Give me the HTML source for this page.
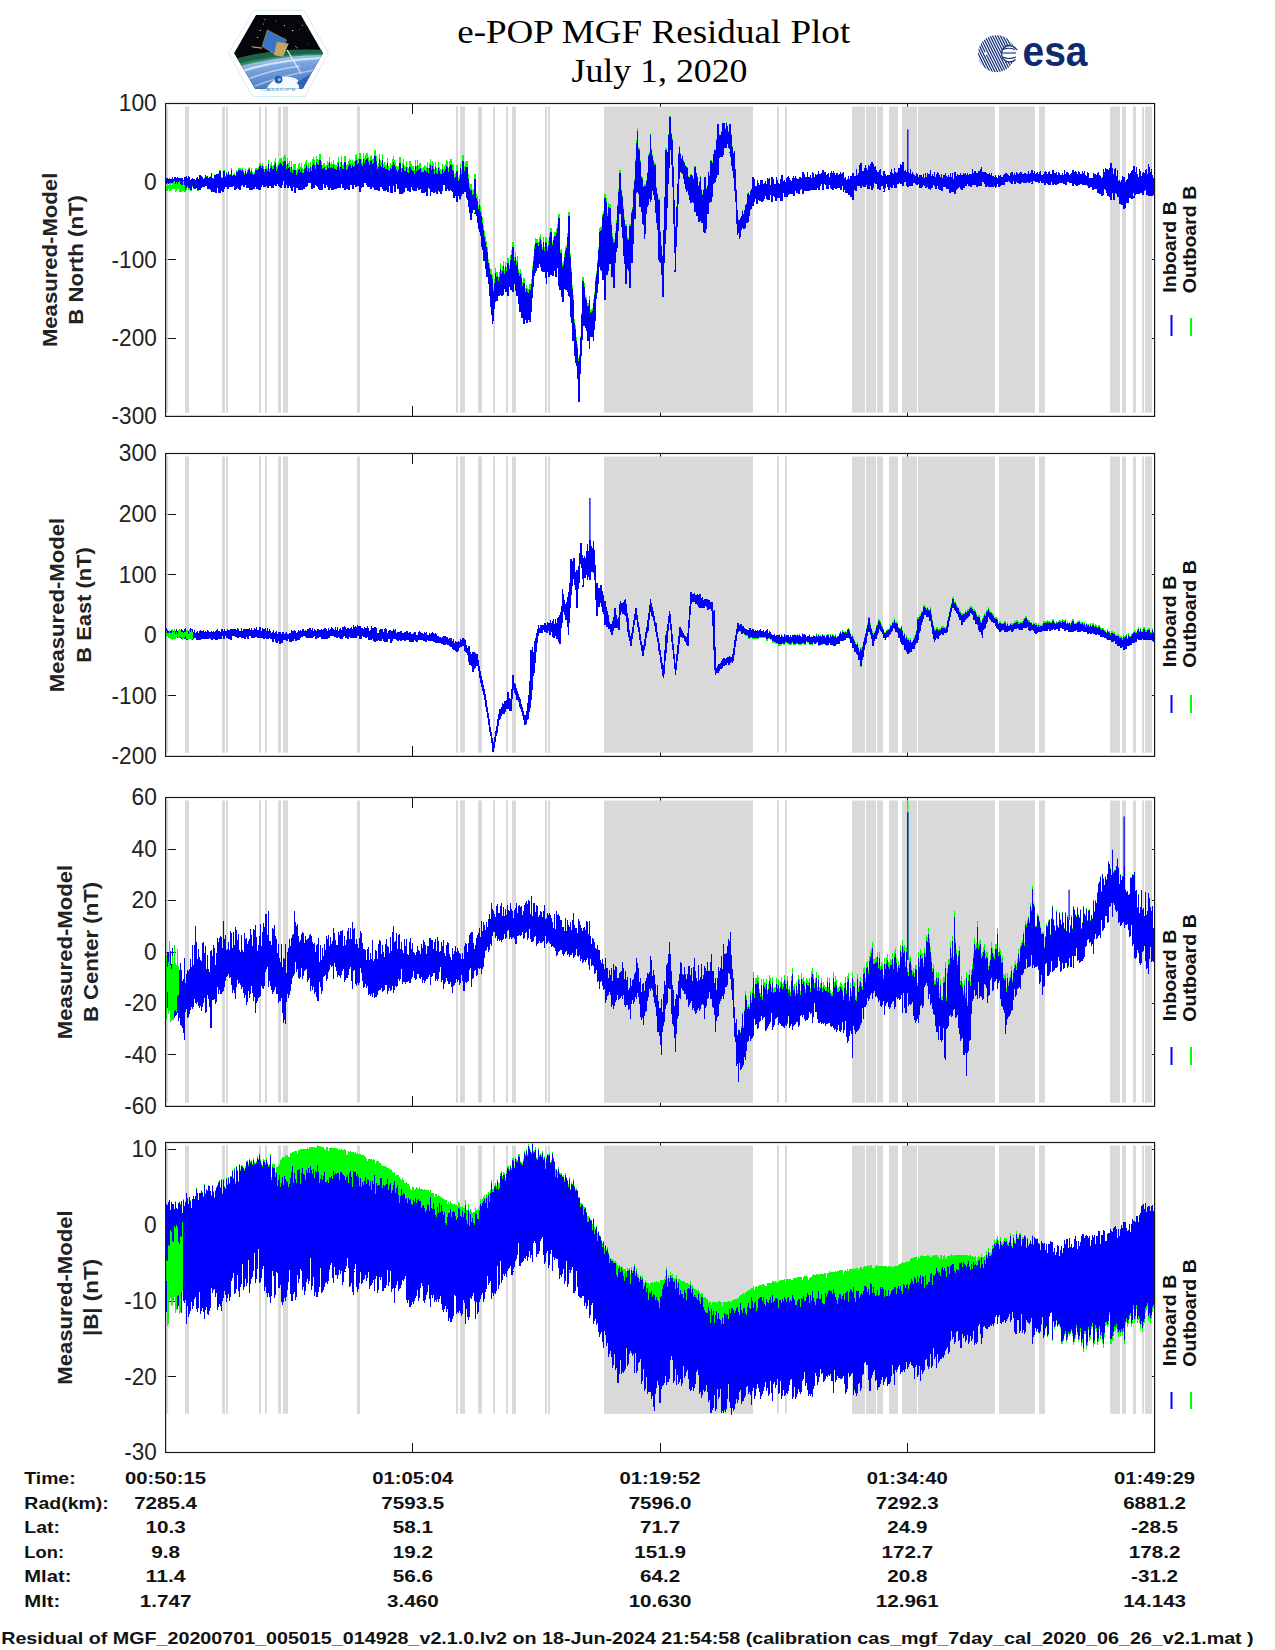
<!DOCTYPE html><html><head><meta charset="utf-8"><style>html,body{margin:0;padding:0;background:#fff;}svg{display:block}</style></head><body>
<svg width="1275" height="1650" viewBox="0 0 1275 1650">
<rect width="1275" height="1650" fill="#fff"/>

<defs>
<clipPath id="hexin"><path d="M256 14.9 L300.9 14.9 L322.9 53.3 L302.7 88.7 L255.2 88.7 L234.1 53.3 Z"/></clipPath>
<clipPath id="esac"><circle cx="996.5" cy="53.7" r="18.5"/></clipPath>
<linearGradient id="earth" x1="0" y1="0" x2="0.3" y2="1">
<stop offset="0" stop-color="#cfe0f6"/><stop offset="0.4" stop-color="#7aa6de"/><stop offset="1" stop-color="#3a6fc0"/></linearGradient>
</defs>
<path d="M253.5 10.35 L304 10.35 L328.5 53.3 L304.8 96.5 L252.6 96.5 L228.5 53.3 Z" fill="#fff" stroke="#a9dbe8" stroke-width="0.9" stroke-dasharray="1.2 0.9"/>
<g clip-path="url(#hexin)">
<rect x="230" y="12" width="96" height="80" fill="#05060c"/>
<circle cx="276.0" cy="20.8" r="0.63" fill="#fff" opacity="0.44"/><circle cx="289.8" cy="27.7" r="0.33" fill="#fff" opacity="0.70"/><circle cx="257.4" cy="29.9" r="0.33" fill="#fff" opacity="0.45"/><circle cx="282.6" cy="42.5" r="0.36" fill="#fff" opacity="0.53"/><circle cx="295.8" cy="46.3" r="0.59" fill="#fff" opacity="0.64"/><circle cx="318.5" cy="17.5" r="0.73" fill="#fff" opacity="0.57"/><circle cx="264.4" cy="19.8" r="0.45" fill="#fff" opacity="0.89"/><circle cx="266.7" cy="34.6" r="0.62" fill="#fff" opacity="0.62"/><circle cx="290.6" cy="18.0" r="0.33" fill="#fff" opacity="0.52"/><circle cx="299.2" cy="29.7" r="0.46" fill="#fff" opacity="0.75"/><circle cx="284.5" cy="25.6" r="0.70" fill="#fff" opacity="0.82"/><circle cx="270.9" cy="34.4" r="0.56" fill="#fff" opacity="0.93"/><circle cx="302.4" cy="25.2" r="0.79" fill="#fff" opacity="0.47"/><circle cx="282.2" cy="40.2" r="0.38" fill="#fff" opacity="0.69"/><circle cx="257.5" cy="37.4" r="0.68" fill="#fff" opacity="0.74"/><circle cx="311.9" cy="26.0" r="0.65" fill="#fff" opacity="0.76"/><circle cx="292.7" cy="30.6" r="0.72" fill="#fff" opacity="0.97"/><circle cx="285.8" cy="37.3" r="0.33" fill="#fff" opacity="0.82"/><circle cx="297.1" cy="47.8" r="0.71" fill="#fff" opacity="0.57"/><circle cx="280.1" cy="37.4" r="0.31" fill="#fff" opacity="0.68"/><circle cx="265.9" cy="19.7" r="0.33" fill="#fff" opacity="0.86"/><circle cx="263.4" cy="23.9" r="0.50" fill="#fff" opacity="0.92"/><circle cx="260.2" cy="30.4" r="0.57" fill="#fff" opacity="0.93"/><circle cx="308.3" cy="43.6" r="0.44" fill="#fff" opacity="0.65"/><circle cx="278.3" cy="44.3" r="0.78" fill="#fff" opacity="0.49"/>
<path d="M230 60 Q275 47 326 50 L326 57 Q275 55 230 70 Z" fill="#1d6e4c" opacity="0.9"/>
<path d="M230 66 Q276 53 326 53.5 L326 56.5 Q276 57 230 71 Z" fill="#3aa070" opacity="0.7"/>
<path d="M230 69 Q276 55 326 55 L326 95 L230 95 Z" fill="url(#earth)"/>
<path d="M240 72 Q275 60 322 58" stroke="#eef5ff" stroke-width="2.2" fill="none" opacity="0.75"/>
<path d="M246 80 Q270 70 300 66" stroke="#e6effa" stroke-width="1.6" fill="none" opacity="0.6"/>
<path d="M255 86 Q280 76 315 70" stroke="#dfe9f8" stroke-width="1.4" fill="none" opacity="0.55"/>
<path d="M266 90 Q270 80 282 77 Q292 76 298 80 L300 95 L262 95 Z" fill="#f7fafd"/>
<path d="M296.6 82.7 L310.4 74 L302.7 89 Z" fill="#2c62b8"/>
<path d="M287.1 49.9 L300.9 73.2" stroke="#e8eef6" stroke-width="1.1"/>
<path d="M267.3 30 L286.7 40 L277.6 55.9 L262.1 46.4 Z" fill="#3a74c6" stroke="#c79a45" stroke-width="0.6"/>
<path d="M276.8 42.1 L288.8 43.5 L283 56.8 L274 55 Z" fill="#c8a466"/>
<path d="M251.7 46.8 L262.1 48.1" stroke="#d49a3a" stroke-width="1.1"/>
<circle cx="278.5" cy="79.6" r="3.9" fill="#1f5db0"/>
<circle cx="279.3" cy="79.6" r="1.6" fill="#8fc0ec"/>
</g>
<text x="278.5" y="90.6" text-anchor="middle" font-family="Liberation Sans" font-size="4.4" fill="#2a9fd6" textLength="35" lengthAdjust="spacingAndGlyphs">CASSIOPE</text>
<g clip-path="url(#esac)" stroke="#14307a" stroke-width="1.25" fill="none"><path d="M958.5 30 L982.5 78" /><path d="M961.1 30 L985.1 78" /><path d="M963.7 30 L987.7 78" /><path d="M966.3 30 L990.3 78" /><path d="M968.9 30 L992.9 78" /><path d="M971.5 30 L995.5 78" /><path d="M974.1 30 L998.1 78" /><path d="M976.7 30 L1000.7 78" /><path d="M979.3 30 L1003.3 78" /><path d="M981.9 30 L1005.9 78" /><path d="M984.5 30 L1008.5 78" /><path d="M987.1 30 L1011.1 78" /><path d="M989.7 30 L1013.7 78" /><path d="M992.3 30 L1016.3 78" /><path d="M994.9 30 L1018.9 78" /><path d="M997.5 30 L1021.5 78" /><path d="M1000.1 30 L1024.1 78" /><path d="M1002.7 30 L1026.7 78" /><path d="M1005.3 30 L1029.3 78" /><path d="M1007.9 30 L1031.9 78" /></g>
<circle cx="1009" cy="54" r="7.8" fill="#fff"/>
<g stroke="#14307a" stroke-width="1.1" fill="none">
<path d="M1003 49.5 Q1009 47 1015 49.5"/><path d="M1002 53 h14"/><path d="M1002.5 57 Q1009 60 1016 57"/>
</g>
<path d="M1017 50 A8.2 8.2 0 1 0 1015.5 59.5" stroke="#14307a" stroke-width="1.3" fill="none"/>
<circle cx="985.5" cy="53.5" r="1.6" fill="#fff"/>
<text x="1022.5" y="65.6" font-family="Liberation Sans" font-weight="bold" font-size="43" textLength="65" lengthAdjust="spacingAndGlyphs" fill="#0f2a6e">esa</text>

<text x="653.7" y="43.1" text-anchor="middle" font-family="Liberation Serif" font-size="33" textLength="393" lengthAdjust="spacingAndGlyphs" fill="#000">e-POP MGF Residual Plot</text>
<text x="659.5" y="82.3" text-anchor="middle" font-family="Liberation Serif" font-size="33" textLength="176" lengthAdjust="spacingAndGlyphs" fill="#000">July 1, 2020</text>
<path d="M165.6 103.5h10M1154.6 103.5h-10M165.6 181.7h10M1154.6 181.7h-10M165.6 259.9h10M1154.6 259.9h-10M165.6 338.2h10M1154.6 338.2h-10M165.6 416.4h10M1154.6 416.4h-10M412.8 416.4v-10M412.8 103.5v10M660.1 416.4v-10M660.1 103.5v10M907.3 416.4v-10M907.3 103.5v10" stroke="#111" stroke-width="1" fill="none" shape-rendering="crispEdges"/>
<g fill="#d9d9d9"><rect x="166.5" y="106.5" width="1.7" height="306.2"/><rect x="185.0" y="106.5" width="4.0" height="306.2"/><rect x="222.0" y="106.5" width="3.0" height="306.2"/><rect x="226.0" y="106.5" width="2.0" height="306.2"/><rect x="259.0" y="106.5" width="2.0" height="306.2"/><rect x="265.0" y="106.5" width="2.0" height="306.2"/><rect x="278.0" y="106.5" width="3.0" height="306.2"/><rect x="283.0" y="106.5" width="5.0" height="306.2"/><rect x="357.0" y="106.5" width="3.0" height="306.2"/><rect x="456.0" y="106.5" width="2.0" height="306.2"/><rect x="460.0" y="106.5" width="5.0" height="306.2"/><rect x="478.0" y="106.5" width="4.0" height="306.2"/><rect x="493.0" y="106.5" width="2.0" height="306.2"/><rect x="506.0" y="106.5" width="2.0" height="306.2"/><rect x="512.0" y="106.5" width="4.0" height="306.2"/><rect x="545.0" y="106.5" width="2.0" height="306.2"/><rect x="548.0" y="106.5" width="2.0" height="306.2"/><rect x="604.0" y="106.5" width="149.0" height="306.2"/><rect x="777.0" y="106.5" width="2.0" height="306.2"/><rect x="785.0" y="106.5" width="2.0" height="306.2"/><rect x="852.0" y="106.5" width="13.0" height="306.2"/><rect x="866.0" y="106.5" width="10.0" height="306.2"/><rect x="877.0" y="106.5" width="6.0" height="306.2"/><rect x="889.0" y="106.5" width="9.0" height="306.2"/><rect x="902.0" y="106.5" width="15.0" height="306.2"/><rect x="918.0" y="106.5" width="77.0" height="306.2"/><rect x="999.0" y="106.5" width="36.0" height="306.2"/><rect x="1039.0" y="106.5" width="6.0" height="306.2"/><rect x="1110.0" y="106.5" width="10.0" height="306.2"/><rect x="1122.0" y="106.5" width="4.0" height="306.2"/><rect x="1133.0" y="106.5" width="3.0" height="306.2"/><rect x="1142.0" y="106.5" width="2.0" height="306.2"/><rect x="1145.0" y="106.5" width="7.0" height="306.2"/></g>
<path d="M166.0 182.4 L166.5 177.9 L167.0 183.8 L167.5 177.8 L168.0 182.3 L168.5 179.4 L169.0 184.3 L169.5 178.7 L170.0 182.5 L170.5 179.0 L171.0 183.5 L171.5 178.9 L172.0 183.4 L172.5 177.3 L173.0 183.6 L173.5 179.2 L174.0 183.9 L174.5 178.7 L175.0 184.6 L175.0 177.0 L175.0 184.2 L175.5 178.0 L176.0 184.8 L176.5 177.8 L177.0 184.6 L177.5 177.2 L178.0 184.2 L178.5 178.2 L179.0 186.8 L179.5 178.5 L180.0 187.4 L180.5 178.1 L181.0 188.2 L181.5 177.9 L182.0 187.4 L182.5 178.4 L183.0 188.6 L183.5 180.2 L184.0 189.2 L184.5 180.8 L185.0 191.6 L185.0 176.5 L185.0 187.4 L185.5 178.0 L186.0 189.8 L186.5 176.0 L187.0 186.6 L187.5 178.3 L188.0 187.1 L188.5 176.3 L189.0 189.6 L189.5 177.7 L190.0 188.8 L190.5 180.1 L191.0 190.9 L191.5 179.8 L192.0 186.5 L192.5 177.7 L193.0 186.4 L193.5 179.0 L194.0 188.5 L194.5 178.8 L195.0 189.0 L195.5 180.3 L196.0 188.2 L196.5 178.0 L197.0 188.0 L197.5 177.3 L198.0 190.6 L198.5 179.1 L199.0 187.0 L199.5 175.4 L200.0 190.0 L200.0 175.0 L200.0 190.1 L200.5 179.6 L201.0 188.4 L201.5 175.6 L202.0 187.0 L202.5 177.4 L203.0 186.1 L203.5 179.3 L204.0 186.8 L204.5 178.4 L205.0 184.9 L205.5 175.1 L206.0 185.8 L206.5 176.4 L207.0 185.8 L207.5 175.7 L208.0 188.6 L208.5 178.0 L209.0 188.5 L209.5 177.0 L210.0 188.7 L210.5 176.4 L211.0 189.5 L211.5 172.6 L212.0 191.6 L212.5 177.9 L213.0 186.3 L213.5 178.5 L214.0 192.3 L214.5 174.5 L215.0 187.6 L215.5 174.7 L216.0 192.5 L216.5 173.8 L217.0 187.3 L217.5 173.7 L218.0 188.0 L218.5 173.0 L219.0 192.6 L219.5 174.2 L220.0 192.8 L220.0 170.4 L220.0 186.1 L220.5 177.0 L221.0 188.5 L221.5 176.8 L222.0 190.8 L222.5 176.9 L223.0 191.5 L223.5 170.0 L224.0 188.8 L224.5 170.0 L225.0 186.2 L225.5 176.2 L226.0 186.7 L226.5 172.0 L227.0 185.7 L227.5 174.2 L228.0 188.4 L228.5 171.2 L229.0 185.9 L229.5 174.0 L230.0 186.4 L230.5 175.5 L231.0 184.2 L231.5 168.4 L232.0 186.7 L232.5 175.3 L233.0 185.8 L233.5 173.9 L234.0 184.7 L234.5 173.2 L235.0 189.4 L235.5 175.0 L236.0 188.6 L236.5 170.4 L237.0 184.9 L237.5 170.6 L238.0 187.7 L238.5 167.8 L239.0 189.2 L239.5 171.1 L240.0 190.0 L240.0 168.0 L240.0 187.6 L240.5 168.0 L241.0 186.0 L241.5 169.2 L242.0 184.8 L242.5 167.9 L243.0 184.7 L243.5 170.2 L244.0 186.2 L244.5 173.4 L245.0 183.5 L245.5 169.0 L246.0 184.7 L246.5 172.6 L247.0 187.5 L247.5 169.8 L248.0 188.2 L248.5 168.4 L249.0 185.8 L249.5 167.2 L250.0 190.3 L250.5 170.6 L251.0 188.3 L251.5 168.5 L252.0 190.3 L252.5 172.0 L253.0 186.7 L253.5 173.2 L254.0 188.9 L254.5 172.1 L255.0 186.4 L255.5 168.1 L256.0 186.6 L256.5 168.1 L257.0 188.8 L257.5 167.7 L258.0 187.7 L258.5 166.9 L259.0 189.8 L259.5 169.3 L260.0 189.7 L260.0 163.3 L260.0 187.8 L260.5 171.2 L261.0 187.0 L261.5 165.1 L262.0 183.1 L262.5 163.4 L263.0 184.1 L263.5 165.7 L264.0 186.3 L264.5 169.1 L265.0 186.1 L265.5 165.6 L266.0 181.7 L266.5 166.0 L267.0 185.1 L267.5 168.2 L268.0 187.7 L268.5 160.1 L269.0 182.6 L269.5 168.8 L270.0 184.8 L270.5 164.1 L271.0 184.3 L271.5 161.7 L272.0 187.3 L272.5 165.8 L273.0 187.5 L273.5 165.4 L274.0 184.1 L274.5 161.2 L275.0 181.9 L275.5 158.3 L276.0 185.1 L276.5 167.3 L277.0 182.7 L277.5 165.3 L278.0 178.1 L278.5 162.0 L279.0 186.0 L279.5 159.2 L280.0 186.5 L280.5 157.9 L281.0 187.3 L281.5 158.5 L282.0 184.7 L282.5 161.2 L283.0 180.0 L283.5 156.7 L284.0 178.6 L284.5 161.4 L285.0 187.7 L285.0 155.0 L285.0 179.2 L285.5 164.7 L286.0 178.9 L286.5 165.2 L287.0 184.3 L287.5 157.7 L288.0 187.6 L288.5 162.8 L289.0 184.9 L289.5 161.4 L290.0 185.2 L290.5 167.1 L291.0 187.5 L291.5 161.3 L292.0 190.5 L292.5 168.9 L293.0 185.9 L293.5 164.4 L294.0 183.8 L294.5 171.4 L295.0 192.8 L295.0 164.0 L295.0 189.9 L295.5 169.4 L296.0 186.1 L296.5 170.2 L297.0 187.3 L297.5 168.0 L298.0 183.3 L298.5 164.3 L299.0 189.7 L299.5 163.0 L300.0 182.8 L300.5 166.8 L301.0 189.7 L301.5 163.2 L302.0 188.9 L302.5 168.5 L303.0 181.8 L303.5 169.1 L304.0 188.6 L304.5 164.0 L305.0 186.1 L305.5 162.3 L306.0 185.4 L306.5 159.6 L307.0 184.9 L307.5 166.5 L308.0 180.2 L308.5 162.9 L309.0 181.4 L309.5 168.3 L310.0 180.8 L310.5 162.0 L311.0 179.6 L311.5 166.9 L312.0 189.0 L312.5 159.5 L313.0 184.6 L313.5 157.2 L314.0 187.2 L314.5 159.7 L315.0 177.8 L315.5 165.1 L316.0 183.4 L316.5 155.8 L317.0 185.1 L317.5 159.2 L318.0 186.8 L318.5 160.5 L319.0 188.8 L319.5 158.5 L320.0 189.7 L320.0 154.0 L320.0 183.9 L320.5 157.6 L321.0 185.4 L321.5 160.6 L322.0 189.4 L322.5 164.6 L323.0 182.6 L323.5 163.4 L324.0 180.9 L324.5 163.0 L325.0 187.2 L325.5 165.9 L326.0 179.5 L326.5 165.5 L327.0 184.0 L327.5 160.9 L328.0 186.7 L328.5 163.4 L329.0 189.9 L329.5 156.7 L330.0 186.9 L330.5 164.1 L331.0 186.1 L331.5 162.3 L332.0 189.7 L332.5 163.8 L333.0 190.1 L333.5 160.2 L334.0 188.8 L334.5 164.2 L335.0 183.6 L335.5 164.9 L336.0 188.5 L336.5 165.4 L337.0 187.6 L337.5 162.2 L338.0 187.5 L338.5 157.2 L339.0 178.6 L339.5 166.0 L340.0 187.4 L340.5 162.3 L341.0 181.7 L341.5 156.3 L342.0 182.8 L342.5 165.2 L343.0 187.3 L343.5 164.4 L344.0 182.6 L344.5 156.7 L345.0 190.0 L345.0 156.0 L345.0 182.2 L345.5 162.0 L346.0 188.1 L346.5 165.2 L347.0 180.7 L347.5 164.5 L348.0 188.7 L348.5 161.5 L349.0 189.6 L349.5 159.1 L350.0 183.4 L350.5 160.2 L351.0 183.9 L351.5 163.1 L352.0 181.9 L352.5 160.0 L353.0 188.9 L353.5 162.8 L354.0 183.6 L354.5 161.0 L355.0 180.2 L355.5 155.2 L356.0 186.6 L356.5 154.0 L357.0 178.7 L357.5 159.0 L358.0 184.5 L358.5 157.7 L359.0 184.9 L359.5 157.9 L360.0 191.8 L360.0 153.0 L360.0 188.4 L360.5 160.6 L361.0 187.6 L361.5 158.6 L362.0 181.5 L362.5 161.9 L363.0 185.9 L363.5 153.4 L364.0 181.3 L364.5 157.9 L365.0 179.8 L365.5 155.0 L366.0 181.4 L366.5 152.9 L367.0 184.3 L367.5 152.8 L368.0 186.1 L368.5 157.0 L369.0 186.3 L369.5 160.0 L370.0 182.1 L370.5 156.0 L371.0 188.6 L371.5 154.6 L372.0 176.6 L372.5 159.2 L373.0 186.2 L373.5 158.3 L374.0 187.7 L374.5 162.2 L375.0 190.0 L375.0 150.0 L375.0 187.1 L375.5 162.3 L376.0 179.3 L376.5 155.8 L377.0 189.9 L377.5 165.0 L378.0 188.6 L378.5 162.9 L379.0 190.6 L379.5 153.9 L380.0 186.3 L380.5 160.0 L381.0 185.8 L381.5 162.3 L382.0 185.8 L382.5 154.2 L383.0 188.3 L383.5 163.9 L384.0 191.0 L384.5 162.4 L385.0 190.9 L385.5 164.7 L386.0 189.3 L386.5 165.1 L387.0 181.2 L387.5 158.2 L388.0 191.4 L388.5 165.9 L389.0 184.2 L389.5 167.6 L390.0 183.5 L390.5 163.0 L391.0 193.1 L391.5 165.0 L392.0 193.0 L392.5 159.4 L393.0 184.8 L393.5 156.4 L394.0 183.9 L394.5 160.2 L395.0 191.9 L395.5 162.4 L396.0 181.8 L396.5 166.1 L397.0 182.0 L397.5 167.4 L398.0 188.3 L398.5 165.9 L399.0 187.0 L399.5 167.7 L400.0 193.8 L400.0 157.0 L400.0 186.1 L400.5 169.8 L401.0 192.0 L401.5 168.0 L402.0 194.0 L402.5 162.6 L403.0 192.9 L403.5 159.2 L404.0 191.9 L404.5 165.9 L405.0 183.4 L405.5 166.9 L406.0 186.5 L406.5 161.5 L407.0 185.8 L407.5 167.0 L408.0 190.8 L408.5 168.1 L409.0 189.1 L409.5 168.8 L410.0 191.8 L410.0 161.3 L410.0 185.5 L410.5 165.1 L411.0 185.2 L411.5 163.8 L412.0 183.7 L412.5 165.9 L413.0 189.4 L413.5 165.8 L414.0 190.6 L414.5 170.3 L415.0 187.5 L415.5 160.4 L416.0 190.4 L416.5 166.5 L417.0 187.3 L417.5 160.3 L418.0 187.0 L418.5 164.7 L419.0 189.5 L419.5 163.3 L420.0 187.3 L420.5 162.7 L421.0 185.8 L421.5 167.7 L422.0 192.0 L422.5 167.6 L423.0 183.6 L423.5 166.9 L424.0 193.1 L424.5 164.8 L425.0 191.7 L425.5 166.3 L426.0 186.6 L426.5 167.4 L427.0 195.6 L427.5 162.4 L428.0 186.0 L428.5 168.2 L429.0 184.5 L429.5 163.2 L430.0 188.1 L430.4 159.3 L430.4 195.8 L430.5 170.2 L431.0 189.4 L431.5 165.1 L432.0 191.6 L432.5 160.7 L433.0 189.1 L433.5 163.5 L434.0 192.0 L434.5 169.3 L435.0 188.4 L435.5 162.0 L436.0 191.4 L436.5 168.4 L437.0 193.4 L437.5 172.4 L438.0 184.8 L438.5 162.2 L439.0 189.9 L439.5 166.9 L440.0 192.1 L440.5 169.4 L441.0 194.2 L441.5 170.4 L442.0 191.0 L442.5 164.3 L443.0 183.3 L443.5 169.0 L444.0 182.9 L444.5 166.1 L445.0 182.7 L445.5 163.7 L446.0 190.5 L446.5 160.5 L447.0 188.1 L447.5 161.3 L448.0 184.9 L448.5 168.2 L449.0 191.0 L449.5 161.5 L450.0 187.0 L450.5 163.1 L450.8 189.7 L450.8 159.3 L451.0 188.9 L451.5 163.6 L452.0 190.1 L452.5 164.4 L453.0 191.6 L453.5 165.3 L454.0 197.7 L454.5 174.0 L455.0 195.8 L455.5 173.0 L456.0 194.4 L456.5 169.7 L456.9 202.0 L456.9 165.4 L457.0 197.4 L457.5 171.7 L458.0 195.3 L458.5 177.0 L459.0 192.5 L459.5 175.3 L460.0 199.6 L460.5 162.8 L461.0 196.1 L461.5 170.3 L462.0 191.6 L462.5 162.7 L463.0 193.8 L463.0 155.2 L463.0 193.8 L463.5 162.7 L464.0 189.9 L464.5 166.1 L465.0 190.6 L465.5 161.9 L466.0 186.3 L466.5 169.4 L467.0 197.9 L467.1 161.3 L467.1 197.9 L467.5 168.5 L468.0 198.8 L468.5 174.4 L469.0 206.6 L469.5 183.3 L470.0 212.9 L470.5 187.5 L471.0 212.3 L471.2 184.0 L471.2 220.3 L471.5 193.4 L472.0 211.2 L472.5 190.2 L473.0 209.0 L473.5 189.6 L474.0 209.1 L474.5 178.5 L475.0 205.3 L475.3 173.6 L475.3 214.2 L475.5 187.2 L476.0 209.7 L476.5 193.9 L477.0 215.0 L477.5 196.3 L478.0 222.1 L478.5 205.6 L479.0 228.3 L479.5 199.1 L480.0 230.7 L480.5 206.3 L481.0 234.1 L481.4 210.4 L481.4 246.8 L481.5 212.7 L482.0 244.5 L482.5 216.9 L483.0 248.4 L483.5 224.7 L484.0 261.0 L484.5 231.2 L485.0 259.6 L485.5 236.2 L486.0 268.1 L486.5 241.1 L486.5 277.4 L486.5 244.5 L487.0 275.9 L487.5 246.8 L488.0 275.2 L488.5 264.6 L489.0 282.4 L489.5 262.8 L490.0 294.7 L490.5 269.0 L491.0 306.1 L491.5 269.4 L492.0 314.1 L492.5 284.8 L492.6 324.3 L492.6 273.7 L493.0 320.5 L493.5 287.4 L494.0 307.9 L494.5 278.6 L495.0 297.5 L495.5 273.2 L495.6 301.9 L495.6 267.7 L496.0 292.6 L496.5 271.9 L497.0 300.9 L497.5 271.6 L498.0 295.5 L498.5 276.8 L499.0 295.0 L499.5 273.8 L500.0 287.7 L500.5 263.4 L501.0 294.0 L501.5 270.0 L502.0 295.8 L502.5 265.8 L503.0 293.8 L503.5 260.9 L504.0 287.3 L504.5 270.3 L505.0 287.8 L505.5 262.2 L506.0 291.6 L506.5 266.6 L507.0 291.3 L507.5 264.4 L507.9 295.8 L507.9 257.7 L508.0 293.7 L508.5 267.9 L509.0 283.8 L509.5 265.2 L510.0 285.6 L510.5 255.1 L511.0 289.8 L511.5 250.0 L512.0 281.0 L512.5 257.5 L513.0 291.7 L513.0 241.5 L513.0 282.4 L513.5 257.6 L514.0 282.1 L514.5 256.7 L515.0 282.7 L515.5 252.0 L516.0 289.8 L516.5 260.1 L517.0 295.3 L517.5 256.5 L518.0 290.4 L518.5 268.7 L519.0 303.3 L519.5 271.7 L520.0 312.2 L520.5 269.4 L521.0 310.2 L521.5 272.9 L522.0 318.3 L522.5 281.9 L523.0 317.1 L523.5 281.0 L524.0 324.2 L524.2 278.3 L524.2 324.3 L524.5 288.3 L525.0 319.7 L525.5 287.8 L526.0 319.7 L526.5 284.6 L527.0 322.5 L527.5 288.0 L528.0 313.4 L528.5 289.1 L529.0 319.1 L529.5 294.2 L530.0 310.2 L530.3 284.5 L530.3 322.3 L530.5 294.0 L531.0 311.2 L531.5 279.4 L532.0 296.3 L532.5 273.3 L533.0 285.4 L533.5 256.5 L534.0 274.6 L534.5 250.1 L535.0 268.6 L535.4 237.7 L535.4 273.3 L535.5 240.1 L536.0 270.3 L536.5 238.6 L537.0 267.6 L537.5 238.6 L538.0 267.7 L538.5 241.7 L539.0 261.6 L539.5 237.3 L540.0 263.1 L540.5 233.8 L540.5 267.2 L540.5 238.4 L541.0 261.8 L541.5 240.5 L542.0 270.6 L542.5 247.0 L543.0 271.8 L543.5 237.5 L544.0 263.3 L544.5 247.3 L545.0 270.7 L545.5 237.3 L546.0 277.6 L546.5 242.1 L546.6 283.5 L546.6 237.9 L547.0 268.8 L547.5 247.2 L548.0 271.0 L548.5 241.0 L549.0 276.7 L549.5 232.6 L550.0 271.9 L550.5 241.7 L550.7 275.4 L550.7 227.7 L551.0 260.7 L551.5 233.2 L552.0 274.3 L552.5 241.8 L553.0 275.6 L553.5 236.6 L554.0 265.1 L554.5 232.0 L555.0 270.4 L555.5 232.2 L556.0 276.9 L556.5 229.0 L557.0 260.4 L557.5 224.4 L558.0 266.9 L558.5 223.5 L558.9 285.6 L558.9 213.7 L559.0 273.9 L559.5 234.7 L560.0 290.2 L560.5 249.9 L561.0 278.6 L561.5 249.2 L562.0 296.8 L562.5 268.9 L562.9 301.9 L562.9 262.6 L563.0 297.7 L563.5 260.7 L564.0 287.9 L564.5 253.1 L565.0 286.7 L565.5 246.9 L566.0 288.9 L566.5 244.8 L567.0 285.4 L567.5 233.4 L568.0 291.8 L568.5 237.5 L569.0 295.8 L569.0 211.7 L569.0 276.6 L569.5 247.8 L570.0 296.4 L570.5 253.7 L571.0 316.6 L571.5 268.2 L572.0 322.8 L572.5 285.0 L573.0 328.1 L573.1 295.4 L573.1 340.6 L573.5 314.3 L574.0 338.0 L574.5 319.5 L575.0 355.6 L575.5 324.7 L576.0 361.9 L576.5 337.5 L577.0 364.7 L577.5 344.1 L578.0 377.8 L578.5 359.8 L579.0 386.2 L579.2 360.8 L579.2 401.8 L579.5 365.4 L580.0 372.7 L580.5 343.0 L581.0 354.3 L581.5 325.1 L582.0 339.1 L582.5 297.7 L583.0 323.2 L583.3 277.2 L583.3 324.3 L583.5 281.9 L584.0 325.3 L584.5 283.0 L585.0 319.2 L585.5 294.7 L586.0 327.7 L586.5 296.7 L587.0 329.6 L587.5 303.4 L588.0 340.4 L588.5 304.8 L589.0 327.9 L589.4 295.6 L589.4 348.8 L589.5 306.5 L590.0 335.9 L590.5 309.7 L591.0 335.4 L591.5 309.1 L592.0 335.8 L592.5 308.0 L593.0 327.4 L593.5 299.8 L593.5 340.6 L593.5 299.4 L594.0 330.0 L594.5 292.2 L595.0 320.7 L595.5 277.3 L596.0 297.5 L596.5 270.6 L597.0 292.6 L597.5 260.1 L598.0 283.2 L598.5 247.0 L599.0 264.5 L599.5 239.1 L599.6 267.2 L599.6 228.5 L600.0 259.4 L600.5 227.5 L601.0 269.2 L601.5 226.5 L602.0 270.5 L602.5 213.8 L603.0 279.9 L603.5 211.1 L604.0 278.1 L604.5 216.5 L604.7 300.0 L604.7 194.1 L605.0 287.4 L605.5 214.4 L606.0 258.9 L606.5 198.2 L607.0 274.3 L607.5 212.6 L608.0 271.0 L608.5 203.5 L609.0 256.2 L609.5 214.7 L609.8 263.0 L609.8 204.5 L610.0 264.1 L610.5 230.7 L611.0 259.2 L611.5 221.9 L612.0 276.7 L612.5 234.2 L613.0 273.3 L613.5 241.2 L613.9 287.6 L613.9 239.4 L614.0 286.0 L614.5 239.3 L615.0 261.7 L615.5 234.5 L616.0 251.1 L616.5 220.1 L617.0 248.3 L617.5 214.8 L618.0 230.4 L618.5 189.3 L619.0 211.5 L619.5 177.1 L620.0 214.2 L620.0 170.4 L620.0 204.7 L620.5 174.9 L621.0 213.4 L621.5 188.9 L622.0 226.6 L622.5 194.7 L623.0 236.9 L623.5 206.4 L624.0 255.4 L624.5 217.3 L625.0 263.8 L625.5 226.7 L626.0 274.0 L626.2 223.7 L626.2 283.5 L626.5 223.9 L627.0 265.9 L627.5 237.0 L628.0 267.8 L628.5 238.1 L629.0 270.5 L629.5 240.7 L630.0 281.5 L630.2 223.9 L630.2 287.6 L630.5 240.2 L631.0 260.6 L631.5 210.9 L632.0 262.7 L632.5 210.2 L633.0 243.2 L633.5 188.4 L634.0 215.1 L634.5 179.0 L635.0 219.0 L635.5 158.6 L636.0 192.4 L636.5 145.5 L637.0 190.0 L637.4 128.5 L637.4 191.8 L637.5 131.8 L638.0 175.1 L638.5 147.1 L639.0 194.1 L639.5 148.1 L640.0 207.3 L640.5 160.5 L641.0 197.9 L641.5 177.5 L642.0 211.6 L642.5 177.4 L643.0 223.9 L643.5 185.7 L644.0 224.8 L644.5 183.7 L644.5 238.7 L644.5 192.1 L645.0 234.3 L645.5 184.5 L646.0 213.3 L646.5 179.9 L647.0 206.2 L647.5 177.9 L648.0 204.7 L648.5 154.5 L649.0 198.8 L649.5 152.2 L650.0 191.0 L650.5 149.0 L650.6 202.0 L650.6 132.9 L651.0 200.4 L651.5 148.4 L652.0 190.8 L652.5 154.1 L653.0 188.3 L653.5 159.8 L654.0 194.8 L654.5 165.1 L654.7 200.0 L654.7 163.2 L655.0 196.0 L655.5 177.2 L656.0 212.7 L656.5 186.9 L657.0 222.6 L657.5 192.6 L658.0 229.5 L658.5 199.9 L659.0 260.0 L659.0 198.3 L659.0 243.4 L659.5 209.5 L660.0 262.2 L660.5 233.3 L661.0 262.4 L661.5 249.4 L662.0 274.8 L662.5 254.8 L663.0 297.0 L663.0 258.4 L663.0 294.4 L663.5 248.5 L664.0 262.9 L664.5 211.0 L665.0 243.6 L665.5 170.7 L666.0 230.0 L666.0 148.4 L666.0 225.5 L666.5 161.0 L667.0 208.3 L667.5 153.2 L668.0 183.7 L668.5 134.2 L669.0 167.4 L669.5 134.5 L670.0 150.0 L670.2 115.8 L670.2 149.0 L670.5 128.3 L671.0 147.8 L671.5 133.2 L672.0 164.3 L672.2 138.5 L672.2 165.0 L672.5 150.6 L673.0 186.6 L673.5 181.8 L674.0 224.2 L674.5 211.7 L675.0 252.3 L675.3 228.6 L675.3 272.3 L675.5 237.3 L676.0 247.1 L676.5 214.5 L677.0 227.0 L677.5 194.0 L678.0 203.9 L678.5 170.7 L679.0 178.6 L679.4 145.6 L679.4 171.4 L679.5 154.1 L680.0 171.3 L680.5 152.9 L681.0 172.2 L681.5 157.8 L682.0 172.4 L682.5 155.1 L683.0 173.6 L683.5 159.6 L684.0 179.1 L684.5 162.4 L685.0 183.5 L685.5 164.6 L686.0 188.9 L686.5 166.1 L686.5 191.8 L686.5 166.9 L687.0 187.5 L687.5 167.1 L688.0 191.0 L688.5 175.8 L689.0 195.3 L689.5 176.6 L690.0 199.6 L690.5 174.2 L691.0 203.3 L691.5 173.7 L692.0 201.5 L692.5 174.8 L693.0 195.7 L693.5 177.9 L694.0 202.7 L694.5 170.0 L694.7 212.2 L694.7 166.2 L695.0 208.6 L695.5 181.8 L696.0 208.7 L696.5 172.6 L697.0 215.5 L697.5 175.9 L698.0 214.1 L698.5 185.4 L699.0 221.5 L699.5 181.2 L700.0 212.8 L700.5 175.9 L701.0 221.1 L701.5 189.0 L702.0 222.8 L702.5 194.4 L703.0 216.4 L703.5 189.2 L704.0 232.0 L704.5 196.1 L704.9 232.5 L704.9 176.6 L705.0 221.3 L705.5 189.8 L706.0 228.7 L706.5 188.4 L707.0 212.5 L707.5 185.0 L708.0 213.8 L708.5 170.9 L709.0 203.1 L709.5 175.0 L710.0 197.7 L710.5 165.7 L711.0 202.0 L711.0 160.4 L711.0 196.9 L711.5 166.4 L712.0 197.2 L712.5 162.3 L713.0 183.5 L713.5 153.8 L714.0 182.5 L714.5 149.9 L715.0 181.8 L715.5 149.3 L716.0 178.4 L716.5 139.3 L717.0 167.7 L717.5 129.7 L718.0 161.0 L718.1 123.8 L718.1 175.4 L718.5 127.1 L719.0 158.2 L719.5 134.5 L720.0 156.0 L720.5 134.6 L721.0 157.1 L721.5 131.2 L722.0 156.6 L722.5 127.3 L723.0 143.5 L723.2 122.9 L723.2 155.0 L723.5 130.6 L724.0 147.3 L724.5 122.7 L725.0 144.2 L725.5 128.2 L726.0 148.2 L726.5 122.4 L727.0 143.7 L727.5 125.9 L728.0 143.5 L728.5 131.5 L729.0 148.0 L729.5 129.9 L730.0 148.7 L730.3 124.0 L730.3 153.0 L730.5 135.7 L731.0 157.0 L731.5 134.5 L732.0 165.5 L732.5 146.4 L733.0 170.9 L733.5 152.7 L734.0 178.3 L734.4 150.6 L734.4 181.6 L734.5 154.0 L735.0 190.8 L735.5 180.5 L736.0 202.3 L736.5 200.1 L737.0 223.6 L737.5 213.8 L737.5 234.6 L737.5 217.0 L738.0 230.7 L738.5 219.5 L739.0 232.4 L739.5 219.7 L739.5 238.7 L739.5 219.6 L740.0 236.5 L740.5 218.0 L741.0 229.5 L741.5 215.6 L742.0 227.9 L742.5 210.3 L743.0 224.3 L743.5 214.0 L744.0 228.7 L744.5 209.6 L745.0 227.5 L745.5 205.1 L746.0 219.0 L746.5 203.5 L747.0 223.0 L747.5 201.4 L747.7 222.3 L747.7 193.6 L748.0 214.9 L748.5 192.4 L749.0 216.0 L749.5 194.8 L750.0 210.4 L750.5 190.9 L751.0 208.6 L751.5 190.8 L752.0 203.3 L752.5 181.1 L752.8 206.0 L752.8 177.4 L753.0 206.0 L753.5 181.9 L754.0 201.8 L754.5 178.9 L755.0 197.0 L755.5 186.3 L756.0 199.3 L756.5 185.7 L757.0 203.5 L757.5 180.0 L758.0 199.8 L758.5 183.1 L759.0 196.9 L759.5 185.2 L760.0 200.9 L760.5 179.7 L761.0 198.9 L761.5 185.8 L762.0 202.0 L762.0 179.5 L762.0 199.0 L762.5 179.7 L763.0 201.3 L763.5 183.8 L764.0 198.8 L764.5 182.8 L765.0 195.9 L765.5 180.7 L766.0 195.7 L766.5 184.0 L767.0 198.5 L767.5 178.1 L768.0 200.0 L768.5 179.2 L769.0 200.0 L769.5 178.5 L770.0 194.6 L770.5 184.6 L771.0 194.4 L771.5 182.5 L772.0 200.2 L772.2 177.5 L772.2 202.0 L772.5 178.6 L773.0 195.2 L773.5 179.1 L774.0 196.0 L774.5 183.9 L775.0 197.1 L775.5 183.6 L776.0 200.9 L776.5 177.0 L777.0 194.5 L777.5 180.5 L778.0 198.3 L778.5 183.1 L779.0 196.6 L779.5 184.3 L780.0 198.0 L780.5 179.4 L781.0 200.6 L781.5 179.0 L782.0 201.1 L782.3 175.4 L782.3 200.0 L782.5 184.7 L783.0 193.2 L783.5 181.3 L784.0 193.1 L784.5 179.6 L785.0 196.9 L785.5 181.7 L786.0 197.1 L786.5 177.9 L787.0 196.5 L787.5 177.1 L788.0 195.3 L788.5 175.8 L789.0 191.7 L789.5 178.1 L790.0 194.1 L790.5 180.1 L791.0 194.3 L791.5 181.0 L792.0 193.5 L792.5 178.4 L793.0 189.4 L793.5 175.8 L794.0 195.6 L794.5 177.9 L795.0 191.3 L795.5 176.0 L796.0 190.2 L796.5 177.7 L797.0 192.5 L797.5 179.4 L798.0 193.3 L798.5 179.2 L799.0 194.4 L799.5 177.4 L800.0 189.6 L800.5 177.2 L801.0 188.7 L801.5 178.0 L802.0 188.6 L802.5 176.4 L802.7 193.8 L802.7 172.4 L803.0 190.4 L803.5 176.1 L804.0 190.5 L804.5 173.7 L805.0 187.0 L805.5 177.2 L806.0 190.9 L806.5 177.3 L807.0 191.2 L807.5 171.6 L808.0 186.2 L808.5 177.2 L809.0 191.2 L809.5 176.7 L810.0 190.1 L810.5 174.8 L811.0 187.5 L811.5 177.9 L812.0 189.7 L812.5 172.2 L813.0 187.7 L813.5 172.9 L814.0 190.1 L814.5 177.2 L815.0 186.4 L815.5 174.1 L816.0 190.0 L816.5 174.8 L817.0 185.2 L817.5 173.9 L818.0 188.0 L818.5 170.9 L819.0 189.8 L819.5 174.0 L820.0 186.1 L820.5 174.4 L821.0 183.7 L821.5 172.7 L822.0 183.5 L822.5 170.0 L823.0 187.8 L823.1 170.4 L823.1 189.7 L823.5 172.5 L824.0 183.2 L824.5 172.0 L825.0 184.1 L825.5 172.3 L826.0 185.4 L826.5 174.9 L827.0 189.4 L827.5 174.5 L828.0 188.5 L828.5 173.3 L829.0 185.1 L829.5 177.0 L830.0 185.2 L830.5 173.5 L831.0 188.0 L831.5 171.5 L832.0 189.0 L832.5 172.9 L833.0 189.5 L833.5 171.1 L834.0 188.2 L834.5 172.7 L835.0 188.3 L835.5 174.7 L836.0 188.8 L836.5 172.7 L837.0 186.0 L837.5 172.9 L838.0 187.5 L838.5 175.0 L839.0 186.4 L839.5 173.8 L840.0 188.3 L840.5 172.5 L841.0 189.9 L841.5 174.1 L842.0 185.2 L842.5 172.8 L843.0 186.4 L843.5 172.4 L843.5 191.8 L843.5 175.3 L844.0 187.2 L844.5 178.4 L845.0 189.7 L845.5 177.3 L846.0 193.0 L846.5 180.3 L847.0 190.2 L847.5 178.9 L848.0 193.3 L848.5 175.9 L849.0 195.1 L849.5 178.9 L850.0 194.5 L850.5 175.9 L851.0 196.7 L851.5 176.4 L852.0 195.3 L852.5 176.4 L852.7 200.0 L852.7 173.4 L853.0 193.5 L853.5 178.5 L854.0 190.4 L854.5 176.2 L855.0 189.4 L855.5 176.2 L856.0 190.9 L856.5 169.3 L857.0 186.2 L857.5 174.6 L858.0 186.1 L858.5 173.8 L859.0 185.8 L859.5 165.4 L860.0 181.4 L860.5 164.6 L860.9 187.7 L860.9 163.2 L861.0 180.2 L861.5 165.8 L862.0 186.3 L862.5 171.1 L863.0 184.4 L863.5 171.3 L864.0 187.3 L864.5 168.0 L865.0 187.1 L865.5 164.8 L866.0 185.1 L866.5 168.0 L867.0 184.8 L867.5 169.7 L868.0 188.7 L868.5 165.3 L869.0 189.3 L869.5 166.2 L870.0 183.9 L870.5 163.9 L871.0 186.3 L871.5 164.8 L872.0 182.0 L872.1 162.2 L872.1 189.7 L872.5 171.5 L873.0 187.6 L873.5 164.5 L874.0 181.1 L874.5 167.4 L875.0 182.5 L875.5 166.4 L876.0 184.4 L876.5 170.0 L877.0 181.2 L877.5 172.4 L878.0 188.6 L878.5 171.7 L879.0 185.5 L879.5 170.2 L880.0 190.3 L880.5 169.2 L881.0 185.1 L881.5 175.4 L882.0 186.3 L882.5 176.1 L883.0 186.1 L883.5 175.2 L884.0 188.5 L884.3 171.4 L884.3 191.8 L884.5 173.7 L885.0 188.0 L885.5 173.6 L886.0 183.9 L886.5 175.6 L887.0 184.4 L887.5 174.7 L888.0 186.8 L888.5 175.1 L889.0 189.8 L889.5 174.6 L890.0 186.9 L890.5 171.7 L891.0 183.9 L891.5 168.8 L892.0 187.7 L892.5 173.3 L893.0 185.4 L893.5 174.5 L894.0 183.9 L894.5 167.9 L895.0 188.3 L895.5 172.5 L896.0 188.0 L896.5 172.8 L897.0 184.4 L897.5 172.0 L898.0 183.8 L898.5 167.8 L899.0 181.8 L899.5 167.6 L900.0 183.0 L900.5 163.9 L901.0 184.4 L901.5 164.7 L902.0 182.8 L902.5 162.6 L902.7 185.6 L902.7 162.2 L903.0 180.8 L903.5 163.8 L904.0 181.6 L904.5 171.2 L905.0 182.0 L905.5 170.1 L906.0 180.9 L906.5 172.4 L907.0 185.9 L907.5 168.6 L908.0 186.5 L908.5 172.2 L909.0 185.4 L909.5 173.0 L910.0 185.6 L910.5 168.8 L911.0 184.6 L911.5 173.6 L912.0 185.9 L912.5 172.1 L913.0 183.3 L913.5 174.1 L914.0 183.1 L914.5 175.4 L915.0 181.9 L915.5 175.6 L916.0 184.1 L916.5 172.8 L917.0 184.8 L917.5 174.5 L918.0 182.9 L918.5 177.3 L919.0 183.8 L919.5 178.8 L920.0 187.7 L920.0 175.4 L920.0 185.1 L920.5 178.0 L921.0 187.6 L921.5 175.0 L922.0 186.6 L922.5 176.9 L923.0 185.4 L923.5 173.8 L924.0 185.0 L924.5 178.1 L925.0 186.0 L925.5 172.8 L926.0 188.1 L926.5 176.6 L927.0 186.8 L927.5 173.4 L928.0 187.1 L928.5 174.0 L929.0 189.3 L929.5 175.8 L930.0 188.0 L930.4 170.4 L930.4 189.7 L930.5 176.5 L931.0 185.8 L931.5 176.5 L932.0 187.8 L932.5 174.1 L933.0 184.0 L933.5 175.9 L934.0 184.7 L934.5 171.6 L935.0 186.3 L935.5 177.1 L936.0 188.9 L936.5 174.3 L937.0 184.7 L937.5 172.4 L938.0 186.3 L938.5 173.2 L939.0 189.0 L939.5 175.0 L940.0 190.4 L940.5 177.5 L941.0 188.3 L941.5 174.3 L942.0 190.5 L942.5 177.7 L943.0 185.0 L943.5 174.8 L944.0 187.4 L944.5 175.3 L945.0 187.3 L945.5 172.7 L946.0 186.0 L946.5 175.6 L947.0 189.2 L947.5 176.9 L948.0 188.2 L948.5 175.3 L949.0 188.7 L949.5 177.5 L950.0 192.6 L950.5 173.2 L951.0 192.4 L951.5 177.0 L952.0 192.1 L952.5 173.4 L953.0 192.3 L953.5 179.2 L954.0 188.2 L954.5 179.7 L954.9 193.8 L954.9 172.4 L955.0 187.8 L955.5 175.1 L956.0 190.2 L956.5 176.4 L957.0 188.5 L957.5 173.8 L958.0 188.0 L958.5 175.1 L959.0 186.3 L959.5 175.3 L960.0 187.4 L960.5 173.0 L961.0 188.6 L961.5 175.5 L962.0 190.0 L962.5 175.0 L963.0 184.6 L963.5 173.4 L964.0 187.5 L964.5 174.5 L965.0 186.2 L965.5 173.2 L966.0 185.5 L966.5 174.7 L967.0 183.4 L967.5 172.7 L968.0 184.1 L968.5 175.4 L969.0 185.8 L969.5 173.7 L970.0 185.1 L970.5 174.4 L971.0 186.5 L971.5 174.1 L972.0 184.3 L972.5 168.7 L973.0 184.5 L973.5 172.7 L974.0 184.8 L974.5 171.2 L975.0 184.8 L975.5 171.1 L976.0 184.4 L976.5 173.4 L977.0 186.6 L977.5 173.5 L978.0 185.5 L978.5 170.7 L979.0 182.4 L979.5 171.3 L980.0 185.7 L980.5 169.0 L981.0 184.3 L981.4 167.3 L981.4 185.6 L981.5 172.1 L982.0 180.6 L982.5 171.6 L983.0 182.2 L983.5 172.3 L984.0 181.3 L984.5 172.5 L985.0 183.7 L985.5 172.2 L986.0 186.7 L986.5 173.1 L987.0 186.3 L987.5 173.6 L988.0 183.4 L988.5 174.2 L989.0 186.7 L989.5 173.1 L990.0 182.7 L990.5 175.3 L991.0 186.7 L991.5 172.9 L992.0 185.5 L992.5 175.6 L993.0 186.5 L993.5 175.7 L994.0 185.1 L994.5 176.8 L995.0 185.8 L995.5 178.5 L995.6 187.7 L995.6 175.4 L996.0 186.7 L996.5 176.9 L997.0 184.0 L997.5 177.6 L998.0 183.7 L998.5 175.4 L999.0 186.5 L999.5 176.0 L1000.0 185.9 L1000.5 174.9 L1001.0 183.3 L1001.5 177.5 L1002.0 185.3 L1002.5 177.3 L1003.0 183.8 L1003.5 174.6 L1004.0 184.8 L1004.5 174.3 L1005.0 181.6 L1005.5 173.1 L1006.0 181.8 L1006.5 173.1 L1007.0 181.5 L1007.5 173.8 L1008.0 180.6 L1008.5 175.3 L1009.0 180.7 L1009.5 176.1 L1010.0 182.0 L1010.5 173.5 L1011.0 182.9 L1011.5 174.1 L1012.0 183.6 L1012.0 172.4 L1012.0 183.1 L1012.5 176.0 L1013.0 180.7 L1013.5 174.8 L1014.0 180.3 L1014.5 173.0 L1015.0 183.6 L1015.5 175.5 L1016.0 182.3 L1016.5 172.0 L1017.0 180.6 L1017.5 172.9 L1018.0 183.3 L1018.5 173.9 L1019.0 182.1 L1019.5 172.9 L1020.0 184.3 L1020.5 172.1 L1021.0 183.4 L1021.5 172.1 L1022.0 181.9 L1022.5 174.0 L1023.0 180.9 L1023.5 173.9 L1024.0 182.5 L1024.5 172.9 L1025.0 182.8 L1025.5 173.2 L1026.0 182.9 L1026.5 174.4 L1027.0 179.7 L1027.5 173.8 L1028.0 181.9 L1028.5 170.8 L1029.0 182.9 L1029.5 173.9 L1030.0 181.1 L1030.5 172.8 L1031.0 182.1 L1031.5 171.3 L1032.0 182.1 L1032.3 170.0 L1032.3 183.6 L1032.5 174.4 L1033.0 180.6 L1033.5 173.3 L1034.0 181.1 L1034.5 171.3 L1035.0 180.1 L1035.5 174.2 L1036.0 182.0 L1036.5 172.7 L1037.0 181.5 L1037.5 172.2 L1038.0 181.2 L1038.5 173.9 L1039.0 183.3 L1039.5 171.9 L1040.0 180.8 L1040.5 170.9 L1041.0 180.4 L1041.5 175.3 L1042.0 183.0 L1042.5 175.0 L1043.0 182.8 L1043.5 174.1 L1044.0 180.4 L1044.5 172.5 L1045.0 185.0 L1045.5 171.4 L1046.0 180.9 L1046.5 172.2 L1047.0 183.0 L1047.5 174.4 L1048.0 183.8 L1048.5 171.9 L1049.0 184.5 L1049.5 171.5 L1050.0 184.6 L1050.5 173.6 L1051.0 181.7 L1051.5 173.9 L1052.0 181.2 L1052.5 173.6 L1052.7 184.6 L1052.7 170.4 L1053.0 184.8 L1053.5 173.9 L1054.0 183.6 L1054.5 173.2 L1055.0 183.2 L1055.5 173.1 L1056.0 185.1 L1056.5 172.0 L1057.0 184.4 L1057.5 174.8 L1058.0 183.6 L1058.5 172.4 L1059.0 183.2 L1059.5 172.9 L1060.0 183.2 L1060.5 175.0 L1061.0 183.3 L1061.5 174.9 L1062.0 181.4 L1062.5 172.8 L1063.0 182.9 L1063.5 175.3 L1064.0 183.7 L1064.5 170.5 L1065.0 182.9 L1065.5 173.9 L1066.0 184.9 L1066.5 172.4 L1067.0 181.5 L1067.5 172.4 L1068.0 181.9 L1068.5 172.8 L1069.0 181.9 L1069.5 175.1 L1070.0 182.8 L1070.5 174.2 L1071.0 183.1 L1071.5 172.6 L1072.0 181.0 L1072.5 170.7 L1073.0 184.9 L1073.1 170.4 L1073.1 185.6 L1073.5 171.6 L1074.0 183.5 L1074.5 172.5 L1075.0 184.4 L1075.5 171.2 L1076.0 184.9 L1076.5 171.9 L1077.0 185.7 L1077.5 174.1 L1078.0 181.7 L1078.5 170.8 L1079.0 185.2 L1079.5 171.8 L1080.0 183.8 L1080.5 174.3 L1081.0 184.3 L1081.5 174.5 L1082.0 182.7 L1082.5 171.3 L1083.0 185.3 L1083.5 173.4 L1084.0 185.1 L1084.5 171.4 L1085.0 182.7 L1085.5 175.2 L1086.0 185.0 L1086.5 176.4 L1087.0 184.3 L1087.5 172.2 L1088.0 186.4 L1088.5 172.8 L1089.0 187.8 L1089.5 178.1 L1090.0 186.8 L1090.5 178.0 L1091.0 187.4 L1091.5 177.8 L1092.0 185.3 L1092.5 178.0 L1093.0 189.5 L1093.5 173.4 L1093.5 189.7 L1093.5 174.8 L1094.0 188.5 L1094.5 173.6 L1095.0 189.0 L1095.5 173.7 L1096.0 187.1 L1096.5 175.1 L1097.0 188.5 L1097.5 173.3 L1098.0 192.9 L1098.5 172.2 L1099.0 190.1 L1099.5 174.9 L1100.0 194.4 L1100.5 176.2 L1101.0 191.5 L1101.5 178.4 L1102.0 195.5 L1102.5 177.0 L1103.0 194.7 L1103.5 168.9 L1104.0 189.2 L1104.5 171.9 L1105.0 188.5 L1105.5 167.9 L1106.0 190.4 L1106.5 169.1 L1107.0 193.2 L1107.5 168.8 L1108.0 196.0 L1108.5 169.9 L1109.0 188.3 L1109.5 167.6 L1110.0 197.3 L1110.5 167.3 L1110.9 200.0 L1110.9 163.2 L1111.0 190.1 L1111.5 170.4 L1112.0 188.6 L1112.5 167.7 L1113.0 193.0 L1113.5 173.8 L1114.0 199.9 L1114.5 169.1 L1115.0 192.8 L1115.5 168.3 L1116.0 193.2 L1116.5 176.4 L1117.0 194.0 L1117.5 170.4 L1118.0 197.2 L1118.5 181.3 L1119.0 195.6 L1119.5 179.9 L1120.0 203.9 L1120.5 182.1 L1121.0 195.6 L1121.5 180.1 L1122.0 205.2 L1122.5 176.0 L1123.0 201.0 L1123.5 182.9 L1124.0 206.7 L1124.1 177.5 L1124.1 209.0 L1124.5 180.0 L1125.0 208.0 L1125.5 181.9 L1126.0 202.4 L1126.5 180.3 L1127.0 202.7 L1127.5 179.3 L1128.0 203.2 L1128.5 173.2 L1129.0 195.1 L1129.5 173.7 L1130.0 197.8 L1130.5 173.0 L1131.0 192.7 L1131.5 171.2 L1132.0 199.4 L1132.5 169.6 L1133.0 193.2 L1133.5 174.8 L1134.0 189.1 L1134.3 166.3 L1134.3 197.9 L1134.5 171.1 L1135.0 195.2 L1135.5 172.3 L1136.0 191.8 L1136.5 167.3 L1137.0 194.4 L1137.5 174.4 L1138.0 189.6 L1138.5 177.0 L1139.0 193.5 L1139.5 168.9 L1140.0 190.3 L1140.5 170.9 L1141.0 193.1 L1141.5 176.4 L1142.0 189.8 L1142.5 172.9 L1143.0 194.5 L1143.5 172.5 L1144.0 190.8 L1144.5 173.0 L1145.0 186.4 L1145.5 170.0 L1146.0 190.0 L1146.5 169.5 L1147.0 195.0 L1147.5 173.8 L1148.0 192.7 L1148.5 166.1 L1148.6 195.8 L1148.6 164.2 L1149.0 193.5 L1149.5 167.4 L1150.0 195.7 L1150.5 172.2 L1151.0 193.9 L1151.5 169.3 L1152.0 196.2 L1152.5 174.7 L1153.0 190.7 L1153.5 177.6 L1154.0 194.7" stroke="#00ff00" stroke-width="1.6" fill="none" shape-rendering="crispEdges"/>
<path d="M166.0 182.3 L166.5 177.9 L167.0 183.6 L167.5 177.7 L168.0 182.0 L168.5 179.3 L169.0 183.9 L169.5 178.6 L170.0 182.1 L170.5 178.8 L171.0 183.0 L171.5 178.7 L172.0 182.8 L172.5 177.3 L173.0 182.9 L173.5 179.0 L174.0 183.0 L174.5 178.4 L175.0 183.5 L175.0 177.0 L175.0 183.2 L175.5 177.8 L176.0 183.7 L176.5 177.6 L177.0 183.6 L177.5 177.1 L178.0 183.2 L178.5 177.9 L179.0 185.5 L179.5 178.3 L180.0 186.1 L180.5 177.8 L181.0 186.8 L181.5 177.7 L182.0 186.1 L182.5 178.1 L183.0 187.1 L183.5 179.7 L184.0 187.7 L184.5 180.2 L185.0 189.7 L185.0 176.5 L185.0 186.0 L185.5 177.8 L186.0 188.3 L186.5 176.0 L187.0 185.5 L187.5 178.1 L188.0 186.0 L188.5 176.3 L189.0 188.4 L189.5 177.5 L190.0 187.7 L190.5 179.8 L191.0 189.8 L191.5 179.5 L192.0 185.8 L192.5 177.6 L193.0 185.8 L193.5 178.8 L194.0 187.8 L194.5 178.6 L195.0 188.5 L195.5 180.1 L196.0 187.8 L196.5 177.9 L197.0 187.7 L197.5 177.2 L198.0 190.3 L198.5 179.1 L199.0 186.9 L199.5 175.4 L200.0 190.0 L200.0 175.0 L200.0 190.1 L200.5 179.6 L201.0 188.4 L201.5 175.7 L202.0 187.1 L202.5 177.5 L203.0 186.1 L203.5 179.4 L204.0 186.9 L204.5 178.5 L205.0 184.9 L205.5 175.4 L206.0 185.9 L206.5 176.6 L207.0 185.9 L207.5 176.0 L208.0 188.6 L208.5 178.3 L209.0 188.6 L209.5 177.4 L210.0 188.7 L210.5 176.8 L211.0 189.6 L211.5 173.1 L212.0 191.6 L212.5 178.3 L213.0 186.5 L213.5 178.9 L214.0 192.3 L214.5 175.1 L215.0 187.8 L215.5 175.3 L216.0 192.5 L216.5 174.5 L217.0 187.5 L217.5 174.4 L218.0 188.2 L218.5 173.8 L219.0 192.6 L219.5 175.0 L220.0 192.8 L220.0 171.4 L220.0 186.4 L220.5 177.7 L221.0 188.7 L221.5 177.6 L222.0 190.9 L222.5 177.7 L223.0 191.6 L223.5 171.2 L224.0 189.0 L224.5 171.2 L225.0 186.6 L225.5 177.1 L226.0 187.0 L226.5 173.1 L227.0 186.1 L227.5 175.3 L228.0 188.6 L228.5 172.5 L229.0 186.2 L229.5 175.2 L230.0 186.8 L230.5 176.6 L231.0 184.7 L231.5 170.0 L232.0 187.0 L232.5 176.4 L233.0 186.2 L233.5 175.2 L234.0 185.2 L234.5 174.6 L235.0 189.6 L235.5 176.3 L236.0 188.8 L236.5 172.0 L237.0 185.4 L237.5 172.2 L238.0 188.0 L238.5 169.7 L239.0 189.3 L239.5 172.8 L240.0 190.0 L240.0 170.0 L240.0 187.8 L240.5 169.9 L241.0 186.4 L241.5 171.1 L242.0 185.3 L242.5 169.9 L243.0 185.2 L243.5 172.1 L244.0 186.6 L244.5 175.0 L245.0 184.1 L245.5 171.0 L246.0 185.2 L246.5 174.3 L247.0 187.7 L247.5 171.8 L248.0 188.4 L248.5 170.5 L249.0 186.3 L249.5 169.5 L250.0 190.3 L250.5 172.6 L251.0 188.5 L251.5 170.7 L252.0 190.3 L252.5 173.9 L253.0 187.0 L253.5 175.0 L254.0 189.0 L254.5 174.0 L255.0 186.8 L255.5 170.5 L256.0 187.0 L256.5 170.5 L257.0 188.9 L257.5 170.1 L258.0 187.9 L258.5 169.5 L259.0 189.8 L259.5 171.6 L260.0 189.7 L260.0 166.3 L260.0 188.0 L260.5 173.3 L261.0 187.4 L261.5 168.0 L262.0 183.9 L262.5 166.5 L263.0 184.8 L263.5 168.6 L264.0 186.8 L264.5 171.7 L265.0 186.5 L265.5 168.7 L266.0 182.7 L266.5 169.1 L267.0 185.7 L267.5 171.0 L268.0 187.9 L268.5 164.1 L269.0 183.5 L269.5 171.7 L270.0 185.5 L270.5 167.7 L271.0 185.0 L271.5 165.7 L272.0 187.6 L272.5 169.3 L273.0 187.7 L273.5 169.0 L274.0 184.8 L274.5 165.5 L275.0 183.0 L275.5 163.1 L276.0 185.7 L276.5 170.8 L277.0 183.7 L277.5 169.0 L278.0 179.8 L278.5 166.3 L279.0 186.4 L279.5 164.0 L280.0 186.8 L280.5 163.1 L281.0 187.5 L281.5 163.6 L282.0 185.3 L282.5 165.9 L283.0 181.4 L283.5 162.2 L284.0 180.3 L284.5 166.2 L285.0 187.7 L285.0 161.0 L285.0 180.8 L285.5 169.0 L286.0 180.7 L286.5 169.5 L287.0 185.2 L287.5 163.6 L288.0 188.0 L288.5 167.9 L289.0 185.9 L289.5 166.9 L290.0 186.3 L290.5 171.7 L291.0 188.2 L291.5 167.1 L292.0 190.8 L292.5 173.5 L293.0 187.1 L293.5 170.0 L294.0 185.6 L294.5 175.8 L295.0 192.8 L295.0 170.0 L295.0 190.5 L295.5 174.2 L296.0 187.5 L296.5 174.8 L297.0 188.4 L297.5 172.9 L298.0 185.2 L298.5 169.9 L299.0 190.3 L299.5 168.8 L300.0 184.7 L300.5 171.8 L301.0 190.2 L301.5 168.8 L302.0 189.6 L302.5 173.0 L303.0 183.8 L303.5 173.4 L304.0 189.3 L304.5 169.2 L305.0 187.2 L305.5 167.8 L306.0 186.6 L306.5 165.5 L307.0 186.1 L307.5 171.1 L308.0 182.2 L308.5 168.1 L309.0 183.2 L309.5 172.4 L310.0 182.7 L310.5 167.2 L311.0 181.7 L311.5 171.1 L312.0 189.3 L312.5 165.0 L313.0 185.7 L313.5 163.0 L314.0 187.8 L314.5 165.1 L315.0 180.0 L315.5 169.5 L316.0 184.6 L316.5 161.7 L317.0 186.0 L317.5 164.4 L318.0 187.4 L318.5 165.4 L319.0 189.0 L319.5 163.7 L320.0 189.7 L320.0 160.0 L320.0 184.9 L320.5 162.9 L321.0 186.2 L321.5 165.5 L322.0 189.6 L322.5 168.8 L323.0 183.9 L323.5 167.8 L324.0 182.4 L324.5 167.5 L325.0 187.6 L325.5 170.0 L326.0 181.3 L326.5 169.6 L327.0 185.1 L327.5 165.8 L328.0 187.3 L328.5 167.9 L329.0 190.0 L329.5 162.3 L330.0 187.5 L330.5 168.4 L331.0 186.8 L331.5 167.0 L332.0 189.8 L332.5 168.2 L333.0 190.1 L333.5 165.3 L334.0 189.1 L334.5 168.6 L335.0 184.7 L335.5 169.2 L336.0 188.8 L336.5 169.6 L337.0 188.1 L337.5 167.0 L338.0 187.9 L338.5 162.8 L339.0 180.6 L339.5 170.2 L340.0 187.9 L340.5 167.1 L341.0 183.2 L341.5 162.2 L342.0 184.1 L342.5 169.5 L343.0 187.9 L343.5 168.8 L344.0 183.9 L344.5 162.5 L345.0 190.0 L345.0 162.0 L345.0 183.6 L345.5 166.9 L346.0 188.5 L346.5 169.6 L347.0 182.4 L347.5 169.0 L348.0 189.1 L348.5 166.4 L349.0 189.8 L349.5 164.3 L350.0 184.6 L350.5 165.2 L351.0 185.1 L351.5 167.6 L352.0 183.4 L352.5 165.0 L353.0 189.3 L353.5 167.4 L354.0 184.8 L354.5 165.8 L355.0 182.0 L355.5 161.0 L356.0 187.4 L356.5 159.9 L357.0 180.7 L357.5 164.1 L358.0 185.7 L358.5 163.0 L359.0 186.0 L359.5 163.1 L360.0 191.8 L360.0 159.0 L360.0 188.9 L360.5 165.3 L361.0 188.3 L361.5 163.7 L362.0 183.0 L362.5 166.4 L363.0 186.8 L363.5 159.1 L364.0 182.9 L364.5 162.9 L365.0 181.6 L365.5 160.5 L366.0 182.9 L366.5 158.7 L367.0 185.3 L367.5 158.5 L368.0 186.9 L368.5 162.1 L369.0 187.0 L369.5 164.6 L370.0 183.4 L370.5 161.2 L371.0 188.9 L371.5 160.0 L372.0 178.7 L372.5 163.9 L373.0 186.9 L373.5 163.1 L374.0 188.1 L374.5 166.3 L375.0 190.0 L375.0 156.0 L375.0 187.6 L375.5 166.4 L376.0 181.0 L376.5 161.0 L377.0 190.0 L377.5 168.8 L378.0 188.9 L378.5 167.1 L379.0 190.7 L379.5 159.4 L380.0 187.0 L380.5 164.7 L381.0 186.6 L381.5 166.7 L382.0 186.6 L382.5 159.9 L383.0 188.8 L383.5 168.1 L384.0 191.1 L384.5 166.9 L385.0 191.0 L385.5 168.8 L386.0 189.7 L386.5 169.3 L387.0 182.9 L387.5 163.5 L388.0 191.5 L388.5 170.0 L389.0 185.5 L389.5 171.4 L390.0 184.9 L390.5 167.6 L391.0 193.0 L391.5 169.3 L392.0 193.0 L392.5 164.6 L393.0 186.1 L393.5 162.1 L394.0 185.3 L394.5 165.4 L395.0 192.1 L395.5 167.3 L396.0 183.7 L396.5 170.4 L397.0 183.9 L397.5 171.6 L398.0 189.2 L398.5 170.3 L399.0 188.1 L399.5 171.9 L400.0 193.8 L400.0 163.0 L400.0 187.4 L400.5 173.7 L401.0 192.3 L401.5 172.2 L402.0 193.9 L402.5 167.7 L403.0 193.0 L403.5 165.0 L404.0 192.2 L404.5 170.6 L405.0 185.1 L405.5 171.5 L406.0 187.6 L406.5 167.1 L407.0 187.1 L407.5 171.7 L408.0 191.1 L408.5 172.7 L409.0 189.7 L409.5 173.3 L410.0 191.8 L410.0 167.3 L410.0 186.8 L410.5 170.3 L411.0 186.6 L411.5 169.2 L412.0 185.3 L412.5 170.9 L413.0 190.1 L413.5 170.8 L414.0 191.0 L414.5 174.5 L415.0 188.5 L415.5 166.4 L416.0 190.9 L416.5 171.4 L417.0 188.4 L417.5 166.3 L418.0 188.2 L418.5 169.9 L419.0 190.3 L419.5 168.7 L420.0 188.5 L420.5 168.2 L421.0 187.3 L421.5 172.4 L422.0 192.5 L422.5 172.2 L423.0 185.5 L423.5 171.7 L424.0 193.4 L424.5 169.9 L425.0 192.3 L425.5 171.1 L426.0 188.0 L426.5 172.0 L427.0 195.6 L427.5 167.9 L428.0 187.6 L428.5 172.7 L429.0 186.4 L429.5 168.5 L430.0 189.4 L430.4 165.3 L430.4 195.8 L430.5 174.4 L431.0 190.5 L431.5 170.1 L432.0 192.3 L432.5 166.4 L433.0 190.1 L433.5 168.7 L434.0 192.5 L434.5 173.6 L435.0 189.5 L435.5 167.5 L436.0 191.9 L436.5 172.8 L437.0 193.6 L437.5 176.1 L438.0 186.3 L438.5 167.6 L439.0 190.6 L439.5 171.5 L440.0 192.3 L440.5 173.6 L441.0 194.0 L441.5 174.4 L442.0 191.3 L442.5 169.4 L443.0 184.9 L443.5 173.2 L444.0 184.6 L444.5 170.8 L445.0 184.4 L445.5 168.8 L446.0 190.7 L446.5 166.2 L447.0 188.7 L447.5 166.8 L448.0 186.0 L448.5 172.5 L449.0 191.0 L449.5 167.0 L450.0 187.6 L450.5 168.3 L450.8 189.7 L450.8 165.3 L451.0 189.2 L451.5 168.8 L452.0 190.5 L452.5 169.7 L453.0 192.1 L453.5 170.7 L454.0 197.5 L454.5 178.0 L455.0 196.3 L455.5 177.4 L456.0 195.4 L456.5 174.9 L456.9 202.0 L456.9 171.4 L457.0 198.2 L457.5 176.5 L458.0 196.2 L458.5 180.7 L459.0 193.6 L459.5 179.0 L460.0 199.4 L460.5 168.2 L461.0 196.3 L461.5 174.3 L462.0 192.2 L462.5 167.6 L463.0 193.8 L463.0 161.2 L463.0 193.9 L463.5 167.6 L464.0 190.7 L464.5 170.7 L465.0 191.5 L465.5 167.3 L466.0 188.0 L466.5 173.9 L467.0 198.0 L467.1 167.3 L467.1 197.9 L467.5 173.7 L468.0 199.5 L468.5 179.4 L469.0 206.9 L469.5 187.8 L470.0 213.1 L470.5 192.2 L471.0 213.5 L471.2 190.0 L471.2 220.3 L471.5 197.7 L472.0 212.5 L472.5 194.6 L473.0 210.4 L473.5 193.7 L474.0 210.2 L474.5 183.9 L475.0 206.7 L475.3 179.5 L475.3 214.2 L475.5 191.3 L476.0 210.9 L476.5 197.8 L477.0 216.3 L477.5 200.7 L478.0 223.1 L478.5 209.5 L479.0 229.2 L479.5 204.8 L480.0 232.1 L480.5 211.9 L481.0 235.8 L481.4 216.2 L481.4 246.8 L481.5 218.2 L482.0 245.5 L482.5 222.6 L483.0 249.7 L483.5 230.2 L484.0 261.3 L484.5 236.6 L485.0 261.0 L485.5 241.7 L486.0 269.1 L486.5 246.8 L486.5 277.4 L486.5 249.7 L487.0 276.8 L487.5 252.4 L488.0 277.2 L488.5 268.5 L489.0 284.3 L489.5 267.8 L490.0 295.9 L490.5 273.8 L491.0 306.8 L491.5 274.8 L492.0 314.8 L492.5 289.1 L492.6 324.3 L492.6 279.4 L493.0 320.7 L493.5 291.1 L494.0 308.8 L494.5 283.0 L495.0 298.9 L495.5 277.9 L495.6 301.9 L495.6 273.3 L496.0 294.1 L496.5 276.6 L497.0 301.1 L497.5 276.3 L498.0 296.3 L498.5 280.6 L499.0 295.8 L499.5 277.9 L500.0 289.6 L500.5 268.9 L501.0 294.8 L501.5 274.4 L502.0 296.3 L502.5 270.7 L503.0 294.5 L503.5 266.3 L504.0 288.9 L504.5 274.3 L505.0 289.2 L505.5 267.2 L506.0 292.4 L506.5 270.8 L507.0 292.1 L507.5 268.9 L507.9 295.8 L507.9 263.1 L508.0 294.0 L508.5 271.6 L509.0 285.3 L509.5 269.0 L510.0 286.7 L510.5 259.7 L511.0 290.2 L511.5 254.9 L512.0 282.3 L512.5 261.2 L513.0 291.7 L513.0 246.8 L513.0 283.5 L513.5 261.3 L514.0 283.4 L514.5 260.9 L515.0 284.3 L515.5 257.0 L516.0 291.0 L516.5 264.6 L517.0 296.2 L517.5 261.7 L518.0 292.1 L518.5 272.9 L519.0 304.0 L519.5 276.0 L520.0 312.2 L520.5 274.2 L521.0 310.8 L521.5 277.7 L522.0 318.3 L522.5 286.1 L523.0 317.5 L523.5 285.6 L524.0 324.2 L524.2 283.5 L524.2 324.3 L524.5 292.3 L525.0 320.2 L525.5 292.0 L526.0 320.2 L526.5 289.3 L527.0 322.7 L527.5 292.3 L528.0 314.6 L528.5 293.4 L529.0 319.6 L529.5 297.9 L530.0 311.8 L530.3 289.6 L530.3 322.3 L530.5 297.6 L531.0 311.8 L531.5 283.6 L532.0 297.7 L532.5 277.1 L533.0 287.0 L533.5 261.3 L534.0 276.3 L534.5 254.5 L535.0 269.8 L535.4 242.7 L535.4 273.3 L535.5 244.7 L536.0 270.7 L536.5 243.3 L537.0 268.2 L537.5 243.2 L538.0 268.1 L538.5 245.7 L539.0 262.7 L539.5 241.8 L540.0 263.8 L540.5 238.7 L540.5 267.2 L540.5 242.6 L541.0 262.8 L541.5 244.5 L542.0 270.7 L542.5 250.3 L543.0 272.1 L543.5 242.1 L544.0 264.9 L544.5 250.8 L545.0 271.7 L545.5 242.1 L546.0 278.1 L546.5 246.4 L546.6 283.5 L546.6 242.7 L547.0 270.3 L547.5 250.8 L548.0 272.0 L548.5 245.0 L549.0 277.0 L549.5 237.2 L550.0 272.4 L550.5 245.1 L550.7 275.4 L550.7 232.5 L551.0 262.2 L551.5 237.3 L552.0 274.6 L552.5 245.0 L553.0 275.8 L553.5 240.1 L554.0 266.3 L554.5 235.8 L555.0 271.3 L555.5 235.9 L556.0 277.3 L556.5 232.9 L557.0 262.0 L557.5 228.5 L558.0 268.1 L558.5 227.5 L558.9 285.6 L558.9 218.3 L559.0 274.7 L559.5 238.4 L560.0 290.2 L560.5 253.2 L561.0 280.0 L561.5 253.5 L562.0 296.9 L562.5 272.3 L562.9 301.9 L562.9 267.2 L563.0 298.2 L563.5 264.9 L564.0 289.2 L564.5 257.3 L565.0 287.8 L565.5 251.0 L566.0 289.7 L566.5 248.5 L567.0 286.2 L567.5 237.3 L568.0 292.1 L568.5 240.8 L569.0 295.8 L569.0 216.2 L569.0 277.6 L569.5 250.8 L570.0 297.1 L570.5 257.4 L571.0 316.7 L571.5 272.2 L572.0 323.3 L572.5 289.3 L573.0 329.2 L573.1 299.8 L573.1 340.6 L573.5 317.2 L574.0 339.2 L574.5 323.0 L575.0 356.0 L575.5 328.7 L576.0 362.7 L576.5 341.3 L577.0 366.3 L577.5 348.3 L578.0 379.1 L578.5 363.4 L579.0 387.7 L579.2 365.1 L579.2 401.8 L579.5 368.6 L580.0 374.2 L580.5 346.4 L581.0 355.6 L581.5 328.3 L582.0 340.0 L582.5 301.5 L583.0 323.9 L583.3 281.5 L583.3 324.3 L583.5 285.8 L584.0 325.5 L584.5 287.1 L585.0 320.2 L585.5 298.0 L586.0 328.4 L586.5 300.1 L587.0 330.5 L587.5 306.5 L588.0 340.7 L588.5 308.0 L589.0 329.5 L589.4 299.8 L589.4 348.8 L589.5 309.8 L590.0 336.9 L590.5 312.7 L591.0 336.3 L591.5 312.2 L592.0 336.5 L592.5 311.2 L593.0 328.8 L593.5 303.9 L593.5 340.6 L593.5 303.5 L594.0 330.4 L594.5 295.8 L595.0 320.9 L595.5 281.2 L596.0 298.9 L596.5 274.1 L597.0 293.2 L597.5 263.4 L598.0 283.5 L598.5 250.4 L599.0 265.5 L599.5 242.1 L599.6 267.2 L599.6 232.5 L600.0 260.4 L600.5 231.1 L601.0 269.7 L601.5 229.7 L602.0 271.2 L602.5 217.5 L603.0 280.3 L603.5 214.5 L604.0 278.8 L604.5 219.5 L604.7 300.0 L604.7 197.9 L605.0 287.8 L605.5 217.5 L606.0 260.2 L606.5 201.8 L607.0 274.7 L607.5 215.6 L608.0 271.3 L608.5 207.0 L609.0 256.9 L609.5 217.6 L609.8 263.0 L609.8 208.0 L610.0 264.1 L610.5 232.9 L611.0 259.9 L611.5 225.2 L612.0 276.7 L612.5 237.1 L613.0 273.9 L613.5 244.1 L613.9 287.6 L613.9 242.7 L614.0 286.1 L614.5 242.1 L615.0 262.6 L615.5 236.8 L616.0 251.9 L616.5 222.6 L617.0 248.4 L617.5 216.8 L618.0 231.0 L618.5 192.2 L619.0 212.5 L619.5 180.0 L620.0 214.2 L620.0 173.4 L620.0 205.4 L620.5 177.8 L621.0 214.2 L621.5 191.4 L622.0 227.2 L622.5 197.4 L623.0 237.6 L623.5 208.9 L624.0 255.6 L624.5 219.7 L625.0 264.1 L625.5 228.9 L626.0 274.4 L626.2 226.4 L626.2 283.5 L626.5 226.6 L627.0 266.7 L627.5 239.1 L628.0 268.6 L628.5 240.0 L629.0 271.1 L629.5 242.5 L630.0 281.8 L630.2 226.4 L630.2 287.6 L630.5 241.9 L631.0 261.3 L631.5 213.2 L632.0 262.8 L632.5 211.9 L633.0 243.5 L633.5 190.4 L634.0 215.9 L634.5 180.9 L635.0 219.2 L635.5 160.6 L636.0 193.1 L636.5 147.5 L637.0 190.3 L637.4 130.6 L637.4 191.8 L637.5 133.8 L638.0 175.8 L638.5 148.8 L639.0 194.4 L639.5 150.1 L640.0 207.4 L640.5 162.3 L641.0 198.5 L641.5 178.9 L642.0 211.9 L642.5 179.1 L643.0 224.1 L643.5 187.3 L644.0 225.2 L644.5 185.6 L644.5 238.7 L644.5 193.7 L645.0 234.4 L645.5 186.1 L646.0 213.8 L646.5 181.4 L647.0 206.7 L647.5 179.2 L648.0 205.1 L648.5 156.2 L649.0 199.2 L649.5 153.8 L650.0 191.4 L650.5 150.4 L650.6 202.0 L650.6 134.7 L651.0 200.4 L651.5 150.0 L652.0 191.1 L652.5 155.7 L653.0 188.8 L653.5 161.4 L654.0 195.0 L654.5 166.7 L654.7 200.0 L654.7 165.0 L655.0 196.4 L655.5 178.6 L656.0 212.9 L656.5 188.2 L657.0 223.0 L657.5 194.1 L658.0 230.0 L658.5 201.4 L659.0 260.0 L659.0 200.0 L659.0 243.9 L659.5 211.1 L660.0 262.4 L660.5 234.6 L661.0 263.0 L661.5 250.6 L662.0 275.3 L662.5 256.3 L663.0 297.0 L663.0 260.0 L663.0 294.5 L663.5 249.8 L664.0 263.2 L664.5 212.3 L665.0 243.8 L665.5 172.2 L666.0 230.0 L666.0 150.0 L666.0 225.6 L666.5 162.2 L667.0 208.3 L667.5 154.4 L668.0 183.9 L668.5 135.5 L669.0 167.5 L669.5 135.6 L670.0 150.1 L670.2 117.3 L670.2 149.0 L670.5 129.4 L671.0 148.2 L671.5 134.5 L672.0 164.3 L672.2 140.0 L672.2 165.0 L672.5 151.9 L673.0 186.9 L673.5 183.0 L674.0 224.4 L674.5 212.9 L675.0 252.6 L675.3 230.0 L675.3 272.3 L675.5 238.3 L676.0 247.4 L676.5 215.6 L677.0 227.1 L677.5 195.0 L678.0 204.0 L678.5 171.7 L679.0 178.8 L679.4 146.9 L679.4 171.4 L679.5 155.0 L680.0 171.4 L680.5 154.0 L681.0 172.4 L681.5 158.8 L682.0 172.7 L682.5 156.4 L683.0 174.1 L683.5 160.8 L684.0 179.4 L684.5 163.5 L685.0 183.8 L685.5 165.8 L686.0 189.0 L686.5 167.3 L686.5 191.8 L686.5 168.1 L687.0 187.7 L687.5 168.3 L688.0 191.2 L688.5 176.6 L689.0 195.4 L689.5 177.4 L690.0 199.7 L690.5 175.1 L691.0 203.3 L691.5 174.6 L692.0 201.6 L692.5 175.7 L693.0 196.1 L693.5 178.7 L694.0 202.9 L694.5 171.0 L694.7 212.2 L694.7 167.3 L695.0 208.7 L695.5 182.5 L696.0 208.9 L696.5 173.5 L697.0 215.5 L697.5 176.8 L698.0 214.2 L698.5 186.1 L699.0 221.5 L699.5 182.0 L700.0 213.0 L700.5 176.8 L701.0 221.2 L701.5 189.6 L702.0 222.9 L702.5 195.0 L703.0 216.6 L703.5 189.9 L704.0 232.0 L704.5 196.7 L704.9 232.5 L704.9 177.5 L705.0 221.4 L705.5 190.4 L706.0 228.7 L706.5 189.0 L707.0 212.7 L707.5 185.6 L708.0 213.8 L708.5 171.7 L709.0 203.2 L709.5 175.6 L710.0 197.9 L710.5 166.4 L711.0 202.0 L711.0 161.2 L711.0 197.0 L711.5 167.1 L712.0 197.2 L712.5 162.9 L713.0 183.7 L713.5 154.4 L714.0 182.6 L714.5 150.5 L715.0 181.9 L715.5 149.8 L716.0 178.4 L716.5 139.9 L717.0 167.8 L717.5 130.3 L718.0 161.2 L718.1 124.5 L718.1 175.4 L718.5 127.8 L719.0 158.4 L719.5 135.0 L720.0 156.2 L720.5 135.1 L721.0 157.2 L721.5 131.7 L722.0 156.7 L722.5 127.9 L723.0 143.7 L723.2 123.5 L723.2 155.0 L723.5 131.0 L724.0 147.5 L724.5 123.3 L725.0 144.3 L725.5 128.7 L726.0 148.3 L726.5 123.0 L727.0 143.9 L727.5 126.4 L728.0 143.7 L728.5 131.9 L729.0 148.1 L729.5 130.3 L730.0 148.7 L730.3 124.5 L730.3 153.0 L730.5 136.0 L731.0 157.0 L731.5 134.9 L732.0 165.5 L732.5 146.7 L733.0 171.0 L733.5 153.0 L734.0 178.3 L734.4 151.0 L734.4 181.6 L734.5 154.4 L735.0 190.8 L735.5 180.8 L736.0 202.4 L736.5 200.4 L737.0 223.6 L737.5 214.2 L737.5 234.6 L737.5 217.3 L738.0 230.8 L738.5 219.8 L739.0 232.5 L739.5 220.0 L739.5 238.7 L739.5 219.9 L740.0 236.6 L740.5 218.3 L741.0 229.6 L741.5 215.8 L742.0 228.0 L742.5 210.6 L743.0 224.4 L743.5 214.2 L744.0 228.7 L744.5 209.8 L745.0 227.6 L745.5 205.3 L746.0 219.0 L746.5 203.7 L747.0 223.0 L747.5 201.5 L747.7 222.3 L747.7 193.8 L748.0 214.9 L748.5 192.6 L749.0 216.1 L749.5 194.9 L750.0 210.4 L750.5 191.0 L751.0 208.7 L751.5 190.9 L752.0 203.3 L752.5 181.2 L752.8 206.0 L752.8 177.5 L753.0 206.0 L753.5 182.0 L754.0 201.8 L754.5 179.0 L755.0 197.0 L755.5 186.3 L756.0 199.3 L756.5 185.7 L757.0 203.5 L757.5 180.1 L758.0 199.8 L758.5 183.1 L759.0 196.9 L759.5 185.3 L760.0 200.9 L760.5 179.7 L761.0 198.9 L761.5 185.8 L762.0 202.0 L762.0 179.5 L762.0 199.0 L762.5 179.7 L763.0 201.3 L763.5 183.8 L764.0 198.8 L764.5 182.8 L765.0 195.9 L765.5 180.7 L766.0 195.7 L766.5 184.0 L767.0 198.5 L767.5 178.1 L768.0 200.0 L768.5 179.2 L769.0 200.0 L769.5 178.5 L770.0 194.6 L770.5 184.6 L771.0 194.4 L771.5 182.5 L772.0 200.2 L772.2 177.5 L772.2 202.0 L772.5 178.6 L773.0 195.2 L773.5 179.1 L774.0 196.0 L774.5 183.9 L775.0 197.1 L775.5 183.6 L776.0 200.9 L776.5 177.0 L777.0 194.5 L777.5 180.5 L778.0 198.3 L778.5 183.1 L779.0 196.6 L779.5 184.3 L780.0 198.0 L780.5 179.4 L781.0 200.6 L781.5 179.0 L782.0 201.1 L782.3 175.4 L782.3 200.0 L782.5 184.7 L783.0 193.2 L783.5 181.3 L784.0 193.1 L784.5 179.6 L785.0 196.9 L785.5 181.7 L786.0 197.1 L786.5 177.9 L787.0 196.5 L787.5 177.1 L788.0 195.3 L788.5 175.8 L789.0 191.7 L789.5 178.1 L790.0 194.1 L790.5 180.1 L791.0 194.3 L791.5 181.0 L792.0 193.5 L792.5 178.4 L793.0 189.4 L793.5 175.8 L794.0 195.6 L794.5 177.9 L795.0 191.3 L795.5 176.0 L796.0 190.2 L796.5 177.7 L797.0 192.5 L797.5 179.4 L798.0 193.3 L798.5 179.2 L799.0 194.4 L799.5 177.4 L800.0 189.6 L800.5 177.2 L801.0 188.7 L801.5 178.0 L802.0 188.6 L802.5 176.4 L802.7 193.8 L802.7 172.4 L803.0 190.4 L803.5 176.1 L804.0 190.5 L804.5 173.7 L805.0 187.0 L805.5 177.2 L806.0 190.9 L806.5 177.3 L807.0 191.2 L807.5 171.6 L808.0 186.2 L808.5 177.2 L809.0 191.2 L809.5 176.7 L810.0 190.1 L810.5 174.8 L811.0 187.5 L811.5 177.9 L812.0 189.7 L812.5 172.2 L813.0 187.7 L813.5 172.9 L814.0 190.1 L814.5 177.2 L815.0 186.4 L815.5 174.1 L816.0 190.0 L816.5 174.8 L817.0 185.2 L817.5 173.9 L818.0 188.0 L818.5 170.9 L819.0 189.8 L819.5 174.0 L820.0 186.1 L820.5 174.4 L821.0 183.7 L821.5 172.7 L822.0 183.5 L822.5 170.0 L823.0 187.8 L823.1 170.4 L823.1 189.7 L823.5 172.5 L824.0 183.2 L824.5 172.0 L825.0 184.1 L825.5 172.3 L826.0 185.4 L826.5 174.9 L827.0 189.4 L827.5 174.5 L828.0 188.5 L828.5 173.3 L829.0 185.1 L829.5 177.0 L830.0 185.2 L830.5 173.5 L831.0 188.0 L831.5 171.5 L832.0 189.0 L832.5 172.9 L833.0 189.5 L833.5 171.1 L834.0 188.2 L834.5 172.7 L835.0 188.3 L835.5 174.7 L836.0 188.8 L836.5 172.7 L837.0 186.0 L837.5 172.9 L838.0 187.5 L838.5 175.0 L839.0 186.4 L839.5 173.8 L840.0 188.3 L840.5 172.5 L841.0 189.9 L841.5 174.1 L842.0 185.2 L842.5 172.8 L843.0 186.4 L843.5 172.4 L843.5 191.8 L843.5 175.3 L844.0 187.2 L844.5 178.4 L845.0 189.7 L845.5 177.3 L846.0 193.0 L846.5 180.3 L847.0 190.2 L847.5 178.9 L848.0 193.3 L848.5 175.9 L849.0 195.1 L849.5 178.9 L850.0 194.5 L850.5 175.9 L851.0 196.7 L851.5 176.4 L852.0 195.3 L852.5 176.4 L852.7 200.0 L852.7 173.4 L853.0 193.5 L853.5 178.5 L854.0 190.4 L854.5 176.2 L855.0 189.4 L855.5 176.2 L856.0 190.9 L856.5 169.3 L857.0 186.2 L857.5 174.6 L858.0 186.1 L858.5 173.8 L859.0 185.8 L859.5 165.4 L860.0 181.4 L860.5 164.6 L860.9 187.7 L860.9 163.2 L861.0 180.2 L861.5 165.8 L862.0 186.3 L862.5 171.1 L863.0 184.4 L863.5 171.3 L864.0 187.3 L864.5 168.0 L865.0 187.1 L865.5 164.8 L866.0 185.1 L866.5 168.0 L867.0 184.8 L867.5 169.7 L868.0 188.7 L868.5 165.3 L869.0 189.3 L869.5 166.2 L870.0 183.9 L870.5 163.9 L871.0 186.3 L871.5 164.8 L872.0 182.0 L872.1 162.2 L872.1 189.7 L872.5 171.5 L873.0 187.6 L873.5 164.5 L874.0 181.1 L874.5 167.4 L875.0 182.5 L875.5 166.4 L876.0 184.4 L876.5 170.0 L877.0 181.2 L877.5 172.4 L878.0 188.6 L878.5 171.7 L879.0 185.5 L879.5 170.2 L880.0 190.3 L880.5 169.2 L881.0 185.1 L881.5 175.4 L882.0 186.3 L882.5 176.1 L883.0 186.1 L883.5 175.2 L884.0 188.5 L884.3 171.4 L884.3 191.8 L884.5 173.7 L885.0 188.0 L885.5 173.6 L886.0 183.9 L886.5 175.6 L887.0 184.4 L887.5 174.7 L888.0 186.8 L888.5 175.1 L889.0 189.8 L889.5 174.6 L890.0 186.9 L890.5 171.7 L891.0 183.9 L891.5 168.8 L892.0 187.7 L892.5 173.3 L893.0 185.4 L893.5 174.5 L894.0 183.9 L894.5 167.9 L895.0 188.3 L895.5 172.5 L896.0 188.0 L896.5 172.8 L897.0 184.4 L897.5 172.0 L898.0 183.8 L898.5 167.8 L899.0 181.8 L899.5 167.6 L900.0 183.0 L900.5 163.9 L901.0 184.4 L901.5 164.7 L902.0 182.8 L902.5 162.6 L902.7 185.6 L902.7 162.2 L903.0 180.8 L903.5 163.8 L904.0 181.6 L904.5 171.2 L905.0 182.0 L905.5 170.1 L906.0 180.9 L906.5 172.4 L907.0 185.9 L907.5 168.6 L908.0 186.5 L908.5 172.2 L909.0 185.4 L909.5 173.0 L910.0 185.6 L910.5 168.8 L911.0 184.6 L911.5 173.6 L912.0 185.9 L912.5 172.1 L913.0 183.3 L913.5 174.1 L914.0 183.1 L914.5 175.4 L915.0 181.9 L915.5 175.6 L916.0 184.1 L916.5 172.8 L917.0 184.8 L917.5 174.5 L918.0 182.9 L918.5 177.3 L919.0 183.8 L919.5 178.8 L920.0 187.7 L920.0 175.4 L920.0 185.1 L920.5 178.0 L921.0 187.6 L921.5 175.0 L922.0 186.6 L922.5 176.9 L923.0 185.4 L923.5 173.8 L924.0 185.0 L924.5 178.1 L925.0 186.0 L925.5 172.8 L926.0 188.1 L926.5 176.6 L927.0 186.8 L927.5 173.4 L928.0 187.1 L928.5 174.0 L929.0 189.3 L929.5 175.8 L930.0 188.0 L930.4 170.4 L930.4 189.7 L930.5 176.5 L931.0 185.8 L931.5 176.5 L932.0 187.8 L932.5 174.1 L933.0 184.0 L933.5 175.9 L934.0 184.7 L934.5 171.6 L935.0 186.3 L935.5 177.1 L936.0 188.9 L936.5 174.3 L937.0 184.7 L937.5 172.4 L938.0 186.3 L938.5 173.2 L939.0 189.0 L939.5 175.0 L940.0 190.4 L940.5 177.5 L941.0 188.3 L941.5 174.3 L942.0 190.5 L942.5 177.7 L943.0 185.0 L943.5 174.8 L944.0 187.4 L944.5 175.3 L945.0 187.3 L945.5 172.7 L946.0 186.0 L946.5 175.6 L947.0 189.2 L947.5 176.9 L948.0 188.2 L948.5 175.3 L949.0 188.7 L949.5 177.5 L950.0 192.6 L950.5 173.2 L951.0 192.4 L951.5 177.0 L952.0 192.1 L952.5 173.4 L953.0 192.3 L953.5 179.2 L954.0 188.2 L954.5 179.7 L954.9 193.8 L954.9 172.4 L955.0 187.8 L955.5 175.1 L956.0 190.2 L956.5 176.4 L957.0 188.5 L957.5 173.8 L958.0 188.0 L958.5 175.1 L959.0 186.3 L959.5 175.3 L960.0 187.4 L960.5 173.0 L961.0 188.6 L961.5 175.5 L962.0 190.0 L962.5 175.0 L963.0 184.6 L963.5 173.4 L964.0 187.5 L964.5 174.5 L965.0 186.2 L965.5 173.2 L966.0 185.5 L966.5 174.7 L967.0 183.4 L967.5 172.7 L968.0 184.1 L968.5 175.4 L969.0 185.8 L969.5 173.7 L970.0 185.1 L970.5 174.4 L971.0 186.5 L971.5 174.1 L972.0 184.3 L972.5 168.7 L973.0 184.5 L973.5 172.7 L974.0 184.8 L974.5 171.2 L975.0 184.8 L975.5 171.1 L976.0 184.4 L976.5 173.4 L977.0 186.6 L977.5 173.5 L978.0 185.5 L978.5 170.7 L979.0 182.4 L979.5 171.3 L980.0 185.7 L980.5 169.0 L981.0 184.3 L981.4 167.3 L981.4 185.6 L981.5 172.1 L982.0 180.6 L982.5 171.6 L983.0 182.2 L983.5 172.3 L984.0 181.3 L984.5 172.5 L985.0 183.7 L985.5 172.2 L986.0 186.7 L986.5 173.1 L987.0 186.3 L987.5 173.6 L988.0 183.4 L988.5 174.2 L989.0 186.7 L989.5 173.1 L990.0 182.7 L990.5 175.3 L991.0 186.7 L991.5 172.9 L992.0 185.5 L992.5 175.6 L993.0 186.5 L993.5 175.7 L994.0 185.1 L994.5 176.8 L995.0 185.8 L995.5 178.5 L995.6 187.7 L995.6 175.4 L996.0 186.7 L996.5 176.9 L997.0 184.0 L997.5 177.6 L998.0 183.7 L998.5 175.4 L999.0 186.5 L999.5 176.0 L1000.0 185.9 L1000.5 174.9 L1001.0 183.3 L1001.5 177.5 L1002.0 185.3 L1002.5 177.3 L1003.0 183.8 L1003.5 174.6 L1004.0 184.8 L1004.5 174.3 L1005.0 181.6 L1005.5 173.1 L1006.0 181.8 L1006.5 173.1 L1007.0 181.5 L1007.5 173.8 L1008.0 180.6 L1008.5 175.3 L1009.0 180.7 L1009.5 176.1 L1010.0 182.0 L1010.5 173.5 L1011.0 182.9 L1011.5 174.1 L1012.0 183.6 L1012.0 172.4 L1012.0 183.1 L1012.5 176.0 L1013.0 180.7 L1013.5 174.8 L1014.0 180.3 L1014.5 173.0 L1015.0 183.6 L1015.5 175.5 L1016.0 182.3 L1016.5 172.0 L1017.0 180.6 L1017.5 172.9 L1018.0 183.3 L1018.5 173.9 L1019.0 182.1 L1019.5 172.9 L1020.0 184.3 L1020.5 172.1 L1021.0 183.4 L1021.5 172.1 L1022.0 181.9 L1022.5 174.0 L1023.0 180.9 L1023.5 173.9 L1024.0 182.5 L1024.5 172.9 L1025.0 182.8 L1025.5 173.2 L1026.0 182.9 L1026.5 174.4 L1027.0 179.7 L1027.5 173.8 L1028.0 181.9 L1028.5 170.8 L1029.0 182.9 L1029.5 173.9 L1030.0 181.1 L1030.5 172.8 L1031.0 182.1 L1031.5 171.3 L1032.0 182.1 L1032.3 170.0 L1032.3 183.6 L1032.5 174.4 L1033.0 180.6 L1033.5 173.3 L1034.0 181.1 L1034.5 171.3 L1035.0 180.1 L1035.5 174.2 L1036.0 182.0 L1036.5 172.7 L1037.0 181.5 L1037.5 172.2 L1038.0 181.2 L1038.5 173.9 L1039.0 183.3 L1039.5 171.9 L1040.0 180.8 L1040.5 170.9 L1041.0 180.4 L1041.5 175.3 L1042.0 183.0 L1042.5 175.0 L1043.0 182.8 L1043.5 174.1 L1044.0 180.4 L1044.5 172.5 L1045.0 185.0 L1045.5 171.4 L1046.0 180.9 L1046.5 172.2 L1047.0 183.0 L1047.5 174.4 L1048.0 183.8 L1048.5 171.9 L1049.0 184.5 L1049.5 171.5 L1050.0 184.6 L1050.5 173.6 L1051.0 181.7 L1051.5 173.9 L1052.0 181.2 L1052.5 173.6 L1052.7 184.6 L1052.7 170.4 L1053.0 184.8 L1053.5 173.9 L1054.0 183.6 L1054.5 173.2 L1055.0 183.2 L1055.5 173.1 L1056.0 185.1 L1056.5 172.0 L1057.0 184.4 L1057.5 174.8 L1058.0 183.6 L1058.5 172.4 L1059.0 183.2 L1059.5 172.9 L1060.0 183.2 L1060.5 175.0 L1061.0 183.3 L1061.5 174.9 L1062.0 181.4 L1062.5 172.8 L1063.0 182.9 L1063.5 175.3 L1064.0 183.7 L1064.5 170.5 L1065.0 182.9 L1065.5 173.9 L1066.0 184.9 L1066.5 172.4 L1067.0 181.5 L1067.5 172.4 L1068.0 181.9 L1068.5 172.8 L1069.0 181.9 L1069.5 175.1 L1070.0 182.8 L1070.5 174.2 L1071.0 183.1 L1071.5 172.6 L1072.0 181.0 L1072.5 170.7 L1073.0 184.9 L1073.1 170.4 L1073.1 185.6 L1073.5 171.6 L1074.0 183.5 L1074.5 172.5 L1075.0 184.4 L1075.5 171.2 L1076.0 184.9 L1076.5 171.9 L1077.0 185.7 L1077.5 174.1 L1078.0 181.7 L1078.5 170.8 L1079.0 185.2 L1079.5 171.8 L1080.0 183.8 L1080.5 174.3 L1081.0 184.3 L1081.5 174.5 L1082.0 182.7 L1082.5 171.3 L1083.0 185.3 L1083.5 173.4 L1084.0 185.1 L1084.5 171.4 L1085.0 182.7 L1085.5 175.2 L1086.0 185.0 L1086.5 176.4 L1087.0 184.3 L1087.5 172.2 L1088.0 186.4 L1088.5 172.8 L1089.0 187.8 L1089.5 178.1 L1090.0 186.8 L1090.5 178.0 L1091.0 187.4 L1091.5 177.8 L1092.0 185.3 L1092.5 178.0 L1093.0 189.5 L1093.5 173.4 L1093.5 189.7 L1093.5 174.8 L1094.0 188.5 L1094.5 173.6 L1095.0 189.0 L1095.5 173.7 L1096.0 187.1 L1096.5 175.1 L1097.0 188.5 L1097.5 173.3 L1098.0 192.9 L1098.5 172.2 L1099.0 190.1 L1099.5 174.9 L1100.0 194.4 L1100.5 176.2 L1101.0 191.5 L1101.5 178.4 L1102.0 195.5 L1102.5 177.0 L1103.0 194.7 L1103.5 168.9 L1104.0 189.2 L1104.5 171.9 L1105.0 188.5 L1105.5 167.9 L1106.0 190.4 L1106.5 169.1 L1107.0 193.2 L1107.5 168.8 L1108.0 196.0 L1108.5 169.9 L1109.0 188.3 L1109.5 167.6 L1110.0 197.3 L1110.5 167.3 L1110.9 200.0 L1110.9 163.2 L1111.0 190.1 L1111.5 170.4 L1112.0 188.6 L1112.5 167.7 L1113.0 193.0 L1113.5 173.8 L1114.0 199.9 L1114.5 169.1 L1115.0 192.8 L1115.5 168.3 L1116.0 193.2 L1116.5 176.4 L1117.0 194.0 L1117.5 170.4 L1118.0 197.2 L1118.5 181.3 L1119.0 195.6 L1119.5 179.9 L1120.0 203.9 L1120.5 182.1 L1121.0 195.6 L1121.5 180.1 L1122.0 205.2 L1122.5 176.0 L1123.0 201.0 L1123.5 182.9 L1124.0 206.7 L1124.1 177.5 L1124.1 209.0 L1124.5 180.0 L1125.0 208.0 L1125.5 181.9 L1126.0 202.4 L1126.5 180.3 L1127.0 202.7 L1127.5 179.3 L1128.0 203.2 L1128.5 173.2 L1129.0 195.1 L1129.5 173.7 L1130.0 197.8 L1130.5 173.0 L1131.0 192.7 L1131.5 171.2 L1132.0 199.4 L1132.5 169.6 L1133.0 193.2 L1133.5 174.8 L1134.0 189.1 L1134.3 166.3 L1134.3 197.9 L1134.5 171.1 L1135.0 195.2 L1135.5 172.3 L1136.0 191.8 L1136.5 167.3 L1137.0 194.4 L1137.5 174.4 L1138.0 189.6 L1138.5 177.0 L1139.0 193.5 L1139.5 168.9 L1140.0 190.3 L1140.5 170.9 L1141.0 193.1 L1141.5 176.4 L1142.0 189.8 L1142.5 172.9 L1143.0 194.5 L1143.5 172.5 L1144.0 190.8 L1144.5 173.0 L1145.0 186.4 L1145.5 170.0 L1146.0 190.0 L1146.5 169.5 L1147.0 195.0 L1147.5 173.8 L1148.0 192.7 L1148.5 166.1 L1148.6 195.8 L1148.6 164.2 L1149.0 193.5 L1149.5 167.4 L1150.0 195.7 L1150.5 172.2 L1151.0 193.9 L1151.5 169.3 L1152.0 196.2 L1152.5 174.7 L1153.0 190.7 L1153.5 177.6 L1154.0 194.7" stroke="#0000ff" stroke-width="1.6" fill="none" shape-rendering="crispEdges"/>
<path d="M166.0 190.0 L166.5 185.9 L167.0 191.1 L167.5 183.1 L168.0 189.2 L168.5 185.3 L169.0 187.5 L169.5 183.5 L170.0 190.9 L170.5 184.5 L171.0 189.8 L171.5 184.6 L172.0 187.4 L172.5 182.9 L173.0 188.9 L173.5 182.2 L174.0 187.2 L174.5 181.2 L175.0 189.2 L175.5 184.6 L176.0 191.5 L176.5 181.6 L177.0 189.1 L177.5 185.3 L178.0 189.3 L178.5 182.2 L179.0 189.0 L179.5 181.1 L180.0 192.0 L180.5 183.8 L181.0 187.3 L181.5 185.4 L182.0 191.7 L182.5 185.1 L183.0 191.3 L183.5 181.0 L184.0 189.9 L184.5 185.5 L185.0 189.6" stroke="#00ff00" stroke-width="1" fill="none" shape-rendering="crispEdges"/>
<path d="M907.8 175V129.6" stroke="#0000ff" stroke-width="1.3"/>
<rect x="165.6" y="103.5" width="989.0" height="312.9" fill="none" stroke="#1a1a1a" stroke-width="1.2"/>
<text x="156.8" y="111.3" text-anchor="end" font-family="Liberation Sans" font-size="23.6" textLength="38.0" lengthAdjust="spacingAndGlyphs" fill="#222">100</text>
<text x="156.8" y="189.5" text-anchor="end" font-family="Liberation Sans" font-size="23.6" textLength="12.7" lengthAdjust="spacingAndGlyphs" fill="#222">0</text>
<text x="156.8" y="267.7" text-anchor="end" font-family="Liberation Sans" font-size="23.6" textLength="45.2" lengthAdjust="spacingAndGlyphs" fill="#222">-100</text>
<text x="156.8" y="346.0" text-anchor="end" font-family="Liberation Sans" font-size="23.6" textLength="45.2" lengthAdjust="spacingAndGlyphs" fill="#222">-200</text>
<text x="156.8" y="424.2" text-anchor="end" font-family="Liberation Sans" font-size="23.6" textLength="45.2" lengthAdjust="spacingAndGlyphs" fill="#222">-300</text>
<text transform="translate(57.2 259.9) rotate(-90)" x="0" y="0" text-anchor="middle" font-family="Liberation Sans" font-weight="bold" font-size="19.6" textLength="174.4" lengthAdjust="spacingAndGlyphs" fill="#222">Measured-Model</text>
<text transform="translate(83.0 259.9) rotate(-90)" x="0" y="0" text-anchor="middle" font-family="Liberation Sans" font-weight="bold" font-size="19.6" textLength="129.7" lengthAdjust="spacingAndGlyphs" fill="#222">B North (nT)</text>
<text transform="translate(1175.6 292.7) rotate(-90)" text-anchor="start" font-family="Liberation Sans" font-weight="bold" font-size="17.6" textLength="91.5" lengthAdjust="spacingAndGlyphs" fill="#111">Inboard B</text>
<text transform="translate(1195.8 293.2) rotate(-90)" text-anchor="start" font-family="Liberation Sans" font-weight="bold" font-size="17.6" textLength="107.5" lengthAdjust="spacingAndGlyphs" fill="#111">Outboard B</text>
<path d="M1171.5 315.0V336.0" stroke="#0000ff" stroke-width="2"/>
<path d="M1191 318.0V336.0" stroke="#00ff00" stroke-width="2"/>
<path d="M165.6 453.5h10M1154.6 453.5h-10M165.6 514.1h10M1154.6 514.1h-10M165.6 574.7h10M1154.6 574.7h-10M165.6 635.2h10M1154.6 635.2h-10M165.6 695.8h10M1154.6 695.8h-10M165.6 756.4h10M1154.6 756.4h-10M412.8 756.4v-10M412.8 453.5v10M660.1 756.4v-10M660.1 453.5v10M907.3 756.4v-10M907.3 453.5v10" stroke="#111" stroke-width="1" fill="none" shape-rendering="crispEdges"/>
<g fill="#d9d9d9"><rect x="166.5" y="456.5" width="1.7" height="296.2"/><rect x="185.0" y="456.5" width="4.0" height="296.2"/><rect x="222.0" y="456.5" width="3.0" height="296.2"/><rect x="226.0" y="456.5" width="2.0" height="296.2"/><rect x="259.0" y="456.5" width="2.0" height="296.2"/><rect x="265.0" y="456.5" width="2.0" height="296.2"/><rect x="278.0" y="456.5" width="3.0" height="296.2"/><rect x="283.0" y="456.5" width="5.0" height="296.2"/><rect x="357.0" y="456.5" width="3.0" height="296.2"/><rect x="456.0" y="456.5" width="2.0" height="296.2"/><rect x="460.0" y="456.5" width="5.0" height="296.2"/><rect x="478.0" y="456.5" width="4.0" height="296.2"/><rect x="493.0" y="456.5" width="2.0" height="296.2"/><rect x="506.0" y="456.5" width="2.0" height="296.2"/><rect x="512.0" y="456.5" width="4.0" height="296.2"/><rect x="545.0" y="456.5" width="2.0" height="296.2"/><rect x="548.0" y="456.5" width="2.0" height="296.2"/><rect x="604.0" y="456.5" width="149.0" height="296.2"/><rect x="777.0" y="456.5" width="2.0" height="296.2"/><rect x="785.0" y="456.5" width="2.0" height="296.2"/><rect x="852.0" y="456.5" width="13.0" height="296.2"/><rect x="866.0" y="456.5" width="10.0" height="296.2"/><rect x="877.0" y="456.5" width="6.0" height="296.2"/><rect x="889.0" y="456.5" width="9.0" height="296.2"/><rect x="902.0" y="456.5" width="15.0" height="296.2"/><rect x="918.0" y="456.5" width="77.0" height="296.2"/><rect x="999.0" y="456.5" width="36.0" height="296.2"/><rect x="1039.0" y="456.5" width="6.0" height="296.2"/><rect x="1110.0" y="456.5" width="10.0" height="296.2"/><rect x="1122.0" y="456.5" width="4.0" height="296.2"/><rect x="1133.0" y="456.5" width="3.0" height="296.2"/><rect x="1142.0" y="456.5" width="2.0" height="296.2"/><rect x="1145.0" y="456.5" width="7.0" height="296.2"/></g>
<path d="M166.0 635.3 L166.5 628.3 L167.0 635.2 L167.5 630.5 L168.0 634.9 L168.5 630.7 L169.0 634.6 L169.5 631.2 L170.0 635.7 L170.5 630.7 L171.0 636.0 L171.5 630.5 L172.0 635.2 L172.5 629.7 L173.0 637.6 L173.5 630.7 L174.0 636.3 L174.5 631.8 L175.0 636.8 L175.5 631.8 L176.0 635.3 L176.5 628.8 L177.0 635.9 L177.5 631.5 L178.0 637.8 L178.5 629.8 L179.0 637.1 L179.5 630.9 L180.0 637.8 L180.5 632.0 L181.0 635.7 L181.5 628.8 L182.0 638.5 L182.5 629.6 L183.0 638.5 L183.5 631.5 L184.0 638.4 L184.5 628.8 L185.0 638.8 L185.5 628.5 L186.0 637.0 L186.5 630.0 L187.0 639.5 L187.5 631.0 L188.0 636.4 L188.5 631.2 L189.0 636.6 L189.5 628.8 L190.0 636.6 L190.5 628.5 L191.0 638.8 L191.5 630.6 L192.0 640.0 L192.0 629.0 L192.0 639.7 L192.5 631.5 L193.0 638.9 L193.5 631.6 L194.0 638.1 L194.5 629.9 L195.0 637.4 L195.5 633.1 L196.0 637.7 L196.5 632.2 L197.0 639.6 L197.5 631.1 L198.0 639.5 L198.5 633.1 L199.0 638.2 L199.5 631.1 L200.0 639.6 L200.0 630.5 L200.0 638.5 L200.5 630.2 L201.0 637.2 L201.5 631.0 L202.0 639.1 L202.5 631.1 L203.0 639.4 L203.5 630.1 L204.0 637.0 L204.5 631.7 L205.0 638.7 L205.5 630.6 L206.0 636.9 L206.5 632.2 L207.0 638.9 L207.5 630.4 L208.0 639.1 L208.5 630.7 L209.0 637.6 L209.5 632.4 L210.0 637.0 L210.5 632.5 L211.0 639.1 L211.5 630.9 L212.0 640.0 L212.5 632.3 L213.0 638.9 L213.5 631.1 L214.0 638.4 L214.5 631.6 L215.0 639.3 L215.5 631.0 L216.0 639.5 L216.5 630.5 L217.0 639.5 L217.5 629.1 L218.0 639.4 L218.5 631.4 L219.0 639.3 L219.5 631.5 L220.0 637.2 L220.5 631.7 L221.0 639.0 L221.5 629.0 L222.0 635.9 L222.5 629.0 L223.0 636.4 L223.5 631.4 L224.0 638.7 L224.5 629.3 L225.0 636.1 L225.5 631.0 L226.0 635.5 L226.5 631.3 L227.0 637.7 L227.5 629.5 L228.0 638.4 L228.5 630.0 L229.0 639.3 L229.5 630.0 L230.0 638.3 L230.5 629.0 L231.0 639.6 L231.5 628.9 L232.0 636.4 L232.5 629.3 L233.0 636.4 L233.5 629.2 L234.0 636.4 L234.5 629.1 L235.0 636.3 L235.5 628.8 L236.0 636.8 L236.5 629.9 L237.0 635.3 L237.5 627.9 L238.0 637.6 L238.5 629.2 L239.0 635.7 L239.5 630.6 L240.0 636.8 L240.5 631.1 L241.0 635.6 L241.5 628.3 L242.0 638.1 L242.5 630.9 L243.0 638.0 L243.5 628.6 L244.0 637.2 L244.5 629.0 L245.0 639.0 L245.5 629.1 L246.0 635.5 L246.5 629.1 L247.0 637.4 L247.5 629.5 L248.0 638.7 L248.5 628.8 L249.0 635.6 L249.5 628.3 L250.0 635.5 L250.5 630.1 L251.0 635.5 L251.5 628.3 L252.0 637.7 L252.5 630.1 L253.0 634.8 L253.5 630.3 L254.0 637.8 L254.5 628.1 L255.0 635.4 L255.5 629.5 L256.0 636.5 L256.5 627.4 L257.0 635.6 L257.5 629.6 L258.0 637.9 L258.5 630.2 L259.0 638.3 L259.5 630.4 L260.0 637.6 L260.0 627.4 L260.0 637.9 L260.5 630.1 L261.0 638.4 L261.5 630.8 L262.0 637.7 L262.5 627.6 L263.0 635.9 L263.5 629.1 L264.0 638.7 L264.5 628.9 L265.0 636.1 L265.5 628.1 L266.0 638.4 L266.5 631.3 L267.0 638.5 L267.5 628.4 L268.0 638.7 L268.5 631.5 L269.0 637.0 L269.5 629.4 L270.0 637.6 L270.5 631.3 L271.0 638.7 L271.5 632.7 L272.0 639.2 L272.5 631.7 L273.0 641.6 L273.5 630.2 L274.0 639.1 L274.5 632.8 L275.0 639.0 L275.5 631.9 L276.0 641.7 L276.5 630.6 L277.0 642.9 L277.5 633.7 L278.0 640.3 L278.5 632.3 L279.0 641.0 L279.5 631.6 L280.0 643.7 L280.0 631.5 L280.0 643.7 L280.5 633.3 L281.0 640.3 L281.5 634.1 L282.0 642.8 L282.5 632.4 L283.0 639.1 L283.5 631.7 L284.0 640.1 L284.5 634.1 L285.0 639.1 L285.5 632.7 L286.0 639.9 L286.5 631.9 L287.0 640.7 L287.5 633.9 L288.0 638.6 L288.5 633.9 L289.0 639.2 L289.5 633.3 L290.0 641.8 L290.5 632.6 L291.0 641.9 L291.5 630.5 L292.0 639.0 L292.5 631.5 L293.0 640.8 L293.5 630.8 L294.0 638.6 L294.5 630.0 L295.0 637.8 L295.5 631.1 L296.0 641.0 L296.5 632.6 L297.0 637.6 L297.5 631.7 L298.0 640.1 L298.5 630.1 L299.0 639.6 L299.5 631.3 L300.0 638.3 L300.5 629.6 L301.0 637.3 L301.5 630.9 L302.0 636.6 L302.5 629.0 L303.0 636.2 L303.5 629.5 L304.0 635.7 L304.5 630.7 L305.0 635.9 L305.5 629.6 L306.0 637.0 L306.5 631.1 L307.0 638.1 L307.5 628.8 L308.0 638.3 L308.5 628.7 L309.0 637.9 L309.5 628.5 L310.0 637.6 L310.0 628.4 L310.0 635.1 L310.5 628.2 L311.0 637.1 L311.5 629.8 L312.0 638.1 L312.5 628.5 L313.0 637.3 L313.5 631.0 L314.0 636.0 L314.5 628.9 L315.0 635.8 L315.5 630.1 L316.0 638.6 L316.5 631.1 L317.0 636.8 L317.5 629.3 L318.0 638.2 L318.5 628.8 L319.0 637.0 L319.5 629.6 L320.0 636.9 L320.5 630.5 L321.0 636.7 L321.5 629.0 L322.0 638.6 L322.5 630.5 L323.0 637.4 L323.5 629.2 L324.0 638.8 L324.5 628.4 L325.0 638.9 L325.5 627.9 L326.0 638.6 L326.5 628.6 L327.0 638.5 L327.5 631.1 L328.0 637.5 L328.5 627.9 L329.0 637.7 L329.5 630.5 L330.0 635.8 L330.5 628.6 L331.0 635.3 L331.5 626.8 L332.0 635.7 L332.5 628.0 L333.0 635.1 L333.5 629.0 L334.0 635.5 L334.5 629.8 L335.0 636.6 L335.5 627.5 L336.0 636.5 L336.5 630.3 L337.0 637.8 L337.5 627.1 L338.0 637.2 L338.5 630.6 L339.0 637.1 L339.5 629.5 L340.0 637.6 L340.5 627.9 L341.0 639.0 L341.5 630.5 L342.0 638.5 L342.5 627.1 L343.0 637.3 L343.5 627.5 L344.0 636.0 L344.5 626.2 L345.0 634.8 L345.5 627.5 L346.0 637.5 L346.5 629.0 L347.0 635.7 L347.5 627.7 L348.0 638.5 L348.5 628.4 L349.0 637.2 L349.5 628.7 L350.0 636.5 L350.5 628.5 L351.0 637.5 L351.5 626.7 L352.0 638.2 L352.5 629.4 L353.0 636.3 L353.5 625.4 L354.0 638.4 L354.5 626.8 L355.0 635.2 L355.5 625.7 L356.0 638.4 L356.5 626.9 L357.0 636.2 L357.5 625.2 L358.0 636.3 L358.5 625.9 L359.0 634.7 L359.5 627.2 L360.0 638.6 L360.0 625.8 L360.0 635.4 L360.5 627.8 L361.0 638.6 L361.5 628.3 L362.0 635.3 L362.5 628.0 L363.0 635.8 L363.5 628.6 L364.0 636.5 L364.5 627.3 L365.0 636.5 L365.5 628.1 L366.0 638.1 L366.5 628.0 L367.0 635.7 L367.5 626.0 L368.0 637.3 L368.5 627.7 L369.0 640.2 L369.5 630.6 L370.0 638.7 L370.5 629.8 L371.0 640.3 L371.5 626.4 L372.0 639.3 L372.5 627.6 L373.0 639.2 L373.5 628.1 L374.0 640.5 L374.5 631.7 L375.0 641.7 L375.0 627.4 L375.0 638.0 L375.5 630.9 L376.0 638.6 L376.5 628.5 L377.0 641.4 L377.5 632.7 L378.0 638.4 L378.5 632.7 L379.0 639.5 L379.5 630.3 L380.0 640.6 L380.5 628.9 L381.0 641.0 L381.5 629.3 L382.0 638.6 L382.5 629.4 L383.0 637.8 L383.5 632.2 L384.0 641.2 L384.5 628.9 L385.0 641.9 L385.5 628.1 L386.0 640.8 L386.5 629.0 L387.0 641.7 L387.5 632.6 L388.0 638.3 L388.5 631.5 L389.0 638.6 L389.5 630.5 L390.0 639.2 L390.5 630.2 L391.0 642.8 L391.5 630.9 L392.0 641.2 L392.5 631.1 L393.0 639.3 L393.5 629.5 L394.0 638.4 L394.5 630.5 L395.0 639.4 L395.5 629.5 L396.0 638.1 L396.5 633.3 L397.0 640.1 L397.5 632.4 L398.0 640.5 L398.5 631.7 L399.0 639.8 L399.5 632.2 L400.0 639.2 L400.5 630.9 L401.0 641.2 L401.5 630.9 L402.0 639.2 L402.5 633.1 L403.0 639.6 L403.5 632.8 L404.0 639.6 L404.5 632.1 L405.0 641.4 L405.5 632.4 L406.0 639.4 L406.5 631.3 L407.0 640.3 L407.5 631.2 L408.0 639.2 L408.5 633.4 L409.0 640.0 L409.5 631.9 L410.0 641.7 L410.0 631.5 L410.0 639.4 L410.5 635.1 L411.0 639.9 L411.5 634.5 L412.0 642.1 L412.5 633.8 L413.0 642.3 L413.5 632.8 L414.0 639.8 L414.5 632.3 L415.0 640.0 L415.5 632.4 L416.0 641.4 L416.5 635.0 L417.0 641.5 L417.5 634.9 L418.0 639.2 L418.5 632.5 L419.0 640.3 L419.5 631.5 L420.0 640.0 L420.5 632.4 L421.0 638.3 L421.5 633.2 L422.0 639.9 L422.5 633.0 L423.0 640.0 L423.5 633.7 L424.0 641.0 L424.5 632.5 L425.0 641.0 L425.5 633.0 L426.0 641.7 L426.5 632.4 L427.0 639.5 L427.5 634.8 L428.0 638.7 L428.5 635.0 L429.0 640.6 L429.5 633.3 L430.0 641.1 L430.5 634.3 L431.0 639.8 L431.5 633.2 L432.0 640.5 L432.4 632.5 L432.4 640.7 L432.5 632.1 L433.0 639.9 L433.5 633.3 L434.0 641.7 L434.5 634.3 L435.0 641.9 L435.5 633.3 L436.0 642.5 L436.5 634.5 L437.0 640.4 L437.5 636.1 L438.0 643.3 L438.5 636.3 L439.0 641.5 L439.5 636.6 L440.0 642.8 L440.5 636.9 L441.0 642.6 L441.5 637.8 L442.0 643.5 L442.5 636.8 L443.0 643.1 L443.5 635.6 L444.0 644.6 L444.5 635.7 L445.0 645.2 L445.5 636.3 L446.0 643.6 L446.5 637.2 L447.0 643.2 L447.5 637.4 L448.0 644.9 L448.5 639.0 L449.0 643.9 L449.5 637.7 L450.0 646.4 L450.5 638.4 L450.8 646.8 L450.8 637.6 L451.0 645.7 L451.5 638.5 L452.0 646.9 L452.5 641.4 L453.0 648.9 L453.5 639.3 L454.0 650.2 L454.5 642.9 L455.0 648.0 L455.5 640.8 L456.0 651.3 L456.5 644.7 L456.9 651.9 L456.9 641.7 L457.0 652.4 L457.5 643.7 L458.0 650.7 L458.5 641.4 L459.0 648.4 L459.5 641.8 L460.0 646.4 L460.5 639.3 L461.0 647.3 L461.5 640.0 L462.0 644.8 L462.5 638.9 L463.0 645.8 L463.0 637.6 L463.0 644.2 L463.5 637.7 L464.0 645.9 L464.5 639.0 L465.0 650.8 L465.5 640.4 L466.0 651.6 L466.5 645.0 L467.0 653.2 L467.5 647.9 L468.0 654.9 L468.5 647.8 L469.0 660.5 L469.1 645.8 L469.1 662.0 L469.5 648.1 L470.0 664.7 L470.5 652.4 L471.0 664.0 L471.5 654.4 L472.0 665.5 L472.5 655.2 L473.0 666.8 L473.2 651.9 L473.2 672.3 L473.5 656.8 L474.0 668.7 L474.5 652.4 L475.0 668.4 L475.5 653.1 L476.0 666.2 L476.5 654.9 L477.0 666.1 L477.3 653.9 L477.3 666.0 L477.5 656.2 L478.0 665.7 L478.5 662.5 L479.0 670.7 L479.5 667.9 L480.0 677.6 L480.5 670.9 L481.0 682.5 L481.5 677.5 L482.0 686.9 L482.5 679.9 L483.0 691.2 L483.5 687.4 L484.0 695.1 L484.5 689.5 L485.0 699.7 L485.4 694.7 L485.4 702.9 L485.5 696.8 L486.0 704.6 L486.5 703.7 L487.0 711.7 L487.5 709.7 L488.0 717.7 L488.5 714.2 L489.0 725.0 L489.5 722.8 L490.0 732.0 L490.5 728.8 L491.0 736.2 L491.5 734.8 L492.0 742.9 L492.5 741.8 L493.0 750.6 L493.2 745.0 L493.2 751.8 L493.5 744.4 L494.0 748.4 L494.5 737.9 L495.0 742.0 L495.5 734.7 L496.0 736.2 L496.5 727.8 L497.0 732.8 L497.5 721.9 L498.0 725.6 L498.5 715.3 L499.0 720.2 L499.5 711.1 L499.7 719.2 L499.7 709.0 L500.0 717.0 L500.5 709.7 L501.0 715.8 L501.5 707.2 L502.0 713.5 L502.5 702.8 L503.0 713.5 L503.5 703.8 L504.0 714.4 L504.5 700.6 L505.0 712.0 L505.5 700.8 L506.0 709.4 L506.5 700.1 L507.0 707.3 L507.5 696.8 L507.9 709.0 L507.9 691.6 L508.0 707.8 L508.5 697.6 L509.0 707.5 L509.5 697.7 L510.0 710.7 L510.5 699.4 L510.9 711.0 L510.9 700.0 L511.0 707.2 L511.5 696.5 L512.0 697.0 L512.5 685.5 L513.0 690.0 L513.0 675.3 L513.0 689.7 L513.5 679.4 L514.0 689.3 L514.5 682.6 L515.0 693.0 L515.5 684.3 L516.0 694.9 L516.5 688.1 L517.0 699.9 L517.5 690.6 L518.0 699.2 L518.5 694.2 L519.0 702.1 L519.5 698.9 L520.0 706.6 L520.1 698.8 L520.1 707.0 L520.5 699.8 L521.0 709.1 L521.5 705.6 L522.0 712.2 L522.5 707.0 L523.0 716.4 L523.5 711.3 L524.0 720.4 L524.5 715.8 L525.0 723.8 L525.2 715.0 L525.2 725.3 L525.5 716.6 L526.0 723.7 L526.5 713.8 L527.0 719.9 L527.5 705.8 L528.0 715.4 L528.3 702.9 L528.3 719.2 L528.5 699.8 L529.0 711.6 L529.5 686.0 L530.0 707.8 L530.5 665.7 L531.0 687.2 L531.3 650.0 L531.3 700.0 L531.5 663.4 L532.0 690.3 L532.5 647.3 L533.0 675.5 L533.5 652.9 L534.0 673.3 L534.5 641.4 L535.0 662.6 L535.5 638.5 L536.0 652.1 L536.5 633.3 L537.0 642.7 L537.5 632.7 L538.0 636.0 L538.5 625.4 L538.5 633.5 L538.5 626.4 L539.0 633.3 L539.5 627.8 L540.0 632.8 L540.5 625.3 L541.0 631.8 L541.5 625.0 L542.0 632.5 L542.5 624.7 L543.0 630.4 L543.5 625.0 L544.0 630.3 L544.5 623.2 L545.0 632.2 L545.5 625.6 L545.6 631.5 L545.6 623.3 L546.0 631.0 L546.5 624.9 L547.0 632.6 L547.5 621.7 L548.0 631.3 L548.5 623.4 L549.0 631.2 L549.5 622.6 L550.0 635.1 L550.5 620.5 L551.0 631.7 L551.5 623.5 L552.0 631.2 L552.5 621.5 L553.0 637.1 L553.5 618.8 L554.0 638.0 L554.5 624.5 L555.0 635.5 L555.5 619.3 L556.0 635.0 L556.5 623.5 L557.0 638.7 L557.5 618.2 L558.0 636.1 L558.5 617.4 L559.0 642.4 L559.5 619.6 L560.0 644.0 L560.0 614.6 L560.0 637.5 L560.5 612.5 L561.0 627.7 L561.5 605.8 L562.0 622.7 L562.5 599.1 L562.6 620.0 L562.6 588.7 L563.0 609.7 L563.5 600.1 L564.0 611.7 L564.5 599.9 L565.0 614.8 L565.2 604.0 L565.2 614.6 L565.5 603.9 L566.0 619.6 L566.5 601.6 L567.0 620.2 L567.5 597.2 L568.0 627.1 L568.5 595.7 L568.6 635.3 L568.6 592.0 L569.0 623.0 L569.5 583.1 L570.0 607.5 L570.5 580.1 L571.0 595.4 L571.2 559.4 L571.2 592.0 L571.5 560.8 L572.0 586.1 L572.5 561.5 L573.0 579.0 L573.5 562.4 L573.8 573.2 L573.8 557.7 L574.0 575.8 L574.5 563.7 L575.0 584.5 L575.5 572.5 L576.0 589.5 L576.5 571.8 L577.0 606.1 L577.3 569.7 L577.3 607.7 L577.5 576.8 L578.0 588.5 L578.5 565.8 L579.0 582.9 L579.5 558.8 L580.0 563.8 L580.5 546.8 L580.7 557.7 L580.7 543.0 L581.0 556.5 L581.5 550.0 L582.0 568.4 L582.5 554.9 L583.0 579.3 L583.3 557.7 L583.3 587.0 L583.5 560.3 L584.0 575.2 L584.5 555.6 L585.0 578.0 L585.5 558.9 L586.0 570.3 L586.5 551.5 L587.0 574.8 L587.5 549.3 L587.6 580.0 L587.6 543.8 L588.0 573.5 L588.5 551.3 L589.0 577.4 L589.5 547.3 L590.0 574.6 L590.2 540.0 L590.2 580.0 L590.5 547.6 L591.0 571.2 L591.5 546.0 L592.0 571.7 L592.5 548.3 L593.0 561.1 L593.5 546.3 L593.6 566.3 L593.6 541.3 L594.0 572.6 L594.5 554.3 L595.0 579.9 L595.5 570.8 L596.0 599.9 L596.5 585.3 L597.0 612.7 L597.1 583.5 L597.1 616.3 L597.5 590.3 L598.0 603.9 L598.5 588.2 L599.0 606.5 L599.5 588.3 L600.0 603.2 L600.5 586.4 L600.7 600.8 L600.7 585.3 L601.0 600.2 L601.5 588.7 L602.0 607.2 L602.5 591.4 L603.0 611.9 L603.5 595.0 L604.0 613.7 L604.5 605.0 L604.9 625.0 L604.9 600.8 L605.0 622.8 L605.5 604.5 L606.0 620.3 L606.5 607.0 L607.0 626.7 L607.5 610.7 L608.0 627.1 L608.3 614.6 L608.3 628.4 L608.5 618.1 L609.0 628.7 L609.5 621.6 L610.0 629.2 L610.5 624.4 L611.0 632.3 L611.5 624.1 L611.8 635.3 L611.8 625.0 L612.0 633.5 L612.5 620.9 L613.0 630.5 L613.5 617.0 L614.0 626.2 L614.5 616.5 L615.0 624.9 L615.2 607.7 L615.2 628.4 L615.5 610.8 L616.0 627.8 L616.5 615.3 L617.0 627.5 L617.5 618.6 L618.0 627.2 L618.5 623.9 L618.7 630.1 L618.7 623.2 L619.0 624.8 L619.5 612.5 L620.0 615.2 L620.4 600.8 L620.4 611.1 L620.5 603.9 L621.0 611.8 L621.5 603.4 L622.0 609.9 L622.5 603.1 L623.0 613.7 L623.5 601.8 L624.0 612.9 L624.5 600.2 L625.0 615.0 L625.5 604.5 L625.6 614.6 L625.6 599.0 L626.0 616.1 L626.5 606.5 L627.0 621.8 L627.5 613.8 L628.0 627.3 L628.2 618.0 L628.2 631.9 L628.5 624.3 L629.0 637.1 L629.5 632.2 L630.0 640.5 L630.5 637.9 L630.8 645.7 L630.8 640.0 L631.0 645.3 L631.5 635.7 L632.0 638.6 L632.5 630.8 L633.0 633.1 L633.5 624.5 L634.0 624.5 L634.5 618.2 L635.0 619.5 L635.5 611.8 L635.9 614.6 L635.9 607.7 L636.0 615.5 L636.5 611.4 L637.0 619.5 L637.5 617.9 L638.0 627.4 L638.5 623.1 L639.0 632.0 L639.5 630.6 L640.0 639.7 L640.5 637.1 L641.0 645.3 L641.5 641.4 L642.0 651.0 L642.5 648.2 L642.8 656.0 L642.8 650.0 L643.0 654.2 L643.5 645.5 L644.0 650.2 L644.5 642.4 L645.0 645.7 L645.5 634.7 L646.0 637.9 L646.5 628.5 L647.0 633.3 L647.5 623.6 L648.0 630.1 L648.0 619.8 L648.0 630.5 L648.5 616.2 L649.0 620.2 L649.5 609.4 L650.0 611.8 L650.5 601.3 L650.6 611.1 L650.6 599.0 L651.0 612.4 L651.5 604.7 L652.0 615.6 L652.5 607.0 L653.0 617.3 L653.5 612.5 L654.0 621.0 L654.5 619.4 L655.0 626.3 L655.5 622.8 L655.8 630.1 L655.8 623.2 L656.0 631.8 L656.5 628.9 L657.0 637.0 L657.5 635.2 L658.0 641.7 L658.5 639.2 L659.0 648.3 L659.2 644.0 L659.2 650.8 L659.5 647.1 L660.0 654.5 L660.5 652.8 L661.0 662.5 L661.5 659.0 L662.0 668.5 L662.5 667.2 L663.0 673.8 L663.5 673.0 L663.5 677.6 L663.5 674.0 L664.0 672.9 L664.5 660.1 L665.0 660.1 L665.5 644.7 L666.0 647.6 L666.1 635.3 L666.1 652.6 L666.5 631.6 L667.0 642.8 L667.5 624.9 L668.0 630.8 L668.5 620.1 L669.0 622.1 L669.5 612.9 L669.6 616.3 L669.6 611.1 L670.0 620.7 L670.5 620.0 L671.0 628.8 L671.5 629.8 L672.0 640.4 L672.5 639.7 L673.0 649.3 L673.5 649.7 L674.0 658.7 L674.5 658.8 L675.0 669.3 L675.5 668.0 L675.6 675.0 L675.6 669.0 L676.0 669.9 L676.5 660.5 L677.0 659.9 L677.5 651.4 L678.0 652.0 L678.5 640.9 L679.0 643.5 L679.5 631.5 L679.9 635.3 L679.9 626.7 L680.0 632.6 L680.5 627.9 L681.0 636.7 L681.5 629.2 L682.0 637.0 L682.5 630.9 L683.0 637.5 L683.5 633.5 L684.0 638.2 L684.5 635.0 L685.0 641.4 L685.5 635.9 L686.0 641.9 L686.5 636.9 L687.0 645.1 L687.5 639.2 L687.7 645.7 L687.7 638.8 L688.0 640.4 L688.5 628.2 L689.0 627.5 L689.5 615.8 L690.0 613.6 L690.5 602.4 L691.0 602.8 L691.1 592.2 L691.1 600.8 L691.5 593.3 L692.0 600.0 L692.5 594.1 L693.0 601.9 L693.5 593.7 L694.0 600.3 L694.5 592.7 L695.0 602.4 L695.5 595.4 L696.0 604.4 L696.5 595.2 L697.0 602.4 L697.5 594.1 L698.0 605.4 L698.5 594.9 L699.0 606.6 L699.5 596.5 L699.8 607.7 L699.8 593.9 L700.0 607.3 L700.5 595.3 L701.0 608.3 L701.5 597.7 L702.0 608.0 L702.5 596.6 L703.0 607.1 L703.5 599.7 L704.0 608.2 L704.5 599.0 L705.0 606.3 L705.5 598.9 L706.0 606.3 L706.5 598.6 L707.0 607.3 L707.5 598.6 L708.0 609.7 L708.5 600.2 L709.0 608.7 L709.5 600.1 L710.0 609.0 L710.5 601.6 L711.0 608.5 L711.5 602.2 L711.9 611.1 L711.9 602.5 L712.0 610.7 L712.5 607.2 L713.0 625.7 L713.5 611.4 L714.0 649.6 L714.4 610.0 L714.4 660.0 L714.5 630.9 L715.0 669.9 L715.3 668.0 L715.3 675.0 L715.5 669.2 L716.0 672.7 L716.5 668.4 L717.0 672.1 L717.5 666.0 L718.0 672.6 L718.5 663.8 L719.0 671.2 L719.5 664.2 L720.0 668.1 L720.5 663.5 L721.0 669.4 L721.5 660.7 L722.0 667.6 L722.5 659.0 L723.0 666.4 L723.5 659.6 L723.9 666.4 L723.9 657.7 L724.0 665.7 L724.5 657.7 L725.0 664.9 L725.5 659.1 L726.0 665.2 L726.5 657.7 L727.0 663.0 L727.5 657.1 L728.0 662.9 L728.5 657.3 L729.0 664.7 L729.5 656.0 L730.0 663.0 L730.5 656.8 L731.0 662.0 L731.5 656.6 L732.0 662.1 L732.5 656.3 L732.6 663.0 L732.6 654.3 L733.0 660.6 L733.5 650.2 L734.0 655.0 L734.5 643.2 L735.0 647.1 L735.5 636.8 L736.0 640.8 L736.5 631.3 L737.0 634.0 L737.5 626.7 L737.7 631.9 L737.7 623.2 L738.0 630.5 L738.5 625.9 L739.0 630.0 L739.5 624.7 L740.0 630.7 L740.5 623.9 L741.0 631.6 L741.5 624.4 L742.0 634.0 L742.5 626.5 L743.0 633.3 L743.5 626.4 L744.0 633.1 L744.5 628.2 L745.0 634.7 L745.5 628.7 L746.0 635.7 L746.5 629.5 L747.0 635.9 L747.5 630.7 L748.0 635.1 L748.5 630.0 L749.0 638.6 L749.5 628.4 L749.8 638.0 L749.8 628.4 L750.0 637.0 L750.5 632.0 L751.0 635.8 L751.5 629.9 L752.0 638.0 L752.5 628.9 L753.0 639.3 L753.5 629.5 L754.0 636.3 L754.5 631.4 L755.0 638.7 L755.5 630.5 L756.0 638.1 L756.5 630.8 L757.0 638.8 L757.5 629.7 L758.0 639.3 L758.5 631.6 L759.0 636.1 L759.5 629.9 L760.0 637.9 L760.5 629.0 L761.0 637.2 L761.5 631.1 L762.0 638.2 L762.5 631.5 L763.0 636.8 L763.5 630.5 L764.0 638.0 L764.5 632.1 L765.0 638.1 L765.5 631.2 L766.0 637.3 L766.5 630.4 L767.0 638.5 L767.1 629.9 L767.1 640.6 L767.5 629.4 L768.0 639.1 L768.5 633.1 L769.0 637.9 L769.5 631.2 L770.0 638.6 L770.5 632.5 L771.0 640.2 L771.5 634.2 L772.0 639.3 L772.5 635.3 L773.0 642.7 L773.5 635.4 L774.0 641.9 L774.5 634.4 L775.0 643.1 L775.5 636.0 L776.0 643.6 L776.5 634.6 L777.0 644.1 L777.5 635.4 L778.0 641.6 L778.5 634.8 L779.0 642.4 L779.2 634.8 L779.2 645.5 L779.5 634.3 L780.0 645.5 L780.5 636.8 L781.0 645.2 L781.5 634.1 L782.0 641.9 L782.5 635.8 L783.0 644.0 L783.5 637.0 L784.0 644.7 L784.5 633.9 L785.0 642.9 L785.5 635.4 L786.0 643.4 L786.5 634.7 L787.0 641.6 L787.5 634.9 L788.0 644.4 L788.5 634.8 L789.0 643.5 L789.5 637.2 L790.0 645.2 L790.5 634.9 L791.0 644.5 L791.5 637.0 L792.0 642.9 L792.5 634.7 L793.0 641.9 L793.5 634.8 L794.0 645.0 L794.5 634.4 L795.0 645.0 L795.5 634.7 L796.0 642.6 L796.5 635.4 L797.0 643.7 L797.5 634.3 L798.0 644.4 L798.5 635.1 L799.0 644.9 L799.5 634.3 L800.0 643.9 L800.5 635.9 L801.0 644.9 L801.5 636.7 L802.0 642.5 L802.5 635.8 L802.7 643.7 L802.7 633.5 L803.0 643.5 L803.5 635.8 L804.0 642.5 L804.5 633.6 L805.0 644.8 L805.5 634.7 L806.0 641.9 L806.5 636.6 L807.0 641.6 L807.5 635.7 L808.0 643.0 L808.5 635.9 L809.0 643.0 L809.5 633.9 L810.0 644.6 L810.5 637.1 L811.0 643.5 L811.5 636.1 L812.0 645.0 L812.5 636.9 L813.0 642.6 L813.5 635.0 L814.0 641.5 L814.5 635.6 L815.0 644.3 L815.5 636.1 L816.0 643.2 L816.5 633.5 L817.0 641.8 L817.5 636.1 L818.0 641.9 L818.5 634.1 L819.0 645.5 L819.5 635.7 L820.0 645.2 L820.5 635.0 L821.0 644.9 L821.5 636.0 L822.0 644.7 L822.5 633.6 L823.0 643.9 L823.5 635.1 L824.0 644.3 L824.5 635.3 L825.0 643.2 L825.5 637.3 L826.0 645.0 L826.5 634.8 L827.0 645.8 L827.5 633.8 L828.0 645.0 L828.5 634.3 L829.0 643.2 L829.5 637.3 L830.0 643.4 L830.5 634.1 L831.0 645.2 L831.5 636.3 L832.0 643.9 L832.5 633.8 L833.0 644.8 L833.5 635.5 L834.0 646.2 L834.5 636.0 L835.0 644.5 L835.4 634.2 L835.4 646.4 L835.5 637.7 L836.0 644.5 L836.5 637.2 L837.0 644.3 L837.5 636.3 L838.0 641.3 L838.5 635.6 L839.0 644.3 L839.5 632.7 L840.0 640.9 L840.5 631.0 L841.0 639.0 L841.5 632.8 L842.0 641.2 L842.5 630.2 L843.0 641.1 L843.5 630.6 L844.0 639.1 L844.5 632.4 L845.0 640.1 L845.5 631.1 L846.0 637.4 L846.5 631.7 L847.0 638.0 L847.5 629.0 L848.0 637.9 L848.5 628.5 L848.6 638.1 L848.6 627.9 L849.0 636.0 L849.5 629.3 L850.0 639.0 L850.5 634.3 L851.0 643.1 L851.5 636.2 L852.0 642.9 L852.5 634.1 L853.0 648.1 L853.5 637.5 L854.0 647.6 L854.5 639.8 L855.0 652.2 L855.5 642.5 L856.0 651.5 L856.5 643.7 L857.0 654.0 L857.5 642.0 L858.0 654.7 L858.5 648.2 L859.0 659.9 L859.5 650.8 L860.0 658.5 L860.5 647.1 L860.9 666.6 L860.9 648.4 L861.0 665.1 L861.5 648.5 L862.0 660.1 L862.5 646.0 L863.0 656.9 L863.5 641.2 L864.0 649.6 L864.5 637.6 L865.0 644.3 L865.5 633.0 L866.0 642.7 L866.5 630.7 L867.0 635.7 L867.5 623.3 L868.0 631.9 L868.5 619.4 L869.0 630.3 L869.0 616.5 L869.0 629.0 L869.5 619.1 L870.0 631.3 L870.5 623.4 L871.0 635.2 L871.5 629.0 L872.0 638.4 L872.5 631.4 L873.0 643.4 L873.1 633.3 L873.1 646.1 L873.5 635.8 L874.0 640.4 L874.5 631.8 L875.0 639.0 L875.5 629.2 L876.0 638.7 L876.5 625.3 L877.0 634.5 L877.5 623.3 L878.0 632.6 L878.5 621.9 L879.0 627.8 L879.2 619.5 L879.2 629.6 L879.5 619.7 L880.0 628.1 L880.5 621.2 L881.0 630.3 L881.5 624.0 L882.0 631.6 L882.5 626.4 L883.0 633.0 L883.5 628.8 L884.0 637.7 L884.5 632.0 L885.0 638.2 L885.3 631.6 L885.3 639.7 L885.5 632.7 L886.0 637.9 L886.5 629.6 L887.0 636.5 L887.5 629.2 L888.0 636.8 L888.5 629.1 L889.0 634.6 L889.5 627.9 L890.0 634.0 L890.5 624.3 L891.0 631.3 L891.5 624.6 L892.0 631.3 L892.5 621.9 L893.0 627.8 L893.5 621.5 L894.0 627.3 L894.5 618.4 L894.5 627.5 L894.5 620.2 L895.0 628.5 L895.5 621.7 L896.0 631.5 L896.5 620.9 L897.0 632.1 L897.5 622.8 L898.0 632.0 L898.5 626.9 L899.0 638.1 L899.5 627.3 L900.0 637.2 L900.5 627.9 L901.0 641.6 L901.5 626.2 L901.6 643.7 L901.6 625.4 L902.0 641.5 L902.5 629.8 L903.0 644.5 L903.5 634.8 L904.0 642.6 L904.5 632.7 L905.0 649.5 L905.5 637.8 L906.0 648.1 L906.5 635.2 L907.0 652.3 L907.5 642.5 L907.8 653.9 L907.8 638.0 L908.0 649.9 L908.5 640.2 L909.0 653.0 L909.5 640.0 L910.0 651.0 L910.5 638.2 L911.0 651.4 L911.5 641.7 L912.0 647.9 L912.5 640.9 L913.0 649.0 L913.5 640.8 L914.0 646.8 L914.1 638.0 L914.1 648.8 L914.5 635.9 L915.0 644.9 L915.5 634.2 L916.0 641.0 L916.5 629.7 L917.0 642.4 L917.5 626.3 L918.0 637.9 L918.2 617.2 L918.2 639.6 L918.5 617.0 L919.0 632.7 L919.5 615.2 L920.0 630.6 L920.5 614.3 L921.0 624.5 L921.5 611.1 L922.0 621.7 L922.5 611.3 L923.0 619.0 L923.5 607.0 L924.0 613.5 L924.3 605.0 L924.3 613.1 L924.5 605.8 L925.0 614.4 L925.5 606.4 L926.0 613.2 L926.5 608.4 L927.0 616.6 L927.5 606.6 L928.0 616.4 L928.5 608.8 L929.0 616.0 L929.5 610.0 L930.0 620.5 L930.4 607.0 L930.4 621.3 L930.5 608.4 L931.0 620.4 L931.5 614.4 L932.0 626.8 L932.5 622.1 L933.0 633.3 L933.5 624.6 L934.0 639.2 L934.5 628.0 L934.5 641.7 L934.5 629.4 L935.0 639.6 L935.5 628.9 L936.0 636.2 L936.5 627.3 L937.0 637.9 L937.5 627.3 L938.0 638.3 L938.5 629.3 L939.0 635.1 L939.5 627.9 L940.0 634.8 L940.5 628.2 L941.0 633.1 L941.5 625.8 L942.0 633.5 L942.5 626.3 L943.0 635.0 L943.5 626.5 L944.0 631.9 L944.5 627.1 L945.0 632.4 L945.5 627.2 L946.0 632.7 L946.5 625.3 L946.7 631.5 L946.7 625.4 L947.0 630.4 L947.5 623.7 L948.0 625.1 L948.5 617.4 L949.0 621.0 L949.5 613.6 L950.0 616.9 L950.5 607.1 L951.0 611.5 L951.5 603.7 L952.0 607.6 L952.5 599.9 L952.8 605.0 L952.8 596.9 L953.0 606.0 L953.5 599.0 L954.0 608.3 L954.5 601.7 L955.0 609.5 L955.5 601.5 L956.0 610.4 L956.5 604.4 L957.0 612.0 L957.5 606.0 L958.0 613.6 L958.5 606.6 L959.0 617.0 L959.5 610.3 L960.0 619.5 L960.5 611.1 L961.0 619.0 L961.5 615.4 L962.0 625.4 L962.0 613.0 L962.0 625.0 L962.5 613.2 L963.0 620.3 L963.5 612.6 L964.0 622.2 L964.5 612.9 L965.0 619.0 L965.5 610.5 L966.0 618.9 L966.5 611.9 L967.0 617.7 L967.5 609.5 L968.0 617.1 L968.5 609.1 L969.0 615.7 L969.5 606.7 L970.0 612.8 L970.5 607.3 L971.0 611.3 L971.2 606.0 L971.2 613.1 L971.5 607.6 L972.0 614.0 L972.5 606.8 L973.0 614.9 L973.5 609.3 L974.0 619.6 L974.5 609.5 L975.0 618.1 L975.5 610.4 L976.0 624.1 L976.5 613.1 L977.0 622.3 L977.5 615.7 L978.0 624.9 L978.5 615.0 L979.0 630.0 L979.5 614.8 L980.0 631.7 L980.5 620.4 L981.0 629.5 L981.5 621.8 L982.0 634.8 L982.4 618.0 L982.4 637.6 L982.5 619.6 L983.0 629.5 L983.5 616.2 L984.0 628.8 L984.5 613.3 L985.0 628.1 L985.5 614.1 L986.0 623.6 L986.5 610.2 L987.0 621.4 L987.5 609.6 L988.0 616.5 L988.5 607.0 L988.5 617.2 L988.5 609.5 L989.0 616.8 L989.5 610.4 L990.0 618.7 L990.5 611.4 L991.0 619.2 L991.5 611.8 L992.0 621.5 L992.5 613.4 L993.0 621.7 L993.5 614.5 L994.0 622.1 L994.5 617.0 L995.0 622.7 L995.5 616.9 L996.0 625.7 L996.5 616.7 L997.0 627.4 L997.5 618.4 L998.0 629.1 L998.5 622.7 L999.0 630.1 L999.5 621.4 L999.7 631.5 L999.7 621.3 L1000.0 630.1 L1000.5 623.2 L1001.0 631.2 L1001.5 622.9 L1002.0 629.7 L1002.5 622.6 L1003.0 629.0 L1003.5 622.1 L1004.0 629.8 L1004.5 621.5 L1005.0 631.7 L1005.5 621.5 L1006.0 629.7 L1006.5 624.9 L1007.0 631.7 L1007.5 622.3 L1008.0 631.0 L1008.5 624.9 L1009.0 630.1 L1009.5 625.3 L1010.0 629.8 L1010.5 622.6 L1011.0 629.7 L1011.5 622.7 L1012.0 631.5 L1012.0 623.4 L1012.0 630.5 L1012.5 624.0 L1013.0 630.2 L1013.5 622.6 L1014.0 628.4 L1014.5 621.4 L1015.0 628.9 L1015.5 621.0 L1016.0 628.2 L1016.5 620.3 L1017.0 627.3 L1017.5 620.0 L1018.0 627.1 L1018.5 622.1 L1019.0 629.1 L1019.5 622.2 L1020.0 630.0 L1020.5 621.7 L1021.0 629.5 L1021.5 622.1 L1022.0 629.6 L1022.5 621.5 L1023.0 627.2 L1023.5 619.1 L1024.0 625.5 L1024.5 617.6 L1025.0 628.4 L1025.5 616.7 L1026.0 627.6 L1026.2 616.2 L1026.2 627.4 L1026.5 617.0 L1027.0 626.5 L1027.5 618.6 L1028.0 625.7 L1028.5 620.2 L1029.0 629.4 L1029.5 620.3 L1030.0 630.7 L1030.5 622.1 L1031.0 629.4 L1031.5 621.7 L1032.0 628.4 L1032.5 624.3 L1033.0 629.2 L1033.5 622.4 L1034.0 630.2 L1034.5 622.8 L1035.0 632.7 L1035.5 622.8 L1036.0 633.5 L1036.4 623.4 L1036.4 633.5 L1036.5 623.8 L1037.0 632.7 L1037.5 625.1 L1038.0 630.9 L1038.5 623.2 L1039.0 631.7 L1039.5 625.5 L1040.0 630.1 L1040.5 624.7 L1041.0 631.2 L1041.5 624.6 L1042.0 631.0 L1042.5 624.1 L1043.0 631.0 L1043.5 621.4 L1044.0 628.4 L1044.5 620.8 L1045.0 630.5 L1045.5 621.0 L1046.0 629.1 L1046.5 621.2 L1047.0 630.7 L1047.5 620.1 L1048.0 628.9 L1048.5 621.5 L1049.0 629.1 L1049.5 620.6 L1050.0 630.6 L1050.5 621.8 L1051.0 629.9 L1051.5 622.1 L1052.0 629.9 L1052.5 620.2 L1052.7 629.4 L1052.7 619.3 L1053.0 628.7 L1053.5 619.8 L1054.0 628.5 L1054.5 621.7 L1055.0 630.2 L1055.5 622.9 L1056.0 628.8 L1056.5 621.2 L1057.0 627.9 L1057.5 621.8 L1058.0 629.2 L1058.5 620.8 L1059.0 630.6 L1059.5 620.3 L1060.0 627.9 L1060.5 620.4 L1061.0 627.5 L1061.5 621.2 L1062.0 627.1 L1062.5 619.3 L1063.0 629.1 L1063.5 620.4 L1064.0 627.3 L1064.5 620.0 L1065.0 630.6 L1065.5 618.8 L1066.0 628.9 L1066.5 622.6 L1067.0 629.4 L1067.5 621.3 L1068.0 629.4 L1068.5 623.2 L1069.0 631.9 L1069.5 622.0 L1070.0 629.4 L1070.5 623.3 L1071.0 632.0 L1071.5 621.4 L1072.0 629.4 L1072.5 621.7 L1073.0 630.5 L1073.1 619.3 L1073.1 631.5 L1073.5 619.3 L1074.0 630.5 L1074.5 622.6 L1075.0 631.1 L1075.5 622.7 L1076.0 629.1 L1076.5 622.1 L1077.0 629.3 L1077.5 621.1 L1078.0 631.5 L1078.5 620.6 L1079.0 630.6 L1079.5 620.2 L1080.0 632.1 L1080.5 622.2 L1081.0 630.1 L1081.5 622.2 L1082.0 630.1 L1082.5 621.7 L1083.0 630.9 L1083.5 623.2 L1084.0 632.1 L1084.5 621.8 L1085.0 631.6 L1085.5 625.4 L1086.0 631.1 L1086.5 622.7 L1087.0 630.9 L1087.5 624.4 L1088.0 633.5 L1088.5 623.6 L1089.0 632.6 L1089.5 625.7 L1090.0 631.9 L1090.5 623.0 L1091.0 633.6 L1091.5 626.0 L1092.0 632.6 L1092.5 623.2 L1093.0 632.4 L1093.5 623.4 L1093.5 633.5 L1093.5 623.9 L1094.0 633.8 L1094.5 625.6 L1095.0 633.7 L1095.5 624.0 L1096.0 635.0 L1096.5 624.9 L1097.0 632.5 L1097.5 626.9 L1098.0 633.0 L1098.5 625.3 L1099.0 634.8 L1099.5 625.3 L1100.0 634.5 L1100.5 626.7 L1101.0 636.6 L1101.5 628.0 L1102.0 634.3 L1102.5 627.6 L1103.0 636.9 L1103.5 628.4 L1104.0 635.0 L1104.5 629.8 L1105.0 637.5 L1105.5 630.1 L1106.0 637.1 L1106.5 631.9 L1107.0 638.6 L1107.5 628.8 L1108.0 639.5 L1108.5 630.7 L1109.0 638.6 L1109.5 630.8 L1110.0 640.1 L1110.5 633.2 L1111.0 637.7 L1111.5 633.2 L1111.9 641.7 L1111.9 631.5 L1112.0 638.1 L1112.5 632.1 L1113.0 642.1 L1113.5 632.0 L1114.0 640.7 L1114.5 632.2 L1115.0 640.4 L1115.5 633.9 L1116.0 644.1 L1116.5 634.6 L1117.0 642.0 L1117.5 634.4 L1118.0 646.0 L1118.5 634.3 L1119.0 645.7 L1119.5 636.1 L1120.0 645.4 L1120.5 636.5 L1121.0 647.4 L1121.5 635.9 L1122.0 646.5 L1122.5 638.1 L1123.0 646.4 L1123.5 635.4 L1124.0 648.0 L1124.1 635.6 L1124.1 649.8 L1124.5 638.2 L1125.0 649.1 L1125.5 634.8 L1126.0 648.5 L1126.5 634.5 L1127.0 645.3 L1127.5 638.1 L1128.0 645.8 L1128.5 633.4 L1129.0 645.7 L1129.5 636.1 L1130.0 643.2 L1130.5 636.0 L1131.0 644.4 L1131.5 634.4 L1132.0 642.9 L1132.5 632.6 L1133.0 641.0 L1133.5 631.6 L1134.0 643.0 L1134.5 630.0 L1135.0 638.0 L1135.5 631.1 L1136.0 641.4 L1136.5 631.6 L1137.0 639.1 L1137.5 631.2 L1138.0 635.9 L1138.4 627.4 L1138.4 639.6 L1138.5 628.4 L1139.0 636.9 L1139.5 630.6 L1140.0 639.2 L1140.5 627.6 L1141.0 639.5 L1141.5 630.8 L1142.0 637.8 L1142.5 630.2 L1143.0 638.5 L1143.5 627.5 L1144.0 639.9 L1144.5 626.9 L1145.0 638.1 L1145.5 630.3 L1146.0 639.8 L1146.5 630.0 L1147.0 637.9 L1147.5 628.8 L1148.0 639.7 L1148.5 627.9 L1149.0 639.1 L1149.5 628.1 L1150.0 638.8 L1150.5 631.6 L1151.0 639.3 L1151.5 632.0 L1152.0 638.0 L1152.5 628.3 L1153.0 640.8 L1153.5 631.6 L1154.0 641.8" stroke="#00ff00" stroke-width="1.6" fill="none" shape-rendering="crispEdges"/>
<path d="M166.0 635.3 L166.5 628.3 L167.0 635.2 L167.5 630.5 L168.0 634.9 L168.5 630.7 L169.0 634.6 L169.5 631.2 L170.0 635.7 L170.5 630.7 L171.0 636.0 L171.5 630.5 L172.0 635.2 L172.5 629.7 L173.0 637.6 L173.5 630.7 L174.0 636.3 L174.5 631.8 L175.0 636.8 L175.5 631.8 L176.0 635.3 L176.5 628.8 L177.0 635.9 L177.5 631.5 L178.0 637.8 L178.5 629.8 L179.0 637.1 L179.5 630.9 L180.0 637.8 L180.5 632.0 L181.0 635.7 L181.5 628.8 L182.0 638.5 L182.5 629.6 L183.0 638.5 L183.5 631.5 L184.0 638.4 L184.5 628.8 L185.0 638.8 L185.5 628.5 L186.0 637.0 L186.5 630.0 L187.0 639.5 L187.5 631.0 L188.0 636.4 L188.5 631.2 L189.0 636.6 L189.5 628.8 L190.0 636.6 L190.5 628.5 L191.0 638.8 L191.5 630.6 L192.0 640.0 L192.0 629.0 L192.0 639.7 L192.5 631.5 L193.0 638.9 L193.5 631.6 L194.0 638.1 L194.5 629.9 L195.0 637.4 L195.5 633.1 L196.0 637.7 L196.5 632.2 L197.0 639.6 L197.5 631.1 L198.0 639.5 L198.5 633.1 L199.0 638.2 L199.5 631.1 L200.0 639.6 L200.0 630.5 L200.0 638.5 L200.5 630.2 L201.0 637.2 L201.5 631.0 L202.0 639.1 L202.5 631.1 L203.0 639.4 L203.5 630.1 L204.0 637.0 L204.5 631.7 L205.0 638.7 L205.5 630.6 L206.0 636.9 L206.5 632.2 L207.0 638.9 L207.5 630.4 L208.0 639.1 L208.5 630.7 L209.0 637.6 L209.5 632.4 L210.0 637.0 L210.5 632.5 L211.0 639.1 L211.5 630.9 L212.0 640.0 L212.5 632.3 L213.0 638.9 L213.5 631.1 L214.0 638.4 L214.5 631.6 L215.0 639.3 L215.5 631.0 L216.0 639.5 L216.5 630.5 L217.0 639.5 L217.5 629.1 L218.0 639.4 L218.5 631.4 L219.0 639.3 L219.5 631.5 L220.0 637.2 L220.5 631.7 L221.0 639.0 L221.5 629.0 L222.0 635.9 L222.5 629.0 L223.0 636.4 L223.5 631.4 L224.0 638.7 L224.5 629.3 L225.0 636.1 L225.5 631.0 L226.0 635.5 L226.5 631.3 L227.0 637.7 L227.5 629.5 L228.0 638.4 L228.5 630.0 L229.0 639.3 L229.5 630.0 L230.0 638.3 L230.5 629.0 L231.0 639.6 L231.5 628.9 L232.0 636.4 L232.5 629.3 L233.0 636.4 L233.5 629.2 L234.0 636.4 L234.5 629.1 L235.0 636.3 L235.5 628.8 L236.0 636.8 L236.5 629.9 L237.0 635.3 L237.5 627.9 L238.0 637.6 L238.5 629.2 L239.0 635.7 L239.5 630.6 L240.0 636.8 L240.5 631.1 L241.0 635.6 L241.5 628.3 L242.0 638.1 L242.5 630.9 L243.0 638.0 L243.5 628.6 L244.0 637.2 L244.5 629.0 L245.0 639.0 L245.5 629.1 L246.0 635.5 L246.5 629.1 L247.0 637.4 L247.5 629.5 L248.0 638.7 L248.5 628.8 L249.0 635.6 L249.5 628.3 L250.0 635.5 L250.5 630.1 L251.0 635.5 L251.5 628.3 L252.0 637.7 L252.5 630.1 L253.0 634.8 L253.5 630.3 L254.0 637.8 L254.5 628.1 L255.0 635.4 L255.5 629.5 L256.0 636.5 L256.5 627.4 L257.0 635.6 L257.5 629.6 L258.0 637.9 L258.5 630.2 L259.0 638.3 L259.5 630.4 L260.0 637.6 L260.0 627.4 L260.0 637.9 L260.5 630.1 L261.0 638.4 L261.5 630.8 L262.0 637.7 L262.5 627.6 L263.0 635.9 L263.5 629.1 L264.0 638.7 L264.5 628.9 L265.0 636.1 L265.5 628.1 L266.0 638.4 L266.5 631.3 L267.0 638.5 L267.5 628.4 L268.0 638.7 L268.5 631.5 L269.0 637.0 L269.5 629.4 L270.0 637.6 L270.5 631.3 L271.0 638.7 L271.5 632.7 L272.0 639.2 L272.5 631.7 L273.0 641.6 L273.5 630.2 L274.0 639.1 L274.5 632.8 L275.0 639.0 L275.5 631.9 L276.0 641.7 L276.5 630.6 L277.0 642.9 L277.5 633.7 L278.0 640.3 L278.5 632.3 L279.0 641.0 L279.5 631.6 L280.0 643.7 L280.0 631.5 L280.0 643.7 L280.5 633.3 L281.0 640.3 L281.5 634.1 L282.0 642.8 L282.5 632.4 L283.0 639.1 L283.5 631.7 L284.0 640.1 L284.5 634.1 L285.0 639.1 L285.5 632.7 L286.0 639.9 L286.5 631.9 L287.0 640.7 L287.5 633.9 L288.0 638.6 L288.5 633.9 L289.0 639.2 L289.5 633.3 L290.0 641.8 L290.5 632.6 L291.0 641.9 L291.5 630.5 L292.0 639.0 L292.5 631.5 L293.0 640.8 L293.5 630.8 L294.0 638.6 L294.5 630.0 L295.0 637.8 L295.5 631.1 L296.0 641.0 L296.5 632.6 L297.0 637.6 L297.5 631.7 L298.0 640.1 L298.5 630.1 L299.0 639.6 L299.5 631.3 L300.0 638.3 L300.5 629.6 L301.0 637.3 L301.5 630.9 L302.0 636.6 L302.5 629.0 L303.0 636.2 L303.5 629.5 L304.0 635.7 L304.5 630.7 L305.0 635.9 L305.5 629.6 L306.0 637.0 L306.5 631.1 L307.0 638.1 L307.5 628.8 L308.0 638.3 L308.5 628.7 L309.0 637.9 L309.5 628.5 L310.0 637.6 L310.0 628.4 L310.0 635.1 L310.5 628.2 L311.0 637.1 L311.5 629.8 L312.0 638.1 L312.5 628.5 L313.0 637.3 L313.5 631.0 L314.0 636.0 L314.5 628.9 L315.0 635.8 L315.5 630.1 L316.0 638.6 L316.5 631.1 L317.0 636.8 L317.5 629.3 L318.0 638.2 L318.5 628.8 L319.0 637.0 L319.5 629.6 L320.0 636.9 L320.5 630.5 L321.0 636.7 L321.5 629.0 L322.0 638.6 L322.5 630.5 L323.0 637.4 L323.5 629.2 L324.0 638.8 L324.5 628.4 L325.0 638.9 L325.5 627.9 L326.0 638.6 L326.5 628.6 L327.0 638.5 L327.5 631.1 L328.0 637.5 L328.5 627.9 L329.0 637.7 L329.5 630.5 L330.0 635.8 L330.5 628.6 L331.0 635.3 L331.5 626.8 L332.0 635.7 L332.5 628.0 L333.0 635.1 L333.5 629.0 L334.0 635.5 L334.5 629.8 L335.0 636.6 L335.5 627.5 L336.0 636.5 L336.5 630.3 L337.0 637.8 L337.5 627.1 L338.0 637.2 L338.5 630.6 L339.0 637.1 L339.5 629.5 L340.0 637.6 L340.5 627.9 L341.0 639.0 L341.5 630.5 L342.0 638.5 L342.5 627.1 L343.0 637.3 L343.5 627.5 L344.0 636.0 L344.5 626.2 L345.0 634.8 L345.5 627.5 L346.0 637.5 L346.5 629.0 L347.0 635.7 L347.5 627.7 L348.0 638.5 L348.5 628.4 L349.0 637.2 L349.5 628.7 L350.0 636.5 L350.5 628.5 L351.0 637.5 L351.5 626.7 L352.0 638.2 L352.5 629.4 L353.0 636.3 L353.5 625.4 L354.0 638.4 L354.5 626.8 L355.0 635.2 L355.5 625.7 L356.0 638.4 L356.5 626.9 L357.0 636.2 L357.5 625.2 L358.0 636.3 L358.5 625.9 L359.0 634.7 L359.5 627.2 L360.0 638.6 L360.0 625.8 L360.0 635.4 L360.5 627.8 L361.0 638.6 L361.5 628.3 L362.0 635.3 L362.5 628.0 L363.0 635.8 L363.5 628.6 L364.0 636.5 L364.5 627.3 L365.0 636.5 L365.5 628.1 L366.0 638.1 L366.5 628.0 L367.0 635.7 L367.5 626.0 L368.0 637.3 L368.5 627.7 L369.0 640.2 L369.5 630.6 L370.0 638.7 L370.5 629.8 L371.0 640.3 L371.5 626.4 L372.0 639.3 L372.5 627.6 L373.0 639.2 L373.5 628.1 L374.0 640.5 L374.5 631.7 L375.0 641.7 L375.0 627.4 L375.0 638.0 L375.5 630.9 L376.0 638.6 L376.5 628.5 L377.0 641.4 L377.5 632.7 L378.0 638.4 L378.5 632.7 L379.0 639.5 L379.5 630.3 L380.0 640.6 L380.5 628.9 L381.0 641.0 L381.5 629.3 L382.0 638.6 L382.5 629.4 L383.0 637.8 L383.5 632.2 L384.0 641.2 L384.5 628.9 L385.0 641.9 L385.5 628.1 L386.0 640.8 L386.5 629.0 L387.0 641.7 L387.5 632.6 L388.0 638.3 L388.5 631.5 L389.0 638.6 L389.5 630.5 L390.0 639.2 L390.5 630.2 L391.0 642.8 L391.5 630.9 L392.0 641.2 L392.5 631.1 L393.0 639.3 L393.5 629.5 L394.0 638.4 L394.5 630.5 L395.0 639.4 L395.5 629.5 L396.0 638.1 L396.5 633.3 L397.0 640.1 L397.5 632.4 L398.0 640.5 L398.5 631.7 L399.0 639.8 L399.5 632.2 L400.0 639.2 L400.5 630.9 L401.0 641.2 L401.5 630.9 L402.0 639.2 L402.5 633.1 L403.0 639.6 L403.5 632.8 L404.0 639.6 L404.5 632.1 L405.0 641.4 L405.5 632.4 L406.0 639.4 L406.5 631.3 L407.0 640.3 L407.5 631.2 L408.0 639.2 L408.5 633.4 L409.0 640.0 L409.5 631.9 L410.0 641.7 L410.0 631.5 L410.0 639.4 L410.5 635.1 L411.0 639.9 L411.5 634.5 L412.0 642.1 L412.5 633.8 L413.0 642.3 L413.5 632.8 L414.0 639.8 L414.5 632.3 L415.0 640.0 L415.5 632.4 L416.0 641.4 L416.5 635.0 L417.0 641.5 L417.5 634.9 L418.0 639.2 L418.5 632.5 L419.0 640.3 L419.5 631.5 L420.0 640.0 L420.5 632.4 L421.0 638.3 L421.5 633.2 L422.0 639.9 L422.5 633.0 L423.0 640.0 L423.5 633.7 L424.0 641.0 L424.5 632.5 L425.0 641.0 L425.5 633.0 L426.0 641.7 L426.5 632.4 L427.0 639.5 L427.5 634.8 L428.0 638.7 L428.5 635.0 L429.0 640.6 L429.5 633.3 L430.0 641.1 L430.5 634.3 L431.0 639.8 L431.5 633.2 L432.0 640.5 L432.4 632.5 L432.4 640.7 L432.5 632.1 L433.0 639.9 L433.5 633.3 L434.0 641.7 L434.5 634.3 L435.0 641.9 L435.5 633.3 L436.0 642.5 L436.5 634.5 L437.0 640.4 L437.5 636.1 L438.0 643.3 L438.5 636.3 L439.0 641.5 L439.5 636.6 L440.0 642.8 L440.5 636.9 L441.0 642.6 L441.5 637.8 L442.0 643.5 L442.5 636.8 L443.0 643.1 L443.5 635.6 L444.0 644.6 L444.5 635.7 L445.0 645.2 L445.5 636.3 L446.0 643.6 L446.5 637.2 L447.0 643.2 L447.5 637.4 L448.0 644.9 L448.5 639.0 L449.0 643.9 L449.5 637.7 L450.0 646.4 L450.5 638.4 L450.8 646.8 L450.8 637.6 L451.0 645.7 L451.5 638.5 L452.0 646.9 L452.5 641.4 L453.0 648.9 L453.5 639.3 L454.0 650.2 L454.5 642.9 L455.0 648.0 L455.5 640.8 L456.0 651.3 L456.5 644.7 L456.9 651.9 L456.9 641.7 L457.0 652.4 L457.5 643.7 L458.0 650.7 L458.5 641.4 L459.0 648.4 L459.5 641.8 L460.0 646.4 L460.5 639.3 L461.0 647.3 L461.5 640.0 L462.0 644.8 L462.5 638.9 L463.0 645.8 L463.0 637.6 L463.0 644.2 L463.5 637.7 L464.0 645.9 L464.5 639.0 L465.0 650.8 L465.5 640.4 L466.0 651.6 L466.5 645.0 L467.0 653.2 L467.5 647.9 L468.0 654.9 L468.5 647.8 L469.0 660.5 L469.1 645.8 L469.1 662.0 L469.5 648.1 L470.0 664.7 L470.5 652.4 L471.0 664.0 L471.5 654.4 L472.0 665.5 L472.5 655.2 L473.0 666.8 L473.2 651.9 L473.2 672.3 L473.5 656.8 L474.0 668.7 L474.5 652.4 L475.0 668.4 L475.5 653.1 L476.0 666.2 L476.5 654.9 L477.0 666.1 L477.3 653.9 L477.3 666.0 L477.5 656.2 L478.0 665.7 L478.5 662.5 L479.0 670.7 L479.5 667.9 L480.0 677.6 L480.5 670.9 L481.0 682.5 L481.5 677.5 L482.0 686.9 L482.5 679.9 L483.0 691.2 L483.5 687.4 L484.0 695.1 L484.5 689.5 L485.0 699.7 L485.4 694.7 L485.4 702.9 L485.5 696.8 L486.0 704.6 L486.5 703.7 L487.0 711.7 L487.5 709.7 L488.0 717.7 L488.5 714.2 L489.0 725.0 L489.5 722.8 L490.0 732.0 L490.5 728.8 L491.0 736.2 L491.5 734.8 L492.0 742.9 L492.5 741.8 L493.0 750.6 L493.2 745.0 L493.2 751.8 L493.5 744.4 L494.0 748.4 L494.5 737.9 L495.0 742.0 L495.5 734.7 L496.0 736.2 L496.5 727.8 L497.0 732.8 L497.5 721.9 L498.0 725.6 L498.5 715.3 L499.0 720.2 L499.5 711.1 L499.7 719.2 L499.7 709.0 L500.0 717.0 L500.5 709.7 L501.0 715.8 L501.5 707.2 L502.0 713.5 L502.5 702.8 L503.0 713.5 L503.5 703.8 L504.0 714.4 L504.5 700.6 L505.0 712.0 L505.5 700.8 L506.0 709.4 L506.5 700.1 L507.0 707.3 L507.5 696.8 L507.9 709.0 L507.9 691.6 L508.0 707.8 L508.5 697.6 L509.0 707.5 L509.5 697.7 L510.0 710.7 L510.5 699.4 L510.9 711.0 L510.9 700.0 L511.0 707.2 L511.5 696.5 L512.0 697.0 L512.5 685.5 L513.0 690.0 L513.0 675.3 L513.0 689.7 L513.5 679.4 L514.0 689.3 L514.5 682.6 L515.0 693.0 L515.5 684.3 L516.0 694.9 L516.5 688.1 L517.0 699.9 L517.5 690.6 L518.0 699.2 L518.5 694.2 L519.0 702.1 L519.5 698.9 L520.0 706.6 L520.1 698.8 L520.1 707.0 L520.5 699.8 L521.0 709.1 L521.5 705.6 L522.0 712.2 L522.5 707.0 L523.0 716.4 L523.5 711.3 L524.0 720.4 L524.5 715.8 L525.0 723.8 L525.2 715.0 L525.2 725.3 L525.5 716.6 L526.0 723.7 L526.5 713.8 L527.0 719.9 L527.5 705.8 L528.0 715.4 L528.3 702.9 L528.3 719.2 L528.5 699.8 L529.0 711.6 L529.5 686.0 L530.0 707.8 L530.5 665.7 L531.0 687.2 L531.3 650.0 L531.3 700.0 L531.5 663.4 L532.0 690.3 L532.5 647.3 L533.0 675.5 L533.5 652.9 L534.0 673.3 L534.5 641.4 L535.0 662.6 L535.5 638.5 L536.0 652.1 L536.5 633.3 L537.0 642.7 L537.5 632.7 L538.0 636.0 L538.5 625.4 L538.5 633.5 L538.5 626.4 L539.0 633.3 L539.5 627.8 L540.0 632.8 L540.5 625.3 L541.0 631.8 L541.5 625.0 L542.0 632.5 L542.5 624.7 L543.0 630.4 L543.5 625.0 L544.0 630.3 L544.5 623.2 L545.0 632.2 L545.5 625.6 L545.6 631.5 L545.6 623.3 L546.0 631.0 L546.5 624.9 L547.0 632.6 L547.5 621.7 L548.0 631.3 L548.5 623.4 L549.0 631.2 L549.5 622.6 L550.0 635.1 L550.5 620.5 L551.0 631.7 L551.5 623.5 L552.0 631.2 L552.5 621.5 L553.0 637.1 L553.5 618.8 L554.0 638.0 L554.5 624.5 L555.0 635.5 L555.5 619.3 L556.0 635.0 L556.5 623.5 L557.0 638.7 L557.5 618.2 L558.0 636.1 L558.5 617.4 L559.0 642.4 L559.5 619.6 L560.0 644.0 L560.0 614.6 L560.0 637.5 L560.5 612.5 L561.0 627.7 L561.5 605.8 L562.0 622.7 L562.5 599.1 L562.6 620.0 L562.6 588.7 L563.0 609.7 L563.5 600.1 L564.0 611.7 L564.5 599.9 L565.0 614.8 L565.2 604.0 L565.2 614.6 L565.5 603.9 L566.0 619.6 L566.5 601.6 L567.0 620.2 L567.5 597.2 L568.0 627.1 L568.5 595.7 L568.6 635.3 L568.6 592.0 L569.0 623.0 L569.5 583.1 L570.0 607.5 L570.5 580.1 L571.0 595.4 L571.2 559.4 L571.2 592.0 L571.5 560.8 L572.0 586.1 L572.5 561.5 L573.0 579.0 L573.5 562.4 L573.8 573.2 L573.8 557.7 L574.0 575.8 L574.5 563.7 L575.0 584.5 L575.5 572.5 L576.0 589.5 L576.5 571.8 L577.0 606.1 L577.3 569.7 L577.3 607.7 L577.5 576.8 L578.0 588.5 L578.5 565.8 L579.0 582.9 L579.5 558.8 L580.0 563.8 L580.5 546.8 L580.7 557.7 L580.7 543.0 L581.0 556.5 L581.5 550.0 L582.0 568.4 L582.5 554.9 L583.0 579.3 L583.3 557.7 L583.3 587.0 L583.5 560.3 L584.0 575.2 L584.5 555.6 L585.0 578.0 L585.5 558.9 L586.0 570.3 L586.5 551.5 L587.0 574.8 L587.5 549.3 L587.6 580.0 L587.6 543.8 L588.0 573.5 L588.5 551.3 L589.0 577.4 L589.5 547.3 L590.0 574.6 L590.2 540.0 L590.2 580.0 L590.5 547.6 L591.0 571.2 L591.5 546.0 L592.0 571.7 L592.5 548.3 L593.0 561.1 L593.5 546.3 L593.6 566.3 L593.6 541.3 L594.0 572.6 L594.5 554.3 L595.0 579.9 L595.5 570.8 L596.0 599.9 L596.5 585.3 L597.0 612.7 L597.1 583.5 L597.1 616.3 L597.5 590.3 L598.0 603.9 L598.5 588.2 L599.0 606.5 L599.5 588.3 L600.0 603.2 L600.5 586.4 L600.7 600.8 L600.7 585.3 L601.0 600.2 L601.5 588.7 L602.0 607.2 L602.5 591.4 L603.0 611.9 L603.5 595.0 L604.0 613.7 L604.5 605.0 L604.9 625.0 L604.9 600.8 L605.0 622.8 L605.5 604.5 L606.0 620.3 L606.5 607.0 L607.0 626.7 L607.5 610.7 L608.0 627.1 L608.3 614.6 L608.3 628.4 L608.5 618.1 L609.0 628.7 L609.5 621.6 L610.0 629.2 L610.5 624.4 L611.0 632.3 L611.5 624.1 L611.8 635.3 L611.8 625.0 L612.0 633.5 L612.5 620.9 L613.0 630.5 L613.5 617.0 L614.0 626.2 L614.5 616.5 L615.0 624.9 L615.2 607.7 L615.2 628.4 L615.5 610.8 L616.0 627.8 L616.5 615.3 L617.0 627.5 L617.5 618.6 L618.0 627.2 L618.5 623.9 L618.7 630.1 L618.7 623.2 L619.0 624.8 L619.5 612.5 L620.0 615.2 L620.4 600.8 L620.4 611.1 L620.5 603.9 L621.0 611.8 L621.5 603.4 L622.0 609.9 L622.5 603.1 L623.0 613.7 L623.5 601.8 L624.0 612.9 L624.5 600.2 L625.0 615.0 L625.5 604.5 L625.6 614.6 L625.6 599.0 L626.0 616.1 L626.5 606.5 L627.0 621.8 L627.5 613.8 L628.0 627.3 L628.2 618.0 L628.2 631.9 L628.5 624.3 L629.0 637.1 L629.5 632.2 L630.0 640.5 L630.5 637.9 L630.8 645.7 L630.8 640.0 L631.0 645.3 L631.5 635.7 L632.0 638.6 L632.5 630.8 L633.0 633.1 L633.5 624.5 L634.0 624.5 L634.5 618.2 L635.0 619.5 L635.5 611.8 L635.9 614.6 L635.9 607.7 L636.0 615.5 L636.5 611.4 L637.0 619.5 L637.5 617.9 L638.0 627.4 L638.5 623.1 L639.0 632.0 L639.5 630.6 L640.0 639.7 L640.5 637.1 L641.0 645.3 L641.5 641.4 L642.0 651.0 L642.5 648.2 L642.8 656.0 L642.8 650.0 L643.0 654.2 L643.5 645.5 L644.0 650.2 L644.5 642.4 L645.0 645.7 L645.5 634.7 L646.0 637.9 L646.5 628.5 L647.0 633.3 L647.5 623.6 L648.0 630.1 L648.0 619.8 L648.0 630.5 L648.5 616.2 L649.0 620.2 L649.5 609.4 L650.0 611.8 L650.5 601.3 L650.6 611.1 L650.6 599.0 L651.0 612.4 L651.5 604.7 L652.0 615.6 L652.5 607.0 L653.0 617.3 L653.5 612.5 L654.0 621.0 L654.5 619.4 L655.0 626.3 L655.5 622.8 L655.8 630.1 L655.8 623.2 L656.0 631.8 L656.5 628.9 L657.0 637.0 L657.5 635.2 L658.0 641.7 L658.5 639.2 L659.0 648.3 L659.2 644.0 L659.2 650.8 L659.5 647.1 L660.0 654.5 L660.5 652.8 L661.0 662.5 L661.5 659.0 L662.0 668.5 L662.5 667.2 L663.0 673.8 L663.5 673.0 L663.5 677.6 L663.5 674.0 L664.0 672.9 L664.5 660.1 L665.0 660.1 L665.5 644.7 L666.0 647.6 L666.1 635.3 L666.1 652.6 L666.5 631.6 L667.0 642.8 L667.5 624.9 L668.0 630.8 L668.5 620.1 L669.0 622.1 L669.5 612.9 L669.6 616.3 L669.6 611.1 L670.0 620.7 L670.5 620.0 L671.0 628.8 L671.5 629.8 L672.0 640.4 L672.5 639.7 L673.0 649.3 L673.5 649.7 L674.0 658.7 L674.5 658.8 L675.0 669.3 L675.5 668.0 L675.6 675.0 L675.6 669.0 L676.0 669.9 L676.5 660.5 L677.0 659.9 L677.5 651.4 L678.0 652.0 L678.5 640.9 L679.0 643.5 L679.5 631.5 L679.9 635.3 L679.9 626.7 L680.0 632.6 L680.5 627.9 L681.0 636.7 L681.5 629.2 L682.0 637.0 L682.5 630.9 L683.0 637.5 L683.5 633.5 L684.0 638.2 L684.5 635.0 L685.0 641.4 L685.5 635.9 L686.0 641.9 L686.5 636.9 L687.0 645.1 L687.5 639.2 L687.7 645.7 L687.7 638.8 L688.0 640.4 L688.5 628.2 L689.0 627.5 L689.5 615.8 L690.0 613.6 L690.5 602.4 L691.0 602.8 L691.1 592.2 L691.1 600.8 L691.5 593.3 L692.0 600.0 L692.5 594.1 L693.0 601.9 L693.5 593.7 L694.0 600.3 L694.5 592.7 L695.0 602.4 L695.5 595.4 L696.0 604.4 L696.5 595.2 L697.0 602.4 L697.5 594.1 L698.0 605.4 L698.5 594.9 L699.0 606.6 L699.5 596.5 L699.8 607.7 L699.8 593.9 L700.0 607.3 L700.5 595.3 L701.0 608.3 L701.5 597.7 L702.0 608.0 L702.5 596.6 L703.0 607.1 L703.5 599.7 L704.0 608.2 L704.5 599.0 L705.0 606.3 L705.5 598.9 L706.0 606.3 L706.5 598.6 L707.0 607.3 L707.5 598.6 L708.0 609.7 L708.5 600.2 L709.0 608.7 L709.5 600.1 L710.0 609.0 L710.5 601.6 L711.0 608.5 L711.5 602.2 L711.9 611.1 L711.9 602.5 L712.0 610.7 L712.5 607.2 L713.0 625.7 L713.5 611.4 L714.0 649.6 L714.4 610.0 L714.4 660.0 L714.5 630.9 L715.0 669.9 L715.3 668.0 L715.3 675.0 L715.5 669.2 L716.0 672.7 L716.5 668.4 L717.0 672.1 L717.5 666.0 L718.0 672.6 L718.5 663.8 L719.0 671.2 L719.5 664.2 L720.0 668.1 L720.5 663.5 L721.0 669.4 L721.5 660.7 L722.0 667.6 L722.5 659.0 L723.0 666.4 L723.5 659.6 L723.9 666.4 L723.9 657.7 L724.0 665.7 L724.5 657.7 L725.0 664.9 L725.5 659.1 L726.0 665.2 L726.5 657.7 L727.0 663.0 L727.5 657.1 L728.0 662.9 L728.5 657.3 L729.0 664.7 L729.5 656.0 L730.0 663.0 L730.5 656.8 L731.0 662.0 L731.5 656.6 L732.0 662.1 L732.5 656.3 L732.6 663.0 L732.6 654.3 L733.0 660.6 L733.5 650.2 L734.0 655.0 L734.5 643.2 L735.0 647.1 L735.5 636.8 L736.0 640.8 L736.5 631.3 L737.0 634.0 L737.5 626.7 L737.7 631.9 L737.7 623.2 L738.0 630.5 L738.5 625.9 L739.0 630.0 L739.5 624.7 L740.0 630.6 L740.5 623.9 L741.0 631.4 L741.5 624.4 L742.0 633.7 L742.5 626.4 L743.0 633.0 L743.5 626.4 L744.0 632.7 L744.5 628.0 L745.0 634.2 L745.5 628.6 L746.0 635.1 L746.5 629.3 L747.0 635.2 L747.5 630.4 L748.0 634.5 L748.5 629.7 L749.0 637.6 L749.5 628.4 L749.8 637.0 L749.8 628.4 L750.0 636.2 L750.5 631.6 L751.0 635.0 L751.5 629.7 L752.0 637.0 L752.5 628.8 L753.0 638.1 L753.5 629.4 L754.0 635.5 L754.5 631.1 L755.0 637.5 L755.5 630.3 L756.0 637.0 L756.5 630.6 L757.0 637.6 L757.5 629.6 L758.0 638.0 L758.5 631.3 L759.0 635.2 L759.5 629.8 L760.0 636.7 L760.5 629.1 L761.0 636.1 L761.5 630.8 L762.0 636.9 L762.5 631.2 L763.0 635.8 L763.5 630.4 L764.0 636.8 L764.5 631.8 L765.0 636.8 L765.5 631.0 L766.0 636.2 L766.5 630.3 L767.0 637.1 L767.1 630.1 L767.1 638.8 L767.5 629.5 L768.0 637.8 L768.5 632.8 L769.0 636.8 L769.5 631.2 L770.0 637.5 L770.5 632.5 L771.0 639.0 L771.5 633.9 L772.0 638.3 L772.5 635.0 L773.0 641.2 L773.5 635.1 L774.0 640.6 L774.5 634.4 L775.0 641.7 L775.5 635.9 L776.0 642.2 L776.5 634.7 L777.0 642.7 L777.5 635.5 L778.0 640.7 L778.5 635.1 L779.0 641.5 L779.2 635.3 L779.2 644.0 L779.5 634.7 L780.0 644.2 L780.5 636.8 L781.0 643.9 L781.5 634.6 L782.0 641.2 L782.5 636.1 L783.0 642.9 L783.5 637.1 L784.0 643.5 L784.5 634.5 L785.0 642.0 L785.5 635.7 L786.0 642.4 L786.5 635.1 L787.0 640.9 L787.5 635.4 L788.0 643.3 L788.5 635.3 L789.0 642.5 L789.5 637.3 L790.0 644.0 L790.5 635.4 L791.0 643.4 L791.5 637.2 L792.0 642.1 L792.5 635.3 L793.0 641.3 L793.5 635.3 L794.0 643.9 L794.5 635.1 L795.0 643.9 L795.5 635.3 L796.0 641.9 L796.5 635.9 L797.0 642.8 L797.5 635.0 L798.0 643.4 L798.5 635.7 L799.0 643.8 L799.5 635.0 L800.0 643.0 L800.5 636.3 L801.0 643.8 L801.5 637.0 L802.0 641.8 L802.5 636.3 L802.7 642.7 L802.7 634.5 L803.0 642.7 L803.5 636.3 L804.0 641.9 L804.5 634.5 L805.0 643.8 L805.5 635.4 L806.0 641.4 L806.5 637.0 L807.0 641.2 L807.5 636.3 L808.0 642.4 L808.5 636.5 L809.0 642.4 L809.5 634.8 L810.0 643.8 L810.5 637.5 L811.0 642.9 L811.5 636.7 L812.0 644.1 L812.5 637.4 L813.0 642.2 L813.5 635.8 L814.0 641.3 L814.5 636.3 L815.0 643.6 L815.5 636.8 L816.0 642.8 L816.5 634.6 L817.0 641.6 L817.5 636.8 L818.0 641.7 L818.5 635.1 L819.0 644.8 L819.5 636.5 L820.0 644.5 L820.5 635.9 L821.0 644.3 L821.5 636.8 L822.0 644.1 L822.5 634.8 L823.0 643.5 L823.5 636.1 L824.0 643.9 L824.5 636.2 L825.0 643.0 L825.5 637.9 L826.0 644.5 L826.5 635.8 L827.0 645.2 L827.5 635.0 L828.0 644.5 L828.5 635.5 L829.0 643.0 L829.5 638.0 L830.0 643.2 L830.5 635.3 L831.0 644.8 L831.5 637.2 L832.0 643.7 L832.5 635.1 L833.0 644.5 L833.5 636.5 L834.0 645.7 L834.5 636.9 L835.0 644.3 L835.4 635.6 L835.4 645.8 L835.5 638.5 L836.0 644.2 L836.5 637.9 L837.0 644.0 L837.5 637.1 L838.0 641.4 L838.5 636.4 L839.0 643.8 L839.5 633.9 L840.0 640.8 L840.5 632.4 L841.0 639.2 L841.5 633.9 L842.0 640.9 L842.5 631.6 L843.0 640.8 L843.5 631.9 L844.0 639.0 L844.5 633.3 L845.0 639.7 L845.5 632.2 L846.0 637.4 L846.5 632.6 L847.0 637.8 L847.5 630.3 L848.0 637.6 L848.5 629.8 L848.6 637.6 L848.6 629.4 L849.0 636.1 L849.5 630.7 L850.0 639.0 L850.5 635.2 L851.0 642.8 L851.5 637.1 L852.0 643.0 L852.5 635.6 L853.0 647.8 L853.5 638.7 L854.0 647.6 L854.5 641.0 L855.0 651.9 L855.5 643.6 L856.0 651.6 L856.5 644.9 L857.0 654.1 L857.5 643.6 L858.0 654.9 L858.5 649.3 L859.0 659.8 L859.5 651.8 L860.0 658.8 L860.5 648.7 L860.9 666.2 L860.9 650.0 L861.0 664.9 L861.5 649.8 L862.0 660.0 L862.5 647.1 L863.0 656.7 L863.5 642.4 L864.0 649.7 L864.5 638.8 L865.0 644.5 L865.5 634.3 L866.0 642.6 L866.5 631.7 L867.0 635.9 L867.5 624.7 L868.0 632.1 L868.5 620.8 L869.0 630.0 L869.0 618.2 L869.0 628.9 L869.5 620.6 L870.0 631.5 L870.5 624.9 L871.0 635.4 L871.5 630.3 L872.0 638.7 L872.5 632.9 L873.0 643.5 L873.1 635.0 L873.1 645.8 L873.5 636.9 L874.0 640.7 L874.5 633.2 L875.0 639.1 L875.5 630.6 L876.0 638.5 L876.5 627.0 L877.0 634.6 L877.5 624.9 L878.0 632.5 L878.5 623.4 L879.0 628.2 L879.2 621.3 L879.2 629.4 L879.5 621.5 L880.0 628.5 L880.5 623.0 L881.0 630.7 L881.5 625.7 L882.0 632.1 L882.5 628.0 L883.0 633.6 L883.5 630.3 L884.0 637.7 L884.5 633.3 L885.0 638.4 L885.3 633.5 L885.3 639.6 L885.5 634.1 L886.0 638.1 L886.5 631.4 L887.0 636.8 L887.5 630.7 L888.0 636.7 L888.5 630.4 L889.0 634.7 L889.5 629.2 L890.0 634.0 L890.5 626.0 L891.0 631.5 L891.5 626.0 L892.0 631.3 L892.5 623.5 L893.0 628.2 L893.5 622.9 L894.0 627.5 L894.5 620.3 L894.5 627.4 L894.5 621.6 L895.0 628.6 L895.5 623.1 L896.0 631.5 L896.5 622.7 L897.0 632.3 L897.5 624.5 L898.0 632.6 L898.5 628.2 L899.0 638.1 L899.5 628.7 L900.0 637.6 L900.5 629.4 L901.0 641.8 L901.5 628.1 L901.6 643.7 L901.6 627.4 L902.0 641.9 L902.5 631.5 L903.0 644.7 L903.5 636.2 L904.0 643.2 L904.5 634.4 L905.0 649.6 L905.5 639.2 L906.0 648.5 L906.5 637.1 L907.0 652.4 L907.5 643.8 L907.8 653.9 L907.8 640.0 L908.0 650.4 L908.5 641.9 L909.0 653.1 L909.5 641.6 L910.0 651.3 L910.5 640.1 L911.0 651.5 L911.5 643.0 L912.0 648.4 L912.5 642.4 L913.0 649.2 L913.5 642.2 L914.0 647.3 L914.1 640.0 L914.1 648.8 L914.5 637.8 L915.0 645.3 L915.5 635.7 L916.0 641.5 L916.5 631.2 L917.0 642.5 L917.5 627.7 L918.0 638.1 L918.2 619.2 L918.2 639.6 L918.5 618.9 L919.0 633.1 L919.5 617.1 L920.0 630.8 L920.5 616.0 L921.0 624.9 L921.5 612.9 L922.0 622.0 L922.5 612.8 L923.0 619.1 L923.5 608.8 L924.0 613.8 L924.3 607.0 L924.3 613.1 L924.5 607.5 L925.0 614.5 L925.5 608.0 L926.0 613.7 L926.5 609.8 L927.0 616.8 L927.5 608.4 L928.0 616.7 L928.5 610.3 L929.0 616.6 L929.5 611.5 L930.0 620.6 L930.4 609.0 L930.4 621.3 L930.5 610.2 L931.0 621.0 L931.5 616.1 L932.0 627.2 L932.5 623.4 L933.0 633.5 L933.5 626.3 L934.0 639.3 L934.5 630.0 L934.5 641.7 L934.5 631.1 L935.0 639.9 L935.5 630.7 L936.0 636.9 L936.5 629.2 L937.0 638.3 L937.5 629.2 L938.0 638.5 L938.5 630.8 L939.0 635.6 L939.5 629.6 L940.0 635.3 L940.5 629.8 L941.0 633.8 L941.5 627.8 L942.0 634.0 L942.5 628.1 L943.0 635.1 L943.5 628.3 L944.0 632.5 L944.5 628.6 L945.0 632.7 L945.5 628.6 L946.0 632.7 L946.5 627.2 L946.7 631.5 L946.7 627.4 L947.0 630.5 L947.5 625.0 L948.0 625.4 L948.5 619.1 L949.0 621.3 L949.5 615.1 L950.0 617.1 L950.5 609.1 L951.0 612.0 L951.5 605.3 L952.0 608.0 L952.5 601.4 L952.8 605.0 L952.8 598.9 L953.0 606.1 L953.5 600.7 L954.0 608.4 L954.5 603.2 L955.0 609.7 L955.5 603.4 L956.0 610.8 L956.5 606.1 L957.0 612.5 L957.5 607.7 L958.0 614.2 L958.5 608.5 L959.0 617.4 L959.5 611.9 L960.0 619.9 L960.5 612.9 L961.0 619.7 L961.5 616.8 L962.0 625.4 L962.0 615.0 L962.0 625.2 L962.5 615.0 L963.0 621.0 L963.5 614.4 L964.0 622.4 L964.5 614.5 L965.0 619.6 L965.5 612.3 L966.0 619.2 L966.5 613.4 L967.0 618.0 L967.5 611.3 L968.0 617.3 L968.5 610.8 L969.0 616.0 L969.5 608.6 L970.0 613.4 L970.5 609.0 L971.0 612.0 L971.2 608.0 L971.2 613.1 L971.5 609.1 L972.0 614.4 L972.5 608.8 L973.0 615.4 L973.5 611.0 L974.0 619.6 L974.5 611.4 L975.0 618.7 L975.5 612.3 L976.0 624.2 L976.5 614.8 L977.0 622.8 L977.5 617.2 L978.0 625.4 L978.5 616.7 L979.0 630.1 L979.5 616.7 L980.0 631.9 L980.5 621.9 L981.0 630.1 L981.5 623.2 L982.0 635.1 L982.4 620.0 L982.4 637.6 L982.5 621.3 L983.0 630.2 L983.5 618.1 L984.0 629.3 L984.5 615.3 L985.0 628.3 L985.5 615.8 L986.0 624.0 L986.5 612.2 L987.0 621.6 L987.5 611.4 L988.0 617.0 L988.5 609.0 L988.5 617.2 L988.5 611.0 L989.0 617.1 L989.5 611.9 L990.0 618.9 L990.5 612.9 L991.0 619.5 L991.5 613.5 L992.0 621.6 L992.5 615.1 L993.0 622.0 L993.5 616.2 L994.0 622.6 L994.5 618.5 L995.0 623.3 L995.5 618.6 L996.0 626.0 L996.5 618.7 L997.0 627.6 L997.5 620.3 L998.0 629.3 L998.5 624.0 L999.0 630.3 L999.5 623.2 L999.7 631.5 L999.7 623.3 L1000.0 630.5 L1000.5 624.8 L1001.0 631.4 L1001.5 624.5 L1002.0 630.1 L1002.5 624.3 L1003.0 629.6 L1003.5 624.0 L1004.0 630.2 L1004.5 623.5 L1005.0 631.8 L1005.5 623.5 L1006.0 630.2 L1006.5 626.3 L1007.0 631.8 L1007.5 624.2 L1008.0 631.2 L1008.5 626.3 L1009.0 630.5 L1009.5 626.7 L1010.0 630.3 L1010.5 624.5 L1011.0 630.2 L1011.5 624.7 L1012.0 631.5 L1012.0 625.4 L1012.0 630.8 L1012.5 625.6 L1013.0 630.6 L1013.5 624.5 L1014.0 629.0 L1014.5 623.4 L1015.0 629.4 L1015.5 623.0 L1016.0 628.7 L1016.5 622.3 L1017.0 628.0 L1017.5 621.9 L1018.0 627.7 L1018.5 623.6 L1019.0 629.3 L1019.5 623.6 L1020.0 630.0 L1020.5 623.1 L1021.0 629.5 L1021.5 623.4 L1022.0 629.6 L1022.5 622.8 L1023.0 627.5 L1023.5 620.7 L1024.0 626.0 L1024.5 619.4 L1025.0 628.4 L1025.5 618.5 L1026.0 627.7 L1026.2 618.2 L1026.2 627.4 L1026.5 618.8 L1027.0 626.9 L1027.5 620.2 L1028.0 626.3 L1028.5 621.7 L1029.0 629.5 L1029.5 621.9 L1030.0 630.7 L1030.5 623.5 L1031.0 629.7 L1031.5 623.3 L1032.0 629.0 L1032.5 625.6 L1033.0 629.7 L1033.5 624.1 L1034.0 630.7 L1034.5 624.5 L1035.0 632.9 L1035.5 624.7 L1036.0 633.6 L1036.4 625.4 L1036.4 633.5 L1036.5 625.6 L1037.0 633.0 L1037.5 626.6 L1038.0 631.4 L1038.5 625.0 L1039.0 632.0 L1039.5 626.9 L1040.0 630.7 L1040.5 626.1 L1041.0 631.6 L1041.5 626.0 L1042.0 631.3 L1042.5 625.6 L1043.0 631.3 L1043.5 623.3 L1044.0 629.1 L1044.5 622.7 L1045.0 630.8 L1045.5 622.9 L1046.0 629.6 L1046.5 623.0 L1047.0 630.8 L1047.5 622.1 L1048.0 629.3 L1048.5 623.2 L1049.0 629.4 L1049.5 622.4 L1050.0 630.7 L1050.5 623.3 L1051.0 630.0 L1051.5 623.5 L1052.0 630.0 L1052.5 621.9 L1052.7 629.4 L1052.7 621.3 L1053.0 629.0 L1053.5 621.5 L1054.0 628.8 L1054.5 623.1 L1055.0 630.3 L1055.5 624.1 L1056.0 629.1 L1056.5 622.8 L1057.0 628.3 L1057.5 623.3 L1058.0 629.4 L1058.5 622.4 L1059.0 630.7 L1059.5 622.0 L1060.0 628.4 L1060.5 622.1 L1061.0 628.1 L1061.5 622.8 L1062.0 627.7 L1062.5 621.2 L1063.0 629.4 L1063.5 622.1 L1064.0 628.0 L1064.5 621.8 L1065.0 630.7 L1065.5 620.8 L1066.0 629.3 L1066.5 624.0 L1067.0 629.8 L1067.5 622.8 L1068.0 629.8 L1068.5 624.5 L1069.0 631.9 L1069.5 623.5 L1070.0 629.8 L1070.5 624.6 L1071.0 632.0 L1071.5 622.9 L1072.0 629.8 L1072.5 623.3 L1073.0 630.7 L1073.1 621.3 L1073.1 631.5 L1073.5 621.2 L1074.0 630.8 L1074.5 624.0 L1075.0 631.3 L1075.5 624.1 L1076.0 629.6 L1076.5 623.6 L1077.0 629.8 L1077.5 622.9 L1078.0 631.7 L1078.5 622.4 L1079.0 631.0 L1079.5 622.2 L1080.0 632.2 L1080.5 623.9 L1081.0 630.6 L1081.5 623.9 L1082.0 630.6 L1082.5 623.5 L1083.0 631.3 L1083.5 624.8 L1084.0 632.3 L1084.5 623.7 L1085.0 631.9 L1085.5 626.7 L1086.0 631.5 L1086.5 624.5 L1087.0 631.3 L1087.5 625.9 L1088.0 633.6 L1088.5 625.3 L1089.0 632.8 L1089.5 627.0 L1090.0 632.2 L1090.5 624.9 L1091.0 633.7 L1091.5 627.3 L1092.0 632.9 L1092.5 625.1 L1093.0 632.7 L1093.5 625.4 L1093.5 633.5 L1093.5 625.7 L1094.0 634.0 L1094.5 627.2 L1095.0 633.9 L1095.5 625.9 L1096.0 635.1 L1096.5 626.7 L1097.0 633.1 L1097.5 628.5 L1098.0 633.5 L1098.5 627.2 L1099.0 635.1 L1099.5 627.3 L1100.0 634.9 L1100.5 628.6 L1101.0 636.8 L1101.5 629.6 L1102.0 635.0 L1102.5 629.4 L1103.0 637.2 L1103.5 630.2 L1104.0 635.7 L1104.5 631.4 L1105.0 637.8 L1105.5 631.8 L1106.0 637.6 L1106.5 633.3 L1107.0 638.9 L1107.5 630.8 L1108.0 639.7 L1108.5 632.4 L1109.0 639.0 L1109.5 632.6 L1110.0 640.4 L1110.5 634.7 L1111.0 638.5 L1111.5 634.7 L1111.9 641.7 L1111.9 633.5 L1112.0 638.8 L1112.5 633.9 L1113.0 642.3 L1113.5 633.8 L1114.0 641.2 L1114.5 634.1 L1115.0 641.1 L1115.5 635.6 L1116.0 644.3 L1116.5 636.2 L1117.0 642.6 L1117.5 636.1 L1118.0 646.1 L1118.5 636.1 L1119.0 645.9 L1119.5 637.7 L1120.0 645.8 L1120.5 638.1 L1121.0 647.6 L1121.5 637.7 L1122.0 646.9 L1122.5 639.6 L1123.0 646.8 L1123.5 637.3 L1124.0 648.3 L1124.1 637.6 L1124.1 649.8 L1124.5 639.7 L1125.0 649.2 L1125.5 636.7 L1126.0 648.6 L1126.5 636.4 L1127.0 645.8 L1127.5 639.5 L1128.0 646.0 L1128.5 635.2 L1129.0 645.9 L1129.5 637.5 L1130.0 643.6 L1130.5 637.4 L1131.0 644.6 L1131.5 635.9 L1132.0 643.1 L1132.5 634.3 L1133.0 641.4 L1133.5 633.3 L1134.0 643.1 L1134.5 631.8 L1135.0 638.6 L1135.5 632.7 L1136.0 641.5 L1136.5 633.1 L1137.0 639.4 L1137.5 632.6 L1138.0 636.6 L1138.4 629.4 L1138.4 639.6 L1138.5 630.1 L1139.0 637.4 L1139.5 632.1 L1140.0 639.5 L1140.5 629.5 L1141.0 639.7 L1141.5 632.2 L1142.0 638.3 L1142.5 631.7 L1143.0 638.9 L1143.5 629.3 L1144.0 640.2 L1144.5 628.9 L1145.0 638.6 L1145.5 631.8 L1146.0 640.1 L1146.5 631.6 L1147.0 638.5 L1147.5 630.5 L1148.0 640.0 L1148.5 629.7 L1149.0 639.6 L1149.5 629.9 L1150.0 639.3 L1150.5 633.0 L1151.0 639.8 L1151.5 633.4 L1152.0 638.6 L1152.5 630.1 L1153.0 641.2 L1153.5 633.1 L1154.0 642.1" stroke="#0000ff" stroke-width="1.6" fill="none" shape-rendering="crispEdges"/>
<path d="M166.0 637.0 L166.5 631.5 L167.0 636.2 L167.5 632.7 L168.0 636.3 L168.5 633.5 L169.0 637.8 L169.5 629.8 L170.0 638.2 L170.5 633.1 L171.0 639.1 L171.5 632.9 L172.0 637.3 L172.5 629.0 L173.0 639.7 L173.5 632.5 L174.0 635.9 L174.5 629.0 L175.0 639.1 L175.5 633.6 L176.0 635.5 L176.5 632.5 L177.0 637.0 L177.5 633.9 L178.0 635.6 L178.5 630.2 L179.0 637.9 L179.5 629.5 L180.0 635.8 L180.5 629.7 L181.0 636.9 L181.5 631.7 L182.0 638.0 L182.5 632.5 L183.0 639.7 L183.5 632.6 L184.0 638.0 L184.5 632.0 L185.0 636.6 L185.5 632.2 L186.0 635.9 L186.5 630.5 L187.0 639.3 L187.5 629.8 L188.0 635.3 L188.5 633.8 L189.0 639.2 L189.5 629.5 L190.0 638.9 L190.5 632.3 L191.0 637.4 L191.5 630.0 L192.0 639.7 L192.5 631.9" stroke="#00ff00" stroke-width="1" fill="none" shape-rendering="crispEdges"/>
<path d="M589.9 560V497.9" stroke="#0000ff" stroke-width="1.3"/>
<rect x="165.6" y="453.5" width="989.0" height="302.9" fill="none" stroke="#1a1a1a" stroke-width="1.2"/>
<text x="156.8" y="461.3" text-anchor="end" font-family="Liberation Sans" font-size="23.6" textLength="38.0" lengthAdjust="spacingAndGlyphs" fill="#222">300</text>
<text x="156.8" y="521.9" text-anchor="end" font-family="Liberation Sans" font-size="23.6" textLength="38.0" lengthAdjust="spacingAndGlyphs" fill="#222">200</text>
<text x="156.8" y="582.5" text-anchor="end" font-family="Liberation Sans" font-size="23.6" textLength="38.0" lengthAdjust="spacingAndGlyphs" fill="#222">100</text>
<text x="156.8" y="643.0" text-anchor="end" font-family="Liberation Sans" font-size="23.6" textLength="12.7" lengthAdjust="spacingAndGlyphs" fill="#222">0</text>
<text x="156.8" y="703.6" text-anchor="end" font-family="Liberation Sans" font-size="23.6" textLength="45.2" lengthAdjust="spacingAndGlyphs" fill="#222">-100</text>
<text x="156.8" y="764.2" text-anchor="end" font-family="Liberation Sans" font-size="23.6" textLength="45.2" lengthAdjust="spacingAndGlyphs" fill="#222">-200</text>
<text transform="translate(64.0 605.0) rotate(-90)" x="0" y="0" text-anchor="middle" font-family="Liberation Sans" font-weight="bold" font-size="19.6" textLength="174.4" lengthAdjust="spacingAndGlyphs" fill="#222">Measured-Model</text>
<text transform="translate(90.7 605.0) rotate(-90)" x="0" y="0" text-anchor="middle" font-family="Liberation Sans" font-weight="bold" font-size="19.6" textLength="115.3" lengthAdjust="spacingAndGlyphs" fill="#222">B East (nT)</text>
<text transform="translate(1175.6 667.2) rotate(-90)" text-anchor="start" font-family="Liberation Sans" font-weight="bold" font-size="17.6" textLength="91.5" lengthAdjust="spacingAndGlyphs" fill="#111">Inboard B</text>
<text transform="translate(1195.8 667.7) rotate(-90)" text-anchor="start" font-family="Liberation Sans" font-weight="bold" font-size="17.6" textLength="107.5" lengthAdjust="spacingAndGlyphs" fill="#111">Outboard B</text>
<path d="M1171.5 695.0V713.0" stroke="#0000ff" stroke-width="2"/>
<path d="M1191 695.0V713.0" stroke="#00ff00" stroke-width="2"/>
<path d="M165.6 797.5h10M1154.6 797.5h-10M165.6 849.0h10M1154.6 849.0h-10M165.6 900.5h10M1154.6 900.5h-10M165.6 952.0h10M1154.6 952.0h-10M165.6 1003.4h10M1154.6 1003.4h-10M165.6 1054.9h10M1154.6 1054.9h-10M165.6 1106.4h10M1154.6 1106.4h-10M412.8 1106.4v-10M412.8 797.5v10M660.1 1106.4v-10M660.1 797.5v10M907.3 1106.4v-10M907.3 797.5v10" stroke="#111" stroke-width="1" fill="none" shape-rendering="crispEdges"/>
<g fill="#d9d9d9"><rect x="166.5" y="800.5" width="1.7" height="302.2"/><rect x="185.0" y="800.5" width="4.0" height="302.2"/><rect x="222.0" y="800.5" width="3.0" height="302.2"/><rect x="226.0" y="800.5" width="2.0" height="302.2"/><rect x="259.0" y="800.5" width="2.0" height="302.2"/><rect x="265.0" y="800.5" width="2.0" height="302.2"/><rect x="278.0" y="800.5" width="3.0" height="302.2"/><rect x="283.0" y="800.5" width="5.0" height="302.2"/><rect x="357.0" y="800.5" width="3.0" height="302.2"/><rect x="456.0" y="800.5" width="2.0" height="302.2"/><rect x="460.0" y="800.5" width="5.0" height="302.2"/><rect x="478.0" y="800.5" width="4.0" height="302.2"/><rect x="493.0" y="800.5" width="2.0" height="302.2"/><rect x="506.0" y="800.5" width="2.0" height="302.2"/><rect x="512.0" y="800.5" width="4.0" height="302.2"/><rect x="545.0" y="800.5" width="2.0" height="302.2"/><rect x="548.0" y="800.5" width="2.0" height="302.2"/><rect x="604.0" y="800.5" width="149.0" height="302.2"/><rect x="777.0" y="800.5" width="2.0" height="302.2"/><rect x="785.0" y="800.5" width="2.0" height="302.2"/><rect x="852.0" y="800.5" width="13.0" height="302.2"/><rect x="866.0" y="800.5" width="10.0" height="302.2"/><rect x="877.0" y="800.5" width="6.0" height="302.2"/><rect x="889.0" y="800.5" width="9.0" height="302.2"/><rect x="902.0" y="800.5" width="15.0" height="302.2"/><rect x="918.0" y="800.5" width="77.0" height="302.2"/><rect x="999.0" y="800.5" width="36.0" height="302.2"/><rect x="1039.0" y="800.5" width="6.0" height="302.2"/><rect x="1110.0" y="800.5" width="10.0" height="302.2"/><rect x="1122.0" y="800.5" width="4.0" height="302.2"/><rect x="1133.0" y="800.5" width="3.0" height="302.2"/><rect x="1142.0" y="800.5" width="2.0" height="302.2"/><rect x="1145.0" y="800.5" width="7.0" height="302.2"/></g>
<path d="M166.0 998.6 L166.5 966.2 L167.0 1011.7 L167.5 952.2 L168.0 992.2 L168.5 952.2 L169.0 1014.2 L169.5 959.2 L170.0 991.1 L170.5 951.2 L171.0 998.1 L171.5 964.4 L172.0 990.3 L172.2 947.9 L172.2 1017.3 L172.5 956.5 L173.0 995.1 L173.5 966.4 L174.0 1004.9 L174.5 966.7 L175.0 1017.9 L175.5 974.5 L176.0 1013.3 L176.5 966.8 L177.0 1015.4 L177.5 959.9 L178.0 1010.5 L178.5 969.0 L179.0 1020.6 L179.5 969.7 L180.0 1013.6 L180.5 963.3 L181.0 1024.7 L181.5 970.3 L182.0 1026.1 L182.5 981.3 L183.0 1027.5 L183.5 979.0 L184.0 1032.5 L184.5 958.0 L184.5 1039.7 L184.5 976.3 L185.0 1013.1 L185.5 983.2 L186.0 1011.0 L186.5 973.7 L187.0 1004.9 L187.5 969.9 L188.0 1018.4 L188.5 971.5 L189.0 1003.0 L189.5 969.3 L190.0 1013.5 L190.5 959.2 L191.0 1005.9 L191.5 966.7 L192.0 1007.4 L192.5 944.7 L193.0 1009.0 L193.5 965.5 L194.0 988.5 L194.5 945.4 L195.0 999.4 L195.5 945.0 L195.7 1003.0 L195.7 926.5 L196.0 1001.5 L196.5 942.0 L197.0 1003.8 L197.5 958.9 L198.0 985.8 L198.5 949.1 L199.0 1006.4 L199.5 957.0 L200.0 1008.4 L200.5 960.5 L201.0 985.5 L201.5 960.6 L202.0 1010.6 L202.5 943.3 L203.0 1006.6 L203.5 942.3 L204.0 1000.1 L204.5 953.2 L205.0 994.3 L205.5 946.3 L206.0 1013.4 L206.5 968.6 L207.0 992.0 L207.5 954.9 L208.0 994.8 L208.5 969.1 L209.0 998.6 L209.5 972.0 L210.0 1006.9 L210.5 951.5 L211.0 1027.5 L211.0 950.0 L211.0 1008.9 L211.5 973.9 L212.0 1002.2 L212.5 956.0 L213.0 991.9 L213.5 945.5 L214.0 999.6 L214.5 947.6 L215.0 998.8 L215.5 965.3 L216.0 1004.3 L216.5 953.1 L217.0 989.9 L217.5 937.9 L218.0 986.6 L218.5 942.3 L219.0 993.8 L219.5 938.4 L220.0 981.9 L220.5 936.3 L221.0 994.4 L221.5 937.1 L222.0 993.9 L222.5 947.8 L223.0 982.7 L223.2 921.4 L223.2 990.8 L223.5 930.0 L224.0 989.0 L224.5 938.9 L225.0 982.8 L225.5 935.5 L226.0 975.5 L226.5 949.8 L227.0 977.0 L227.5 949.1 L228.0 975.2 L228.5 941.6 L229.0 969.8 L229.5 950.0 L230.0 977.5 L230.5 931.0 L231.0 976.5 L231.5 933.2 L232.0 985.2 L232.5 948.5 L233.0 992.7 L233.5 931.9 L234.0 969.1 L234.5 945.2 L235.0 993.0 L235.4 927.5 L235.4 998.9 L235.5 939.7 L236.0 991.0 L236.5 930.3 L237.0 978.4 L237.5 940.3 L238.0 979.5 L238.5 933.7 L239.0 984.1 L239.5 949.8 L240.0 979.9 L240.5 952.0 L241.0 985.1 L241.5 935.5 L242.0 988.7 L242.5 950.3 L243.0 982.7 L243.5 951.7 L244.0 993.2 L244.5 932.9 L245.0 998.2 L245.5 938.8 L246.0 983.2 L246.5 938.2 L247.0 1005.0 L247.5 943.9 L248.0 993.9 L248.5 940.9 L249.0 989.0 L249.5 939.0 L250.0 998.1 L250.5 929.0 L251.0 979.9 L251.5 934.7 L252.0 985.9 L252.5 946.2 L253.0 992.8 L253.5 929.3 L254.0 1000.7 L254.5 930.5 L255.0 983.3 L255.5 945.2 L255.8 1013.2 L255.8 925.5 L256.0 1004.0 L256.5 937.5 L257.0 993.3 L257.5 951.5 L258.0 1000.8 L258.5 944.9 L259.0 993.5 L259.5 936.4 L260.0 996.7 L260.5 924.5 L261.0 988.9 L261.5 946.4 L262.0 978.9 L262.5 932.0 L263.0 987.8 L263.5 923.3 L264.0 988.8 L264.5 926.9 L265.0 975.5 L265.5 913.8 L266.0 960.9 L266.5 914.3 L267.0 968.7 L267.5 935.3 L268.0 962.9 L268.1 911.2 L268.1 986.7 L268.5 937.1 L269.0 969.6 L269.5 941.1 L270.0 981.4 L270.5 940.6 L271.0 985.7 L271.5 945.2 L272.0 989.6 L272.5 928.4 L273.0 994.1 L273.5 929.2 L274.0 973.6 L274.5 925.0 L275.0 989.7 L275.5 935.7 L276.0 972.8 L276.5 938.9 L277.0 993.8 L277.5 953.4 L278.0 993.8 L278.5 943.9 L279.0 1003.4 L279.5 957.8 L280.0 984.4 L280.5 961.6 L281.0 1001.1 L281.5 944.0 L282.0 994.0 L282.5 967.4 L283.0 1012.8 L283.5 958.4 L284.0 1023.3 L284.5 959.5 L285.0 999.6 L285.4 943.9 L285.4 1024.4 L285.5 969.9 L286.0 1003.2 L286.5 973.1 L287.0 992.7 L287.5 952.1 L288.0 994.3 L288.5 948.0 L289.0 998.1 L289.5 938.9 L290.0 993.4 L290.5 946.1 L291.0 986.5 L291.5 937.7 L292.0 979.8 L292.5 935.0 L293.0 977.4 L293.5 934.5 L294.0 974.4 L294.0 911.2 L294.0 971.4 L294.5 924.4 L295.0 956.6 L295.5 922.0 L296.0 961.8 L296.5 926.3 L297.0 971.7 L297.5 924.0 L298.0 960.8 L298.5 936.4 L299.0 978.1 L299.5 941.9 L300.0 979.0 L300.5 940.3 L301.0 966.6 L301.5 934.3 L302.0 968.2 L302.5 931.9 L303.0 978.5 L303.5 933.3 L304.0 972.4 L304.5 942.9 L305.0 968.1 L305.5 936.2 L306.0 969.7 L306.5 940.5 L307.0 968.5 L307.5 939.2 L308.0 981.6 L308.5 937.6 L309.0 978.8 L309.5 935.2 L310.0 977.7 L310.5 945.5 L310.9 990.8 L310.9 933.7 L311.0 981.7 L311.5 936.4 L312.0 985.9 L312.5 942.5 L313.0 989.6 L313.5 943.9 L314.0 978.7 L314.5 943.0 L315.0 994.0 L315.5 951.9 L316.0 974.5 L316.5 945.5 L317.0 996.6 L317.5 944.0 L318.0 1001.0 L318.0 937.7 L318.0 996.4 L318.5 944.3 L319.0 982.7 L319.5 961.6 L320.0 978.9 L320.5 945.4 L321.0 987.0 L321.5 960.2 L322.0 993.7 L322.5 948.4 L323.0 978.7 L323.5 955.7 L324.0 970.9 L324.5 944.3 L325.0 975.9 L325.5 950.5 L326.0 972.4 L326.5 936.4 L327.0 981.0 L327.5 939.3 L328.0 973.4 L328.5 935.0 L329.0 971.8 L329.5 945.6 L330.0 961.9 L330.5 936.6 L331.0 965.3 L331.5 943.8 L332.0 966.5 L332.5 940.9 L333.0 966.2 L333.3 929.6 L333.3 978.5 L333.5 928.3 L334.0 964.7 L334.5 933.5 L335.0 958.0 L335.5 939.9 L336.0 967.2 L336.5 944.7 L337.0 970.8 L337.5 945.4 L338.0 977.3 L338.5 931.7 L339.0 972.9 L339.5 934.8 L340.0 976.2 L340.5 931.4 L341.0 977.6 L341.5 931.2 L342.0 970.7 L342.5 930.0 L343.0 970.8 L343.5 946.4 L344.0 965.4 L344.5 936.1 L345.0 981.8 L345.5 944.7 L346.0 962.5 L346.5 940.2 L347.0 977.7 L347.5 931.0 L348.0 977.5 L348.5 928.1 L349.0 966.5 L349.5 939.2 L350.0 969.4 L350.5 928.0 L351.0 965.5 L351.5 938.8 L352.0 981.0 L352.5 945.4 L352.7 988.7 L352.7 922.4 L353.0 964.4 L353.5 928.9 L354.0 971.3 L354.5 927.6 L355.0 968.7 L355.5 944.1 L356.0 983.7 L356.5 939.5 L357.0 985.7 L357.5 944.3 L358.0 971.1 L358.5 947.8 L359.0 985.2 L359.5 937.7 L360.0 969.3 L360.5 930.6 L361.0 966.4 L361.5 932.6 L362.0 973.1 L362.5 942.7 L363.0 980.9 L363.5 948.8 L364.0 988.0 L364.5 949.5 L365.0 986.4 L365.5 950.4 L366.0 975.2 L366.5 959.6 L367.0 987.7 L367.5 948.7 L368.0 975.9 L368.5 947.0 L369.0 994.9 L369.5 960.5 L370.0 993.5 L370.5 953.4 L371.0 996.1 L371.5 959.1 L372.0 980.2 L372.1 939.8 L372.1 996.9 L372.5 947.8 L373.0 988.9 L373.5 960.7 L374.0 993.1 L374.5 959.2 L375.0 997.7 L375.5 950.4 L376.0 997.4 L376.5 951.1 L377.0 997.3 L377.5 959.3 L378.0 993.6 L378.5 944.4 L379.0 984.3 L379.5 939.9 L380.0 989.7 L380.5 941.2 L381.0 990.3 L381.5 954.3 L382.0 984.1 L382.5 945.2 L383.0 992.0 L383.5 952.4 L384.0 991.2 L384.5 956.6 L385.0 982.1 L385.5 944.3 L386.0 985.4 L386.5 939.2 L387.0 984.6 L387.5 946.1 L388.0 993.8 L388.5 947.3 L389.0 988.2 L389.5 952.9 L390.0 988.3 L390.5 937.2 L391.0 990.7 L391.5 950.6 L392.0 989.8 L392.5 932.4 L393.0 975.1 L393.5 926.5 L393.5 992.8 L393.5 939.3 L394.0 991.9 L394.5 941.7 L395.0 987.4 L395.5 941.5 L396.0 970.4 L396.5 933.3 L397.0 987.3 L397.5 948.9 L398.0 981.6 L398.5 935.1 L399.0 967.9 L399.5 933.9 L400.0 980.6 L400.5 949.2 L401.0 970.4 L401.5 941.7 L402.0 965.0 L402.5 949.7 L403.0 983.8 L403.5 953.2 L404.0 973.1 L404.5 939.2 L405.0 981.6 L405.5 946.5 L406.0 984.4 L406.5 939.3 L407.0 971.7 L407.5 954.1 L408.0 981.9 L408.5 954.9 L409.0 968.9 L409.5 941.6 L410.0 982.6 L410.0 937.7 L410.0 976.5 L410.5 944.8 L411.0 977.8 L411.5 948.7 L412.0 979.0 L412.5 943.3 L413.0 972.2 L413.5 952.3 L414.0 966.8 L414.5 953.5 L415.0 977.8 L415.5 955.1 L416.0 980.4 L416.5 951.9 L417.0 975.8 L417.5 946.1 L418.0 969.9 L418.5 950.0 L419.0 973.7 L419.5 951.1 L420.0 977.7 L420.5 954.5 L421.0 978.6 L421.5 944.5 L422.0 975.1 L422.5 948.5 L423.0 982.8 L423.5 940.4 L424.0 974.2 L424.5 942.0 L425.0 982.6 L425.5 944.9 L426.0 975.4 L426.5 954.5 L427.0 979.4 L427.5 946.3 L428.0 978.6 L428.5 946.3 L429.0 965.7 L429.5 937.9 L430.0 975.1 L430.4 937.7 L430.4 984.6 L430.5 951.1 L431.0 971.9 L431.5 940.5 L432.0 977.1 L432.5 939.6 L433.0 970.0 L433.5 949.4 L434.0 973.2 L434.5 942.3 L435.0 973.3 L435.5 939.0 L436.0 980.6 L436.5 951.2 L437.0 964.7 L437.5 936.9 L438.0 980.7 L438.5 941.5 L439.0 973.0 L439.5 952.5 L440.0 967.6 L440.5 951.3 L441.0 965.9 L441.5 942.5 L442.0 981.5 L442.5 946.2 L443.0 968.1 L443.5 950.1 L443.6 988.7 L443.6 939.8 L444.0 982.5 L444.5 953.5 L445.0 983.6 L445.5 955.9 L446.0 979.2 L446.5 944.9 L447.0 973.1 L447.5 941.8 L448.0 981.0 L448.5 943.4 L449.0 983.5 L449.5 954.2 L450.0 983.9 L450.5 957.3 L451.0 978.6 L451.5 959.9 L452.0 986.6 L452.5 951.3 L452.8 992.8 L452.8 947.9 L453.0 987.6 L453.5 954.4 L454.0 983.3 L454.5 951.0 L455.0 984.8 L455.5 945.8 L456.0 977.3 L456.5 951.7 L457.0 979.4 L457.5 947.9 L458.0 981.6 L458.5 950.7 L459.0 972.5 L459.5 953.3 L460.0 984.7 L460.5 954.5 L461.0 973.4 L461.5 958.9 L462.0 974.8 L462.5 952.8 L463.0 980.5 L463.5 958.8 L464.0 990.8 L464.0 945.9 L464.0 971.0 L464.5 958.3 L465.0 983.9 L465.5 942.9 L466.0 976.2 L466.5 943.8 L467.0 983.1 L467.5 952.3 L468.0 982.4 L468.5 942.6 L469.0 971.8 L469.5 935.2 L470.0 965.3 L470.5 933.0 L471.0 967.7 L471.2 931.6 L471.2 986.7 L471.5 939.7 L472.0 979.9 L472.5 931.9 L473.0 979.0 L473.5 943.5 L474.0 969.7 L474.5 948.7 L475.0 970.8 L475.5 944.9 L476.0 967.2 L476.5 938.5 L477.0 976.1 L477.5 935.5 L478.0 970.4 L478.5 933.4 L479.0 959.8 L479.5 928.3 L480.0 969.1 L480.5 936.8 L481.0 960.9 L481.4 921.4 L481.4 974.4 L481.5 926.5 L482.0 964.3 L482.5 931.0 L483.0 968.7 L483.5 921.6 L484.0 959.5 L484.5 924.8 L485.0 952.1 L485.5 930.0 L486.0 950.6 L486.5 921.7 L487.0 947.9 L487.5 926.9 L488.0 944.1 L488.5 919.3 L489.0 952.1 L489.5 914.3 L490.0 945.3 L490.5 918.9 L491.0 938.4 L491.5 919.6 L491.6 945.9 L491.6 903.1 L492.0 937.4 L492.5 908.8 L493.0 931.4 L493.5 911.5 L494.0 932.4 L494.5 914.4 L495.0 932.2 L495.5 916.8 L496.0 937.7 L496.5 906.5 L497.0 933.6 L497.5 904.4 L498.0 940.5 L498.5 912.8 L499.0 932.0 L499.5 912.7 L500.0 940.9 L500.5 905.9 L501.0 939.6 L501.5 904.7 L501.8 941.8 L501.8 903.1 L502.0 933.4 L502.5 915.9 L503.0 939.8 L503.5 906.7 L504.0 935.1 L504.5 916.5 L505.0 927.3 L505.5 908.8 L506.0 939.1 L506.5 915.3 L507.0 929.8 L507.5 904.9 L508.0 931.2 L508.5 910.4 L509.0 926.4 L509.5 910.8 L510.0 938.7 L510.5 902.8 L511.0 929.8 L511.5 908.7 L512.0 939.2 L512.5 911.0 L513.0 937.5 L513.5 917.9 L514.0 931.6 L514.5 909.9 L515.0 938.6 L515.5 908.3 L516.0 943.9 L516.0 903.1 L516.0 943.1 L516.5 911.4 L517.0 933.8 L517.5 912.7 L518.0 935.7 L518.5 906.2 L519.0 936.2 L519.5 905.2 L520.0 930.6 L520.5 907.1 L521.0 936.0 L521.5 905.7 L522.0 932.4 L522.5 915.5 L523.0 930.7 L523.5 910.6 L524.0 939.4 L524.5 904.6 L525.0 926.7 L525.5 903.5 L526.0 933.0 L526.5 900.7 L527.0 931.0 L527.5 904.3 L528.0 939.6 L528.5 899.9 L529.0 930.6 L529.5 901.1 L530.0 926.0 L530.5 913.9 L531.0 939.3 L531.3 895.9 L531.3 941.8 L531.5 909.2 L532.0 942.1 L532.5 915.8 L533.0 942.0 L533.5 903.5 L534.0 938.8 L534.5 903.0 L535.0 932.4 L535.5 912.4 L536.0 935.8 L536.5 904.9 L537.0 945.7 L537.5 906.2 L538.0 935.0 L538.5 917.2 L539.0 942.8 L539.5 915.2 L540.0 939.4 L540.5 911.3 L541.0 942.8 L541.5 912.1 L542.0 943.0 L542.5 917.0 L543.0 939.8 L543.5 911.2 L544.0 941.2 L544.5 910.4 L544.6 947.9 L544.6 905.1 L545.0 934.7 L545.5 919.0 L546.0 935.5 L546.5 918.5 L547.0 944.0 L547.5 912.6 L548.0 936.7 L548.5 915.2 L549.0 940.7 L549.5 913.1 L550.0 942.6 L550.5 915.1 L551.0 944.4 L551.5 917.7 L552.0 947.4 L552.5 921.6 L553.0 940.2 L553.5 928.3 L554.0 946.7 L554.5 913.7 L555.0 948.1 L555.5 928.8 L556.0 950.6 L556.5 928.2 L556.8 956.1 L556.8 911.2 L557.0 949.0 L557.5 914.6 L558.0 954.7 L558.5 914.3 L559.0 941.7 L559.5 915.9 L560.0 951.2 L560.5 920.1 L561.0 946.8 L561.5 919.9 L562.0 949.5 L562.5 927.5 L563.0 954.4 L563.5 927.4 L564.0 955.9 L564.5 931.4 L565.0 945.5 L565.5 918.0 L566.0 952.0 L566.5 931.0 L567.0 948.2 L567.5 919.7 L568.0 955.4 L568.5 925.0 L569.0 941.8 L569.5 926.9 L570.0 956.6 L570.5 922.3 L571.0 954.9 L571.5 930.4 L572.0 954.6 L572.5 919.8 L573.0 946.5 L573.1 913.3 L573.1 958.1 L573.5 922.4 L574.0 947.1 L574.5 925.1 L575.0 957.0 L575.5 928.4 L576.0 950.0 L576.5 928.2 L577.0 945.9 L577.5 933.2 L578.0 956.1 L578.5 918.8 L579.0 957.3 L579.5 921.2 L580.0 947.6 L580.5 925.2 L581.0 960.7 L581.5 927.8 L582.0 958.2 L582.5 931.5 L583.0 962.7 L583.5 927.7 L584.0 961.5 L584.5 927.3 L585.0 957.4 L585.5 930.1 L586.0 961.7 L586.5 921.4 L587.0 959.8 L587.5 922.1 L588.0 955.8 L588.5 933.7 L589.0 964.8 L589.4 921.4 L589.4 970.4 L589.5 926.9 L590.0 959.6 L590.5 935.8 L591.0 955.7 L591.5 944.3 L592.0 966.1 L592.5 937.9 L593.0 964.3 L593.5 939.5 L594.0 966.4 L594.5 942.4 L595.0 973.8 L595.5 947.7 L596.0 968.1 L596.5 949.0 L597.0 969.7 L597.5 945.1 L598.0 982.1 L598.5 950.5 L599.0 980.7 L599.5 956.6 L599.6 988.7 L599.6 950.0 L600.0 980.0 L600.5 960.4 L601.0 981.6 L601.5 962.7 L602.0 978.3 L602.5 958.7 L603.0 986.2 L603.5 964.3 L604.0 990.0 L604.5 969.4 L605.0 985.6 L605.5 960.8 L605.8 1003.0 L605.8 958.1 L606.0 1001.1 L606.5 967.9 L607.0 988.1 L607.5 967.8 L608.0 996.4 L608.5 977.8 L609.0 992.4 L609.5 970.4 L610.0 992.4 L610.5 974.7 L611.0 994.7 L611.5 967.7 L612.0 1006.5 L612.5 981.3 L613.0 995.9 L613.5 969.7 L613.9 1009.1 L613.9 964.2 L614.0 1007.5 L614.5 970.0 L615.0 994.0 L615.5 966.4 L616.0 1001.5 L616.5 966.6 L617.0 995.8 L617.5 978.0 L618.0 990.7 L618.5 977.6 L619.0 1000.3 L619.5 972.7 L620.0 994.0 L620.5 971.9 L621.0 997.6 L621.5 971.5 L622.0 992.9 L622.1 962.2 L622.1 998.9 L622.5 971.7 L623.0 996.4 L623.5 968.2 L624.0 990.4 L624.5 978.7 L625.0 1004.8 L625.5 971.0 L626.0 1006.5 L626.5 980.5 L627.0 1004.6 L627.5 977.2 L628.0 1005.3 L628.5 989.8 L629.0 1009.7 L629.5 988.3 L630.0 1007.9 L630.2 978.5 L630.2 1019.3 L630.5 979.6 L631.0 1005.0 L631.5 986.1 L632.0 1001.5 L632.5 980.3 L633.0 995.7 L633.5 978.9 L634.0 1003.9 L634.5 974.1 L635.0 990.6 L635.5 971.8 L636.0 996.8 L636.4 958.1 L636.4 998.9 L636.5 970.1 L637.0 985.4 L637.5 962.8 L638.0 993.1 L638.5 967.6 L639.0 996.8 L639.5 982.4 L640.0 1003.6 L640.5 977.9 L641.0 1017.1 L641.5 992.2 L642.0 1019.5 L642.5 984.3 L643.0 1010.7 L643.5 982.6 L643.5 1025.4 L643.5 988.1 L644.0 1017.0 L644.5 991.5 L645.0 1010.9 L645.5 980.8 L646.0 1011.8 L646.5 977.6 L647.0 1002.4 L647.5 972.9 L648.0 998.1 L648.5 973.8 L649.0 984.9 L649.5 972.1 L650.0 989.4 L650.5 959.6 L650.6 990.8 L650.6 956.1 L651.0 980.4 L651.5 960.3 L652.0 988.4 L652.5 976.5 L653.0 990.3 L653.5 970.3 L654.0 996.8 L654.5 975.1 L655.0 1002.9 L655.5 984.1 L656.0 1007.4 L656.5 994.6 L657.0 1015.9 L657.5 984.9 L658.0 1031.9 L658.5 1000.9 L659.0 1031.5 L659.5 1007.7 L660.0 1036.4 L660.5 1007.8 L661.0 1045.0 L661.5 1014.6 L661.8 1055.0 L661.8 998.9 L662.0 1033.0 L662.5 1011.9 L663.0 1027.0 L663.5 994.2 L664.0 1023.6 L664.5 981.5 L665.0 1009.9 L665.5 985.1 L666.0 1004.3 L666.5 965.5 L667.0 1005.4 L667.5 962.9 L668.0 981.6 L668.5 953.6 L669.0 987.9 L669.2 941.8 L669.2 988.7 L669.5 954.2 L670.0 983.8 L670.5 954.3 L671.0 988.9 L671.5 970.7 L672.0 1013.7 L672.5 984.7 L673.0 1023.6 L673.5 990.4 L674.0 1025.5 L674.5 1006.0 L675.0 1038.2 L675.3 998.9 L675.3 1051.9 L675.5 1003.1 L676.0 1035.9 L676.5 994.3 L677.0 1020.3 L677.5 995.3 L678.0 1017.8 L678.5 980.8 L679.0 998.7 L679.5 974.0 L680.0 994.3 L680.4 962.2 L680.4 998.9 L680.5 961.8 L681.0 985.1 L681.5 962.8 L682.0 988.1 L682.5 974.4 L683.0 989.8 L683.5 975.0 L684.0 991.1 L684.5 966.6 L685.0 994.3 L685.5 974.0 L686.0 991.2 L686.5 978.8 L687.0 1000.4 L687.5 973.8 L688.0 994.6 L688.5 966.0 L689.0 1006.6 L689.5 965.9 L690.0 1002.7 L690.5 975.2 L691.0 1002.7 L691.5 968.1 L692.0 1001.1 L692.5 980.6 L693.0 1009.5 L693.5 966.7 L694.0 1000.8 L694.5 972.5 L694.7 1011.2 L694.7 958.1 L695.0 1004.2 L695.5 971.2 L696.0 1013.8 L696.5 978.5 L697.0 1010.4 L697.5 981.0 L698.0 1010.3 L698.5 965.2 L699.0 996.5 L699.5 980.2 L700.0 1010.5 L700.5 977.1 L701.0 1002.2 L701.5 963.8 L702.0 1005.2 L702.5 978.9 L703.0 998.9 L703.5 975.0 L704.0 1005.4 L704.5 969.1 L704.9 1019.3 L704.9 966.3 L705.0 1001.8 L705.5 968.0 L706.0 1007.8 L706.5 970.7 L707.0 1001.2 L707.5 962.3 L708.0 999.0 L708.5 971.2 L709.0 992.8 L709.5 971.1 L710.0 988.7 L710.5 962.1 L711.0 998.9 L711.0 954.0 L711.0 990.9 L711.5 971.3 L712.0 994.0 L712.5 971.1 L713.0 1006.6 L713.5 970.9 L714.0 1008.0 L714.5 982.7 L715.0 1015.4 L715.1 978.5 L715.1 1031.5 L715.5 994.6 L716.0 1022.6 L716.5 990.1 L717.0 1016.2 L717.5 978.2 L718.0 1017.0 L718.5 967.3 L719.0 1004.9 L719.5 970.8 L720.0 996.4 L720.5 967.8 L721.0 1001.4 L721.5 956.2 L722.0 993.0 L722.5 968.6 L723.0 995.5 L723.2 943.9 L723.2 998.9 L723.5 954.3 L724.0 995.9 L724.5 953.9 L725.0 986.8 L725.5 954.3 L726.0 987.3 L726.5 953.4 L727.0 986.5 L727.5 945.8 L728.0 974.8 L728.5 939.4 L729.0 965.2 L729.5 941.3 L730.0 974.3 L730.4 931.6 L730.4 978.5 L730.5 934.1 L731.0 971.3 L731.5 954.6 L732.0 990.3 L732.5 969.4 L733.0 999.6 L733.5 978.1 L734.0 1018.3 L734.5 1006.9 L735.0 1036.5 L735.5 1022.6 L736.0 1041.7 L736.5 1019.3 L736.5 1060.1 L736.5 1023.8 L737.0 1065.5 L737.5 1034.7 L738.0 1064.2 L738.5 1030.0 L738.5 1081.5 L738.5 1033.7 L739.0 1061.7 L739.5 1029.6 L740.0 1063.2 L740.5 1031.9 L741.0 1070.2 L741.5 1026.5 L742.0 1057.7 L742.5 1012.0 L743.0 1066.5 L743.5 1026.5 L744.0 1058.0 L744.5 1008.6 L745.0 1036.4 L745.5 1015.4 L745.6 1060.1 L745.6 991.4 L746.0 1052.2 L746.5 996.5 L747.0 1041.5 L747.5 1006.7 L748.0 1041.7 L748.5 1004.4 L749.0 1036.8 L749.5 1006.1 L750.0 1033.1 L750.5 990.9 L751.0 1040.6 L751.5 1000.1 L752.0 1039.2 L752.5 988.3 L753.0 1025.5 L753.5 982.3 L753.8 1035.6 L753.8 972.5 L754.0 1018.3 L754.5 994.3 L755.0 1012.6 L755.5 978.4 L756.0 1024.1 L756.5 978.1 L757.0 1022.6 L757.5 975.1 L758.0 1028.2 L758.5 977.0 L759.0 1013.2 L759.5 988.8 L760.0 1020.1 L760.5 993.5 L761.0 1015.4 L761.5 979.3 L762.0 1010.7 L762.5 996.0 L763.0 1018.4 L763.5 979.3 L764.0 1016.6 L764.5 981.9 L765.0 1014.5 L765.5 983.4 L766.0 1030.4 L766.5 978.8 L767.0 1015.9 L767.5 989.9 L768.0 1027.7 L768.5 984.2 L769.0 1016.4 L769.5 974.6 L770.0 1023.1 L770.5 978.3 L771.0 1012.1 L771.5 987.5 L772.0 1010.7 L772.2 976.6 L772.2 1029.5 L772.5 982.7 L773.0 1012.9 L773.5 988.1 L774.0 1026.7 L774.5 987.0 L775.0 1017.6 L775.5 986.9 L776.0 1017.3 L776.5 978.5 L777.0 1016.2 L777.5 984.0 L778.0 1011.5 L778.5 979.1 L779.0 1024.2 L779.5 988.1 L780.0 1010.5 L780.5 981.7 L781.0 1023.3 L781.5 977.3 L782.0 1025.3 L782.5 984.4 L783.0 1025.4 L783.5 982.0 L784.0 1027.1 L784.5 974.6 L785.0 1027.2 L785.5 979.0 L786.0 1010.9 L786.5 984.4 L787.0 1025.1 L787.5 976.1 L788.0 1013.5 L788.5 989.5 L789.0 1014.2 L789.5 985.8 L790.0 1027.7 L790.5 992.0 L791.0 1012.5 L791.5 976.2 L792.0 1023.4 L792.5 968.4 L792.5 1029.5 L792.5 979.2 L793.0 1013.5 L793.5 986.4 L794.0 1026.0 L794.5 984.3 L795.0 1011.5 L795.5 992.8 L796.0 1023.0 L796.5 981.8 L797.0 1016.4 L797.5 989.9 L798.0 1021.7 L798.5 974.7 L799.0 1027.4 L799.5 978.6 L800.0 1011.2 L800.5 991.1 L801.0 1015.2 L801.5 973.2 L802.0 1007.3 L802.5 978.9 L803.0 1015.8 L803.5 977.0 L804.0 1009.2 L804.5 981.3 L805.0 1018.7 L805.5 989.2 L806.0 1020.7 L806.5 978.2 L807.0 1016.9 L807.5 980.0 L808.0 1019.0 L808.5 981.9 L809.0 1005.4 L809.5 978.1 L810.0 1010.5 L810.5 987.6 L811.0 1013.2 L811.5 971.2 L812.0 1012.1 L812.5 974.0 L812.9 1023.4 L812.9 968.4 L813.0 1017.4 L813.5 973.8 L814.0 999.8 L814.5 983.4 L815.0 1000.7 L815.5 978.4 L816.0 1009.9 L816.5 972.5 L817.0 1010.4 L817.5 987.4 L818.0 1018.8 L818.5 974.7 L819.0 1023.2 L819.5 986.7 L820.0 1023.0 L820.5 983.0 L821.0 1020.3 L821.5 978.4 L822.0 1023.9 L822.5 988.4 L823.0 1015.1 L823.5 981.9 L824.0 1024.2 L824.5 985.1 L825.0 1017.2 L825.5 986.7 L826.0 1025.9 L826.5 987.0 L827.0 1012.9 L827.5 977.1 L828.0 1023.9 L828.5 987.4 L829.0 1015.4 L829.5 977.6 L830.0 1022.3 L830.5 989.8 L831.0 1025.8 L831.5 992.6 L832.0 1026.8 L832.5 992.0 L833.0 1023.3 L833.3 972.5 L833.3 1027.5 L833.5 977.2 L834.0 1026.7 L834.5 981.6 L835.0 1029.4 L835.5 976.2 L836.0 1026.7 L836.5 979.8 L837.0 1031.3 L837.5 988.0 L838.0 1011.2 L838.5 987.4 L839.0 1023.4 L839.5 985.8 L840.0 1029.9 L840.5 982.2 L841.0 1031.1 L841.5 984.5 L842.0 1018.3 L842.5 986.2 L843.0 1020.4 L843.5 995.7 L844.0 1031.5 L844.5 982.8 L845.0 1016.0 L845.5 977.3 L846.0 1018.2 L846.5 989.9 L847.0 1035.9 L847.5 976.0 L848.0 1041.9 L848.5 973.1 L849.0 1036.9 L849.5 996.7 L850.0 1025.4 L850.5 982.6 L851.0 1029.4 L851.5 991.0 L852.0 1031.8 L852.5 976.7 L852.7 1058.0 L852.7 972.5 L853.0 1024.2 L853.5 980.6 L854.0 1024.0 L854.5 981.7 L855.0 1028.3 L855.5 995.7 L856.0 1032.3 L856.5 996.7 L857.0 1029.5 L857.5 973.6 L858.0 1030.5 L858.5 987.6 L859.0 1029.8 L859.5 981.5 L860.0 1012.9 L860.5 976.9 L861.0 1024.5 L861.5 982.7 L862.0 1005.3 L862.5 985.8 L863.0 1006.1 L863.5 978.2 L863.9 1019.3 L863.9 968.4 L864.0 1006.9 L864.5 967.2 L865.0 1005.0 L865.5 978.0 L866.0 1005.8 L866.5 962.1 L867.0 994.0 L867.5 961.4 L868.0 996.4 L868.5 970.1 L869.0 1000.6 L869.5 955.6 L870.0 994.5 L870.5 951.1 L871.0 993.7 L871.5 947.9 L872.0 979.1 L872.1 941.9 L872.1 998.9 L872.5 944.0 L873.0 992.9 L873.5 959.3 L874.0 983.2 L874.5 959.3 L875.0 990.0 L875.5 958.2 L876.0 995.9 L876.5 957.4 L877.0 995.4 L877.5 951.6 L878.0 996.7 L878.5 963.4 L879.0 1001.4 L879.5 951.7 L880.0 996.0 L880.5 965.9 L881.0 1004.8 L881.5 961.8 L882.0 1006.2 L882.5 964.1 L883.0 999.9 L883.5 974.7 L884.0 990.9 L884.3 958.2 L884.3 1015.2 L884.5 967.9 L885.0 1004.4 L885.5 963.7 L886.0 1004.7 L886.5 957.6 L887.0 991.6 L887.5 954.2 L888.0 1000.6 L888.5 961.6 L889.0 1006.5 L889.5 964.4 L890.0 1008.4 L890.5 959.5 L891.0 996.6 L891.5 959.9 L892.0 1002.9 L892.5 953.3 L893.0 994.7 L893.5 964.3 L894.0 999.8 L894.5 951.3 L895.0 1008.2 L895.5 948.2 L896.0 997.4 L896.5 958.1 L897.0 989.4 L897.5 968.4 L898.0 997.6 L898.5 961.1 L899.0 989.4 L899.5 964.3 L900.0 999.0 L900.5 945.2 L901.0 989.4 L901.5 951.9 L902.0 993.5 L902.5 961.4 L902.7 1013.2 L902.7 939.9 L903.0 993.2 L903.5 947.4 L904.0 987.4 L904.5 944.8 L905.0 1007.7 L905.5 962.5 L906.0 1013.3 L906.5 946.9 L907.0 989.3 L907.5 967.8 L908.0 990.7 L908.5 972.5 L909.0 1004.4 L909.5 957.7 L910.0 991.2 L910.5 956.1 L911.0 1004.0 L911.5 965.3 L912.0 998.1 L912.5 970.7 L913.0 1000.5 L913.5 968.2 L914.0 1015.6 L914.5 973.1 L915.0 1019.5 L915.5 964.7 L916.0 1022.7 L916.5 965.1 L917.0 1015.5 L917.5 982.6 L918.0 1018.5 L918.2 952.1 L918.2 1023.4 L918.5 973.8 L919.0 1015.2 L919.5 962.0 L920.0 998.0 L920.5 949.4 L921.0 1004.8 L921.5 954.1 L922.0 994.0 L922.5 953.1 L923.0 1007.7 L923.5 963.2 L924.0 980.8 L924.5 947.7 L925.0 984.6 L925.5 953.0 L926.0 983.0 L926.5 935.4 L927.0 978.4 L927.5 937.0 L928.0 985.1 L928.4 927.7 L928.4 998.9 L928.5 939.5 L929.0 994.4 L929.5 937.6 L930.0 991.4 L930.5 947.4 L931.0 1004.3 L931.5 957.2 L932.0 998.4 L932.5 968.1 L933.0 1008.0 L933.5 964.1 L934.0 1013.6 L934.5 981.5 L935.0 1013.7 L935.5 980.1 L936.0 1025.7 L936.5 972.4 L937.0 1031.7 L937.5 976.8 L938.0 1031.2 L938.5 972.5 L938.5 1039.7 L938.5 981.8 L939.0 1026.4 L939.5 993.5 L940.0 1022.0 L940.5 979.4 L941.0 1039.6 L941.5 996.6 L942.0 1041.3 L942.5 996.2 L943.0 1025.9 L943.5 977.5 L944.0 1026.3 L944.5 977.2 L945.0 1057.8 L945.5 983.4 L945.7 1060.1 L945.7 962.3 L946.0 1028.2 L946.5 997.4 L947.0 1027.4 L947.5 968.1 L948.0 1026.1 L948.5 959.5 L949.0 1011.4 L949.5 959.4 L950.0 1014.8 L950.5 942.1 L951.0 997.1 L951.5 953.4 L952.0 1016.4 L952.5 936.2 L953.0 1001.4 L953.5 956.5 L954.0 1010.2 L954.5 950.4 L954.9 1009.1 L954.9 911.3 L955.0 993.5 L955.5 938.6 L956.0 1018.3 L956.5 949.8 L957.0 999.6 L957.5 961.2 L958.0 1013.7 L958.5 951.3 L959.0 1028.0 L959.5 945.6 L960.0 1033.6 L960.5 981.3 L961.0 1040.3 L961.5 976.5 L962.0 1026.0 L962.5 983.1 L963.0 1036.4 L963.5 990.6 L964.0 1054.0 L964.5 980.4 L965.0 1053.6 L965.5 993.4 L966.0 1039.3 L966.1 972.5 L966.1 1076.4 L966.5 982.7 L967.0 1042.4 L967.5 1002.5 L968.0 1052.3 L968.5 975.4 L969.0 1030.5 L969.5 970.3 L970.0 1040.3 L970.5 981.7 L971.0 1014.1 L971.5 970.3 L972.0 999.4 L972.5 964.0 L973.0 999.1 L973.5 953.0 L974.0 988.2 L974.5 937.9 L975.0 984.8 L975.5 945.3 L976.0 994.5 L976.5 942.9 L977.0 984.1 L977.3 921.5 L977.3 998.9 L977.5 947.8 L978.0 980.1 L978.5 944.3 L979.0 980.8 L979.5 941.1 L980.0 997.4 L980.5 938.7 L981.0 989.3 L981.5 954.2 L982.0 996.1 L982.5 951.9 L983.0 999.6 L983.5 947.0 L984.0 978.9 L984.5 943.9 L985.0 982.4 L985.5 953.5 L986.0 982.7 L986.5 951.0 L987.0 985.5 L987.5 952.1 L987.5 1003.0 L987.5 960.4 L988.0 996.3 L988.5 965.8 L989.0 995.7 L989.5 961.6 L990.0 977.3 L990.5 955.5 L991.0 977.4 L991.5 942.3 L992.0 974.6 L992.5 947.6 L993.0 990.2 L993.5 953.1 L994.0 981.6 L994.5 954.7 L995.0 980.8 L995.5 944.4 L996.0 979.6 L996.5 944.3 L997.0 970.8 L997.5 938.5 L997.7 988.7 L997.7 927.7 L998.0 979.1 L998.5 952.4 L999.0 981.8 L999.5 947.5 L1000.0 978.9 L1000.5 950.1 L1001.0 998.1 L1001.5 958.4 L1002.0 1005.6 L1002.5 956.5 L1003.0 1005.5 L1003.5 974.1 L1004.0 1009.0 L1004.5 975.3 L1005.0 1010.8 L1005.5 981.3 L1005.8 1033.6 L1005.8 973.1 L1006.0 1025.5 L1006.5 987.9 L1007.0 1016.7 L1007.5 972.6 L1008.0 1017.8 L1008.5 982.6 L1009.0 1006.6 L1009.5 977.4 L1010.0 1015.9 L1010.5 974.1 L1011.0 995.7 L1011.5 966.1 L1012.0 1010.9 L1012.5 978.8 L1013.0 1001.1 L1013.5 969.9 L1014.0 988.1 L1014.5 964.4 L1015.0 985.3 L1015.5 961.1 L1016.0 996.0 L1016.5 966.5 L1017.0 988.9 L1017.5 959.2 L1018.0 980.6 L1018.5 949.5 L1019.0 987.9 L1019.5 958.1 L1020.0 985.3 L1020.1 946.0 L1020.1 988.7 L1020.5 944.7 L1021.0 974.9 L1021.5 942.1 L1022.0 966.2 L1022.5 940.2 L1023.0 974.3 L1023.5 931.0 L1024.0 962.5 L1024.5 943.3 L1025.0 968.4 L1025.5 921.4 L1026.0 954.6 L1026.5 923.8 L1027.0 957.7 L1027.5 920.1 L1028.0 967.1 L1028.5 915.9 L1029.0 957.8 L1029.5 920.7 L1030.0 966.8 L1030.5 902.9 L1031.0 954.7 L1031.5 908.4 L1032.0 953.6 L1032.3 886.0 L1032.3 968.3 L1032.5 897.2 L1033.0 966.3 L1033.5 901.6 L1034.0 963.0 L1034.5 905.2 L1035.0 967.9 L1035.5 925.7 L1036.0 948.8 L1036.5 925.2 L1037.0 966.4 L1037.5 913.4 L1038.0 957.2 L1038.5 915.2 L1039.0 969.2 L1039.5 920.1 L1040.0 983.8 L1040.5 926.3 L1041.0 973.9 L1041.5 932.6 L1042.0 974.0 L1042.5 931.7 L1042.5 994.8 L1042.5 946.5 L1043.0 973.3 L1043.5 932.0 L1044.0 986.5 L1044.5 946.4 L1045.0 965.0 L1045.5 935.9 L1046.0 963.4 L1046.5 924.4 L1047.0 960.4 L1047.5 925.4 L1048.0 975.7 L1048.5 920.4 L1049.0 975.4 L1049.5 918.6 L1050.0 972.8 L1050.5 933.7 L1051.0 953.6 L1051.5 918.0 L1052.0 960.1 L1052.5 925.4 L1052.7 972.4 L1052.7 905.4 L1053.0 952.9 L1053.5 919.0 L1054.0 971.1 L1054.5 925.2 L1055.0 955.3 L1055.5 930.0 L1056.0 967.6 L1056.5 910.4 L1057.0 967.6 L1057.5 924.9 L1058.0 949.8 L1058.5 926.6 L1059.0 957.0 L1059.5 911.6 L1060.0 961.0 L1060.5 918.9 L1061.0 972.0 L1061.5 923.9 L1062.0 951.7 L1062.5 911.7 L1063.0 963.3 L1063.5 922.3 L1064.0 968.8 L1064.5 927.7 L1065.0 964.1 L1065.5 911.9 L1066.0 948.8 L1066.5 930.6 L1067.0 962.6 L1067.5 915.4 L1068.0 967.7 L1068.5 919.1 L1069.0 957.9 L1069.5 932.4 L1070.0 957.4 L1070.5 925.1 L1071.0 967.3 L1071.5 915.4 L1072.0 957.1 L1072.5 927.7 L1073.0 948.6 L1073.1 905.8 L1073.1 968.3 L1073.5 926.9 L1074.0 947.7 L1074.5 908.7 L1075.0 956.0 L1075.5 914.3 L1076.0 946.3 L1076.5 915.6 L1077.0 947.1 L1077.5 907.2 L1078.0 960.9 L1078.5 913.8 L1079.0 949.6 L1079.5 916.6 L1080.0 963.0 L1080.5 908.8 L1081.0 961.3 L1081.5 928.0 L1082.0 956.6 L1082.5 922.2 L1083.0 960.5 L1083.5 906.2 L1084.0 957.5 L1084.5 913.0 L1085.0 946.0 L1085.5 915.3 L1086.0 947.2 L1086.5 908.3 L1087.0 937.3 L1087.5 920.4 L1088.0 939.1 L1088.5 910.0 L1089.0 939.0 L1089.5 909.2 L1090.0 942.8 L1090.5 920.3 L1091.0 939.4 L1091.5 914.6 L1092.0 945.4 L1092.5 918.3 L1093.0 935.5 L1093.5 899.9 L1093.5 954.0 L1093.5 899.8 L1094.0 939.8 L1094.5 911.0 L1095.0 934.4 L1095.5 900.5 L1096.0 928.0 L1096.5 902.7 L1097.0 939.0 L1097.5 892.0 L1098.0 936.0 L1098.5 883.2 L1099.0 936.3 L1099.5 880.7 L1100.0 915.7 L1100.5 884.9 L1100.7 937.7 L1100.7 875.7 L1101.0 919.5 L1101.5 891.3 L1102.0 919.8 L1102.5 873.6 L1103.0 930.8 L1103.5 878.3 L1104.0 928.6 L1104.5 884.9 L1105.0 905.9 L1105.5 876.5 L1106.0 915.8 L1106.5 878.9 L1107.0 907.6 L1107.5 873.7 L1108.0 923.0 L1108.5 861.5 L1109.0 907.1 L1109.5 863.7 L1110.0 906.6 L1110.5 868.1 L1111.0 896.7 L1111.5 874.6 L1112.0 903.2 L1112.5 864.0 L1112.9 917.3 L1112.9 849.3 L1113.0 904.0 L1113.5 872.5 L1114.0 893.8 L1114.5 870.1 L1115.0 905.1 L1115.5 869.9 L1116.0 909.8 L1116.5 865.9 L1117.0 911.8 L1117.5 858.5 L1118.0 907.2 L1118.5 867.1 L1119.0 922.9 L1119.5 883.8 L1120.0 916.6 L1120.5 874.2 L1121.0 925.9 L1121.5 879.7 L1122.0 923.4 L1122.5 876.0 L1123.0 922.6 L1123.5 876.4 L1124.0 910.9 L1124.1 865.9 L1124.1 927.5 L1124.5 889.6 L1125.0 911.7 L1125.5 889.4 L1126.0 924.9 L1126.5 891.6 L1127.0 924.5 L1127.5 890.6 L1128.0 923.7 L1128.5 894.9 L1129.0 930.3 L1129.5 894.2 L1130.0 937.2 L1130.5 877.5 L1131.0 916.5 L1131.5 877.3 L1132.0 924.6 L1132.5 874.5 L1133.0 945.4 L1133.5 875.2 L1134.0 938.2 L1134.3 872.1 L1134.3 958.1 L1134.5 889.0 L1135.0 957.1 L1135.5 891.0 L1136.0 959.3 L1136.5 890.1 L1137.0 950.4 L1137.5 907.4 L1138.0 935.5 L1138.5 894.4 L1139.0 952.5 L1139.5 912.6 L1140.0 963.1 L1140.5 906.9 L1141.0 965.4 L1141.5 890.2 L1142.0 947.6 L1142.5 909.4 L1143.0 951.6 L1143.5 907.8 L1144.0 944.3 L1144.5 915.6 L1145.0 945.9 L1145.5 891.6 L1146.0 960.4 L1146.5 915.3 L1147.0 968.8 L1147.5 911.4 L1148.0 954.7 L1148.5 906.4 L1148.6 974.4 L1148.6 892.8 L1149.0 959.6 L1149.5 897.7 L1150.0 947.9 L1150.5 907.2 L1151.0 944.6 L1151.5 910.6 L1152.0 961.7 L1152.5 906.4 L1153.0 960.8 L1153.5 928.2 L1154.0 962.2" stroke="#00ff00" stroke-width="1.0" fill="none" shape-rendering="crispEdges"/>
<path d="M166.0 998.6 L166.5 966.2 L167.0 1011.7 L167.5 952.2 L168.0 992.2 L168.5 952.2 L169.0 1014.2 L169.5 959.2 L170.0 991.1 L170.5 951.2 L171.0 998.1 L171.5 964.4 L172.0 990.3 L172.2 947.9 L172.2 1017.3 L172.5 956.5 L173.0 995.1 L173.5 966.4 L174.0 1004.9 L174.5 966.7 L175.0 1017.9 L175.5 974.5 L176.0 1013.3 L176.5 966.8 L177.0 1015.4 L177.5 959.9 L178.0 1010.5 L178.5 969.0 L179.0 1020.6 L179.5 969.7 L180.0 1013.6 L180.5 963.3 L181.0 1024.7 L181.5 970.3 L182.0 1026.1 L182.5 981.3 L183.0 1027.5 L183.5 979.0 L184.0 1032.5 L184.5 958.0 L184.5 1039.7 L184.5 976.3 L185.0 1013.1 L185.5 983.2 L186.0 1011.0 L186.5 973.7 L187.0 1004.9 L187.5 969.9 L188.0 1018.4 L188.5 971.5 L189.0 1003.0 L189.5 969.3 L190.0 1013.5 L190.5 959.2 L191.0 1005.9 L191.5 966.7 L192.0 1007.4 L192.5 944.7 L193.0 1009.0 L193.5 965.5 L194.0 988.5 L194.5 945.4 L195.0 999.4 L195.5 945.0 L195.7 1003.0 L195.7 926.5 L196.0 1001.5 L196.5 942.0 L197.0 1003.8 L197.5 958.9 L198.0 985.8 L198.5 949.1 L199.0 1006.4 L199.5 957.0 L200.0 1008.4 L200.5 960.5 L201.0 985.5 L201.5 960.6 L202.0 1010.6 L202.5 943.3 L203.0 1006.6 L203.5 942.3 L204.0 1000.1 L204.5 953.2 L205.0 994.3 L205.5 946.3 L206.0 1013.4 L206.5 968.6 L207.0 992.0 L207.5 954.9 L208.0 994.8 L208.5 969.1 L209.0 998.6 L209.5 972.0 L210.0 1006.9 L210.5 951.5 L211.0 1027.5 L211.0 950.0 L211.0 1008.9 L211.5 973.9 L212.0 1002.2 L212.5 956.0 L213.0 991.9 L213.5 945.5 L214.0 999.6 L214.5 947.6 L215.0 998.8 L215.5 965.3 L216.0 1004.3 L216.5 953.1 L217.0 989.9 L217.5 937.9 L218.0 986.6 L218.5 942.3 L219.0 993.8 L219.5 938.4 L220.0 981.9 L220.5 936.3 L221.0 994.4 L221.5 937.1 L222.0 993.9 L222.5 947.8 L223.0 982.7 L223.2 921.4 L223.2 990.8 L223.5 930.0 L224.0 989.0 L224.5 938.9 L225.0 982.8 L225.5 935.5 L226.0 975.5 L226.5 949.8 L227.0 977.0 L227.5 949.1 L228.0 975.2 L228.5 941.6 L229.0 969.8 L229.5 950.0 L230.0 977.5 L230.5 931.0 L231.0 976.5 L231.5 933.2 L232.0 985.2 L232.5 948.5 L233.0 992.7 L233.5 931.9 L234.0 969.1 L234.5 945.2 L235.0 993.0 L235.4 927.5 L235.4 998.9 L235.5 939.7 L236.0 991.0 L236.5 930.3 L237.0 978.4 L237.5 940.3 L238.0 979.5 L238.5 933.7 L239.0 984.1 L239.5 949.8 L240.0 979.9 L240.5 952.0 L241.0 985.1 L241.5 935.5 L242.0 988.7 L242.5 950.3 L243.0 982.7 L243.5 951.7 L244.0 993.2 L244.5 932.9 L245.0 998.2 L245.5 938.8 L246.0 983.2 L246.5 938.2 L247.0 1005.0 L247.5 943.9 L248.0 993.9 L248.5 940.9 L249.0 989.0 L249.5 939.0 L250.0 998.1 L250.5 929.0 L251.0 979.9 L251.5 934.7 L252.0 985.9 L252.5 946.2 L253.0 992.8 L253.5 929.3 L254.0 1000.7 L254.5 930.5 L255.0 983.3 L255.5 945.2 L255.8 1013.2 L255.8 925.5 L256.0 1004.0 L256.5 937.5 L257.0 993.3 L257.5 951.5 L258.0 1000.8 L258.5 944.9 L259.0 993.5 L259.5 936.4 L260.0 996.7 L260.5 924.5 L261.0 988.9 L261.5 946.4 L262.0 978.9 L262.5 932.0 L263.0 987.8 L263.5 923.3 L264.0 988.8 L264.5 926.9 L265.0 975.5 L265.5 913.8 L266.0 960.9 L266.5 914.3 L267.0 968.7 L267.5 935.3 L268.0 962.9 L268.1 911.2 L268.1 986.7 L268.5 937.1 L269.0 969.6 L269.5 941.1 L270.0 981.4 L270.5 940.6 L271.0 985.7 L271.5 945.2 L272.0 989.6 L272.5 928.4 L273.0 994.1 L273.5 929.2 L274.0 973.6 L274.5 925.0 L275.0 989.7 L275.5 935.7 L276.0 972.8 L276.5 938.9 L277.0 993.8 L277.5 953.4 L278.0 993.8 L278.5 943.9 L279.0 1003.4 L279.5 957.8 L280.0 984.4 L280.5 961.6 L281.0 1001.1 L281.5 944.0 L282.0 994.0 L282.5 967.4 L283.0 1012.8 L283.5 958.4 L284.0 1023.3 L284.5 959.5 L285.0 999.6 L285.4 943.9 L285.4 1024.4 L285.5 969.9 L286.0 1003.2 L286.5 973.1 L287.0 992.7 L287.5 952.1 L288.0 994.3 L288.5 948.0 L289.0 998.1 L289.5 938.9 L290.0 993.4 L290.5 946.1 L291.0 986.5 L291.5 937.7 L292.0 979.8 L292.5 935.0 L293.0 977.4 L293.5 934.5 L294.0 974.4 L294.0 911.2 L294.0 971.4 L294.5 924.4 L295.0 956.6 L295.5 922.0 L296.0 961.8 L296.5 926.3 L297.0 971.7 L297.5 924.0 L298.0 960.8 L298.5 936.4 L299.0 978.1 L299.5 941.9 L300.0 979.0 L300.5 940.3 L301.0 966.6 L301.5 934.3 L302.0 968.2 L302.5 931.9 L303.0 978.5 L303.5 933.3 L304.0 972.4 L304.5 942.9 L305.0 968.1 L305.5 936.2 L306.0 969.7 L306.5 940.5 L307.0 968.5 L307.5 939.2 L308.0 981.6 L308.5 937.6 L309.0 978.8 L309.5 935.2 L310.0 977.7 L310.5 945.5 L310.9 990.8 L310.9 933.7 L311.0 981.7 L311.5 936.4 L312.0 985.9 L312.5 942.5 L313.0 989.6 L313.5 943.9 L314.0 978.7 L314.5 943.0 L315.0 994.0 L315.5 951.9 L316.0 974.5 L316.5 945.5 L317.0 996.6 L317.5 944.0 L318.0 1001.0 L318.0 937.7 L318.0 996.4 L318.5 944.3 L319.0 982.7 L319.5 961.6 L320.0 978.9 L320.5 945.4 L321.0 987.0 L321.5 960.2 L322.0 993.7 L322.5 948.4 L323.0 978.7 L323.5 955.7 L324.0 970.9 L324.5 944.3 L325.0 975.9 L325.5 950.5 L326.0 972.4 L326.5 936.4 L327.0 981.0 L327.5 939.3 L328.0 973.4 L328.5 935.0 L329.0 971.8 L329.5 945.6 L330.0 961.9 L330.5 936.6 L331.0 965.3 L331.5 943.8 L332.0 966.5 L332.5 940.9 L333.0 966.2 L333.3 929.6 L333.3 978.5 L333.5 928.3 L334.0 964.7 L334.5 933.5 L335.0 958.0 L335.5 939.9 L336.0 967.2 L336.5 944.7 L337.0 970.8 L337.5 945.4 L338.0 977.3 L338.5 931.7 L339.0 972.9 L339.5 934.8 L340.0 976.2 L340.5 931.4 L341.0 977.6 L341.5 931.2 L342.0 970.7 L342.5 930.0 L343.0 970.8 L343.5 946.4 L344.0 965.4 L344.5 936.1 L345.0 981.8 L345.5 944.7 L346.0 962.5 L346.5 940.2 L347.0 977.7 L347.5 931.0 L348.0 977.5 L348.5 928.1 L349.0 966.5 L349.5 939.2 L350.0 969.4 L350.5 928.0 L351.0 965.5 L351.5 938.8 L352.0 981.0 L352.5 945.4 L352.7 988.7 L352.7 922.4 L353.0 964.4 L353.5 928.9 L354.0 971.3 L354.5 927.6 L355.0 968.7 L355.5 944.1 L356.0 983.7 L356.5 939.5 L357.0 985.7 L357.5 944.3 L358.0 971.1 L358.5 947.8 L359.0 985.2 L359.5 937.7 L360.0 969.3 L360.5 930.6 L361.0 966.4 L361.5 932.6 L362.0 973.1 L362.5 942.7 L363.0 980.9 L363.5 948.8 L364.0 988.0 L364.5 949.5 L365.0 986.4 L365.5 950.4 L366.0 975.2 L366.5 959.6 L367.0 987.7 L367.5 948.7 L368.0 975.9 L368.5 947.0 L369.0 994.9 L369.5 960.5 L370.0 993.5 L370.5 953.4 L371.0 996.1 L371.5 959.1 L372.0 980.2 L372.1 939.8 L372.1 996.9 L372.5 947.8 L373.0 988.9 L373.5 960.7 L374.0 993.1 L374.5 959.2 L375.0 997.7 L375.5 950.4 L376.0 997.4 L376.5 951.1 L377.0 997.3 L377.5 959.3 L378.0 993.6 L378.5 944.4 L379.0 984.3 L379.5 939.9 L380.0 989.7 L380.5 941.2 L381.0 990.3 L381.5 954.3 L382.0 984.1 L382.5 945.2 L383.0 992.0 L383.5 952.4 L384.0 991.2 L384.5 956.6 L385.0 982.1 L385.5 944.3 L386.0 985.4 L386.5 939.2 L387.0 984.6 L387.5 946.1 L388.0 993.8 L388.5 947.3 L389.0 988.2 L389.5 952.9 L390.0 988.3 L390.5 937.2 L391.0 990.7 L391.5 950.6 L392.0 989.8 L392.5 932.4 L393.0 975.1 L393.5 926.5 L393.5 992.8 L393.5 939.3 L394.0 991.9 L394.5 941.7 L395.0 987.4 L395.5 941.5 L396.0 970.4 L396.5 933.3 L397.0 987.3 L397.5 948.9 L398.0 981.6 L398.5 935.1 L399.0 967.9 L399.5 933.9 L400.0 980.6 L400.5 949.2 L401.0 970.4 L401.5 941.7 L402.0 965.0 L402.5 949.7 L403.0 983.8 L403.5 953.2 L404.0 973.1 L404.5 939.2 L405.0 981.6 L405.5 946.5 L406.0 984.4 L406.5 939.3 L407.0 971.7 L407.5 954.1 L408.0 981.9 L408.5 954.9 L409.0 968.9 L409.5 941.6 L410.0 982.6 L410.0 937.7 L410.0 976.5 L410.5 944.8 L411.0 977.8 L411.5 948.7 L412.0 979.0 L412.5 943.3 L413.0 972.2 L413.5 952.3 L414.0 966.8 L414.5 953.5 L415.0 977.8 L415.5 955.1 L416.0 980.4 L416.5 951.9 L417.0 975.8 L417.5 946.1 L418.0 969.9 L418.5 950.0 L419.0 973.7 L419.5 951.1 L420.0 977.7 L420.5 954.5 L421.0 978.6 L421.5 944.5 L422.0 975.1 L422.5 948.5 L423.0 982.8 L423.5 940.4 L424.0 974.2 L424.5 942.0 L425.0 982.6 L425.5 944.9 L426.0 975.4 L426.5 954.5 L427.0 979.4 L427.5 946.3 L428.0 978.6 L428.5 946.3 L429.0 965.7 L429.5 937.9 L430.0 975.1 L430.4 937.7 L430.4 984.6 L430.5 951.1 L431.0 971.9 L431.5 940.5 L432.0 977.1 L432.5 939.6 L433.0 970.0 L433.5 949.4 L434.0 973.2 L434.5 942.3 L435.0 973.3 L435.5 939.0 L436.0 980.6 L436.5 951.2 L437.0 964.7 L437.5 936.9 L438.0 980.7 L438.5 941.5 L439.0 973.0 L439.5 952.5 L440.0 967.6 L440.5 951.3 L441.0 965.9 L441.5 942.5 L442.0 981.5 L442.5 946.2 L443.0 968.1 L443.5 950.1 L443.6 988.7 L443.6 939.8 L444.0 982.5 L444.5 953.5 L445.0 983.6 L445.5 955.9 L446.0 979.2 L446.5 944.9 L447.0 973.1 L447.5 941.8 L448.0 981.0 L448.5 943.4 L449.0 983.5 L449.5 954.2 L450.0 983.9 L450.5 957.3 L451.0 978.6 L451.5 959.9 L452.0 986.6 L452.5 951.3 L452.8 992.8 L452.8 947.9 L453.0 987.6 L453.5 954.4 L454.0 983.3 L454.5 951.0 L455.0 984.8 L455.5 945.8 L456.0 977.3 L456.5 951.7 L457.0 979.4 L457.5 947.9 L458.0 981.6 L458.5 950.7 L459.0 972.5 L459.5 953.3 L460.0 984.7 L460.5 954.5 L461.0 973.4 L461.5 958.9 L462.0 974.8 L462.5 952.8 L463.0 980.5 L463.5 958.8 L464.0 990.8 L464.0 945.9 L464.0 971.0 L464.5 958.3 L465.0 983.9 L465.5 942.9 L466.0 976.2 L466.5 943.8 L467.0 983.1 L467.5 952.3 L468.0 982.4 L468.5 942.6 L469.0 971.8 L469.5 935.2 L470.0 965.3 L470.5 933.0 L471.0 967.7 L471.2 931.6 L471.2 986.7 L471.5 939.7 L472.0 979.9 L472.5 931.9 L473.0 979.0 L473.5 943.5 L474.0 969.7 L474.5 948.7 L475.0 970.8 L475.5 944.9 L476.0 967.2 L476.5 938.5 L477.0 976.1 L477.5 935.5 L478.0 970.4 L478.5 933.4 L479.0 959.8 L479.5 928.3 L480.0 969.1 L480.5 936.8 L481.0 960.9 L481.4 921.4 L481.4 974.4 L481.5 926.5 L482.0 964.3 L482.5 931.0 L483.0 968.7 L483.5 921.6 L484.0 959.5 L484.5 924.8 L485.0 952.1 L485.5 930.0 L486.0 950.6 L486.5 921.7 L487.0 947.9 L487.5 926.9 L488.0 944.1 L488.5 919.3 L489.0 952.1 L489.5 914.3 L490.0 945.3 L490.5 918.9 L491.0 938.4 L491.5 919.6 L491.6 945.9 L491.6 903.1 L492.0 937.4 L492.5 908.8 L493.0 931.4 L493.5 911.5 L494.0 932.4 L494.5 914.4 L495.0 932.2 L495.5 916.8 L496.0 937.7 L496.5 906.5 L497.0 933.6 L497.5 904.4 L498.0 940.5 L498.5 912.8 L499.0 932.0 L499.5 912.7 L500.0 940.9 L500.5 905.9 L501.0 939.6 L501.5 904.7 L501.8 941.8 L501.8 903.1 L502.0 933.4 L502.5 915.9 L503.0 939.8 L503.5 906.7 L504.0 935.1 L504.5 916.5 L505.0 927.3 L505.5 908.8 L506.0 939.1 L506.5 915.3 L507.0 929.8 L507.5 904.9 L508.0 931.2 L508.5 910.4 L509.0 926.4 L509.5 910.8 L510.0 938.7 L510.5 902.8 L511.0 929.8 L511.5 908.7 L512.0 939.2 L512.5 911.0 L513.0 937.5 L513.5 917.9 L514.0 931.6 L514.5 909.9 L515.0 938.6 L515.5 908.3 L516.0 943.9 L516.0 903.1 L516.0 943.1 L516.5 911.4 L517.0 933.8 L517.5 912.7 L518.0 935.7 L518.5 906.2 L519.0 936.2 L519.5 905.2 L520.0 930.6 L520.5 907.1 L521.0 936.0 L521.5 905.7 L522.0 932.4 L522.5 915.5 L523.0 930.7 L523.5 910.6 L524.0 939.4 L524.5 904.6 L525.0 926.7 L525.5 903.5 L526.0 933.0 L526.5 900.7 L527.0 931.0 L527.5 904.3 L528.0 939.6 L528.5 899.9 L529.0 930.6 L529.5 901.1 L530.0 926.0 L530.5 913.9 L531.0 939.3 L531.3 895.9 L531.3 941.8 L531.5 909.2 L532.0 942.1 L532.5 915.8 L533.0 942.0 L533.5 903.5 L534.0 938.8 L534.5 903.0 L535.0 932.4 L535.5 912.4 L536.0 935.8 L536.5 904.9 L537.0 945.7 L537.5 906.2 L538.0 935.0 L538.5 917.2 L539.0 942.8 L539.5 915.2 L540.0 939.4 L540.5 911.3 L541.0 942.8 L541.5 912.1 L542.0 943.0 L542.5 917.0 L543.0 939.8 L543.5 911.2 L544.0 941.2 L544.5 910.4 L544.6 947.9 L544.6 905.1 L545.0 934.7 L545.5 919.0 L546.0 935.5 L546.5 918.5 L547.0 944.0 L547.5 912.6 L548.0 936.7 L548.5 915.2 L549.0 940.7 L549.5 913.1 L550.0 942.6 L550.5 915.1 L551.0 944.4 L551.5 917.7 L552.0 947.4 L552.5 921.6 L553.0 940.2 L553.5 928.3 L554.0 946.7 L554.5 913.7 L555.0 948.1 L555.5 928.8 L556.0 950.6 L556.5 928.2 L556.8 956.1 L556.8 911.2 L557.0 949.0 L557.5 914.6 L558.0 954.7 L558.5 914.3 L559.0 941.7 L559.5 915.9 L560.0 951.2 L560.5 920.1 L561.0 946.8 L561.5 919.9 L562.0 949.5 L562.5 927.5 L563.0 954.4 L563.5 927.4 L564.0 955.9 L564.5 931.4 L565.0 945.5 L565.5 918.0 L566.0 952.0 L566.5 931.0 L567.0 948.2 L567.5 919.7 L568.0 955.4 L568.5 925.0 L569.0 941.8 L569.5 926.9 L570.0 956.6 L570.5 922.3 L571.0 954.9 L571.5 930.4 L572.0 954.6 L572.5 919.8 L573.0 946.5 L573.1 913.3 L573.1 958.1 L573.5 922.4 L574.0 947.1 L574.5 925.1 L575.0 957.0 L575.5 928.4 L576.0 950.0 L576.5 928.2 L577.0 945.9 L577.5 933.2 L578.0 956.1 L578.5 918.8 L579.0 957.3 L579.5 921.2 L580.0 947.6 L580.5 925.2 L581.0 960.7 L581.5 927.8 L582.0 958.2 L582.5 931.5 L583.0 962.7 L583.5 927.7 L584.0 961.5 L584.5 927.3 L585.0 957.4 L585.5 930.1 L586.0 961.7 L586.5 921.4 L587.0 959.8 L587.5 922.1 L588.0 955.8 L588.5 933.7 L589.0 964.8 L589.4 921.4 L589.4 970.4 L589.5 926.9 L590.0 959.6 L590.5 935.8 L591.0 955.7 L591.5 944.3 L592.0 966.1 L592.5 937.9 L593.0 964.3 L593.5 939.5 L594.0 966.4 L594.5 942.4 L595.0 973.8 L595.5 947.7 L596.0 968.1 L596.5 949.0 L597.0 969.7 L597.5 945.1 L598.0 982.1 L598.5 950.5 L599.0 980.7 L599.5 956.6 L599.6 988.7 L599.6 950.0 L600.0 980.0 L600.5 960.4 L601.0 981.6 L601.5 962.7 L602.0 978.3 L602.5 958.7 L603.0 986.2 L603.5 964.3 L604.0 990.0 L604.5 969.4 L605.0 985.6 L605.5 960.8 L605.8 1003.0 L605.8 958.1 L606.0 1001.1 L606.5 967.9 L607.0 988.1 L607.5 967.8 L608.0 996.4 L608.5 977.8 L609.0 992.4 L609.5 970.4 L610.0 992.4 L610.5 974.7 L611.0 994.7 L611.5 967.7 L612.0 1006.5 L612.5 981.3 L613.0 995.9 L613.5 969.7 L613.9 1009.1 L613.9 964.2 L614.0 1007.5 L614.5 970.0 L615.0 994.0 L615.5 966.4 L616.0 1001.5 L616.5 966.6 L617.0 995.8 L617.5 978.0 L618.0 990.7 L618.5 977.6 L619.0 1000.3 L619.5 972.7 L620.0 994.0 L620.5 971.9 L621.0 997.6 L621.5 971.5 L622.0 992.9 L622.1 962.2 L622.1 998.9 L622.5 971.7 L623.0 996.4 L623.5 968.2 L624.0 990.4 L624.5 978.7 L625.0 1004.8 L625.5 971.0 L626.0 1006.5 L626.5 980.5 L627.0 1004.6 L627.5 977.2 L628.0 1005.3 L628.5 989.8 L629.0 1009.7 L629.5 988.3 L630.0 1007.9 L630.2 978.5 L630.2 1019.3 L630.5 979.6 L631.0 1005.0 L631.5 986.1 L632.0 1001.5 L632.5 980.3 L633.0 995.7 L633.5 978.9 L634.0 1003.9 L634.5 974.1 L635.0 990.6 L635.5 971.8 L636.0 996.8 L636.4 958.1 L636.4 998.9 L636.5 970.1 L637.0 985.4 L637.5 962.8 L638.0 993.1 L638.5 967.6 L639.0 996.8 L639.5 982.4 L640.0 1003.6 L640.5 977.9 L641.0 1017.1 L641.5 992.2 L642.0 1019.5 L642.5 984.3 L643.0 1010.7 L643.5 982.6 L643.5 1025.4 L643.5 988.1 L644.0 1017.0 L644.5 991.5 L645.0 1010.9 L645.5 980.8 L646.0 1011.8 L646.5 977.6 L647.0 1002.4 L647.5 972.9 L648.0 998.1 L648.5 973.8 L649.0 984.9 L649.5 972.1 L650.0 989.4 L650.5 959.6 L650.6 990.8 L650.6 956.1 L651.0 980.4 L651.5 960.3 L652.0 988.4 L652.5 976.5 L653.0 990.3 L653.5 970.3 L654.0 996.8 L654.5 975.1 L655.0 1002.9 L655.5 984.1 L656.0 1007.4 L656.5 994.6 L657.0 1015.9 L657.5 984.9 L658.0 1031.9 L658.5 1000.9 L659.0 1031.5 L659.5 1007.7 L660.0 1036.4 L660.5 1007.8 L661.0 1045.0 L661.5 1014.6 L661.8 1055.0 L661.8 998.9 L662.0 1033.0 L662.5 1011.9 L663.0 1027.0 L663.5 994.2 L664.0 1023.6 L664.5 981.5 L665.0 1009.9 L665.5 985.1 L666.0 1004.3 L666.5 965.5 L667.0 1005.4 L667.5 962.9 L668.0 981.6 L668.5 953.6 L669.0 987.9 L669.2 941.8 L669.2 988.7 L669.5 954.2 L670.0 983.8 L670.5 954.3 L671.0 988.9 L671.5 970.7 L672.0 1013.7 L672.5 984.7 L673.0 1023.6 L673.5 990.4 L674.0 1025.5 L674.5 1006.0 L675.0 1038.2 L675.3 998.9 L675.3 1051.9 L675.5 1003.1 L676.0 1035.9 L676.5 994.3 L677.0 1020.3 L677.5 995.3 L678.0 1017.8 L678.5 980.8 L679.0 998.7 L679.5 974.0 L680.0 994.3 L680.4 962.2 L680.4 998.9 L680.5 961.8 L681.0 985.1 L681.5 962.8 L682.0 988.1 L682.5 974.4 L683.0 989.8 L683.5 975.0 L684.0 991.1 L684.5 966.6 L685.0 994.3 L685.5 974.0 L686.0 991.2 L686.5 978.8 L687.0 1000.4 L687.5 973.8 L688.0 994.6 L688.5 966.0 L689.0 1006.6 L689.5 965.9 L690.0 1002.7 L690.5 975.2 L691.0 1002.7 L691.5 968.1 L692.0 1001.1 L692.5 980.6 L693.0 1009.5 L693.5 966.7 L694.0 1000.8 L694.5 972.5 L694.7 1011.2 L694.7 958.1 L695.0 1004.2 L695.5 971.2 L696.0 1013.8 L696.5 978.5 L697.0 1010.4 L697.5 981.0 L698.0 1010.3 L698.5 965.2 L699.0 996.5 L699.5 980.2 L700.0 1010.5 L700.5 977.1 L701.0 1002.2 L701.5 963.8 L702.0 1005.2 L702.5 978.9 L703.0 998.9 L703.5 975.0 L704.0 1005.4 L704.5 969.1 L704.9 1019.3 L704.9 966.3 L705.0 1001.8 L705.5 968.0 L706.0 1007.8 L706.5 970.7 L707.0 1001.2 L707.5 962.3 L708.0 999.0 L708.5 971.2 L709.0 992.8 L709.5 971.1 L710.0 988.7 L710.5 962.1 L711.0 998.9 L711.0 954.0 L711.0 990.9 L711.5 971.3 L712.0 994.0 L712.5 971.1 L713.0 1006.6 L713.5 970.9 L714.0 1008.0 L714.5 982.7 L715.0 1015.4 L715.1 978.5 L715.1 1031.5 L715.5 994.6 L716.0 1022.6 L716.5 990.1 L717.0 1016.2 L717.5 978.2 L718.0 1017.0 L718.5 967.3 L719.0 1004.9 L719.5 970.8 L720.0 996.4 L720.5 967.8 L721.0 1001.4 L721.5 956.2 L722.0 993.0 L722.5 968.6 L723.0 995.5 L723.2 943.9 L723.2 998.9 L723.5 954.3 L724.0 995.9 L724.5 953.9 L725.0 986.8 L725.5 954.3 L726.0 987.3 L726.5 953.4 L727.0 986.5 L727.5 945.8 L728.0 974.8 L728.5 939.4 L729.0 965.2 L729.5 941.3 L730.0 974.3 L730.4 931.6 L730.4 978.5 L730.5 934.1 L731.0 971.3 L731.5 954.6 L732.0 990.3 L732.5 969.4 L733.0 999.6 L733.5 978.1 L734.0 1018.3 L734.5 1006.9 L735.0 1036.5 L735.5 1022.6 L736.0 1041.7 L736.5 1019.3 L736.5 1060.1 L736.5 1023.8 L737.0 1065.5 L737.5 1034.7 L738.0 1064.2 L738.5 1030.0 L738.5 1081.5 L738.5 1033.7 L739.0 1061.8 L739.5 1030.1 L740.0 1063.3 L740.5 1032.7 L741.0 1070.3 L741.5 1027.6 L742.0 1058.1 L742.5 1013.8 L743.0 1066.6 L743.5 1028.0 L744.0 1058.3 L744.5 1010.9 L745.0 1037.5 L745.5 1017.6 L745.6 1060.1 L745.6 994.8 L746.0 1052.5 L746.5 999.8 L747.0 1042.3 L747.5 1009.5 L748.0 1042.4 L748.5 1007.4 L749.0 1037.7 L749.5 1009.1 L750.0 1034.1 L750.5 995.0 L751.0 1040.9 L751.5 1003.5 L752.0 1039.4 L752.5 992.8 L753.0 1026.6 L753.5 987.4 L753.8 1035.6 L753.8 978.5 L754.0 1020.0 L754.5 998.2 L755.0 1014.8 L755.5 983.9 L756.0 1025.2 L756.5 983.7 L757.0 1023.8 L757.5 981.0 L758.0 1028.8 L758.5 982.7 L759.0 1015.3 L759.5 993.3 L760.0 1021.5 L760.5 997.5 L761.0 1017.2 L761.5 984.8 L762.0 1013.0 L762.5 999.8 L763.0 1019.9 L763.5 984.8 L764.0 1018.2 L764.5 987.2 L765.0 1016.3 L765.5 988.6 L766.0 1030.5 L766.5 984.4 L767.0 1017.5 L767.5 994.3 L768.0 1028.0 L768.5 989.3 L769.0 1018.0 L769.5 980.8 L770.0 1023.9 L770.5 984.1 L771.0 1014.1 L771.5 992.3 L772.0 1012.8 L772.2 982.6 L772.2 1029.5 L772.5 988.0 L773.0 1014.8 L773.5 992.8 L774.0 1027.0 L774.5 991.7 L775.0 1018.9 L775.5 991.6 L776.0 1018.6 L776.5 984.1 L777.0 1017.7 L777.5 988.9 L778.0 1013.5 L778.5 984.6 L779.0 1024.8 L779.5 992.5 L780.0 1012.5 L780.5 986.8 L781.0 1023.9 L781.5 982.8 L782.0 1025.7 L782.5 989.2 L783.0 1025.8 L783.5 987.0 L784.0 1027.3 L784.5 980.3 L785.0 1027.5 L785.5 984.2 L786.0 1012.8 L786.5 989.0 L787.0 1025.5 L787.5 981.5 L788.0 1015.1 L788.5 993.5 L789.0 1015.7 L789.5 990.1 L790.0 1027.9 L790.5 995.7 L791.0 1014.1 L791.5 981.5 L792.0 1024.0 L792.5 974.4 L792.5 1029.5 L792.5 984.1 L793.0 1015.1 L793.5 990.6 L794.0 1026.3 L794.5 988.8 L795.0 1013.2 L795.5 996.4 L796.0 1023.5 L796.5 986.5 L797.0 1017.6 L797.5 993.7 L798.0 1022.3 L798.5 980.1 L799.0 1027.4 L799.5 983.6 L800.0 1012.8 L800.5 994.8 L801.0 1016.4 L801.5 978.7 L802.0 1009.3 L802.5 983.8 L803.0 1016.9 L803.5 982.1 L804.0 1011.0 L804.5 985.9 L805.0 1019.4 L805.5 993.0 L806.0 1021.2 L806.5 983.1 L807.0 1017.8 L807.5 984.7 L808.0 1019.6 L808.5 986.5 L809.0 1007.5 L809.5 983.0 L810.0 1012.0 L810.5 991.6 L811.0 1014.4 L811.5 976.9 L812.0 1013.3 L812.5 979.4 L812.9 1023.4 L812.9 974.4 L813.0 1018.1 L813.5 979.2 L814.0 1002.4 L814.5 987.8 L815.0 1003.2 L815.5 983.4 L816.0 1011.5 L816.5 978.1 L817.0 1011.9 L817.5 991.5 L818.0 1019.4 L818.5 980.2 L819.0 1023.4 L819.5 990.9 L820.0 1023.2 L820.5 987.6 L821.0 1020.8 L821.5 983.5 L822.0 1024.0 L822.5 992.5 L823.0 1016.2 L823.5 986.7 L824.0 1024.3 L824.5 989.5 L825.0 1018.1 L825.5 991.0 L826.0 1025.9 L826.5 991.2 L827.0 1014.4 L827.5 982.4 L828.0 1024.2 L828.5 991.7 L829.0 1016.6 L829.5 982.9 L830.0 1022.8 L830.5 993.9 L831.0 1025.9 L831.5 996.4 L832.0 1026.9 L832.5 995.9 L833.0 1023.8 L833.3 978.5 L833.3 1027.5 L833.5 982.7 L834.0 1026.9 L834.5 986.7 L835.0 1029.5 L835.5 981.8 L836.0 1027.2 L836.5 985.1 L837.0 1031.5 L837.5 992.5 L838.0 1013.5 L838.5 991.9 L839.0 1024.6 L839.5 990.6 L840.0 1030.6 L840.5 987.4 L841.0 1031.8 L841.5 989.5 L842.0 1020.3 L842.5 991.1 L843.0 1022.3 L843.5 999.7 L844.0 1032.5 L844.5 987.9 L845.0 1018.4 L845.5 982.9 L846.0 1020.6 L846.5 994.5 L847.0 1036.9 L847.5 981.7 L848.0 1042.6 L848.5 979.1 L849.0 1038.0 L849.5 1000.9 L850.0 1027.5 L850.5 987.8 L851.0 1031.2 L851.5 995.7 L852.0 1033.6 L852.5 982.4 L852.7 1058.0 L852.7 978.5 L853.0 1026.5 L853.5 986.0 L854.0 1026.2 L854.5 986.9 L855.0 1030.0 L855.5 999.8 L856.0 1033.5 L856.5 1000.6 L857.0 1030.6 L857.5 979.4 L858.0 1031.3 L858.5 992.1 L859.0 1030.3 L859.5 986.5 L860.0 1014.8 L860.5 982.2 L861.0 1025.0 L861.5 987.3 L862.0 1007.5 L862.5 989.9 L863.0 1007.9 L863.5 983.1 L863.9 1019.3 L863.9 974.4 L864.0 1008.4 L864.5 973.1 L865.0 1006.3 L865.5 982.3 L866.0 1006.8 L866.5 967.9 L867.0 996.0 L867.5 966.9 L868.0 997.8 L868.5 974.3 L869.0 1001.2 L869.5 961.0 L870.0 995.6 L870.5 956.6 L871.0 994.5 L871.5 953.5 L872.0 981.2 L872.1 947.9 L872.1 998.9 L872.5 949.8 L873.0 993.6 L873.5 963.6 L874.0 985.1 L874.5 963.8 L875.0 991.3 L875.5 962.9 L876.0 996.7 L876.5 962.4 L877.0 996.4 L877.5 957.3 L878.0 997.8 L878.5 968.0 L879.0 1002.1 L879.5 957.7 L880.0 997.4 L880.5 970.5 L881.0 1005.5 L881.5 967.1 L882.0 1006.8 L882.5 969.2 L883.0 1001.4 L883.5 978.8 L884.0 993.4 L884.3 964.2 L884.3 1015.2 L884.5 972.9 L885.0 1005.5 L885.5 969.0 L886.0 1005.8 L886.5 963.4 L887.0 993.9 L887.5 960.3 L888.0 1002.0 L888.5 966.9 L889.0 1007.3 L889.5 969.3 L890.0 1009.0 L890.5 964.7 L891.0 998.3 L891.5 965.1 L892.0 1004.0 L892.5 959.0 L893.0 996.6 L893.5 968.9 L894.0 1001.1 L894.5 957.0 L895.0 1008.7 L895.5 954.1 L896.0 998.9 L896.5 963.0 L897.0 991.5 L897.5 972.4 L898.0 999.0 L898.5 965.6 L899.0 991.5 L899.5 968.5 L900.0 1000.3 L900.5 951.0 L901.0 991.4 L901.5 957.0 L902.0 995.1 L902.5 965.7 L902.7 1013.2 L902.7 945.9 L903.0 994.9 L903.5 952.8 L904.0 989.6 L904.5 950.6 L905.0 1008.3 L905.5 966.8 L906.0 1013.4 L906.5 952.5 L907.0 991.5 L907.5 971.8 L908.0 992.8 L908.5 976.2 L909.0 1005.5 L909.5 962.6 L910.0 993.5 L910.5 961.3 L911.0 1005.2 L911.5 969.8 L912.0 999.9 L912.5 974.8 L913.0 1002.1 L913.5 972.6 L914.0 1016.0 L914.5 977.1 L915.0 1019.6 L915.5 969.5 L916.0 1022.6 L916.5 969.9 L917.0 1016.1 L917.5 985.9 L918.0 1018.9 L918.2 958.1 L918.2 1023.4 L918.5 977.9 L919.0 1015.7 L919.5 966.9 L920.0 999.8 L920.5 955.2 L921.0 1005.8 L921.5 959.3 L922.0 995.7 L922.5 958.1 L923.0 1008.1 L923.5 967.2 L924.0 983.3 L924.5 952.8 L925.0 986.5 L925.5 957.5 L926.0 984.8 L926.5 941.1 L927.0 980.4 L927.5 942.4 L928.0 986.3 L928.4 933.7 L928.4 998.9 L928.5 944.5 L929.0 994.9 L929.5 943.1 L930.0 992.6 L930.5 952.5 L931.0 1004.7 L931.5 961.9 L932.0 999.7 L932.5 972.2 L933.0 1008.8 L933.5 968.9 L934.0 1014.3 L934.5 985.1 L935.0 1014.7 L935.5 984.3 L936.0 1026.0 L936.5 977.6 L937.0 1031.9 L937.5 982.1 L938.0 1031.7 L938.5 978.5 L938.5 1039.7 L938.5 987.0 L939.0 1027.7 L939.5 997.6 L940.0 1023.8 L940.5 984.6 L941.0 1040.1 L941.5 1000.5 L942.0 1041.9 L942.5 1000.1 L943.0 1027.8 L943.5 982.6 L944.0 1028.2 L944.5 982.4 L945.0 1057.8 L945.5 988.1 L945.7 1060.1 L945.7 968.3 L946.0 1030.0 L946.5 1001.0 L947.0 1029.0 L947.5 973.1 L948.0 1027.4 L948.5 964.7 L949.0 1013.3 L949.5 964.3 L950.0 1016.1 L950.5 947.7 L951.0 999.1 L951.5 958.0 L952.0 1016.9 L952.5 941.5 L953.0 1002.5 L953.5 960.2 L954.0 1010.4 L954.5 954.2 L954.9 1009.1 L954.9 917.3 L955.0 994.5 L955.5 943.1 L956.0 1018.2 L956.5 954.0 L957.0 1000.9 L957.5 965.1 L958.0 1014.6 L958.5 956.1 L959.0 1028.3 L959.5 951.0 L960.0 1034.0 L960.5 984.9 L961.0 1040.6 L961.5 980.8 L962.0 1027.5 L962.5 987.3 L963.0 1037.7 L963.5 994.7 L964.0 1054.6 L964.5 985.5 L965.0 1054.6 L965.5 998.0 L966.0 1041.4 L966.1 978.5 L966.1 1076.4 L966.5 988.0 L967.0 1044.1 L967.5 1006.3 L968.0 1053.0 L968.5 980.6 L969.0 1032.1 L969.5 975.4 L970.0 1040.9 L970.5 985.9 L971.0 1015.9 L971.5 974.9 L972.0 1001.8 L972.5 968.6 L973.0 1001.1 L973.5 958.0 L974.0 990.5 L974.5 943.7 L975.0 987.0 L975.5 950.1 L976.0 995.5 L976.5 947.6 L977.0 985.4 L977.3 927.5 L977.3 998.9 L977.5 951.8 L978.0 981.6 L978.5 948.7 L979.0 982.4 L979.5 946.0 L980.0 997.6 L980.5 944.0 L981.0 990.3 L981.5 958.4 L982.0 996.5 L982.5 956.5 L983.0 999.8 L983.5 952.3 L984.0 981.1 L984.5 949.8 L985.0 984.4 L985.5 958.7 L986.0 984.9 L986.5 956.8 L987.0 987.5 L987.5 958.1 L987.5 1003.0 L987.5 965.4 L988.0 997.0 L988.5 969.9 L989.0 996.3 L989.5 965.9 L990.0 979.8 L990.5 960.3 L991.0 979.7 L991.5 948.3 L992.0 977.0 L992.5 952.8 L993.0 990.8 L993.5 957.5 L994.0 982.9 L994.5 958.7 L995.0 982.0 L995.5 949.3 L996.0 980.8 L996.5 948.9 L997.0 972.7 L997.5 943.5 L997.7 988.7 L997.7 933.7 L998.0 980.2 L998.5 956.4 L999.0 983.2 L999.5 952.5 L1000.0 981.0 L1000.5 955.2 L1001.0 998.9 L1001.5 963.3 L1002.0 1006.3 L1002.5 962.0 L1003.0 1006.7 L1003.5 978.4 L1004.0 1010.3 L1004.5 979.9 L1005.0 1012.5 L1005.5 985.8 L1005.8 1033.6 L1005.8 978.5 L1006.0 1026.2 L1006.5 991.8 L1007.0 1017.9 L1007.5 977.6 L1008.0 1018.6 L1008.5 986.4 L1009.0 1008.1 L1009.5 981.4 L1010.0 1016.3 L1010.5 978.1 L1011.0 997.6 L1011.5 970.6 L1012.0 1011.2 L1012.5 981.8 L1013.0 1002.0 L1013.5 973.5 L1014.0 989.9 L1014.5 968.2 L1015.0 987.1 L1015.5 965.0 L1016.0 996.5 L1016.5 969.6 L1017.0 989.8 L1017.5 962.7 L1018.0 982.0 L1018.5 953.6 L1019.0 988.3 L1019.5 961.1 L1020.0 985.6 L1020.1 950.0 L1020.1 988.7 L1020.5 948.5 L1021.0 976.0 L1021.5 945.7 L1022.0 967.7 L1022.5 943.5 L1023.0 975.0 L1023.5 934.5 L1024.0 963.8 L1024.5 945.7 L1025.0 969.1 L1025.5 924.7 L1026.0 955.9 L1026.5 926.6 L1027.0 958.6 L1027.5 922.8 L1028.0 967.5 L1028.5 918.5 L1029.0 958.5 L1029.5 922.9 L1030.0 967.0 L1030.5 905.6 L1031.0 955.3 L1031.5 910.6 L1032.0 954.1 L1032.3 888.8 L1032.3 968.3 L1032.5 899.6 L1033.0 966.4 L1033.5 904.0 L1034.0 963.3 L1034.5 907.5 L1035.0 968.1 L1035.5 927.4 L1036.0 949.8 L1036.5 926.9 L1037.0 966.8 L1037.5 915.7 L1038.0 958.0 L1038.5 917.4 L1039.0 969.7 L1039.5 922.2 L1040.0 983.9 L1040.5 928.3 L1041.0 974.4 L1041.5 934.4 L1042.0 974.6 L1042.5 933.7 L1042.5 994.8 L1042.5 948.0 L1043.0 973.9 L1043.5 933.9 L1044.0 986.6 L1044.5 947.7 L1045.0 965.7 L1045.5 937.5 L1046.0 964.1 L1046.5 926.2 L1047.0 961.2 L1047.5 927.0 L1048.0 975.9 L1048.5 922.1 L1049.0 975.6 L1049.5 920.3 L1050.0 972.9 L1050.5 934.9 L1051.0 954.3 L1051.5 919.5 L1052.0 960.5 L1052.5 926.7 L1052.7 972.4 L1052.7 907.2 L1053.0 953.4 L1053.5 920.4 L1054.0 971.1 L1054.5 926.4 L1055.0 955.8 L1055.5 931.1 L1056.0 967.7 L1056.5 912.0 L1057.0 967.7 L1057.5 926.1 L1058.0 950.3 L1058.5 927.7 L1059.0 957.3 L1059.5 913.1 L1060.0 961.3 L1060.5 920.2 L1061.0 972.0 L1061.5 925.0 L1062.0 952.1 L1062.5 913.2 L1063.0 963.4 L1063.5 923.5 L1064.0 968.8 L1064.5 928.7 L1065.0 964.2 L1065.5 913.3 L1066.0 949.3 L1066.5 931.5 L1067.0 962.8 L1067.5 916.7 L1068.0 967.7 L1068.5 920.3 L1069.0 958.1 L1069.5 933.3 L1070.0 957.6 L1070.5 926.1 L1071.0 967.3 L1071.5 916.6 L1072.0 957.3 L1072.5 928.6 L1073.0 949.1 L1073.1 907.2 L1073.1 968.3 L1073.5 927.9 L1074.0 948.1 L1074.5 910.0 L1075.0 956.3 L1075.5 915.5 L1076.0 946.7 L1076.5 916.7 L1077.0 947.5 L1077.5 908.5 L1078.0 961.0 L1078.5 915.0 L1079.0 950.0 L1079.5 917.6 L1080.0 963.0 L1080.5 910.0 L1081.0 961.3 L1081.5 928.7 L1082.0 956.7 L1082.5 923.1 L1083.0 960.5 L1083.5 907.3 L1084.0 957.6 L1084.5 914.0 L1085.0 946.3 L1085.5 916.3 L1086.0 947.4 L1086.5 909.4 L1087.0 937.7 L1087.5 921.2 L1088.0 939.5 L1088.5 911.0 L1089.0 939.3 L1089.5 910.1 L1090.0 943.1 L1090.5 921.0 L1091.0 939.7 L1091.5 915.4 L1092.0 945.6 L1092.5 919.0 L1093.0 935.9 L1093.5 901.0 L1093.5 954.0 L1093.5 900.8 L1094.0 940.1 L1094.5 911.8 L1095.0 934.7 L1095.5 901.4 L1096.0 928.3 L1096.5 903.5 L1097.0 939.1 L1097.5 892.9 L1098.0 936.1 L1098.5 884.2 L1099.0 936.4 L1099.5 881.7 L1100.0 916.1 L1100.5 885.7 L1100.7 937.7 L1100.7 876.6 L1101.0 919.8 L1101.5 892.0 L1102.0 920.1 L1102.5 874.5 L1103.0 930.8 L1103.5 879.1 L1104.0 928.7 L1104.5 885.5 L1105.0 906.2 L1105.5 877.2 L1106.0 915.9 L1106.5 879.6 L1107.0 907.8 L1107.5 874.4 L1108.0 923.1 L1108.5 862.3 L1109.0 907.3 L1109.5 864.4 L1110.0 906.7 L1110.5 868.7 L1111.0 897.0 L1111.5 875.1 L1112.0 903.3 L1112.5 864.6 L1112.9 917.3 L1112.9 850.0 L1113.0 904.1 L1113.5 873.0 L1114.0 894.0 L1114.5 870.6 L1115.0 905.3 L1115.5 870.4 L1116.0 909.9 L1116.5 866.5 L1117.0 911.9 L1117.5 859.1 L1118.0 907.3 L1118.5 867.7 L1119.0 922.9 L1119.5 884.2 L1120.0 916.7 L1120.5 874.7 L1121.0 925.9 L1121.5 880.1 L1122.0 923.5 L1122.5 876.4 L1123.0 922.6 L1123.5 876.8 L1124.0 911.0 L1124.1 866.4 L1124.1 927.5 L1124.5 889.9 L1125.0 911.8 L1125.5 889.7 L1126.0 925.0 L1126.5 891.9 L1127.0 924.6 L1127.5 891.0 L1128.0 923.8 L1128.5 895.2 L1129.0 930.4 L1129.5 894.5 L1130.0 937.3 L1130.5 877.9 L1131.0 916.6 L1131.5 877.7 L1132.0 924.7 L1132.5 874.9 L1133.0 945.5 L1133.5 875.5 L1134.0 938.2 L1134.3 872.5 L1134.3 958.1 L1134.5 889.3 L1135.0 957.1 L1135.5 891.3 L1136.0 959.3 L1136.5 890.3 L1137.0 950.5 L1137.5 907.6 L1138.0 935.6 L1138.5 894.6 L1139.0 952.5 L1139.5 912.8 L1140.0 963.1 L1140.5 907.1 L1141.0 965.4 L1141.5 890.4 L1142.0 947.6 L1142.5 909.6 L1143.0 951.7 L1143.5 907.9 L1144.0 944.4 L1144.5 915.7 L1145.0 945.9 L1145.5 891.8 L1146.0 960.5 L1146.5 915.4 L1147.0 968.8 L1147.5 911.5 L1148.0 954.7 L1148.5 906.5 L1148.6 974.4 L1148.6 892.9 L1149.0 959.7 L1149.5 897.8 L1150.0 947.9 L1150.5 907.3 L1151.0 944.7 L1151.5 910.7 L1152.0 961.7 L1152.5 906.5 L1153.0 960.8 L1153.5 928.3 L1154.0 962.2" stroke="#0000ff" stroke-width="1.0" fill="none" shape-rendering="crispEdges"/>
<path d="M166.0 1020.7 L166.8 956.5 L167.5 992.1 L168.2 962.2 L169.0 1013.7 L169.8 941.1 L170.5 1022.0 L171.2 968.8 L172.0 1021.2 L172.8 956.5 L173.5 1020.2 L174.2 945.1 L175.0 1011.1 L175.8 963.0 L176.5 1012.0 L177.2 948.8 L178.0 995.8 L178.8 966.4" stroke="#00ff00" stroke-width="1" fill="none" shape-rendering="crispEdges"/>
<path d="M907.8 960V801.1" stroke="#00ff00" stroke-width="1.4"/>
<path d="M907.8 960V812.3" stroke="#0000ff" stroke-width="1.3"/>
<path d="M1124.1 880V816.4" stroke="#0000ff" stroke-width="1.3"/>
<path d="M1069.1 920V889.8" stroke="#0000ff" stroke-width="1.2"/>
<rect x="165.6" y="797.5" width="989.0" height="308.9" fill="none" stroke="#1a1a1a" stroke-width="1.2"/>
<text x="156.8" y="805.3" text-anchor="end" font-family="Liberation Sans" font-size="23.6" textLength="25.3" lengthAdjust="spacingAndGlyphs" fill="#222">60</text>
<text x="156.8" y="856.8" text-anchor="end" font-family="Liberation Sans" font-size="23.6" textLength="25.3" lengthAdjust="spacingAndGlyphs" fill="#222">40</text>
<text x="156.8" y="908.3" text-anchor="end" font-family="Liberation Sans" font-size="23.6" textLength="25.3" lengthAdjust="spacingAndGlyphs" fill="#222">20</text>
<text x="156.8" y="959.8" text-anchor="end" font-family="Liberation Sans" font-size="23.6" textLength="12.7" lengthAdjust="spacingAndGlyphs" fill="#222">0</text>
<text x="156.8" y="1011.2" text-anchor="end" font-family="Liberation Sans" font-size="23.6" textLength="32.5" lengthAdjust="spacingAndGlyphs" fill="#222">-20</text>
<text x="156.8" y="1062.7" text-anchor="end" font-family="Liberation Sans" font-size="23.6" textLength="32.5" lengthAdjust="spacingAndGlyphs" fill="#222">-40</text>
<text x="156.8" y="1114.2" text-anchor="end" font-family="Liberation Sans" font-size="23.6" textLength="32.5" lengthAdjust="spacingAndGlyphs" fill="#222">-60</text>
<text transform="translate(72.0 952.0) rotate(-90)" x="0" y="0" text-anchor="middle" font-family="Liberation Sans" font-weight="bold" font-size="19.6" textLength="174.4" lengthAdjust="spacingAndGlyphs" fill="#222">Measured-Model</text>
<text transform="translate(98.1 952.0) rotate(-90)" x="0" y="0" text-anchor="middle" font-family="Liberation Sans" font-weight="bold" font-size="19.6" textLength="140.2" lengthAdjust="spacingAndGlyphs" fill="#222">B Center (nT)</text>
<text transform="translate(1175.6 1021.2) rotate(-90)" text-anchor="start" font-family="Liberation Sans" font-weight="bold" font-size="17.6" textLength="91.5" lengthAdjust="spacingAndGlyphs" fill="#111">Inboard B</text>
<text transform="translate(1195.8 1021.7) rotate(-90)" text-anchor="start" font-family="Liberation Sans" font-weight="bold" font-size="17.6" textLength="107.5" lengthAdjust="spacingAndGlyphs" fill="#111">Outboard B</text>
<path d="M1171.5 1047.0V1065.0" stroke="#0000ff" stroke-width="2"/>
<path d="M1191 1047.0V1065.0" stroke="#00ff00" stroke-width="2"/>
<path d="M165.6 1149.6h10M1154.6 1149.6h-10M165.6 1225.3h10M1154.6 1225.3h-10M165.6 1301.0h10M1154.6 1301.0h-10M165.6 1376.8h10M1154.6 1376.8h-10M165.6 1452.5h10M1154.6 1452.5h-10M412.8 1452.5v-10M412.8 1142.5v10M660.1 1452.5v-10M660.1 1142.5v10M907.3 1452.5v-10M907.3 1142.5v10" stroke="#111" stroke-width="1" fill="none" shape-rendering="crispEdges"/>
<g fill="#d9d9d9"><rect x="166.5" y="1145.5" width="1.7" height="268.3"/><rect x="185.0" y="1145.5" width="4.0" height="268.3"/><rect x="222.0" y="1145.5" width="3.0" height="268.3"/><rect x="226.0" y="1145.5" width="2.0" height="268.3"/><rect x="259.0" y="1145.5" width="2.0" height="268.3"/><rect x="265.0" y="1145.5" width="2.0" height="268.3"/><rect x="278.0" y="1145.5" width="3.0" height="268.3"/><rect x="283.0" y="1145.5" width="5.0" height="268.3"/><rect x="357.0" y="1145.5" width="3.0" height="268.3"/><rect x="456.0" y="1145.5" width="2.0" height="268.3"/><rect x="460.0" y="1145.5" width="5.0" height="268.3"/><rect x="478.0" y="1145.5" width="4.0" height="268.3"/><rect x="493.0" y="1145.5" width="2.0" height="268.3"/><rect x="506.0" y="1145.5" width="2.0" height="268.3"/><rect x="512.0" y="1145.5" width="4.0" height="268.3"/><rect x="545.0" y="1145.5" width="2.0" height="268.3"/><rect x="548.0" y="1145.5" width="2.0" height="268.3"/><rect x="604.0" y="1145.5" width="149.0" height="268.3"/><rect x="777.0" y="1145.5" width="2.0" height="268.3"/><rect x="785.0" y="1145.5" width="2.0" height="268.3"/><rect x="852.0" y="1145.5" width="13.0" height="268.3"/><rect x="866.0" y="1145.5" width="10.0" height="268.3"/><rect x="877.0" y="1145.5" width="6.0" height="268.3"/><rect x="889.0" y="1145.5" width="9.0" height="268.3"/><rect x="902.0" y="1145.5" width="15.0" height="268.3"/><rect x="918.0" y="1145.5" width="77.0" height="268.3"/><rect x="999.0" y="1145.5" width="36.0" height="268.3"/><rect x="1039.0" y="1145.5" width="6.0" height="268.3"/><rect x="1110.0" y="1145.5" width="10.0" height="268.3"/><rect x="1122.0" y="1145.5" width="4.0" height="268.3"/><rect x="1133.0" y="1145.5" width="3.0" height="268.3"/><rect x="1142.0" y="1145.5" width="2.0" height="268.3"/><rect x="1145.0" y="1145.5" width="7.0" height="268.3"/></g>
<path d="M166.0 1315.0 L166.5 1204.3 L167.0 1290.5 L167.5 1205.0 L168.0 1294.8 L168.5 1201.6 L169.0 1284.5 L169.5 1199.7 L170.0 1288.0 L170.5 1210.2 L171.0 1286.3 L171.5 1201.8 L172.0 1293.3 L172.5 1203.7 L173.0 1288.3 L173.5 1203.9 L174.0 1299.6 L174.5 1208.6 L175.0 1287.3 L175.5 1201.5 L176.0 1296.7 L176.5 1208.1 L177.0 1285.0 L177.5 1209.1 L178.0 1308.5 L178.5 1202.9 L179.0 1283.6 L179.5 1201.7 L180.0 1297.9 L180.5 1204.5 L181.0 1297.3 L181.4 1200.7 L181.4 1313.0 L181.5 1207.8 L182.0 1294.8 L182.5 1212.6 L183.0 1283.3 L183.5 1199.2 L184.0 1300.9 L184.5 1205.6 L185.0 1302.7 L185.5 1201.7 L186.0 1295.8 L186.5 1192.6 L186.5 1323.5 L186.5 1196.6 L187.0 1308.4 L187.5 1198.1 L188.0 1294.5 L188.5 1203.6 L189.0 1317.1 L189.5 1196.8 L190.0 1314.1 L190.5 1200.2 L191.0 1302.5 L191.5 1207.7 L192.0 1301.5 L192.5 1199.0 L193.0 1309.2 L193.5 1196.0 L194.0 1290.7 L194.5 1198.8 L195.0 1299.2 L195.5 1195.8 L196.0 1283.4 L196.5 1194.4 L196.7 1309.2 L196.7 1188.4 L197.0 1296.0 L197.5 1192.9 L198.0 1311.6 L198.5 1199.7 L199.0 1294.6 L199.5 1192.6 L200.0 1280.1 L200.5 1192.6 L201.0 1314.4 L201.5 1190.4 L202.0 1310.7 L202.5 1192.0 L203.0 1290.9 L203.5 1196.1 L204.0 1311.5 L204.5 1194.1 L204.9 1319.4 L204.9 1184.1 L205.0 1291.3 L205.5 1193.0 L206.0 1309.9 L206.5 1189.2 L207.0 1293.0 L207.5 1190.5 L208.0 1314.2 L208.5 1185.3 L209.0 1314.6 L209.5 1185.6 L210.0 1311.1 L210.5 1190.6 L211.0 1289.5 L211.5 1194.9 L212.0 1287.3 L212.5 1185.3 L213.0 1292.3 L213.5 1191.5 L214.0 1280.9 L214.5 1196.9 L215.0 1288.5 L215.5 1190.2 L216.0 1296.4 L216.5 1187.0 L217.0 1277.9 L217.5 1185.1 L218.0 1309.7 L218.5 1182.5 L219.0 1307.2 L219.5 1179.6 L220.0 1280.8 L220.5 1187.3 L221.0 1305.7 L221.2 1178.7 L221.2 1311.3 L221.5 1193.1 L222.0 1289.2 L222.5 1193.5 L223.0 1301.1 L223.5 1179.1 L224.0 1294.0 L224.5 1186.2 L225.0 1278.2 L225.5 1187.7 L226.0 1294.5 L226.5 1178.2 L227.0 1301.7 L227.5 1184.4 L228.0 1287.3 L228.5 1176.8 L229.0 1293.5 L229.5 1182.9 L230.0 1300.9 L230.5 1175.6 L231.0 1269.5 L231.5 1176.1 L232.0 1281.0 L232.5 1170.3 L233.0 1266.9 L233.5 1178.2 L234.0 1272.7 L234.5 1168.4 L235.0 1294.2 L235.5 1182.4 L236.0 1293.2 L236.5 1165.8 L237.0 1266.0 L237.5 1169.7 L238.0 1274.5 L238.5 1181.0 L239.0 1291.1 L239.5 1164.1 L239.5 1297.0 L239.5 1170.0 L240.0 1274.2 L240.5 1169.5 L241.0 1287.2 L241.5 1165.1 L242.0 1263.2 L242.5 1165.3 L243.0 1263.7 L243.5 1166.7 L244.0 1290.3 L244.5 1169.5 L245.0 1266.9 L245.5 1166.4 L246.0 1279.1 L246.5 1160.7 L247.0 1286.3 L247.5 1160.0 L248.0 1259.1 L248.5 1164.1 L249.0 1260.0 L249.5 1160.3 L249.7 1293.0 L249.7 1158.8 L250.0 1287.9 L250.5 1161.2 L251.0 1282.4 L251.5 1160.3 L252.0 1267.1 L252.5 1163.7 L253.0 1276.4 L253.5 1158.5 L254.0 1254.8 L254.5 1162.1 L255.0 1249.5 L255.5 1162.9 L256.0 1282.5 L256.5 1161.4 L257.0 1274.0 L257.5 1156.3 L258.0 1250.7 L258.5 1158.6 L259.0 1248.3 L259.5 1162.7 L259.9 1282.7 L259.9 1153.5 L260.0 1249.2 L260.5 1159.1 L261.0 1281.7 L261.5 1163.5 L262.0 1267.9 L262.5 1165.4 L263.0 1269.0 L263.5 1159.2 L264.0 1255.8 L264.5 1160.4 L265.0 1290.5 L265.5 1163.1 L266.0 1256.9 L266.5 1158.2 L267.0 1292.7 L267.5 1161.9 L268.0 1296.7 L268.5 1164.7 L269.0 1263.1 L269.5 1164.0 L270.0 1296.5 L270.1 1154.2 L270.1 1303.1 L270.5 1164.6 L271.0 1299.6 L271.5 1177.4 L272.0 1274.8 L272.5 1163.7 L273.0 1268.1 L273.5 1163.6 L274.0 1274.7 L274.5 1163.6 L275.0 1296.9 L275.5 1171.8 L276.0 1271.1 L276.5 1166.6 L277.0 1268.9 L277.5 1179.5 L278.0 1269.6 L278.5 1173.3 L279.0 1285.3 L279.5 1167.5 L280.0 1284.5 L280.5 1178.8 L281.0 1270.0 L281.5 1173.6 L282.0 1298.5 L282.3 1166.7 L282.3 1302.2 L282.5 1169.8 L283.0 1272.2 L283.5 1176.0 L284.0 1298.6 L284.5 1165.9 L285.0 1266.5 L285.5 1169.7 L286.0 1297.5 L286.5 1172.0 L287.0 1290.2 L287.5 1172.7 L288.0 1281.0 L288.5 1177.5 L289.0 1269.3 L289.5 1174.4 L290.0 1264.9 L290.5 1168.2 L291.0 1291.1 L291.5 1162.2 L292.0 1298.6 L292.5 1156.5 L292.5 1298.4 L292.5 1165.5 L293.0 1264.3 L293.5 1173.8 L294.0 1290.4 L294.5 1163.0 L295.0 1288.5 L295.5 1170.1 L296.0 1297.3 L296.5 1174.4 L297.0 1261.2 L297.5 1159.9 L298.0 1271.3 L298.5 1160.5 L299.0 1279.3 L299.5 1159.6 L300.0 1265.8 L300.5 1174.7 L301.0 1264.9 L301.5 1163.2 L302.0 1266.9 L302.5 1158.0 L303.0 1287.4 L303.5 1164.1 L304.0 1270.7 L304.5 1165.1 L305.0 1291.9 L305.5 1170.8 L306.0 1272.2 L306.5 1160.0 L307.0 1279.1 L307.5 1163.5 L308.0 1271.5 L308.5 1158.6 L309.0 1281.0 L309.5 1163.2 L310.0 1254.1 L310.5 1155.8 L311.0 1253.2 L311.5 1160.4 L312.0 1287.1 L312.5 1164.8 L313.0 1256.4 L313.5 1159.0 L314.0 1273.2 L314.5 1168.4 L315.0 1294.2 L315.5 1161.9 L316.0 1286.7 L316.5 1162.1 L317.0 1294.9 L317.0 1154.5 L317.0 1286.6 L317.5 1169.5 L318.0 1293.6 L318.5 1162.8 L319.0 1287.9 L319.5 1174.2 L320.0 1266.1 L320.5 1169.6 L321.0 1255.7 L321.5 1165.8 L322.0 1290.6 L322.5 1171.4 L323.0 1289.4 L323.5 1166.6 L324.0 1288.1 L324.5 1162.7 L325.0 1266.5 L325.5 1172.9 L326.0 1280.3 L326.5 1173.6 L327.0 1279.9 L327.5 1171.6 L328.0 1282.1 L328.5 1174.1 L329.0 1271.8 L329.5 1168.4 L330.0 1263.5 L330.5 1169.0 L331.0 1261.3 L331.5 1166.9 L332.0 1254.7 L332.5 1170.7 L333.0 1275.3 L333.3 1161.5 L333.3 1280.5 L333.5 1170.8 L334.0 1266.5 L334.5 1166.3 L335.0 1252.7 L335.5 1164.1 L336.0 1272.6 L336.5 1165.8 L337.0 1272.4 L337.5 1164.2 L338.0 1276.2 L338.5 1164.8 L339.0 1270.8 L339.5 1172.4 L340.0 1251.7 L340.5 1163.6 L341.0 1271.2 L341.5 1163.6 L342.0 1267.7 L342.5 1165.6 L343.0 1282.9 L343.5 1167.0 L344.0 1255.4 L344.5 1167.7 L345.0 1268.3 L345.5 1172.5 L346.0 1265.4 L346.5 1169.5 L347.0 1254.0 L347.5 1167.3 L348.0 1254.2 L348.5 1175.8 L349.0 1264.0 L349.5 1165.7 L350.0 1283.9 L350.5 1163.8 L351.0 1283.7 L351.5 1169.4 L352.0 1263.2 L352.5 1180.0 L353.0 1288.9 L353.5 1164.4 L353.7 1292.5 L353.7 1163.0 L354.0 1268.8 L354.5 1164.9 L355.0 1259.6 L355.5 1165.0 L356.0 1260.3 L356.5 1169.2 L357.0 1284.1 L357.5 1166.4 L358.0 1289.3 L358.5 1169.7 L359.0 1282.8 L359.5 1179.3 L360.0 1258.9 L360.5 1171.4 L361.0 1268.3 L361.5 1181.0 L362.0 1280.6 L362.5 1175.3 L363.0 1279.9 L363.5 1178.4 L364.0 1277.3 L364.5 1174.4 L365.0 1275.8 L365.5 1170.7 L366.0 1263.6 L366.5 1177.7 L367.0 1277.4 L367.5 1172.2 L368.0 1261.7 L368.5 1173.4 L369.0 1268.9 L369.5 1179.9 L370.0 1286.4 L370.5 1175.3 L371.0 1265.6 L371.5 1184.0 L372.0 1282.2 L372.5 1175.1 L373.0 1279.6 L373.5 1177.8 L374.0 1273.9 L374.1 1168.6 L374.1 1288.1 L374.5 1187.0 L375.0 1277.8 L375.5 1188.4 L376.0 1262.5 L376.5 1176.7 L377.0 1273.1 L377.5 1180.4 L378.0 1290.2 L378.5 1179.3 L379.0 1277.1 L379.5 1179.6 L380.0 1261.0 L380.5 1172.5 L381.0 1276.8 L381.5 1172.4 L382.0 1268.0 L382.5 1182.3 L383.0 1288.1 L383.5 1179.7 L384.0 1287.5 L384.5 1180.5 L385.0 1263.6 L385.5 1179.1 L386.0 1284.9 L386.5 1177.9 L387.0 1271.1 L387.5 1173.1 L388.0 1266.7 L388.5 1184.1 L389.0 1282.4 L389.5 1179.6 L390.0 1264.2 L390.5 1177.7 L391.0 1266.9 L391.5 1187.3 L392.0 1289.0 L392.5 1184.6 L393.0 1279.3 L393.5 1179.0 L394.0 1284.7 L394.5 1175.1 L394.5 1300.3 L394.5 1180.1 L395.0 1286.1 L395.5 1187.5 L396.0 1285.1 L396.5 1182.1 L397.0 1281.2 L397.5 1178.4 L398.0 1276.6 L398.5 1189.2 L399.0 1288.4 L399.5 1197.3 L400.0 1273.6 L400.5 1189.5 L401.0 1284.4 L401.5 1182.4 L402.0 1275.8 L402.5 1188.2 L403.0 1276.1 L403.5 1185.6 L404.0 1277.8 L404.5 1186.8 L405.0 1275.3 L405.5 1191.8 L406.0 1271.6 L406.5 1191.0 L407.0 1297.4 L407.5 1195.9 L408.0 1300.7 L408.5 1190.3 L409.0 1296.1 L409.5 1191.9 L410.0 1305.2 L410.0 1191.1 L410.0 1291.4 L410.5 1192.7 L411.0 1292.3 L411.5 1196.6 L412.0 1302.8 L412.5 1197.8 L413.0 1285.3 L413.5 1191.8 L414.0 1301.9 L414.5 1194.8 L415.0 1291.3 L415.5 1190.6 L416.0 1296.0 L416.5 1195.9 L417.0 1273.2 L417.5 1192.6 L418.0 1287.0 L418.5 1191.7 L419.0 1298.6 L419.5 1193.7 L420.0 1287.4 L420.5 1193.4 L421.0 1273.4 L421.5 1201.0 L422.0 1279.6 L422.5 1198.6 L423.0 1283.5 L423.5 1198.5 L424.0 1298.7 L424.5 1201.1 L425.0 1300.9 L425.5 1205.3 L426.0 1287.8 L426.5 1203.1 L427.0 1292.8 L427.5 1197.7 L428.0 1283.9 L428.5 1198.0 L429.0 1282.5 L429.5 1205.1 L430.0 1296.9 L430.4 1190.0 L430.4 1305.8 L430.5 1199.8 L431.0 1292.1 L431.5 1201.9 L432.0 1293.4 L432.5 1202.9 L433.0 1296.0 L433.5 1196.0 L434.0 1287.2 L434.5 1202.8 L435.0 1300.4 L435.5 1209.5 L436.0 1290.7 L436.5 1210.8 L437.0 1300.2 L437.5 1200.9 L438.0 1291.1 L438.5 1207.4 L439.0 1300.4 L439.5 1196.5 L440.0 1288.8 L440.5 1205.6 L441.0 1294.0 L441.5 1198.7 L442.0 1302.0 L442.5 1205.3 L443.0 1308.9 L443.5 1208.9 L444.0 1310.3 L444.5 1206.3 L445.0 1302.3 L445.5 1217.2 L446.0 1304.5 L446.5 1220.1 L447.0 1310.3 L447.5 1211.0 L448.0 1288.9 L448.5 1206.7 L449.0 1320.2 L449.5 1207.3 L450.0 1306.9 L450.5 1215.3 L450.8 1320.8 L450.8 1203.2 L451.0 1314.0 L451.5 1211.3 L452.0 1320.9 L452.5 1206.3 L453.0 1318.1 L453.5 1205.4 L454.0 1295.8 L454.5 1206.0 L455.0 1291.5 L455.5 1210.9 L456.0 1294.2 L456.5 1214.9 L457.0 1313.5 L457.5 1212.6 L458.0 1305.1 L458.5 1202.5 L459.0 1312.5 L459.5 1203.0 L460.0 1305.3 L460.5 1211.3 L461.0 1312.4 L461.5 1212.2 L462.0 1315.7 L462.5 1206.1 L463.0 1291.4 L463.5 1211.8 L464.0 1298.4 L464.5 1208.3 L465.0 1302.0 L465.1 1199.8 L465.1 1323.2 L465.5 1204.2 L466.0 1300.1 L466.5 1215.0 L467.0 1308.1 L467.5 1219.0 L468.0 1317.0 L468.5 1204.5 L469.0 1319.3 L469.5 1221.8 L470.0 1294.2 L470.5 1209.5 L471.0 1297.2 L471.5 1217.5 L472.0 1297.3 L472.5 1213.1 L473.0 1293.3 L473.5 1218.4 L474.0 1291.5 L474.5 1220.2 L475.0 1299.8 L475.3 1208.4 L475.3 1319.4 L475.5 1218.8 L476.0 1303.4 L476.5 1209.7 L477.0 1295.2 L477.5 1215.2 L478.0 1314.2 L478.5 1214.5 L479.0 1303.2 L479.5 1206.5 L480.0 1301.1 L480.5 1199.3 L481.0 1286.3 L481.5 1202.1 L482.0 1294.8 L482.5 1198.7 L483.0 1292.6 L483.5 1197.4 L484.0 1301.5 L484.5 1195.2 L485.0 1280.6 L485.5 1199.7 L486.0 1291.4 L486.5 1194.2 L487.0 1277.0 L487.5 1205.4 L488.0 1271.9 L488.5 1191.8 L489.0 1284.8 L489.5 1198.9 L490.0 1270.2 L490.5 1189.7 L491.0 1280.2 L491.5 1191.7 L491.6 1299.0 L491.6 1179.8 L492.0 1283.9 L492.5 1189.1 L493.0 1292.3 L493.5 1189.5 L494.0 1295.9 L494.5 1184.7 L495.0 1269.5 L495.5 1183.4 L496.0 1294.3 L496.5 1186.0 L497.0 1267.6 L497.5 1178.7 L498.0 1264.3 L498.5 1187.6 L499.0 1288.3 L499.5 1185.6 L500.0 1262.2 L500.5 1173.5 L501.0 1255.6 L501.5 1170.8 L502.0 1282.8 L502.5 1176.1 L503.0 1276.9 L503.5 1172.3 L504.0 1255.3 L504.5 1172.7 L505.0 1275.7 L505.5 1178.4 L506.0 1258.9 L506.5 1171.5 L507.0 1276.2 L507.5 1165.6 L508.0 1260.9 L508.5 1166.2 L509.0 1268.4 L509.5 1169.0 L510.0 1267.9 L510.5 1164.6 L511.0 1249.9 L511.5 1168.0 L512.0 1274.2 L512.0 1157.8 L512.0 1250.8 L512.5 1166.2 L513.0 1271.1 L513.5 1158.3 L514.0 1268.6 L514.5 1166.1 L515.0 1254.0 L515.5 1156.9 L516.0 1260.2 L516.5 1159.5 L517.0 1256.3 L517.5 1159.6 L518.0 1237.8 L518.5 1154.0 L519.0 1242.1 L519.5 1154.4 L520.0 1265.4 L520.5 1161.1 L521.0 1265.4 L521.5 1162.0 L522.0 1236.3 L522.5 1162.9 L523.0 1260.8 L523.5 1159.2 L524.0 1260.0 L524.5 1150.6 L525.0 1254.5 L525.5 1154.3 L526.0 1257.7 L526.5 1149.1 L527.0 1249.5 L527.5 1153.9 L528.0 1259.8 L528.5 1144.1 L529.0 1252.8 L529.5 1147.0 L530.0 1227.6 L530.5 1150.3 L531.0 1257.5 L531.5 1152.2 L532.0 1251.8 L532.3 1141.9 L532.3 1261.5 L532.5 1147.1 L533.0 1243.3 L533.5 1151.2 L534.0 1241.6 L534.5 1150.3 L535.0 1232.7 L535.5 1147.5 L536.0 1241.4 L536.5 1156.8 L537.0 1255.7 L537.5 1158.4 L538.0 1232.4 L538.5 1148.2 L539.0 1252.8 L539.5 1155.3 L540.0 1234.9 L540.5 1152.9 L541.0 1239.9 L541.5 1155.4 L542.0 1233.8 L542.5 1150.9 L543.0 1235.6 L543.5 1158.0 L544.0 1253.8 L544.5 1156.1 L545.0 1262.8 L545.5 1167.1 L546.0 1252.4 L546.5 1156.8 L547.0 1252.1 L547.5 1153.6 L548.0 1240.9 L548.5 1154.0 L549.0 1266.9 L549.5 1153.3 L550.0 1255.0 L550.5 1161.7 L551.0 1249.2 L551.5 1159.8 L552.0 1249.1 L552.5 1159.1 L552.7 1269.4 L552.7 1152.4 L553.0 1242.0 L553.5 1156.9 L554.0 1255.2 L554.5 1160.7 L555.0 1259.0 L555.5 1175.1 L556.0 1256.4 L556.5 1168.8 L557.0 1257.8 L557.5 1176.7 L558.0 1257.6 L558.5 1167.1 L559.0 1266.5 L559.5 1172.0 L560.0 1278.2 L560.5 1173.2 L561.0 1264.6 L561.5 1173.4 L562.0 1276.0 L562.5 1175.6 L563.0 1257.0 L563.5 1175.2 L564.0 1267.5 L564.5 1180.7 L565.0 1282.8 L565.5 1173.5 L566.0 1259.6 L566.5 1176.8 L567.0 1259.5 L567.5 1179.8 L568.0 1285.2 L568.5 1185.8 L569.0 1272.9 L569.5 1177.5 L570.0 1266.9 L570.5 1189.0 L571.0 1271.3 L571.5 1182.2 L572.0 1260.8 L572.5 1183.9 L573.0 1265.9 L573.1 1179.3 L573.1 1291.4 L573.5 1182.9 L574.0 1275.9 L574.5 1185.8 L575.0 1291.8 L575.5 1189.5 L576.0 1268.1 L576.5 1188.3 L577.0 1269.4 L577.5 1190.0 L578.0 1285.5 L578.5 1196.6 L579.0 1294.5 L579.5 1196.8 L580.0 1295.5 L580.5 1205.8 L581.0 1295.9 L581.5 1204.1 L582.0 1296.6 L582.5 1203.7 L583.0 1289.6 L583.5 1214.1 L584.0 1294.0 L584.5 1207.4 L585.0 1304.1 L585.5 1207.0 L586.0 1290.1 L586.5 1211.6 L587.0 1306.9 L587.5 1220.3 L588.0 1288.1 L588.5 1220.6 L589.0 1298.2 L589.5 1217.1 L590.0 1315.7 L590.5 1219.1 L591.0 1297.8 L591.5 1219.7 L592.0 1303.1 L592.5 1228.8 L593.0 1292.8 L593.5 1218.4 L593.5 1321.6 L593.5 1220.4 L594.0 1310.8 L594.5 1232.5 L595.0 1319.2 L595.5 1228.5 L596.0 1297.5 L596.5 1225.9 L597.0 1322.9 L597.5 1239.5 L598.0 1302.8 L598.5 1230.9 L599.0 1330.5 L599.5 1234.9 L600.0 1334.7 L600.5 1235.9 L601.0 1332.4 L601.5 1240.1 L602.0 1321.0 L602.5 1245.8 L603.0 1340.6 L603.5 1242.3 L603.7 1346.1 L603.7 1240.8 L604.0 1322.6 L604.5 1252.4 L605.0 1328.8 L605.5 1244.7 L606.0 1333.0 L606.5 1249.9 L607.0 1343.8 L607.5 1247.4 L608.0 1336.7 L608.5 1252.5 L609.0 1354.8 L609.5 1261.6 L610.0 1352.0 L610.5 1257.8 L611.0 1346.4 L611.5 1259.5 L612.0 1355.7 L612.5 1259.5 L613.0 1366.7 L613.5 1261.0 L614.0 1343.0 L614.5 1261.5 L615.0 1352.4 L615.5 1261.3 L616.0 1368.3 L616.5 1273.3 L617.0 1365.9 L617.5 1275.7 L618.0 1381.2 L618.0 1266.7 L618.0 1363.9 L618.5 1269.2 L619.0 1375.5 L619.5 1264.9 L620.0 1360.5 L620.5 1270.5 L621.0 1358.9 L621.5 1265.8 L622.0 1373.0 L622.5 1269.0 L623.0 1359.5 L623.5 1273.8 L624.0 1371.2 L624.5 1279.5 L625.0 1370.1 L625.5 1271.4 L626.0 1348.5 L626.5 1275.0 L627.0 1345.9 L627.5 1268.5 L628.0 1364.2 L628.5 1269.3 L629.0 1354.5 L629.5 1267.9 L630.0 1351.1 L630.5 1281.7 L631.0 1344.2 L631.5 1267.5 L632.0 1352.0 L632.5 1271.0 L633.0 1354.6 L633.5 1268.4 L634.0 1342.2 L634.3 1263.9 L634.3 1371.5 L634.5 1268.0 L635.0 1343.2 L635.5 1273.4 L636.0 1351.6 L636.5 1268.2 L637.0 1372.1 L637.5 1274.3 L638.0 1363.8 L638.5 1275.4 L639.0 1358.7 L639.5 1279.3 L640.0 1360.3 L640.5 1274.7 L641.0 1355.6 L641.5 1277.1 L642.0 1382.6 L642.5 1276.2 L643.0 1360.8 L643.5 1286.7 L644.0 1368.0 L644.5 1283.0 L645.0 1389.8 L645.5 1280.5 L646.0 1377.9 L646.5 1288.8 L647.0 1369.8 L647.5 1285.5 L648.0 1393.0 L648.5 1297.1 L649.0 1368.6 L649.5 1288.6 L650.0 1391.0 L650.5 1290.1 L651.0 1391.5 L651.5 1288.2 L652.0 1398.2 L652.5 1294.2 L653.0 1381.9 L653.5 1290.9 L654.0 1406.2 L654.5 1300.7 L654.7 1410.8 L654.7 1291.7 L655.0 1395.3 L655.5 1296.6 L656.0 1389.5 L656.5 1293.2 L657.0 1375.7 L657.5 1296.3 L658.0 1379.4 L658.5 1298.9 L659.0 1383.9 L659.5 1304.5 L660.0 1402.7 L660.0 1293.4 L660.0 1383.1 L660.5 1294.7 L661.0 1388.1 L661.5 1292.2 L662.0 1388.1 L662.5 1285.4 L663.0 1367.8 L663.5 1281.2 L664.0 1384.7 L664.5 1279.1 L665.0 1359.4 L665.5 1276.0 L666.0 1375.4 L666.1 1266.7 L666.1 1384.6 L666.5 1268.7 L667.0 1380.0 L667.5 1283.2 L668.0 1381.7 L668.5 1274.6 L669.0 1381.6 L669.5 1278.8 L670.0 1361.3 L670.5 1272.3 L671.0 1356.5 L671.5 1274.7 L672.0 1353.8 L672.5 1273.8 L673.0 1358.9 L673.5 1278.5 L674.0 1383.4 L674.5 1277.7 L675.0 1370.1 L675.5 1285.9 L676.0 1362.5 L676.3 1274.7 L676.3 1384.7 L676.5 1278.6 L677.0 1376.2 L677.5 1283.9 L678.0 1367.9 L678.5 1278.9 L679.0 1384.3 L679.5 1291.7 L680.0 1380.7 L680.5 1286.2 L681.0 1378.5 L681.5 1290.0 L682.0 1385.5 L682.5 1290.5 L683.0 1358.7 L683.5 1294.4 L684.0 1365.5 L684.5 1285.8 L685.0 1377.1 L685.5 1289.4 L686.0 1361.7 L686.5 1296.3 L687.0 1371.4 L687.5 1285.4 L688.0 1359.6 L688.5 1283.9 L689.0 1378.5 L689.5 1285.0 L690.0 1388.5 L690.5 1288.7 L690.6 1390.8 L690.6 1280.8 L691.0 1387.2 L691.5 1288.9 L692.0 1389.8 L692.5 1284.9 L693.0 1379.9 L693.5 1293.3 L694.0 1390.5 L694.5 1291.2 L695.0 1385.1 L695.5 1293.7 L696.0 1368.7 L696.5 1294.4 L697.0 1370.8 L697.5 1296.6 L698.0 1368.9 L698.5 1289.9 L699.0 1374.3 L699.5 1296.9 L700.0 1393.9 L700.5 1300.1 L701.0 1376.6 L701.5 1292.8 L702.0 1397.9 L702.5 1293.4 L703.0 1381.1 L703.5 1303.1 L704.0 1389.7 L704.5 1306.4 L705.0 1391.7 L705.5 1308.0 L706.0 1382.6 L706.5 1309.5 L707.0 1383.9 L707.5 1309.6 L708.0 1391.2 L708.5 1303.3 L709.0 1401.8 L709.5 1306.8 L710.0 1384.9 L710.5 1319.5 L711.0 1413.2 L711.0 1305.2 L711.0 1383.3 L711.5 1309.4 L712.0 1406.4 L712.5 1311.1 L713.0 1410.1 L713.5 1307.0 L714.0 1395.7 L714.5 1320.0 L715.0 1387.5 L715.5 1311.2 L716.0 1410.7 L716.5 1307.6 L717.0 1390.3 L717.5 1315.8 L718.0 1383.9 L718.5 1309.1 L719.0 1398.6 L719.5 1315.2 L720.0 1389.8 L720.5 1316.7 L721.0 1387.7 L721.5 1320.9 L722.0 1413.3 L722.5 1314.4 L723.0 1391.8 L723.5 1320.2 L724.0 1412.9 L724.5 1309.6 L725.0 1393.8 L725.5 1310.5 L726.0 1411.5 L726.5 1311.2 L727.0 1400.2 L727.5 1310.0 L728.0 1384.1 L728.5 1315.3 L729.0 1383.2 L729.5 1305.2 L730.0 1401.0 L730.5 1308.9 L731.0 1408.1 L731.4 1305.2 L731.4 1415.3 L731.5 1303.9 L732.0 1404.6 L732.5 1303.7 L733.0 1407.4 L733.5 1306.5 L734.0 1410.5 L734.5 1308.8 L735.0 1405.5 L735.5 1306.9 L736.0 1395.8 L736.5 1304.0 L737.0 1398.3 L737.5 1303.4 L738.0 1402.1 L738.5 1308.1 L739.0 1381.2 L739.5 1311.3 L740.0 1391.3 L740.5 1299.1 L741.0 1379.7 L741.5 1306.7 L742.0 1403.6 L742.5 1309.5 L743.0 1398.5 L743.5 1304.6 L744.0 1400.2 L744.5 1304.0 L745.0 1397.6 L745.5 1309.4 L746.0 1387.7 L746.5 1311.8 L747.0 1384.6 L747.5 1303.4 L748.0 1384.9 L748.5 1299.2 L749.0 1393.7 L749.5 1304.5 L750.0 1375.1 L750.5 1305.7 L751.0 1394.8 L751.5 1304.5 L751.8 1405.1 L751.8 1293.0 L752.0 1373.0 L752.5 1297.6 L753.0 1390.3 L753.5 1304.8 L754.0 1383.6 L754.5 1299.0 L755.0 1398.3 L755.5 1297.4 L756.0 1390.9 L756.5 1307.4 L757.0 1375.2 L757.5 1304.5 L758.0 1383.7 L758.5 1295.3 L759.0 1387.5 L759.5 1294.4 L760.0 1392.0 L760.5 1293.3 L761.0 1398.6 L761.5 1293.2 L762.0 1394.6 L762.5 1297.5 L763.0 1393.1 L763.5 1292.8 L764.0 1387.7 L764.5 1300.0 L765.0 1383.1 L765.5 1302.1 L766.0 1377.6 L766.5 1295.2 L767.0 1390.0 L767.5 1298.6 L768.0 1372.0 L768.5 1298.9 L769.0 1395.8 L769.5 1295.9 L770.0 1382.8 L770.5 1293.0 L771.0 1374.5 L771.5 1299.8 L772.0 1392.4 L772.2 1291.0 L772.2 1401.0 L772.5 1303.5 L773.0 1382.3 L773.5 1298.1 L774.0 1383.8 L774.5 1297.3 L775.0 1374.9 L775.5 1294.1 L776.0 1387.4 L776.5 1294.3 L777.0 1373.9 L777.5 1295.6 L778.0 1377.6 L778.5 1304.5 L779.0 1394.1 L779.5 1295.7 L780.0 1372.1 L780.5 1296.4 L781.0 1380.0 L781.5 1299.5 L782.0 1398.5 L782.5 1295.5 L783.0 1391.9 L783.5 1297.4 L784.0 1388.1 L784.5 1292.7 L785.0 1396.2 L785.5 1295.1 L786.0 1394.9 L786.5 1298.1 L787.0 1378.3 L787.5 1293.9 L788.0 1394.1 L788.5 1293.4 L789.0 1386.5 L789.5 1298.6 L790.0 1372.8 L790.5 1296.2 L791.0 1379.2 L791.5 1297.3 L792.0 1378.5 L792.5 1291.0 L792.5 1399.0 L792.5 1302.4 L793.0 1399.0 L793.5 1294.6 L794.0 1377.0 L794.5 1296.1 L795.0 1386.7 L795.5 1301.7 L796.0 1398.5 L796.5 1301.6 L797.0 1396.5 L797.5 1297.6 L798.0 1390.4 L798.5 1295.7 L799.0 1374.6 L799.5 1295.5 L800.0 1392.2 L800.5 1304.1 L801.0 1394.2 L801.5 1293.8 L802.0 1382.4 L802.5 1295.3 L803.0 1379.9 L803.5 1292.1 L804.0 1372.6 L804.5 1297.5 L805.0 1366.4 L805.5 1297.7 L806.0 1385.1 L806.5 1293.6 L807.0 1377.0 L807.5 1289.2 L808.0 1389.7 L808.5 1290.8 L809.0 1395.9 L809.5 1299.4 L810.0 1378.4 L810.5 1291.1 L811.0 1395.8 L811.5 1297.0 L812.0 1370.8 L812.5 1298.9 L812.9 1396.9 L812.9 1286.9 L813.0 1390.7 L813.5 1294.1 L814.0 1387.7 L814.5 1298.6 L815.0 1369.5 L815.5 1301.2 L816.0 1372.3 L816.5 1295.3 L817.0 1374.9 L817.5 1294.1 L818.0 1384.1 L818.5 1287.1 L819.0 1377.7 L819.5 1295.1 L820.0 1365.1 L820.5 1295.1 L821.0 1367.8 L821.5 1289.7 L822.0 1373.5 L822.5 1299.8 L823.0 1371.9 L823.5 1300.9 L824.0 1381.1 L824.5 1300.1 L825.0 1380.8 L825.5 1289.5 L826.0 1370.6 L826.5 1293.7 L827.0 1375.0 L827.5 1289.7 L828.0 1376.3 L828.5 1287.4 L829.0 1371.0 L829.5 1286.4 L830.0 1375.3 L830.5 1286.9 L831.0 1371.5 L831.5 1287.6 L832.0 1380.5 L832.5 1289.9 L833.0 1381.0 L833.3 1284.9 L833.3 1392.9 L833.5 1287.4 L834.0 1371.0 L834.5 1289.0 L835.0 1368.1 L835.5 1293.5 L836.0 1381.5 L836.5 1296.3 L837.0 1377.7 L837.5 1300.7 L838.0 1373.0 L838.5 1294.3 L839.0 1377.8 L839.5 1290.6 L840.0 1377.1 L840.5 1290.6 L841.0 1378.7 L841.5 1295.1 L842.0 1378.3 L842.5 1292.2 L843.0 1377.5 L843.5 1290.2 L844.0 1373.8 L844.5 1296.8 L845.0 1383.7 L845.5 1289.5 L846.0 1394.0 L846.5 1288.0 L847.0 1391.0 L847.5 1287.4 L848.0 1374.3 L848.5 1298.8 L849.0 1366.4 L849.5 1288.6 L850.0 1376.0 L850.5 1285.5 L851.0 1375.0 L851.5 1286.4 L852.0 1372.8 L852.5 1288.4 L853.0 1372.6 L853.5 1286.8 L853.7 1394.9 L853.7 1282.8 L854.0 1392.8 L854.5 1294.7 L855.0 1382.4 L855.5 1298.2 L856.0 1393.2 L856.5 1287.5 L857.0 1395.9 L857.5 1287.6 L858.0 1381.9 L858.5 1287.1 L859.0 1383.1 L859.5 1294.9 L860.0 1382.7 L860.5 1291.0 L861.0 1391.1 L861.5 1289.6 L862.0 1368.2 L862.5 1290.6 L863.0 1374.7 L863.5 1286.8 L864.0 1362.4 L864.5 1282.3 L865.0 1362.2 L865.5 1282.0 L866.0 1359.8 L866.5 1283.5 L867.0 1363.6 L867.5 1288.1 L868.0 1364.3 L868.5 1284.9 L869.0 1379.7 L869.5 1291.5 L870.0 1390.8 L870.0 1278.7 L870.0 1382.8 L870.5 1288.8 L871.0 1380.4 L871.5 1280.2 L872.0 1375.7 L872.5 1288.9 L873.0 1364.6 L873.5 1283.3 L874.0 1371.1 L874.5 1289.8 L875.0 1369.7 L875.5 1292.2 L876.0 1380.2 L876.5 1291.8 L877.0 1379.2 L877.5 1286.2 L878.0 1389.5 L878.5 1292.5 L879.0 1371.8 L879.5 1291.1 L880.0 1386.5 L880.5 1283.5 L881.0 1381.8 L881.5 1284.8 L882.0 1366.0 L882.5 1283.3 L883.0 1376.9 L883.5 1284.8 L884.0 1384.3 L884.5 1293.8 L885.0 1381.5 L885.5 1286.4 L886.0 1370.5 L886.5 1292.3 L887.0 1377.0 L887.5 1292.1 L888.0 1386.4 L888.5 1286.0 L889.0 1364.2 L889.5 1291.9 L890.0 1384.3 L890.5 1290.3 L891.0 1376.9 L891.5 1287.8 L892.0 1361.5 L892.5 1286.6 L893.0 1364.1 L893.5 1285.4 L894.0 1373.4 L894.5 1282.8 L894.5 1384.7 L894.5 1288.2 L895.0 1358.2 L895.5 1283.4 L896.0 1369.8 L896.5 1290.0 L897.0 1371.4 L897.5 1284.5 L898.0 1367.4 L898.5 1282.1 L899.0 1366.1 L899.5 1285.6 L900.0 1355.7 L900.5 1282.2 L901.0 1373.6 L901.5 1287.0 L902.0 1370.0 L902.5 1290.1 L903.0 1372.0 L903.5 1280.3 L904.0 1357.0 L904.5 1281.2 L905.0 1371.2 L905.5 1284.7 L906.0 1363.2 L906.5 1281.7 L907.0 1356.7 L907.5 1280.1 L908.0 1368.0 L908.5 1285.3 L909.0 1362.4 L909.5 1281.3 L910.0 1363.0 L910.5 1279.2 L911.0 1353.2 L911.5 1275.5 L912.0 1363.9 L912.5 1276.8 L913.0 1365.9 L913.5 1280.2 L914.0 1367.2 L914.5 1278.4 L914.9 1378.6 L914.9 1272.6 L915.0 1360.1 L915.5 1275.1 L916.0 1366.7 L916.5 1279.4 L917.0 1359.1 L917.5 1272.5 L918.0 1377.2 L918.5 1278.4 L919.0 1349.3 L919.5 1274.4 L920.0 1365.7 L920.2 1270.6 L920.2 1380.6 L920.5 1273.1 L921.0 1371.7 L921.5 1279.9 L922.0 1368.4 L922.5 1271.9 L923.0 1373.8 L923.5 1273.1 L924.0 1371.9 L924.5 1285.0 L925.0 1348.3 L925.5 1271.1 L926.0 1359.7 L926.5 1281.2 L927.0 1358.0 L927.5 1280.0 L928.0 1366.0 L928.5 1278.1 L929.0 1368.4 L929.5 1278.0 L930.0 1345.5 L930.5 1270.0 L931.0 1352.8 L931.5 1269.2 L932.0 1367.7 L932.5 1281.2 L933.0 1343.9 L933.5 1271.2 L934.0 1347.3 L934.5 1272.3 L935.0 1358.3 L935.5 1270.0 L936.0 1355.2 L936.5 1264.5 L936.5 1368.4 L936.5 1275.1 L937.0 1355.5 L937.5 1267.6 L938.0 1339.3 L938.5 1269.6 L939.0 1362.4 L939.5 1268.5 L940.0 1361.2 L940.5 1272.3 L941.0 1346.2 L941.5 1265.6 L942.0 1358.7 L942.5 1262.6 L943.0 1343.1 L943.5 1266.5 L944.0 1357.5 L944.5 1264.5 L945.0 1334.2 L945.5 1267.3 L946.0 1350.4 L946.5 1273.1 L947.0 1348.3 L947.5 1262.0 L948.0 1344.4 L948.5 1262.9 L949.0 1353.4 L949.5 1270.2 L950.0 1342.3 L950.5 1262.5 L951.0 1331.4 L951.5 1261.4 L952.0 1329.1 L952.5 1259.6 L953.0 1338.2 L953.5 1260.3 L954.0 1334.6 L954.5 1267.8 L955.0 1343.7 L955.5 1269.9 L956.0 1333.1 L956.5 1265.0 L957.0 1326.3 L957.5 1266.4 L958.0 1329.9 L958.5 1266.8 L959.0 1341.0 L959.5 1259.5 L960.0 1330.3 L960.5 1259.0 L961.0 1348.0 L961.0 1258.3 L961.0 1325.5 L961.5 1262.7 L962.0 1334.6 L962.5 1263.2 L963.0 1327.1 L963.5 1258.1 L964.0 1337.0 L964.5 1260.4 L965.0 1333.9 L965.5 1261.5 L966.0 1341.4 L966.5 1263.6 L967.0 1336.6 L967.5 1260.0 L968.0 1330.6 L968.5 1257.0 L969.0 1343.5 L969.5 1263.1 L970.0 1337.1 L970.5 1266.1 L971.0 1326.8 L971.5 1260.7 L972.0 1340.4 L972.5 1265.8 L973.0 1332.2 L973.5 1258.6 L974.0 1329.4 L974.5 1261.7 L975.0 1344.8 L975.5 1260.3 L976.0 1337.4 L976.5 1262.1 L977.0 1344.4 L977.5 1260.9 L978.0 1327.3 L978.5 1256.7 L979.0 1325.0 L979.5 1256.6 L980.0 1322.2 L980.5 1264.2 L981.0 1333.4 L981.4 1254.3 L981.4 1343.9 L981.5 1257.7 L982.0 1339.4 L982.5 1260.0 L983.0 1322.5 L983.5 1264.6 L984.0 1326.4 L984.5 1256.1 L985.0 1325.7 L985.5 1260.8 L986.0 1327.3 L986.5 1250.8 L987.0 1328.7 L987.5 1254.8 L988.0 1328.6 L988.5 1247.9 L989.0 1321.1 L989.5 1252.6 L990.0 1326.4 L990.5 1252.9 L991.0 1321.4 L991.5 1251.6 L992.0 1326.1 L992.5 1244.8 L993.0 1319.4 L993.5 1244.7 L994.0 1325.3 L994.5 1240.1 L995.0 1311.3 L995.5 1242.4 L996.0 1316.1 L996.5 1239.3 L997.0 1308.1 L997.5 1241.0 L997.7 1323.5 L997.7 1235.9 L998.0 1317.3 L998.5 1240.6 L999.0 1316.3 L999.5 1245.7 L1000.0 1307.3 L1000.5 1237.4 L1001.0 1322.5 L1001.5 1241.8 L1002.0 1323.6 L1002.5 1242.6 L1003.0 1319.8 L1003.5 1240.8 L1004.0 1321.9 L1004.5 1237.7 L1005.0 1304.0 L1005.5 1239.0 L1006.0 1322.6 L1006.5 1238.4 L1007.0 1316.1 L1007.5 1242.5 L1008.0 1318.7 L1008.5 1243.1 L1009.0 1314.4 L1009.5 1239.6 L1010.0 1313.0 L1010.5 1233.1 L1011.0 1322.2 L1011.5 1243.1 L1012.0 1313.0 L1012.5 1245.6 L1013.0 1306.2 L1013.5 1235.5 L1014.0 1317.3 L1014.5 1240.4 L1015.0 1332.2 L1015.5 1242.1 L1016.0 1333.7 L1016.0 1231.4 L1016.0 1331.5 L1016.5 1249.7 L1017.0 1312.6 L1017.5 1236.6 L1018.0 1319.3 L1018.5 1237.0 L1019.0 1319.7 L1019.5 1233.1 L1020.0 1333.3 L1020.5 1232.8 L1021.0 1315.4 L1021.5 1244.7 L1022.0 1312.5 L1022.5 1237.5 L1023.0 1332.6 L1023.5 1237.2 L1024.0 1313.4 L1024.5 1234.7 L1025.0 1334.1 L1025.5 1235.4 L1026.0 1314.6 L1026.5 1246.8 L1027.0 1319.8 L1027.5 1237.8 L1028.0 1322.2 L1028.5 1244.7 L1029.0 1322.5 L1029.5 1242.9 L1030.0 1324.2 L1030.5 1240.5 L1031.0 1316.0 L1031.5 1243.6 L1032.0 1318.0 L1032.3 1235.0 L1032.3 1343.9 L1032.5 1237.1 L1033.0 1328.1 L1033.5 1244.4 L1034.0 1337.2 L1034.5 1236.8 L1035.0 1330.0 L1035.5 1238.1 L1036.0 1323.1 L1036.5 1238.7 L1037.0 1331.5 L1037.5 1238.5 L1038.0 1325.1 L1038.5 1242.6 L1039.0 1332.7 L1039.5 1243.7 L1040.0 1333.7 L1040.5 1249.7 L1041.0 1326.6 L1041.5 1240.8 L1042.0 1315.2 L1042.5 1242.9 L1043.0 1316.9 L1043.5 1243.3 L1044.0 1338.4 L1044.5 1242.9 L1045.0 1327.6 L1045.5 1250.4 L1046.0 1328.8 L1046.5 1244.3 L1047.0 1320.3 L1047.5 1252.6 L1048.0 1337.4 L1048.5 1243.7 L1049.0 1318.7 L1049.5 1244.0 L1050.0 1310.9 L1050.5 1240.8 L1051.0 1313.3 L1051.5 1242.5 L1052.0 1312.9 L1052.5 1248.3 L1052.7 1341.1 L1052.7 1242.0 L1053.0 1322.6 L1053.5 1252.1 L1054.0 1322.0 L1054.5 1248.1 L1055.0 1328.5 L1055.5 1255.1 L1056.0 1321.5 L1056.5 1252.7 L1057.0 1320.8 L1057.5 1244.7 L1058.0 1327.4 L1058.5 1245.9 L1059.0 1322.2 L1059.5 1256.7 L1060.0 1325.5 L1060.5 1250.6 L1061.0 1329.1 L1061.5 1246.5 L1062.0 1343.9 L1062.5 1252.9 L1063.0 1343.5 L1063.5 1248.2 L1064.0 1333.7 L1064.5 1240.4 L1065.0 1336.0 L1065.5 1244.5 L1066.0 1332.4 L1066.5 1239.1 L1067.0 1342.4 L1067.5 1239.2 L1068.0 1328.2 L1068.5 1248.4 L1069.0 1334.2 L1069.5 1238.5 L1070.0 1336.3 L1070.5 1247.5 L1071.0 1333.4 L1071.5 1243.8 L1072.0 1322.9 L1072.5 1247.9 L1073.0 1335.7 L1073.5 1247.8 L1074.0 1344.6 L1074.5 1238.8 L1075.0 1340.6 L1075.5 1236.5 L1076.0 1322.2 L1076.5 1241.0 L1077.0 1327.9 L1077.5 1249.9 L1078.0 1334.6 L1078.5 1240.8 L1079.0 1342.0 L1079.5 1246.8 L1080.0 1327.2 L1080.5 1242.4 L1081.0 1331.6 L1081.5 1236.4 L1082.0 1345.9 L1082.5 1234.0 L1083.0 1317.5 L1083.3 1233.8 L1083.3 1352.0 L1083.5 1242.0 L1084.0 1329.6 L1084.5 1238.3 L1085.0 1334.0 L1085.5 1236.3 L1086.0 1334.3 L1086.5 1235.1 L1087.0 1349.2 L1087.5 1235.7 L1088.0 1332.5 L1088.5 1238.6 L1089.0 1329.6 L1089.5 1236.3 L1090.0 1341.1 L1090.5 1247.0 L1091.0 1325.2 L1091.5 1240.0 L1092.0 1329.2 L1092.5 1235.0 L1093.0 1321.1 L1093.5 1237.2 L1094.0 1346.8 L1094.5 1235.0 L1095.0 1330.9 L1095.5 1244.3 L1096.0 1322.4 L1096.5 1236.2 L1097.0 1331.9 L1097.5 1236.5 L1098.0 1344.7 L1098.5 1231.4 L1099.0 1331.9 L1099.5 1231.4 L1100.0 1324.7 L1100.5 1244.4 L1101.0 1338.7 L1101.5 1235.5 L1102.0 1319.3 L1102.5 1234.7 L1103.0 1342.9 L1103.5 1244.6 L1103.7 1348.2 L1103.7 1229.7 L1104.0 1339.8 L1104.5 1231.1 L1105.0 1328.1 L1105.5 1241.5 L1106.0 1321.7 L1106.5 1241.6 L1107.0 1325.0 L1107.5 1234.1 L1108.0 1327.4 L1108.5 1233.0 L1109.0 1317.5 L1109.5 1232.9 L1110.0 1315.1 L1110.5 1229.1 L1111.0 1343.6 L1111.5 1231.5 L1112.0 1343.5 L1112.5 1232.3 L1113.0 1338.8 L1113.5 1227.8 L1114.0 1333.2 L1114.5 1227.3 L1115.0 1329.4 L1115.5 1226.5 L1116.0 1330.6 L1116.5 1228.8 L1117.0 1314.1 L1117.5 1238.9 L1118.0 1333.2 L1118.5 1229.3 L1119.0 1336.5 L1119.5 1237.0 L1120.0 1319.0 L1120.5 1229.6 L1121.0 1336.2 L1121.5 1225.4 L1122.0 1314.8 L1122.5 1228.5 L1123.0 1335.5 L1123.5 1221.9 L1124.0 1309.1 L1124.1 1221.6 L1124.1 1344.4 L1124.5 1222.1 L1125.0 1328.3 L1125.5 1222.3 L1126.0 1315.9 L1126.5 1228.3 L1127.0 1322.2 L1127.5 1231.5 L1128.0 1326.9 L1128.5 1231.0 L1129.0 1321.7 L1129.5 1224.5 L1130.0 1318.4 L1130.5 1232.7 L1131.0 1307.7 L1131.5 1224.4 L1132.0 1326.8 L1132.5 1218.9 L1133.0 1309.0 L1133.5 1221.0 L1134.0 1308.9 L1134.5 1221.4 L1135.0 1322.8 L1135.5 1222.0 L1136.0 1311.3 L1136.5 1216.3 L1137.0 1306.3 L1137.5 1216.6 L1138.0 1323.0 L1138.5 1222.4 L1139.0 1319.4 L1139.5 1215.6 L1140.0 1322.7 L1140.5 1213.1 L1141.0 1328.6 L1141.5 1206.6 L1142.0 1306.4 L1142.5 1205.3 L1142.5 1332.4 L1142.5 1211.9 L1143.0 1320.6 L1143.5 1203.9 L1144.0 1326.3 L1144.5 1209.6 L1145.0 1315.3 L1145.5 1203.1 L1146.0 1292.4 L1146.5 1212.1 L1147.0 1310.0 L1147.5 1207.0 L1148.0 1295.8 L1148.5 1206.1 L1149.0 1320.8 L1149.5 1206.1 L1150.0 1311.0 L1150.5 1211.2 L1151.0 1322.7 L1151.5 1206.6 L1152.0 1309.3 L1152.5 1205.4 L1153.0 1311.8 L1153.5 1211.3 L1154.0 1307.6" stroke="#00ff00" stroke-width="1.0" fill="none" shape-rendering="crispEdges"/>
<path d="M268.0 1196.5 L268.5 1188.9 L269.0 1193.0 L269.5 1192.3 L270.0 1190.4 L270.5 1185.8 L271.0 1185.2 L271.5 1182.9 L272.0 1180.9 L272.5 1182.6 L273.0 1185.7 L273.5 1179.1 L274.0 1176.7 L274.5 1179.4 L275.0 1174.4 L275.5 1177.7 L276.0 1180.1 L276.5 1177.5 L277.0 1169.4 L277.5 1168.3 L278.0 1167.2 L278.5 1166.1 L279.0 1165.9 L279.5 1163.8 L280.0 1168.9 L280.5 1165.5 L281.0 1160.5 L281.5 1159.1 L282.0 1164.6 L282.5 1160.3 L283.0 1157.5 L283.5 1158.3 L284.0 1159.4 L284.5 1163.8 L285.0 1157.8 L285.5 1156.1 L286.0 1155.6 L286.5 1161.2 L287.0 1159.7 L287.5 1155.4 L288.0 1157.3 L288.5 1158.6 L289.0 1159.7 L289.5 1158.7 L290.0 1157.5 L290.5 1157.2 L291.0 1153.0 L291.5 1154.1 L292.0 1153.8 L292.5 1152.9 L293.0 1152.1 L293.5 1153.8 L294.0 1151.6 L294.5 1151.5 L295.0 1153.3 L295.5 1152.4 L296.0 1151.1 L296.5 1155.9 L297.0 1156.1 L297.5 1154.2 L298.0 1154.5 L298.5 1152.1 L299.0 1150.6 L299.5 1150.2 L300.0 1152.3 L300.5 1150.1 L301.0 1150.7 L301.5 1150.2 L302.0 1152.4 L302.5 1149.8 L303.0 1149.9 L303.5 1153.8 L304.0 1149.2 L304.5 1149.8 L305.0 1153.0 L305.5 1157.5 L306.0 1149.6 L306.5 1150.2 L307.0 1148.9 L307.5 1148.3 L308.0 1148.7 L308.5 1154.9 L309.0 1149.9 L309.5 1148.4 L310.0 1150.1 L310.5 1147.6 L311.0 1147.4 L311.5 1148.0 L312.0 1147.2 L312.5 1152.3 L313.0 1147.8 L313.5 1152.2 L314.0 1147.1 L314.5 1153.8 L315.0 1150.7 L315.5 1154.6 L316.0 1148.5 L316.5 1147.7 L317.0 1147.1 L317.5 1146.1 L318.0 1150.6 L318.5 1147.3 L319.0 1146.6 L319.5 1146.5 L320.0 1147.9 L320.5 1146.5 L321.0 1146.6 L321.5 1151.3 L322.0 1147.3 L322.5 1149.0 L323.0 1146.8 L323.5 1148.3 L324.0 1151.4 L324.5 1150.0 L325.0 1149.4 L325.5 1154.1 L326.0 1149.6 L326.5 1147.2 L327.0 1147.3 L327.5 1151.6 L328.0 1150.7 L328.5 1156.0 L329.0 1153.4 L329.5 1155.9 L330.0 1147.9 L330.5 1148.6 L331.0 1147.8 L331.5 1147.9 L332.0 1147.9 L332.5 1156.0 L333.0 1155.7 L333.5 1148.9 L334.0 1148.2 L334.5 1149.6 L335.0 1148.4 L335.5 1148.5 L336.0 1150.2 L336.5 1148.7 L337.0 1148.8 L337.5 1153.3 L338.0 1149.4 L338.5 1155.0 L339.0 1153.4 L339.5 1149.5 L340.0 1150.1 L340.5 1152.8 L341.0 1149.9 L341.5 1149.9 L342.0 1149.9 L342.5 1150.5 L343.0 1150.2 L343.5 1150.6 L344.0 1153.4 L344.5 1150.8 L345.0 1152.1 L345.5 1150.5 L346.0 1158.2 L346.5 1156.0 L347.0 1156.6 L347.5 1154.4 L348.0 1158.7 L348.5 1151.0 L349.0 1157.2 L349.5 1152.3 L350.0 1152.6 L350.5 1151.9 L351.0 1157.8 L351.5 1156.1 L352.0 1151.6 L352.5 1158.2 L353.0 1151.8 L353.5 1158.3 L354.0 1158.1 L354.5 1155.1 L355.0 1153.1 L355.5 1152.7 L356.0 1154.5 L356.5 1154.1 L357.0 1154.2 L357.5 1153.6 L358.0 1156.0 L358.5 1159.4 L359.0 1154.3 L359.5 1160.9 L360.0 1154.5 L360.5 1157.2 L361.0 1155.4 L361.5 1158.8 L362.0 1155.5 L362.5 1155.5 L363.0 1155.9 L363.5 1155.9 L364.0 1159.2 L364.5 1157.1 L365.0 1158.3 L365.5 1157.2 L366.0 1164.2 L366.5 1159.1 L367.0 1162.5 L367.5 1163.4 L368.0 1161.0 L368.5 1164.7 L369.0 1158.8 L369.5 1159.5 L370.0 1160.2 L370.5 1160.3 L371.0 1158.8 L371.5 1164.6 L372.0 1160.0 L372.5 1161.5 L373.0 1160.5 L373.5 1160.1 L374.0 1162.6 L374.5 1160.5 L375.0 1163.6 L375.5 1165.3 L376.0 1169.0 L376.5 1162.0 L377.0 1162.9 L377.5 1162.1 L378.0 1165.4 L378.5 1162.7 L379.0 1163.9 L379.5 1163.6 L380.0 1164.9 L380.5 1164.1 L381.0 1172.9 L381.5 1164.8 L382.0 1166.2 L382.5 1167.2 L383.0 1165.7 L383.5 1168.7 L384.0 1168.3 L384.5 1166.6 L385.0 1170.9 L385.5 1166.9 L386.0 1167.2 L386.5 1170.0 L387.0 1167.8 L387.5 1169.5 L388.0 1168.5 L388.5 1168.7 L389.0 1169.2 L389.5 1171.2 L390.0 1171.1 L390.5 1170.0 L391.0 1170.9 L391.5 1171.0 L392.0 1171.6 L392.5 1179.6 L393.0 1174.2 L393.5 1174.4 L394.0 1172.7 L394.5 1172.4 L395.0 1179.9 L395.5 1176.6 L396.0 1176.1 L396.5 1179.7 L397.0 1175.3 L397.5 1176.8 L398.0 1181.5 L398.5 1175.9 L399.0 1176.6 L399.5 1179.7 L400.0 1185.9 L400.5 1185.3 L401.0 1179.4 L401.5 1186.7 L402.0 1184.5 L402.5 1179.4 L403.0 1180.3 L403.5 1180.3 L404.0 1182.5 L404.5 1186.6 L405.0 1186.9 L405.5 1183.5 L406.0 1183.1 L406.5 1182.9 L407.0 1192.1 L407.5 1186.9 L408.0 1184.3 L408.5 1185.9 L409.0 1191.4 L409.5 1186.1 L410.0 1189.3 L410.5 1189.2 L411.0 1193.0 L411.5 1191.3 L412.0 1193.4 L412.5 1187.1 L413.0 1191.0 L413.5 1187.3 L414.0 1190.1 L414.5 1192.4 L415.0 1191.0 L415.5 1192.9 L416.0 1189.3 L416.5 1187.7 L417.0 1187.8 L417.5 1196.2 L418.0 1188.7 L418.5 1191.9 L419.0 1191.6 L419.5 1188.4 L420.0 1189.4 L420.5 1191.3 L421.0 1189.3 L421.5 1189.2 L422.0 1189.2 L422.5 1195.3 L423.0 1190.8 L423.5 1190.8 L424.0 1193.2 L424.5 1189.6 L425.0 1189.8 L425.5 1195.5 L426.0 1190.5 L426.5 1190.7 L427.0 1195.4 L427.5 1190.6 L428.0 1190.5 L428.5 1192.0 L429.0 1194.8 L429.5 1192.3 L430.0 1192.7 L430.5 1196.7 L431.0 1194.1 L431.5 1193.6 L432.0 1192.8 L432.5 1196.0 L433.0 1195.7 L433.5 1193.5 L434.0 1197.7 L434.5 1200.5 L435.0 1197.6 L435.5 1199.0 L436.0 1194.4 L436.5 1197.0 L437.0 1196.3 L437.5 1200.1 L438.0 1197.2 L438.5 1195.9 L439.0 1196.3 L439.5 1197.7 L440.0 1201.6 L440.5 1197.2 L441.0 1197.5 L441.5 1200.1 L442.0 1198.2 L442.5 1198.6 L443.0 1202.8 L443.5 1201.0 L444.0 1199.1 L444.5 1204.2 L445.0 1199.6 L445.5 1207.0 L446.0 1202.1 L446.5 1200.5 L447.0 1209.4 L447.5 1203.9 L448.0 1206.1 L448.5 1202.2 L449.0 1204.0 L449.5 1205.9 L450.0 1204.6 L450.5 1202.8 L451.0 1204.6 L451.5 1203.4 L452.0 1209.3 L452.5 1209.6 L453.0 1203.9 L453.5 1204.2 L454.0 1205.2 L454.5 1204.9 L455.0 1208.3 L455.5 1205.4 L456.0 1205.3 L456.5 1205.3 L457.0 1211.6 L457.5 1206.4 L458.0 1206.0 L458.5 1206.6 L459.0 1212.9 L459.5 1206.6 L460.0 1212.7 L460.5 1207.2 L461.0 1207.3 L461.5 1207.6 L462.0 1216.2 L462.5 1210.7 L463.0 1208.0 L463.5 1213.2 L464.0 1210.5 L464.5 1209.3 L465.0 1215.6 L465.5 1215.8 L466.0 1209.7 L466.5 1210.3 L467.0 1210.0 L467.5 1217.1 L468.0 1210.7 L468.5 1210.3 L469.0 1211.5 L469.5 1211.5 L470.0 1213.5 L470.5 1217.5 L471.0 1211.4 L471.5 1217.1 L472.0 1217.4 L472.5 1218.3 L473.0 1212.7 L473.5 1212.5 L474.0 1218.3 L474.5 1212.9 L475.0 1213.7 L475.5 1212.8 L476.0 1218.9 L476.5 1218.3 L477.0 1213.5 L477.5 1217.7 L478.0 1209.9 L478.5 1208.7 L479.0 1214.0 L479.5 1208.8 L480.0 1206.5 L480.5 1209.6 L481.0 1209.4 L481.5 1211.0 L482.0 1203.8 L482.5 1211.8 L483.0 1208.1 L483.5 1202.5 L484.0 1206.8 L484.5 1200.6 L485.0 1202.3 L485.5 1199.3 L486.0 1198.6 L486.5 1200.7 L487.0 1203.5 L487.5 1202.8 L488.0 1196.2 L488.5 1196.9 L489.0 1194.7 L489.5 1194.0 L490.0 1198.0 L490.5 1194.7 L491.0 1192.0 L491.5 1191.6 L492.0 1191.0 L492.5 1195.6 L493.0 1190.2 L493.5 1190.1 L494.0 1191.4 L494.5 1189.9 L495.0 1189.1 L495.5 1188.8 L496.0 1193.1 L496.5 1187.4 L497.0 1187.2 L497.5 1185.8 L498.0 1186.2 L498.5 1184.9 L499.0 1187.2 L499.5 1187.1 L500.0 1183.4 L500.5 1191.7 L501.0 1187.1 L501.5 1182.5 L502.0 1182.0 L502.5 1187.6 L503.0 1180.6 L503.5 1187.9 L504.0 1181.2 L504.5 1187.6 L505.0 1180.4 L505.5 1186.9 L506.0 1178.4 L506.5 1180.3 L507.0 1181.2 L507.5 1176.6 L508.0 1183.8 L508.5 1175.4 L509.0 1182.0 L509.5 1174.4 L510.0 1174.9 L510.5 1177.4 L511.0 1173.0 L511.5 1175.0 L512.0 1173.2 L512.5 1178.2 L513.0 1172.0 L513.5 1172.4 L514.0 1171.0 L514.5 1171.0 L515.0 1172.7 L515.5 1171.5 L516.0 1175.8 L516.5 1174.4 L517.0 1170.0 L517.5 1175.1 L518.0 1173.0 L518.5 1176.7 L519.0 1176.1 L519.5 1167.9 L520.0 1171.8 L520.5 1174.6 L521.0 1169.0 L521.5 1166.4 L522.0 1166.5 L522.5 1166.2 L523.0 1171.1 L523.5 1172.5 L524.0 1164.9 L524.5 1164.8 L525.0 1164.2 L525.5 1164.0 L526.0 1169.5 L526.5 1165.7 L527.0 1167.4 L527.5 1163.0 L528.0 1165.1 L528.5 1170.2 L529.0 1161.8 L529.5 1161.5 L530.0 1161.4 L530.5 1165.4 L531.0 1161.2 L531.5 1160.3 L532.0 1161.7 L532.5 1168.1 L533.0 1166.5 L533.5 1164.6 L534.0 1161.4 L534.5 1162.0 L535.0 1165.7 L535.5 1167.6 L536.0 1161.3 L536.5 1165.3 L537.0 1165.8 L537.5 1162.0 L538.0 1161.5 L538.5 1163.0 L539.0 1164.0 L539.5 1163.3 L540.0 1162.1 L540.5 1163.3 L541.0 1166.2 L541.5 1166.8 L542.0 1163.8 L542.5 1163.0 L543.0 1164.8 L543.5 1162.9 L544.0 1164.0 L544.5 1166.7 L545.0 1163.4 L545.5 1166.5 L546.0 1163.5 L546.5 1163.8 L547.0 1169.3 L547.5 1168.8 L548.0 1169.2 L548.5 1166.1 L549.0 1168.2 L549.5 1164.4 L550.0 1164.9 L550.5 1167.8 L551.0 1168.3 L551.5 1165.5 L552.0 1166.1 L552.5 1168.6 L553.0 1167.2 L553.5 1171.4 L554.0 1167.8 L554.5 1167.7 L555.0 1169.2 L555.5 1174.0 L556.0 1170.0 L556.5 1170.3 L557.0 1173.5 L557.5 1172.1 L558.0 1171.6 L558.5 1174.5 L559.0 1175.7 L559.5 1174.1 L560.0 1182.7 L560.5 1174.3 L561.0 1174.9 L561.5 1176.9 L562.0 1176.0 L562.5 1176.6 L563.0 1184.7 L563.5 1179.3 L564.0 1183.0 L564.5 1178.8 L565.0 1180.5 L565.5 1180.7 L566.0 1180.6 L566.5 1186.5 L567.0 1181.5 L567.5 1182.0 L568.0 1186.7 L568.5 1186.2 L569.0 1184.2 L569.5 1184.2 L570.0 1190.5 L570.5 1193.3 L571.0 1189.5 L571.5 1186.6 L572.0 1186.9 L572.5 1190.5 L573.0 1188.8 L573.5 1190.3 L574.0 1190.3 L574.5 1197.9 L575.0 1196.7 L575.5 1192.6 L576.0 1199.4 L576.5 1194.6 L577.0 1197.1 L577.5 1196.3 L578.0 1203.2 L578.5 1200.2 L579.0 1199.2 L579.5 1201.0 L580.0 1204.4 L580.5 1205.6 L581.0 1203.0 L581.5 1210.9 L582.0 1205.6 L582.5 1205.9 L583.0 1206.5 L583.5 1207.8 L584.0 1209.4 L584.5 1210.5 L585.0 1210.3 L585.5 1215.5 L586.0 1213.3 L586.5 1213.2 L587.0 1222.1 L587.5 1221.1 L588.0 1216.3 L588.5 1218.9 L589.0 1217.6 L589.5 1222.8 L590.0 1219.5 L590.5 1225.1 L591.0 1221.4 L591.5 1222.3 L592.0 1223.7 L592.5 1228.0 L593.0 1228.8 L593.5 1229.4 L594.0 1227.4 L594.5 1228.4 L595.0 1231.2 L595.5 1229.9 L596.0 1235.2 L596.5 1233.2 L597.0 1232.9 L597.5 1233.9 L598.0 1239.3 L598.5 1236.5 L599.0 1241.3 L599.5 1238.6 L600.0 1238.6 L600.5 1239.6 L601.0 1241.9 L601.5 1242.7 L602.0 1242.7 L602.5 1248.8 L603.0 1244.5 L603.5 1245.5 L604.0 1250.7 L604.5 1247.7 L605.0 1255.5 L605.5 1250.0 L606.0 1257.4 L606.5 1251.4 L607.0 1253.9 L607.5 1259.3 L608.0 1254.1 L608.5 1259.9 L609.0 1256.5 L609.5 1259.4 L610.0 1264.2 L610.5 1265.6 L611.0 1259.0 L611.5 1259.2 L612.0 1259.5 L612.5 1260.5 L613.0 1260.7 L613.5 1261.0 L614.0 1267.5 L614.5 1261.5 L615.0 1263.5 L615.5 1262.6 L616.0 1264.7 L616.5 1263.3 L617.0 1268.9 L617.5 1265.4 L618.0 1268.7 L618.5 1267.2 L619.0 1269.4 L619.5 1267.0 L620.0 1266.5 L620.5 1269.5 L621.0 1267.2 L621.5 1266.9 L622.0 1267.3 L622.5 1268.1 L623.0 1274.2 L623.5 1275.2 L624.0 1269.2 L624.5 1273.6 L625.0 1270.1 L625.5 1270.0 L626.0 1273.0 L626.5 1277.3 L627.0 1271.3 L627.5 1274.8 L628.0 1276.8 L628.5 1272.2 L629.0 1275.8 L629.5 1273.0 L630.0 1273.9 L630.5 1276.4 L631.0 1274.6 L631.5 1274.7 L632.0 1276.3 L632.5 1275.6 L633.0 1275.8 L633.5 1276.7 L634.0 1285.4 L634.5 1276.8 L635.0 1285.6 L635.5 1277.6 L636.0 1278.6 L636.5 1278.3 L637.0 1279.8 L637.5 1284.1 L638.0 1281.8 L638.5 1284.8 L639.0 1285.6 L639.5 1281.8 L640.0 1288.6 L640.5 1281.4 L641.0 1281.2 L641.5 1287.0 L642.0 1285.5 L642.5 1281.5 L643.0 1281.8 L643.5 1286.0 L644.0 1285.5 L644.5 1289.9 L645.0 1290.1 L645.5 1288.4 L646.0 1282.2 L646.5 1282.3 L647.0 1282.9 L647.5 1284.3 L648.0 1287.3 L648.5 1283.3 L649.0 1285.9 L649.5 1290.2 L650.0 1287.7 L650.5 1283.0 L651.0 1285.0 L651.5 1284.1 L652.0 1282.8 L652.5 1282.6 L653.0 1282.7 L653.5 1286.4 L654.0 1283.0 L654.5 1282.6 L655.0 1282.0 L655.5 1282.9 L656.0 1281.7 L656.5 1288.8 L657.0 1281.5 L657.5 1285.0 L658.0 1282.3 L658.5 1288.4 L659.0 1285.8 L659.5 1282.7 L660.0 1286.7 L660.5 1286.4 L661.0 1280.5 L661.5 1285.1 L662.0 1280.2 L662.5 1280.3 L663.0 1280.4 L663.5 1280.3 L664.0 1282.2 L664.5 1280.5 L665.0 1279.5 L665.5 1279.4 L666.0 1281.1 L666.5 1279.2 L667.0 1279.4 L667.5 1286.0 L668.0 1281.6 L668.5 1287.3 L669.0 1280.3 L669.5 1278.8 L670.0 1279.0 L670.5 1279.0 L671.0 1284.8 L671.5 1278.4 L672.0 1283.1 L672.5 1277.9 L673.0 1280.6 L673.5 1279.7 L674.0 1283.1 L674.5 1281.2 L675.0 1278.8 L675.5 1279.4 L676.0 1283.2 L676.5 1283.6 L677.0 1281.3 L677.5 1284.7 L678.0 1284.0 L678.5 1282.8 L679.0 1279.0 L679.5 1279.1 L680.0 1285.6 L680.5 1279.9 L681.0 1283.4 L681.5 1285.9 L682.0 1280.9 L682.5 1281.2 L683.0 1281.3 L683.5 1281.7 L684.0 1282.0 L684.5 1282.6 L685.0 1289.2 L685.5 1282.7 L686.0 1290.9 L686.5 1283.4 L687.0 1283.6 L687.5 1284.0 L688.0 1284.4 L688.5 1286.1 L689.0 1284.8 L689.5 1285.1 L690.0 1287.5 L690.5 1294.4 L691.0 1286.3 L691.5 1288.6 L692.0 1287.0 L692.5 1290.0 L693.0 1292.4 L693.5 1288.2 L694.0 1288.4 L694.5 1297.7 L695.0 1289.2 L695.5 1291.7 L696.0 1290.0 L696.5 1290.4 L697.0 1297.1 L697.5 1292.2 L698.0 1293.1 L698.5 1292.8 L699.0 1294.9 L699.5 1293.4 L700.0 1294.8 L700.5 1300.1 L701.0 1294.0 L701.5 1298.8 L702.0 1303.7 L702.5 1303.0 L703.0 1301.0 L703.5 1298.7 L704.0 1298.1 L704.5 1297.4 L705.0 1297.3 L705.5 1303.9 L706.0 1299.1 L706.5 1302.9 L707.0 1299.9 L707.5 1299.8 L708.0 1304.7 L708.5 1305.3 L709.0 1304.4 L709.5 1301.5 L710.0 1301.5 L710.5 1303.8 L711.0 1309.8 L711.5 1307.2 L712.0 1309.1 L712.5 1310.0 L713.0 1302.1 L713.5 1304.2 L714.0 1302.6 L714.5 1305.5 L715.0 1302.0 L715.5 1308.4 L716.0 1303.6 L716.5 1302.3 L717.0 1309.4 L717.5 1302.9 L718.0 1305.8 L718.5 1302.0 L719.0 1302.4 L719.5 1302.0 L720.0 1305.3 L720.5 1302.5 L721.0 1302.2 L721.5 1303.2 L722.0 1309.8 L722.5 1309.4 L723.0 1306.0 L723.5 1302.0 L724.0 1302.0 L724.5 1303.8 L725.0 1302.0 L725.5 1302.0 L726.0 1302.0 L726.5 1308.2 L727.0 1302.0 L727.5 1309.2 L728.0 1310.7 L728.5 1302.0 L729.0 1302.9 L729.5 1302.1 L730.0 1302.6 L730.5 1302.4 L731.0 1302.1 L731.5 1303.0 L732.0 1301.6 L732.5 1301.0 L733.0 1308.8 L733.5 1301.4 L734.0 1300.4 L734.5 1306.3 L735.0 1299.5 L735.5 1306.3 L736.0 1299.0 L736.5 1302.7 L737.0 1299.1 L737.5 1297.7 L738.0 1303.7 L738.5 1299.5 L739.0 1298.1 L739.5 1298.7 L740.0 1296.4 L740.5 1295.9 L741.0 1296.2 L741.5 1299.0 L742.0 1294.7 L742.5 1294.4 L743.0 1294.0 L743.5 1293.7 L744.0 1294.2 L744.5 1294.2 L745.0 1296.3 L745.5 1294.3 L746.0 1292.5 L746.5 1292.3 L747.0 1295.4 L747.5 1295.3 L748.0 1290.7 L748.5 1295.6 L749.0 1290.3 L749.5 1290.6 L750.0 1294.3 L750.5 1290.1 L751.0 1288.9 L751.5 1293.5 L752.0 1288.5 L752.5 1288.2 L753.0 1288.7 L753.5 1287.6 L754.0 1291.0 L754.5 1292.0 L755.0 1290.5 L755.5 1290.1 L756.0 1287.1 L756.5 1286.7 L757.0 1286.6 L757.5 1289.1 L758.0 1288.6 L758.5 1286.1 L759.0 1285.9 L759.5 1285.8 L760.0 1287.5 L760.5 1285.5 L761.0 1285.4 L761.5 1285.8 L762.0 1285.0 L762.5 1284.9 L763.0 1293.1 L763.5 1284.6 L764.0 1284.7 L764.5 1286.5 L765.0 1289.1 L765.5 1288.1 L766.0 1286.4 L766.5 1291.1 L767.0 1286.1 L767.5 1283.8 L768.0 1284.4 L768.5 1291.8 L769.0 1283.5 L769.5 1285.1 L770.0 1290.3 L770.5 1283.6 L771.0 1283.1 L771.5 1285.0 L772.0 1282.7 L772.5 1282.0 L773.0 1282.5 L773.5 1281.7 L774.0 1281.7 L774.5 1286.9 L775.0 1287.4 L775.5 1282.7 L776.0 1281.4 L776.5 1287.0 L777.0 1282.8 L777.5 1285.6 L778.0 1289.8 L778.5 1280.9 L779.0 1288.0 L779.5 1281.4 L780.0 1280.9 L780.5 1287.9 L781.0 1280.4 L781.5 1288.5 L782.0 1280.5 L782.5 1280.2 L783.0 1280.9 L783.5 1284.3 L784.0 1279.9 L784.5 1279.8 L785.0 1282.9 L785.5 1286.4 L786.0 1287.3 L786.5 1281.1 L787.0 1279.4 L787.5 1280.9 L788.0 1285.1 L788.5 1279.1 L789.0 1279.0 L789.5 1280.6 L790.0 1283.3 L790.5 1278.8 L791.0 1282.8 L791.5 1280.3 L792.0 1284.8 L792.5 1279.6 L793.0 1283.1 L793.5 1278.5 L794.0 1282.7 L794.5 1278.1 L795.0 1283.0 L795.5 1277.9 L796.0 1281.6 L796.5 1278.5 L797.0 1278.6 L797.5 1280.4 L798.0 1277.5 L798.5 1277.5 L799.0 1277.3 L799.5 1277.8 L800.0 1277.1 L800.5 1279.1 L801.0 1277.4 L801.5 1277.3 L802.0 1283.3 L802.5 1280.5 L803.0 1282.5 L803.5 1277.5 L804.0 1276.8 L804.5 1276.3 L805.0 1285.1 L805.5 1278.3 L806.0 1276.2 L806.5 1277.9 L807.0 1276.7 L807.5 1278.8 L808.0 1280.3 L808.5 1280.6 L809.0 1282.2 L809.5 1277.7 L810.0 1283.1 L810.5 1283.0 L811.0 1276.7 L811.5 1279.2 L812.0 1282.6 L812.5 1276.8 L813.0 1274.9 L813.5 1274.8 L814.0 1274.7 L814.5 1279.3 L815.0 1278.9 L815.5 1276.1 L816.0 1275.3 L816.5 1274.9 L817.0 1274.3 L817.5 1274.5 L818.0 1274.6 L818.5 1275.8 L819.0 1278.4 L819.5 1276.6 L820.0 1273.9 L820.5 1278.3 L821.0 1274.0 L821.5 1275.0 L822.0 1273.9 L822.5 1281.1 L823.0 1273.9 L823.5 1276.6 L824.0 1281.5 L824.5 1273.7 L825.0 1273.1 L825.5 1274.3 L826.0 1281.7 L826.5 1278.7 L827.0 1279.5 L827.5 1274.9 L828.0 1272.9 L828.5 1273.3 L829.0 1274.3 L829.5 1272.4 L830.0 1273.3 L830.5 1274.9 L831.0 1272.2 L831.5 1273.0 L832.0 1272.8 L832.5 1272.3 L833.0 1272.7 L833.5 1273.4 L834.0 1272.2 L834.5 1273.0 L835.0 1272.5 L835.5 1271.6 L836.0 1273.6 L836.5 1272.0 L837.0 1276.3 L837.5 1271.3 L838.0 1271.7 L838.5 1271.4 L839.0 1271.6 L839.5 1271.0 L840.0 1273.6 L840.5 1270.8 L841.0 1270.8 L841.5 1270.9 L842.0 1270.6 L842.5 1271.1 L843.0 1277.7 L843.5 1276.2 L844.0 1278.5 L844.5 1273.3 L845.0 1271.1 L845.5 1270.5 L846.0 1277.0 L846.5 1271.8 L847.0 1271.0 L847.5 1270.0 L848.0 1276.1 L848.5 1278.3 L849.0 1270.8 L849.5 1269.9 L850.0 1276.0 L850.5 1269.4 L851.0 1269.6 L851.5 1274.5 L852.0 1269.2 L852.5 1271.3 L853.0 1269.0 L853.5 1270.3 L854.0 1268.8 L854.5 1268.7 L855.0 1271.9 L855.5 1269.9 L856.0 1268.9 L856.5 1268.2 L857.0 1268.2 L857.5 1268.8 L858.0 1269.9 L858.5 1271.3 L859.0 1273.1 L859.5 1268.3 L860.0 1268.9 L860.5 1267.7 L861.0 1267.1 L861.5 1267.4 L862.0 1271.8 L862.5 1268.6 L863.0 1274.7 L863.5 1272.6 L864.0 1266.9 L864.5 1270.8 L865.0 1266.2 L865.5 1271.6 L866.0 1266.4 L866.5 1273.2 L867.0 1266.7 L867.5 1272.4 L868.0 1265.7 L868.5 1266.7 L869.0 1268.2 L869.5 1267.8 L870.0 1266.0 L870.5 1265.2 L871.0 1265.1 L871.5 1267.5 L872.0 1268.1 L872.5 1268.1 L873.0 1269.5 L873.5 1273.2 L874.0 1269.2 L874.5 1272.3 L875.0 1268.1 L875.5 1266.2 L876.0 1270.5 L876.5 1265.7 L877.0 1265.8 L877.5 1270.9 L878.0 1267.6 L878.5 1266.1 L879.0 1270.9 L879.5 1267.4 L880.0 1266.5 L880.5 1267.0 L881.0 1270.9 L881.5 1266.0 L882.0 1266.0 L882.5 1268.3 L883.0 1266.1 L883.5 1266.4 L884.0 1272.9 L884.5 1267.7 L885.0 1266.4 L885.5 1269.3 L886.0 1266.9 L886.5 1266.4 L887.0 1266.8 L887.5 1269.6 L888.0 1272.6 L888.5 1267.1 L889.0 1267.9 L889.5 1266.6 L890.0 1266.7 L890.5 1268.1 L891.0 1269.6 L891.5 1266.8 L892.0 1266.8 L892.5 1273.5 L893.0 1267.0 L893.5 1272.3 L894.0 1270.3 L894.5 1271.8 L895.0 1266.5 L895.5 1271.0 L896.0 1266.4 L896.5 1267.7 L897.0 1266.3 L897.5 1270.8 L898.0 1273.5 L898.5 1264.9 L899.0 1271.8 L899.5 1267.0 L900.0 1264.2 L900.5 1264.2 L901.0 1267.1 L901.5 1263.8 L902.0 1264.3 L902.5 1263.0 L903.0 1262.7 L903.5 1263.6 L904.0 1263.4 L904.5 1266.2 L905.0 1269.7 L905.5 1261.6 L906.0 1265.7 L906.5 1261.9 L907.0 1266.0 L907.5 1261.5 L908.0 1267.0 L908.5 1262.3 L909.0 1264.4 L909.5 1261.4 L910.0 1266.0 L910.5 1261.0 L911.0 1258.9 L911.5 1258.7 L912.0 1258.6 L912.5 1258.2 L913.0 1259.3 L913.5 1259.1 L914.0 1257.9 L914.5 1257.3 L915.0 1257.1 L915.5 1264.7 L916.0 1257.6 L916.5 1258.1 L917.0 1263.6 L917.5 1260.6 L918.0 1261.5 L918.5 1256.7 L919.0 1260.6 L919.5 1258.5 L920.0 1263.5 L920.5 1256.5 L921.0 1259.0 L921.5 1256.4 L922.0 1257.2 L922.5 1256.9 L923.0 1256.6 L923.5 1261.8 L924.0 1256.1 L924.5 1258.1 L925.0 1257.6 L925.5 1256.6 L926.0 1256.1 L926.5 1259.9 L927.0 1255.9 L927.5 1255.8 L928.0 1264.5 L928.5 1261.1 L929.0 1255.7 L929.5 1256.2 L930.0 1257.4 L930.5 1259.3 L931.0 1256.8 L931.5 1263.2 L932.0 1259.7 L932.5 1255.4 L933.0 1263.0 L933.5 1257.1 L934.0 1255.8 L934.5 1256.0 L935.0 1257.4 L935.5 1255.5 L936.0 1255.0 L936.5 1257.3 L937.0 1260.4 L937.5 1255.1 L938.0 1256.7 L938.5 1262.9 L939.0 1259.0 L939.5 1260.7 L940.0 1261.5 L940.5 1258.2 L941.0 1255.4 L941.5 1256.8 L942.0 1259.6 L942.5 1261.1 L943.0 1259.3 L943.5 1257.0 L944.0 1258.2 L944.5 1256.9 L945.0 1258.4 L945.5 1262.0 L946.0 1260.2 L946.5 1259.6 L947.0 1259.4 L947.5 1260.0 L948.0 1256.3 L948.5 1257.2 L949.0 1258.2 L949.5 1259.9 L950.0 1255.7 L950.5 1263.1 L951.0 1255.3 L951.5 1255.0 L952.0 1255.3 L952.5 1255.2 L953.0 1259.5 L953.5 1256.2 L954.0 1258.7 L954.5 1258.2 L955.0 1255.2 L955.5 1255.4 L956.0 1255.0 L956.5 1255.0 L957.0 1255.9 L957.5 1255.5 L958.0 1258.5 L958.5 1262.0 L959.0 1255.2 L959.5 1259.5 L960.0 1255.0 L960.5 1255.2 L961.0 1255.1 L961.5 1257.1 L962.0 1255.2 L962.5 1255.3 L963.0 1258.5 L963.5 1255.3 L964.0 1257.8 L964.5 1255.4 L965.0 1255.4 L965.5 1260.2 L966.0 1255.5 L966.5 1256.9 L967.0 1258.7 L967.5 1256.2 L968.0 1255.7 L968.5 1257.8 L969.0 1256.4 L969.5 1255.9 L970.0 1255.9 L970.5 1256.0 L971.0 1256.0 L971.5 1256.1 L972.0 1256.2 L972.5 1260.0 L973.0 1264.2 L973.5 1257.6 L974.0 1257.5 L974.5 1262.6 L975.0 1256.9 L975.5 1256.7 L976.0 1264.3 L976.5 1262.9 L977.0 1265.2 L977.5 1258.5 L978.0 1257.8 L978.5 1256.8 L979.0 1257.3 L979.5 1257.2 L980.0 1257.3 L980.5 1259.3 L981.0 1259.8 L981.5 1260.6 L982.0 1257.1 L982.5 1257.1 L983.0 1262.1 L983.5 1257.8 L984.0 1257.1 L984.5 1260.3 L985.0 1259.7 L985.5 1260.5 L986.0 1256.6 L986.5 1256.5 L987.0 1259.8 L987.5 1263.0 L988.0 1258.1 L988.5 1261.8 L989.0 1257.3 L989.5 1257.7 L990.0 1258.1 L990.5 1259.4 L991.0 1256.9 L991.5 1257.2 L992.0 1257.6 L992.5 1256.8 L993.0 1256.7 L993.5 1258.4 L994.0 1257.8 L994.5 1257.7 L995.0 1261.2 L995.5 1256.6 L996.0 1255.2 L996.5 1257.2 L997.0 1256.8 L997.5 1255.1 L998.0 1255.2 L998.5 1259.0 L999.0 1256.3 L999.5 1255.7 L1000.0 1259.3 L1000.5 1255.5 L1001.0 1255.6 L1001.5 1255.7 L1002.0 1258.4 L1002.5 1256.4 L1003.0 1261.7 L1003.5 1256.0 L1004.0 1256.0 L1004.5 1262.8 L1005.0 1256.4 L1005.5 1258.1 L1006.0 1256.6 L1006.5 1259.0 L1007.0 1259.7 L1007.5 1257.7 L1008.0 1257.0 L1008.5 1258.2 L1009.0 1261.6 L1009.5 1256.9 L1010.0 1264.8 L1010.0 1283.1 L1009.5 1283.0 L1009.0 1283.0 L1008.5 1282.9 L1008.0 1282.9 L1007.5 1282.8 L1007.0 1282.7 L1006.5 1282.7 L1006.0 1282.6 L1005.5 1282.6 L1005.0 1282.5 L1004.5 1282.5 L1004.0 1282.4 L1003.5 1282.3 L1003.0 1282.3 L1002.5 1282.2 L1002.0 1282.2 L1001.5 1282.1 L1001.0 1282.1 L1000.5 1282.0 L1000.0 1282.0 L999.5 1281.9 L999.0 1281.8 L998.5 1281.8 L998.0 1281.7 L997.5 1281.9 L997.0 1282.5 L996.5 1283.1 L996.0 1283.7 L995.5 1284.3 L995.0 1284.9 L994.5 1285.5 L994.0 1286.1 L993.5 1286.7 L993.0 1287.3 L992.5 1287.9 L992.0 1288.5 L991.5 1289.1 L991.0 1289.7 L990.5 1290.3 L990.0 1290.9 L989.5 1291.5 L989.0 1292.1 L988.5 1292.6 L988.0 1293.2 L987.5 1293.8 L987.0 1294.4 L986.5 1295.0 L986.0 1295.6 L985.5 1296.2 L985.0 1296.8 L984.5 1297.4 L984.0 1298.0 L983.5 1298.6 L983.0 1299.2 L982.5 1299.8 L982.0 1300.4 L981.5 1301.0 L981.0 1301.2 L980.5 1301.3 L980.0 1301.4 L979.5 1301.5 L979.0 1301.6 L978.5 1301.7 L978.0 1301.8 L977.5 1301.9 L977.0 1302.0 L976.5 1302.1 L976.0 1302.2 L975.5 1302.3 L975.0 1302.4 L974.5 1302.5 L974.0 1302.6 L973.5 1302.7 L973.0 1302.8 L972.5 1302.9 L972.0 1303.0 L971.5 1303.1 L971.0 1303.2 L970.5 1303.3 L970.0 1303.4 L969.5 1303.5 L969.0 1303.6 L968.5 1303.7 L968.0 1303.8 L967.5 1303.9 L967.0 1304.0 L966.5 1304.1 L966.0 1304.2 L965.5 1304.3 L965.0 1304.4 L964.5 1304.5 L964.0 1304.6 L963.5 1304.7 L963.0 1304.8 L962.5 1304.9 L962.0 1305.0 L961.5 1305.1 L961.0 1305.2 L960.5 1305.4 L960.0 1305.7 L959.5 1306.0 L959.0 1306.2 L958.5 1306.5 L958.0 1306.8 L957.5 1307.1 L957.0 1307.3 L956.5 1307.6 L956.0 1307.9 L955.5 1308.1 L955.0 1308.4 L954.5 1308.7 L954.0 1308.9 L953.5 1309.2 L953.0 1309.5 L952.5 1309.8 L952.0 1310.0 L951.5 1310.3 L951.0 1310.6 L950.5 1310.8 L950.0 1311.1 L949.5 1311.4 L949.0 1311.7 L948.5 1311.9 L948.0 1312.2 L947.5 1312.5 L947.0 1312.8 L946.5 1313.0 L946.0 1313.3 L945.5 1313.6 L945.0 1313.8 L944.5 1314.1 L944.0 1314.4 L943.5 1314.7 L943.0 1314.9 L942.5 1315.2 L942.0 1315.5 L941.5 1315.7 L941.0 1316.0 L940.5 1316.3 L940.0 1316.5 L939.5 1316.8 L939.0 1317.1 L938.5 1317.4 L938.0 1317.6 L937.5 1317.9 L937.0 1318.2 L936.5 1318.5 L936.0 1318.7 L935.5 1319.0 L935.0 1319.3 L934.5 1319.6 L934.0 1319.9 L933.5 1320.1 L933.0 1320.4 L932.5 1320.7 L932.0 1321.0 L931.5 1321.3 L931.0 1321.5 L930.5 1321.8 L930.0 1322.1 L929.5 1322.4 L929.0 1322.7 L928.5 1322.9 L928.0 1323.2 L927.5 1323.5 L927.0 1323.8 L926.5 1324.1 L926.0 1324.3 L925.5 1324.6 L925.0 1324.9 L924.5 1325.2 L924.0 1325.5 L923.5 1325.7 L923.0 1326.0 L922.5 1326.3 L922.0 1326.6 L921.5 1326.9 L921.0 1327.2 L920.5 1327.4 L920.0 1327.6 L919.5 1327.6 L919.0 1327.6 L918.5 1327.6 L918.0 1327.6 L917.5 1327.6 L917.0 1327.6 L916.5 1327.6 L916.0 1327.6 L915.5 1327.6 L915.0 1327.6 L914.5 1327.8 L914.0 1328.0 L913.5 1328.2 L913.0 1328.4 L912.5 1328.6 L912.0 1328.8 L911.5 1329.0 L911.0 1329.2 L910.5 1329.4 L910.0 1329.6 L909.5 1329.8 L909.0 1330.0 L908.5 1330.2 L908.0 1330.4 L907.5 1330.6 L907.0 1330.8 L906.5 1331.0 L906.0 1331.2 L905.5 1331.4 L905.0 1331.6 L904.5 1331.8 L904.0 1332.0 L903.5 1332.2 L903.0 1332.4 L902.5 1332.6 L902.0 1332.8 L901.5 1333.0 L901.0 1333.2 L900.5 1333.4 L900.0 1333.6 L899.5 1333.8 L899.0 1334.0 L898.5 1334.2 L898.0 1334.4 L897.5 1334.6 L897.0 1334.8 L896.5 1335.0 L896.0 1335.2 L895.5 1335.4 L895.0 1335.6 L894.5 1335.8 L894.0 1335.8 L893.5 1335.8 L893.0 1335.8 L892.5 1335.8 L892.0 1335.9 L891.5 1335.9 L891.0 1335.9 L890.5 1335.9 L890.0 1335.9 L889.5 1336.0 L889.0 1336.0 L888.5 1336.0 L888.0 1336.0 L887.5 1336.0 L887.0 1336.1 L886.5 1336.1 L886.0 1336.1 L885.5 1336.1 L885.0 1336.1 L884.5 1336.2 L884.0 1336.2 L883.5 1336.2 L883.0 1336.2 L882.5 1336.2 L882.0 1336.3 L881.5 1336.3 L881.0 1336.3 L880.5 1336.3 L880.0 1336.3 L879.5 1336.4 L879.0 1336.4 L878.5 1336.4 L878.0 1336.4 L877.5 1336.4 L877.0 1336.5 L876.5 1336.5 L876.0 1336.5 L875.5 1336.5 L875.0 1336.5 L874.5 1336.6 L874.0 1336.6 L873.5 1336.6 L873.0 1336.6 L872.5 1336.6 L872.0 1336.7 L871.5 1336.7 L871.0 1336.7 L870.5 1336.7 L870.0 1336.8 L869.5 1336.9 L869.0 1337.0 L868.5 1337.1 L868.0 1337.3 L867.5 1337.4 L867.0 1337.5 L866.5 1337.6 L866.0 1337.8 L865.5 1337.9 L865.0 1338.0 L864.5 1338.1 L864.0 1338.3 L863.5 1338.4 L863.0 1338.5 L862.5 1338.6 L862.0 1338.8 L861.5 1338.9 L861.0 1339.0 L860.5 1339.1 L860.0 1339.3 L859.5 1339.4 L859.0 1339.5 L858.5 1339.6 L858.0 1339.8 L857.5 1339.9 L857.0 1340.0 L856.5 1340.1 L856.0 1340.3 L855.5 1340.4 L855.0 1340.5 L854.5 1340.6 L854.0 1340.8 L853.5 1340.9 L853.0 1340.9 L852.5 1340.9 L852.0 1340.9 L851.5 1340.9 L851.0 1340.9 L850.5 1340.9 L850.0 1340.9 L849.5 1340.9 L849.0 1340.9 L848.5 1340.9 L848.0 1340.9 L847.5 1340.9 L847.0 1340.9 L846.5 1340.9 L846.0 1340.9 L845.5 1340.9 L845.0 1340.9 L844.5 1340.9 L844.0 1340.9 L843.5 1340.9 L843.0 1340.9 L842.5 1340.9 L842.0 1340.9 L841.5 1340.9 L841.0 1340.9 L840.5 1340.9 L840.0 1340.9 L839.5 1340.9 L839.0 1340.9 L838.5 1340.9 L838.0 1340.9 L837.5 1340.9 L837.0 1340.9 L836.5 1340.9 L836.0 1340.9 L835.5 1340.9 L835.0 1340.9 L834.5 1340.9 L834.0 1340.9 L833.5 1340.9 L833.0 1340.9 L832.5 1341.0 L832.0 1341.1 L831.5 1341.2 L831.0 1341.2 L830.5 1341.3 L830.0 1341.4 L829.5 1341.5 L829.0 1341.5 L828.5 1341.6 L828.0 1341.7 L827.5 1341.8 L827.0 1341.8 L826.5 1341.9 L826.0 1342.0 L825.5 1342.0 L825.0 1342.1 L824.5 1342.2 L824.0 1342.3 L823.5 1342.3 L823.0 1342.4 L822.5 1342.5 L822.0 1342.6 L821.5 1342.6 L821.0 1342.7 L820.5 1342.8 L820.0 1342.9 L819.5 1342.9 L819.0 1343.0 L818.5 1343.1 L818.0 1343.2 L817.5 1343.2 L817.0 1343.3 L816.5 1343.4 L816.0 1343.4 L815.5 1343.5 L815.0 1343.6 L814.5 1343.7 L814.0 1343.7 L813.5 1343.8 L813.0 1343.9 L812.5 1344.0 L812.0 1344.0 L811.5 1344.1 L811.0 1344.2 L810.5 1344.3 L810.0 1344.3 L809.5 1344.4 L809.0 1344.5 L808.5 1344.6 L808.0 1344.6 L807.5 1344.7 L807.0 1344.8 L806.5 1344.9 L806.0 1344.9 L805.5 1345.0 L805.0 1345.1 L804.5 1345.2 L804.0 1345.3 L803.5 1345.3 L803.0 1345.4 L802.5 1345.5 L802.0 1345.6 L801.5 1345.6 L801.0 1345.7 L800.5 1345.8 L800.0 1345.9 L799.5 1345.9 L799.0 1346.0 L798.5 1346.1 L798.0 1346.2 L797.5 1346.2 L797.0 1346.3 L796.5 1346.4 L796.0 1346.5 L795.5 1346.5 L795.0 1346.6 L794.5 1346.7 L794.0 1346.8 L793.5 1346.8 L793.0 1346.9 L792.5 1347.0 L792.0 1347.0 L791.5 1347.0 L791.0 1347.1 L790.5 1347.1 L790.0 1347.1 L789.5 1347.1 L789.0 1347.2 L788.5 1347.2 L788.0 1347.2 L787.5 1347.2 L787.0 1347.3 L786.5 1347.3 L786.0 1347.3 L785.5 1347.3 L785.0 1347.4 L784.5 1347.4 L784.0 1347.4 L783.5 1347.4 L783.0 1347.5 L782.5 1347.5 L782.0 1347.5 L781.5 1347.5 L781.0 1347.6 L780.5 1347.6 L780.0 1347.6 L779.5 1347.6 L779.0 1347.7 L778.5 1347.7 L778.0 1347.7 L777.5 1347.7 L777.0 1347.8 L776.5 1347.8 L776.0 1347.8 L775.5 1347.8 L775.0 1347.9 L774.5 1347.9 L774.0 1347.9 L773.5 1347.9 L773.0 1348.0 L772.5 1348.0 L772.0 1348.0 L771.5 1348.1 L771.0 1348.2 L770.5 1348.3 L770.0 1348.3 L769.5 1348.4 L769.0 1348.5 L768.5 1348.6 L768.0 1348.6 L767.5 1348.7 L767.0 1348.8 L766.5 1348.9 L766.0 1348.9 L765.5 1349.0 L765.0 1349.1 L764.5 1349.2 L764.0 1349.2 L763.5 1349.3 L763.0 1349.4 L762.5 1349.5 L762.0 1349.5 L761.5 1349.6 L761.0 1349.7 L760.5 1349.7 L760.0 1349.8 L759.5 1349.9 L759.0 1350.0 L758.5 1350.0 L758.0 1350.1 L757.5 1350.2 L757.0 1350.3 L756.5 1350.3 L756.0 1350.4 L755.5 1350.5 L755.0 1350.6 L754.5 1350.6 L754.0 1350.7 L753.5 1350.8 L753.0 1350.9 L752.5 1350.9 L752.0 1351.0 L751.5 1351.2 L751.0 1351.5 L750.5 1351.8 L750.0 1352.0 L749.5 1352.3 L749.0 1352.6 L748.5 1352.9 L748.0 1353.1 L747.5 1353.4 L747.0 1353.7 L746.5 1354.0 L746.0 1354.2 L745.5 1354.5 L745.0 1354.8 L744.5 1355.1 L744.0 1355.3 L743.5 1355.6 L743.0 1355.9 L742.5 1356.2 L742.0 1356.4 L741.5 1356.7 L741.0 1357.0 L740.5 1357.3 L740.0 1357.5 L739.5 1357.8 L739.0 1358.1 L738.5 1358.4 L738.0 1358.6 L737.5 1358.9 L737.0 1359.2 L736.5 1359.5 L736.0 1359.7 L735.5 1360.0 L735.0 1360.3 L734.5 1360.5 L734.0 1360.8 L733.5 1361.1 L733.0 1361.4 L732.5 1361.6 L732.0 1361.9 L731.5 1362.2 L731.0 1362.2 L730.5 1362.2 L730.0 1362.2 L729.5 1362.2 L729.0 1362.1 L728.5 1362.1 L728.0 1362.1 L727.5 1362.0 L727.0 1362.0 L726.5 1362.0 L726.0 1362.0 L725.5 1361.9 L725.0 1361.9 L724.5 1361.9 L724.0 1361.9 L723.5 1361.8 L723.0 1361.8 L722.5 1361.8 L722.0 1361.8 L721.5 1361.7 L721.0 1361.7 L720.5 1361.7 L720.0 1361.7 L719.5 1361.6 L719.0 1361.6 L718.5 1361.6 L718.0 1361.6 L717.5 1361.5 L717.0 1361.5 L716.5 1361.5 L716.0 1361.5 L715.5 1361.4 L715.0 1361.4 L714.5 1361.4 L714.0 1361.4 L713.5 1361.3 L713.0 1361.3 L712.5 1361.3 L712.0 1361.3 L711.5 1361.2 L711.0 1361.2 L710.5 1360.6 L710.0 1360.1 L709.5 1359.5 L709.0 1358.9 L708.5 1358.3 L708.0 1357.8 L707.5 1357.2 L707.0 1356.6 L706.5 1356.0 L706.0 1355.5 L705.5 1354.9 L705.0 1354.3 L704.5 1353.7 L704.0 1353.2 L703.5 1352.6 L703.0 1352.0 L702.5 1351.4 L702.0 1350.9 L701.5 1350.3 L701.0 1349.7 L700.5 1349.2 L700.0 1348.6 L699.5 1348.0 L699.0 1347.4 L698.5 1346.9 L698.0 1346.3 L697.5 1345.7 L697.0 1345.1 L696.5 1344.6 L696.0 1344.0 L695.5 1343.4 L695.0 1342.8 L694.5 1342.3 L694.0 1341.7 L693.5 1341.1 L693.0 1340.6 L692.5 1340.0 L692.0 1339.4 L691.5 1338.8 L691.0 1338.3 L690.5 1337.8 L690.0 1337.5 L689.5 1337.3 L689.0 1337.1 L688.5 1336.9 L688.0 1336.7 L687.5 1336.5 L687.0 1336.3 L686.5 1336.1 L686.0 1335.8 L685.5 1335.6 L685.0 1335.4 L684.5 1335.2 L684.0 1335.0 L683.5 1334.8 L683.0 1334.6 L682.5 1334.3 L682.0 1334.1 L681.5 1333.9 L681.0 1333.7 L680.5 1333.5 L680.0 1333.3 L679.5 1333.1 L679.0 1332.9 L678.5 1332.6 L678.0 1332.4 L677.5 1332.2 L677.0 1332.0 L676.5 1331.8 L676.0 1331.6 L675.5 1331.4 L675.0 1331.2 L674.5 1331.0 L674.0 1330.8 L673.5 1330.6 L673.0 1330.4 L672.5 1330.2 L672.0 1330.0 L671.5 1329.8 L671.0 1329.6 L670.5 1329.4 L670.0 1329.2 L669.5 1329.0 L669.0 1328.8 L668.5 1328.6 L668.0 1328.4 L667.5 1328.2 L667.0 1328.0 L666.5 1327.8 L666.0 1328.0 L665.5 1329.8 L665.0 1331.6 L664.5 1333.5 L664.0 1335.3 L663.5 1337.1 L663.0 1339.0 L662.5 1340.8 L662.0 1342.7 L661.5 1344.5 L661.0 1346.3 L660.5 1348.2 L660.0 1350.0 L659.5 1350.3 L659.0 1350.6 L658.5 1350.9 L658.0 1351.2 L657.5 1351.5 L657.0 1351.8 L656.5 1352.0 L656.0 1352.3 L655.5 1352.6 L655.0 1352.9 L654.5 1352.8 L654.0 1351.9 L653.5 1351.1 L653.0 1350.3 L652.5 1349.5 L652.0 1348.6 L651.5 1347.8 L651.0 1347.0 L650.5 1346.2 L650.0 1345.3 L649.5 1344.5 L649.0 1343.7 L648.5 1342.9 L648.0 1342.0 L647.5 1341.2 L647.0 1340.4 L646.5 1339.6 L646.0 1338.7 L645.5 1337.9 L645.0 1337.1 L644.5 1336.3 L644.0 1335.5 L643.5 1334.6 L643.0 1333.8 L642.5 1333.0 L642.0 1332.2 L641.5 1331.3 L641.0 1330.5 L640.5 1329.7 L640.0 1328.9 L639.5 1328.0 L639.0 1327.2 L638.5 1326.4 L638.0 1325.6 L637.5 1324.7 L637.0 1323.9 L636.5 1323.1 L636.0 1322.3 L635.5 1321.4 L635.0 1320.6 L634.5 1319.8 L634.0 1319.6 L633.5 1319.8 L633.0 1319.9 L632.5 1320.1 L632.0 1320.3 L631.5 1320.5 L631.0 1320.7 L630.5 1320.9 L630.0 1321.1 L629.5 1321.3 L629.0 1321.4 L628.5 1321.6 L628.0 1321.8 L627.5 1322.0 L627.0 1322.2 L626.5 1322.4 L626.0 1322.6 L625.5 1322.8 L625.0 1323.0 L624.5 1323.1 L624.0 1323.3 L623.5 1323.5 L623.0 1323.7 L622.5 1323.9 L622.0 1324.1 L621.5 1324.3 L621.0 1324.5 L620.5 1324.7 L620.0 1324.8 L619.5 1325.0 L619.0 1325.2 L618.5 1325.4 L618.0 1325.6 L617.5 1324.5 L617.0 1323.5 L616.5 1322.4 L616.0 1321.3 L615.5 1320.3 L615.0 1319.2 L614.5 1318.1 L614.0 1317.0 L613.5 1316.0 L613.0 1314.9 L612.5 1313.8 L612.0 1312.8 L611.5 1311.7 L611.0 1310.6 L610.5 1309.6 L610.0 1308.5 L609.5 1307.4 L609.0 1306.3 L608.5 1305.3 L608.0 1304.2 L607.5 1303.1 L607.0 1302.1 L606.5 1301.0 L606.0 1299.9 L605.5 1298.9 L605.0 1297.8 L604.5 1296.7 L604.0 1295.6 L603.5 1294.5 L603.0 1293.4 L602.5 1292.2 L602.0 1291.1 L601.5 1289.9 L601.0 1288.8 L600.5 1287.6 L600.0 1286.5 L599.5 1285.3 L599.0 1284.2 L598.5 1283.0 L598.0 1281.9 L597.5 1280.7 L597.0 1279.6 L596.5 1278.4 L596.0 1277.3 L595.5 1276.1 L595.0 1275.0 L594.5 1273.8 L594.0 1272.7 L593.5 1271.5 L593.0 1270.7 L592.5 1269.8 L592.0 1269.0 L591.5 1268.1 L591.0 1267.3 L590.5 1266.4 L590.0 1265.6 L589.5 1264.7 L589.0 1263.9 L588.5 1263.0 L588.0 1262.2 L587.5 1261.3 L587.0 1260.5 L586.5 1259.6 L586.0 1258.8 L585.5 1257.9 L585.0 1257.1 L584.5 1256.2 L584.0 1255.4 L583.5 1254.5 L583.0 1253.7 L582.5 1252.8 L582.0 1252.0 L581.5 1251.1 L581.0 1250.3 L580.5 1249.4 L580.0 1248.6 L579.5 1247.7 L579.0 1246.9 L578.5 1246.0 L578.0 1245.2 L577.5 1244.3 L577.0 1243.5 L576.5 1242.6 L576.0 1241.8 L575.5 1240.9 L575.0 1240.1 L574.5 1239.2 L574.0 1238.4 L573.5 1237.5 L573.0 1236.7 L572.5 1236.1 L572.0 1235.5 L571.5 1234.9 L571.0 1234.3 L570.5 1233.7 L570.0 1233.1 L569.5 1232.5 L569.0 1231.9 L568.5 1231.3 L568.0 1230.7 L567.5 1230.1 L567.0 1229.5 L566.5 1228.9 L566.0 1228.3 L565.5 1227.7 L565.0 1227.1 L564.5 1226.5 L564.0 1225.9 L563.5 1225.3 L563.0 1224.7 L562.5 1224.1 L562.0 1223.5 L561.5 1222.9 L561.0 1222.3 L560.5 1221.7 L560.0 1221.1 L559.5 1220.5 L559.0 1220.0 L558.5 1219.4 L558.0 1218.8 L557.5 1218.2 L557.0 1217.6 L556.5 1217.0 L556.0 1216.4 L555.5 1215.8 L555.0 1215.2 L554.5 1214.6 L554.0 1214.0 L553.5 1213.4 L553.0 1212.8 L552.5 1212.3 L552.0 1212.1 L551.5 1211.9 L551.0 1211.6 L550.5 1211.4 L550.0 1211.2 L549.5 1211.0 L549.0 1210.7 L548.5 1210.5 L548.0 1210.3 L547.5 1210.1 L547.0 1209.8 L546.5 1209.6 L546.0 1209.4 L545.5 1209.2 L545.0 1208.9 L544.5 1208.7 L544.0 1208.5 L543.5 1208.3 L543.0 1208.0 L542.5 1207.8 L542.0 1207.6 L541.5 1207.3 L541.0 1207.1 L540.5 1206.9 L540.0 1206.7 L539.5 1206.4 L539.0 1206.2 L538.5 1206.0 L538.0 1205.8 L537.5 1205.5 L537.0 1205.3 L536.5 1205.1 L536.0 1204.9 L535.5 1204.6 L535.0 1204.4 L534.5 1204.2 L534.0 1204.0 L533.5 1203.7 L533.0 1203.5 L532.5 1203.3 L532.0 1203.4 L531.5 1203.8 L531.0 1204.1 L530.5 1204.5 L530.0 1204.8 L529.5 1205.2 L529.0 1205.5 L528.5 1205.9 L528.0 1206.2 L527.5 1206.6 L527.0 1206.9 L526.5 1207.3 L526.0 1207.6 L525.5 1208.0 L525.0 1208.3 L524.5 1208.7 L524.0 1209.0 L523.5 1209.4 L523.0 1209.8 L522.5 1210.1 L522.0 1210.5 L521.5 1210.8 L521.0 1211.2 L520.5 1211.5 L520.0 1211.9 L519.5 1212.2 L519.0 1212.6 L518.5 1212.9 L518.0 1213.3 L517.5 1213.6 L517.0 1214.0 L516.5 1214.3 L516.0 1214.7 L515.5 1215.0 L515.0 1215.4 L514.5 1215.7 L514.0 1216.1 L513.5 1216.4 L513.0 1216.8 L512.5 1217.1 L512.0 1217.5 L511.5 1218.1 L511.0 1218.6 L510.5 1219.2 L510.0 1219.8 L509.5 1220.4 L509.0 1220.9 L508.5 1221.5 L508.0 1222.1 L507.5 1222.7 L507.0 1223.2 L506.5 1223.8 L506.0 1224.4 L505.5 1225.0 L505.0 1225.5 L504.5 1226.1 L504.0 1226.7 L503.5 1227.2 L503.0 1227.8 L502.5 1228.4 L502.0 1229.0 L501.5 1229.5 L501.0 1230.1 L500.5 1230.7 L500.0 1231.3 L499.5 1231.8 L499.0 1232.4 L498.5 1233.0 L498.0 1233.6 L497.5 1234.1 L497.0 1234.7 L496.5 1235.3 L496.0 1235.9 L495.5 1236.4 L495.0 1237.0 L494.5 1237.6 L494.0 1238.1 L493.5 1238.7 L493.0 1239.3 L492.5 1239.9 L492.0 1240.4 L491.5 1241.1 L491.0 1241.8 L490.5 1242.6 L490.0 1243.4 L489.5 1244.2 L489.0 1245.0 L488.5 1245.7 L488.0 1246.5 L487.5 1247.3 L487.0 1248.1 L486.5 1248.9 L486.0 1249.7 L485.5 1250.4 L485.0 1251.2 L484.5 1252.0 L484.0 1252.8 L483.5 1253.6 L483.0 1254.4 L482.5 1255.1 L482.0 1255.9 L481.5 1256.7 L481.0 1257.5 L480.5 1258.3 L480.0 1259.0 L479.5 1259.8 L479.0 1260.6 L478.5 1261.4 L478.0 1262.2 L477.5 1263.0 L477.0 1263.7 L476.5 1264.5 L476.0 1265.3 L475.5 1266.1 L475.0 1266.3 L474.5 1266.2 L474.0 1266.1 L473.5 1266.0 L473.0 1265.9 L472.5 1265.9 L472.0 1265.8 L471.5 1265.7 L471.0 1265.6 L470.5 1265.5 L470.0 1265.4 L469.5 1265.3 L469.0 1265.2 L468.5 1265.1 L468.0 1265.0 L467.5 1264.9 L467.0 1264.8 L466.5 1264.7 L466.0 1264.6 L465.5 1264.5 L465.0 1264.4 L464.5 1264.4 L464.0 1264.5 L463.5 1264.5 L463.0 1264.5 L462.5 1264.6 L462.0 1264.6 L461.5 1264.7 L461.0 1264.7 L460.5 1264.7 L460.0 1264.8 L459.5 1264.8 L459.0 1264.8 L458.5 1264.9 L458.0 1264.9 L457.5 1264.9 L457.0 1265.0 L456.5 1265.0 L456.0 1265.0 L455.5 1265.1 L455.0 1265.1 L454.5 1265.1 L454.0 1265.2 L453.5 1265.2 L453.0 1265.2 L452.5 1265.3 L452.0 1265.3 L451.5 1265.4 L451.0 1265.4 L450.5 1265.2 L450.0 1264.9 L449.5 1264.6 L449.0 1264.2 L448.5 1263.9 L448.0 1263.6 L447.5 1263.3 L447.0 1262.9 L446.5 1262.6 L446.0 1262.3 L445.5 1262.0 L445.0 1261.6 L444.5 1261.3 L444.0 1261.0 L443.5 1260.7 L443.0 1260.3 L442.5 1260.0 L442.0 1259.7 L441.5 1259.4 L441.0 1259.0 L440.5 1258.7 L440.0 1258.4 L439.5 1258.1 L439.0 1257.7 L438.5 1257.4 L438.0 1257.1 L437.5 1256.8 L437.0 1256.4 L436.5 1256.1 L436.0 1255.8 L435.5 1255.5 L435.0 1255.1 L434.5 1254.8 L434.0 1254.5 L433.5 1254.2 L433.0 1253.8 L432.5 1253.5 L432.0 1253.2 L431.5 1252.9 L431.0 1252.5 L430.5 1252.2 L430.0 1252.2 L429.5 1252.2 L429.0 1252.2 L428.5 1252.2 L428.0 1252.3 L427.5 1252.3 L427.0 1252.3 L426.5 1252.3 L426.0 1252.4 L425.5 1252.4 L425.0 1252.4 L424.5 1252.4 L424.0 1252.5 L423.5 1252.5 L423.0 1252.5 L422.5 1252.5 L422.0 1252.6 L421.5 1252.6 L421.0 1252.6 L420.5 1252.6 L420.0 1252.7 L419.5 1252.7 L419.0 1252.7 L418.5 1252.7 L418.0 1252.8 L417.5 1252.8 L417.0 1252.8 L416.5 1252.8 L416.0 1252.9 L415.5 1252.9 L415.0 1252.9 L414.5 1252.9 L414.0 1253.0 L413.5 1253.0 L413.0 1253.0 L412.5 1253.0 L412.0 1253.1 L411.5 1253.1 L411.0 1253.1 L410.5 1253.1 L410.0 1253.2 L409.5 1252.8 L409.0 1252.4 L408.5 1252.1 L408.0 1251.7 L407.5 1251.3 L407.0 1251.0 L406.5 1250.6 L406.0 1250.3 L405.5 1249.9 L405.0 1249.5 L404.5 1249.2 L404.0 1248.8 L403.5 1248.5 L403.0 1248.1 L402.5 1247.7 L402.0 1247.4 L401.5 1247.0 L401.0 1246.6 L400.5 1246.3 L400.0 1245.9 L399.5 1245.6 L399.0 1245.2 L398.5 1244.8 L398.0 1244.5 L397.5 1244.1 L397.0 1243.8 L396.5 1243.4 L396.0 1243.0 L395.5 1242.7 L395.0 1242.3 L394.5 1241.9 L394.0 1241.7 L393.5 1241.5 L393.0 1241.3 L392.5 1241.1 L392.0 1240.8 L391.5 1240.6 L391.0 1240.4 L390.5 1240.2 L390.0 1239.9 L389.5 1239.7 L389.0 1239.5 L388.5 1239.3 L388.0 1239.0 L387.5 1238.8 L387.0 1238.6 L386.5 1238.4 L386.0 1238.1 L385.5 1237.9 L385.0 1237.7 L384.5 1237.5 L384.0 1237.2 L383.5 1237.0 L383.0 1236.8 L382.5 1236.6 L382.0 1236.3 L381.5 1236.1 L381.0 1235.9 L380.5 1235.7 L380.0 1235.4 L379.5 1235.2 L379.0 1235.0 L378.5 1234.8 L378.0 1234.5 L377.5 1234.3 L377.0 1234.1 L376.5 1233.9 L376.0 1233.7 L375.5 1233.4 L375.0 1233.2 L374.5 1233.0 L374.0 1232.8 L373.5 1232.8 L373.0 1232.8 L372.5 1232.8 L372.0 1232.8 L371.5 1232.8 L371.0 1232.8 L370.5 1232.8 L370.0 1232.8 L369.5 1232.8 L369.0 1232.8 L368.5 1232.8 L368.0 1232.8 L367.5 1232.8 L367.0 1232.8 L366.5 1232.8 L366.0 1232.8 L365.5 1232.8 L365.0 1232.8 L364.5 1232.8 L364.0 1232.8 L363.5 1232.8 L363.0 1232.8 L362.5 1232.8 L362.0 1232.8 L361.5 1232.8 L361.0 1232.8 L360.5 1232.8 L360.0 1232.8 L359.5 1232.8 L359.0 1232.8 L358.5 1232.8 L358.0 1232.8 L357.5 1232.8 L357.0 1232.8 L356.5 1232.8 L356.0 1232.8 L355.5 1232.8 L355.0 1232.8 L354.5 1232.8 L354.0 1232.8 L353.5 1232.7 L353.0 1232.6 L352.5 1232.4 L352.0 1232.3 L351.5 1232.1 L351.0 1232.0 L350.5 1231.8 L350.0 1231.7 L349.5 1231.5 L349.0 1231.4 L348.5 1231.2 L348.0 1231.1 L347.5 1230.9 L347.0 1230.8 L346.5 1230.6 L346.0 1230.5 L345.5 1230.3 L345.0 1230.2 L344.5 1230.0 L344.0 1229.9 L343.5 1229.7 L343.0 1229.6 L342.5 1229.4 L342.0 1229.3 L341.5 1229.1 L341.0 1229.0 L340.5 1228.8 L340.0 1228.7 L339.5 1228.5 L339.0 1228.4 L338.5 1228.2 L338.0 1228.1 L337.5 1227.9 L337.0 1227.8 L336.5 1227.6 L336.0 1227.5 L335.5 1227.3 L335.0 1227.2 L334.5 1227.0 L334.0 1226.9 L333.5 1226.7 L333.0 1226.7 L332.5 1226.9 L332.0 1227.0 L331.5 1227.1 L331.0 1227.2 L330.5 1227.4 L330.0 1227.5 L329.5 1227.6 L329.0 1227.7 L328.5 1227.9 L328.0 1228.0 L327.5 1228.1 L327.0 1228.2 L326.5 1228.4 L326.0 1228.5 L325.5 1228.6 L325.0 1228.7 L324.5 1228.9 L324.0 1229.0 L323.5 1229.1 L323.0 1229.2 L322.5 1229.4 L322.0 1229.5 L321.5 1229.6 L321.0 1229.7 L320.5 1229.9 L320.0 1230.0 L319.5 1230.1 L319.0 1230.2 L318.5 1230.4 L318.0 1230.5 L317.5 1230.6 L317.0 1230.8 L316.5 1230.8 L316.0 1230.9 L315.5 1230.9 L315.0 1231.0 L314.5 1231.1 L314.0 1231.1 L313.5 1231.2 L313.0 1231.2 L312.5 1231.3 L312.0 1231.4 L311.5 1231.4 L311.0 1231.5 L310.5 1231.6 L310.0 1231.6 L309.5 1231.7 L309.0 1231.7 L308.5 1231.8 L308.0 1231.9 L307.5 1231.9 L307.0 1232.0 L306.5 1232.1 L306.0 1232.1 L305.5 1232.2 L305.0 1232.2 L304.5 1232.3 L304.0 1232.4 L303.5 1232.4 L303.0 1232.5 L302.5 1232.6 L302.0 1232.6 L301.5 1232.7 L301.0 1232.7 L300.5 1232.8 L300.0 1232.9 L299.5 1232.9 L299.0 1233.0 L298.5 1233.1 L298.0 1233.1 L297.5 1233.2 L297.0 1233.2 L296.5 1233.3 L296.0 1233.4 L295.5 1233.4 L295.0 1233.5 L294.5 1233.6 L294.0 1233.6 L293.5 1233.7 L293.0 1233.7 L292.5 1233.8 L292.0 1234.2 L291.5 1234.5 L291.0 1234.9 L290.5 1235.2 L290.0 1235.6 L289.5 1235.9 L289.0 1236.3 L288.5 1236.6 L288.0 1237.0 L287.5 1237.3 L287.0 1237.7 L286.5 1238.0 L286.0 1238.4 L285.5 1238.7 L285.0 1239.1 L284.5 1239.4 L284.0 1239.8 L283.5 1240.1 L283.0 1240.5 L282.5 1240.8 L282.0 1240.7 L281.5 1240.2 L281.0 1239.8 L280.5 1239.3 L280.0 1238.8 L279.5 1238.4 L279.0 1237.9 L278.5 1237.4 L278.0 1237.0 L277.5 1236.5 L277.0 1236.1 L276.5 1235.6 L276.0 1235.1 L275.5 1234.7 L275.0 1234.2 L274.5 1233.8 L274.0 1233.3 L273.5 1232.8 L273.0 1232.4 L272.5 1231.9 L272.0 1231.5 L271.5 1231.0 L271.0 1230.5 L270.5 1230.1 L270.0 1229.6 L269.5 1229.1 L269.0 1228.5 L268.5 1228.0 L268.0 1227.5Z" fill="#00ff00" stroke="#00ff00" stroke-width="1" shape-rendering="crispEdges"/>
<path d="M166.0 1315.0 L166.5 1204.3 L167.0 1290.5 L167.5 1205.0 L168.0 1294.8 L168.5 1201.6 L169.0 1284.5 L169.5 1199.8 L170.0 1288.1 L170.5 1210.3 L171.0 1286.3 L171.5 1201.9 L172.0 1293.4 L172.5 1203.8 L173.0 1288.3 L173.5 1204.1 L174.0 1299.7 L174.5 1208.7 L175.0 1287.4 L175.5 1201.6 L176.0 1296.8 L176.5 1208.3 L177.0 1285.1 L177.5 1209.3 L178.0 1308.5 L178.5 1203.1 L179.0 1283.7 L179.5 1202.0 L180.0 1297.9 L180.5 1204.8 L181.0 1297.3 L181.4 1201.0 L181.4 1313.0 L181.5 1208.1 L182.0 1294.8 L182.5 1212.8 L183.0 1283.4 L183.5 1199.6 L184.0 1301.0 L184.5 1205.9 L185.0 1302.8 L185.5 1202.0 L186.0 1295.9 L186.5 1193.0 L186.5 1323.5 L186.5 1197.0 L187.0 1308.5 L187.5 1198.5 L188.0 1294.6 L188.5 1204.0 L189.0 1317.2 L189.5 1197.2 L190.0 1314.1 L190.5 1200.6 L191.0 1302.5 L191.5 1208.1 L192.0 1301.6 L192.5 1199.5 L193.0 1309.2 L193.5 1196.5 L194.0 1290.8 L194.5 1199.3 L195.0 1299.3 L195.5 1196.4 L196.0 1283.5 L196.5 1195.0 L196.7 1309.2 L196.7 1189.0 L197.0 1296.1 L197.5 1193.5 L198.0 1311.6 L198.5 1200.3 L199.0 1294.7 L199.5 1193.2 L200.0 1280.3 L200.5 1193.2 L201.0 1314.4 L201.5 1191.1 L202.0 1310.8 L202.5 1192.7 L203.0 1291.1 L203.5 1196.7 L204.0 1311.6 L204.5 1194.8 L204.9 1319.4 L204.9 1184.9 L205.0 1291.4 L205.5 1193.7 L206.0 1310.0 L206.5 1189.9 L207.0 1293.1 L207.5 1191.3 L208.0 1314.2 L208.5 1186.1 L209.0 1314.6 L209.5 1186.4 L210.0 1311.2 L210.5 1191.4 L211.0 1289.7 L211.5 1195.7 L212.0 1287.5 L212.5 1186.2 L213.0 1292.5 L213.5 1192.3 L214.0 1281.1 L214.5 1197.7 L215.0 1288.7 L215.5 1191.1 L216.0 1296.5 L216.5 1187.9 L217.0 1278.2 L217.5 1186.1 L218.0 1309.7 L218.5 1183.5 L219.0 1307.2 L219.5 1180.6 L220.0 1281.1 L220.5 1188.3 L221.0 1305.8 L221.2 1179.8 L221.2 1311.3 L221.5 1194.1 L222.0 1289.4 L222.5 1194.5 L223.0 1301.1 L223.5 1180.2 L224.0 1294.2 L224.5 1187.2 L225.0 1278.4 L225.5 1188.7 L226.0 1294.6 L226.5 1179.3 L227.0 1301.7 L227.5 1185.5 L228.0 1287.5 L228.5 1178.0 L229.0 1293.6 L229.5 1184.1 L230.0 1300.9 L230.5 1176.8 L231.0 1269.8 L231.5 1177.3 L232.0 1281.2 L232.5 1171.5 L233.0 1267.2 L233.5 1179.4 L234.0 1272.9 L234.5 1169.7 L235.0 1294.2 L235.5 1183.6 L236.0 1293.3 L236.5 1167.2 L237.0 1266.4 L237.5 1171.0 L238.0 1274.7 L238.5 1182.3 L239.0 1291.2 L239.5 1165.5 L239.5 1297.0 L239.5 1171.4 L240.0 1274.4 L240.5 1170.9 L241.0 1287.3 L241.5 1166.5 L242.0 1263.6 L242.5 1166.8 L243.0 1264.1 L243.5 1168.2 L244.0 1290.3 L244.5 1170.9 L245.0 1267.2 L245.5 1167.9 L246.0 1279.3 L246.5 1162.2 L247.0 1286.4 L247.5 1161.6 L248.0 1259.5 L248.5 1165.6 L249.0 1260.4 L249.5 1161.9 L249.7 1293.0 L249.7 1160.4 L250.0 1287.9 L250.5 1162.7 L251.0 1282.5 L251.5 1161.9 L252.0 1267.4 L252.5 1165.3 L253.0 1276.6 L253.5 1160.1 L254.0 1255.2 L254.5 1163.7 L255.0 1250.0 L255.5 1164.5 L256.0 1282.6 L256.5 1163.1 L257.0 1274.1 L257.5 1158.0 L258.0 1251.1 L258.5 1160.3 L259.0 1248.8 L259.5 1164.4 L259.9 1282.7 L259.9 1155.3 L260.0 1249.7 L260.5 1160.8 L261.0 1281.8 L261.5 1165.2 L262.0 1268.2 L262.5 1167.1 L263.0 1269.2 L263.5 1161.1 L264.0 1256.3 L264.5 1162.2 L265.0 1290.5 L265.5 1165.0 L266.0 1257.5 L266.5 1160.1 L267.0 1292.8 L267.5 1163.8 L268.0 1296.7 L268.5 1166.6 L269.0 1263.6 L269.5 1165.9 L270.0 1296.6 L270.1 1156.3 L270.1 1303.1 L270.5 1166.8 L271.0 1299.9 L271.5 1180.0 L272.0 1275.8 L272.5 1167.2 L273.0 1269.6 L273.5 1167.8 L274.0 1276.4 L274.5 1168.4 L275.0 1298.3 L275.5 1177.0 L276.0 1273.6 L276.5 1172.7 L277.0 1271.7 L277.5 1185.7 L278.0 1272.7 L278.5 1180.4 L279.0 1288.2 L279.5 1175.5 L280.0 1287.7 L280.5 1187.0 L281.0 1274.2 L281.5 1182.7 L282.0 1301.6 L282.3 1176.7 L282.3 1305.2 L282.5 1179.7 L283.0 1276.7 L283.5 1185.4 L284.0 1301.7 L284.5 1175.9 L285.0 1271.2 L285.5 1179.3 L286.0 1300.6 L286.5 1181.5 L287.0 1293.6 L287.5 1182.1 L288.0 1284.8 L288.5 1186.6 L289.0 1273.7 L289.5 1183.7 L290.0 1269.4 L290.5 1177.7 L291.0 1294.2 L291.5 1171.9 L292.0 1301.4 L292.5 1166.5 L292.5 1301.1 L292.5 1175.0 L293.0 1268.8 L293.5 1182.9 L294.0 1293.5 L294.5 1172.6 L295.0 1291.6 L295.5 1179.4 L296.0 1300.0 L296.5 1183.4 L297.0 1265.7 L297.5 1169.7 L298.0 1275.2 L298.5 1170.2 L299.0 1282.8 L299.5 1169.4 L300.0 1269.9 L300.5 1183.7 L301.0 1269.1 L301.5 1172.8 L302.0 1271.0 L302.5 1167.9 L303.0 1290.3 L303.5 1173.7 L304.0 1274.5 L304.5 1174.6 L305.0 1294.6 L305.5 1179.9 L306.0 1275.9 L306.5 1169.7 L307.0 1282.4 L307.5 1173.0 L308.0 1275.1 L308.5 1168.4 L309.0 1284.1 L309.5 1172.8 L310.0 1258.7 L310.5 1165.8 L311.0 1257.8 L311.5 1170.1 L312.0 1289.8 L312.5 1174.2 L313.0 1260.8 L313.5 1168.8 L314.0 1276.6 L314.5 1177.6 L315.0 1296.3 L315.5 1171.5 L316.0 1289.3 L316.5 1171.6 L317.0 1297.0 L317.0 1164.5 L317.0 1289.2 L317.5 1178.7 L318.0 1295.7 L318.5 1172.2 L319.0 1290.3 L319.5 1183.0 L320.0 1269.7 L320.5 1178.6 L321.0 1259.8 L321.5 1175.0 L322.0 1292.7 L322.5 1180.2 L323.0 1291.5 L323.5 1175.7 L324.0 1290.2 L324.5 1172.0 L325.0 1269.9 L325.5 1181.6 L326.0 1282.8 L326.5 1182.2 L327.0 1282.4 L327.5 1180.3 L328.0 1284.4 L328.5 1182.6 L329.0 1274.6 L329.5 1177.2 L330.0 1266.8 L330.5 1177.7 L331.0 1264.7 L331.5 1175.7 L332.0 1258.5 L332.5 1179.2 L333.0 1277.8 L333.3 1170.6 L333.3 1282.7 L333.5 1179.3 L334.0 1269.5 L334.5 1175.0 L335.0 1256.5 L335.5 1172.9 L336.0 1275.3 L336.5 1174.4 L337.0 1275.2 L337.5 1172.8 L338.0 1278.8 L338.5 1173.3 L339.0 1273.7 L339.5 1180.5 L340.0 1255.7 L340.5 1172.1 L341.0 1274.2 L341.5 1171.9 L342.0 1270.9 L342.5 1173.9 L343.0 1285.4 L343.5 1175.1 L344.0 1259.3 L344.5 1175.7 L345.0 1271.5 L345.5 1180.2 L346.0 1268.8 L346.5 1177.3 L347.0 1257.9 L347.5 1175.2 L348.0 1258.1 L348.5 1183.2 L349.0 1267.6 L349.5 1173.4 L350.0 1286.6 L350.5 1171.5 L351.0 1286.4 L351.5 1176.9 L352.0 1266.8 L352.5 1187.0 L353.0 1291.5 L353.5 1172.0 L353.7 1295.0 L353.7 1170.6 L354.0 1272.3 L354.5 1172.3 L355.0 1263.3 L355.5 1172.4 L356.0 1264.0 L356.5 1176.4 L357.0 1286.9 L357.5 1173.6 L358.0 1291.9 L358.5 1176.8 L359.0 1285.7 L359.5 1186.0 L360.0 1262.6 L360.5 1178.2 L361.0 1271.7 L361.5 1187.5 L362.0 1283.6 L362.5 1181.9 L363.0 1282.9 L363.5 1184.9 L364.0 1280.3 L364.5 1181.0 L365.0 1278.9 L365.5 1177.3 L366.0 1267.1 L366.5 1184.0 L367.0 1280.5 L367.5 1178.6 L368.0 1265.2 L368.5 1179.8 L369.0 1272.3 L369.5 1185.9 L370.0 1289.2 L370.5 1181.5 L371.0 1269.0 L371.5 1189.8 L372.0 1285.1 L372.5 1181.2 L373.0 1282.7 L373.5 1183.7 L374.0 1277.1 L374.1 1174.7 L374.1 1290.9 L374.5 1192.6 L375.0 1280.9 L375.5 1194.0 L376.0 1266.0 L376.5 1182.6 L377.0 1276.3 L377.5 1186.2 L378.0 1292.9 L378.5 1185.1 L379.0 1280.3 L379.5 1185.4 L380.0 1264.6 L380.5 1178.5 L381.0 1280.0 L381.5 1178.4 L382.0 1271.4 L382.5 1188.0 L383.0 1291.0 L383.5 1185.4 L384.0 1290.5 L384.5 1186.2 L385.0 1267.2 L385.5 1184.8 L386.0 1287.9 L386.5 1183.6 L387.0 1274.5 L387.5 1178.9 L388.0 1270.2 L388.5 1189.7 L389.0 1285.5 L389.5 1185.3 L390.0 1267.8 L390.5 1183.4 L391.0 1270.5 L391.5 1192.7 L392.0 1292.0 L392.5 1190.1 L393.0 1282.5 L393.5 1184.6 L394.0 1287.8 L394.5 1180.8 L394.5 1303.1 L394.5 1185.7 L395.0 1289.2 L395.5 1193.1 L396.0 1288.2 L396.5 1188.0 L397.0 1284.4 L397.5 1184.6 L398.0 1279.9 L398.5 1195.2 L399.0 1291.3 L399.5 1203.2 L400.0 1277.0 L400.5 1195.8 L401.0 1287.5 L401.5 1189.2 L402.0 1279.2 L402.5 1194.9 L403.0 1279.5 L403.5 1192.6 L404.0 1281.2 L404.5 1193.9 L405.0 1278.7 L405.5 1198.9 L406.0 1275.2 L406.5 1198.4 L407.0 1299.9 L407.5 1203.1 L408.0 1303.0 L408.5 1198.0 L409.0 1298.6 L409.5 1199.8 L410.0 1307.2 L410.0 1199.1 L410.0 1294.1 L410.5 1200.6 L411.0 1295.0 L411.5 1204.3 L412.0 1304.8 L412.5 1205.3 L413.0 1288.2 L413.5 1199.6 L414.0 1304.0 L414.5 1202.4 L415.0 1293.9 L415.5 1198.4 L416.0 1298.3 L416.5 1203.3 L417.0 1276.6 L417.5 1200.2 L418.0 1289.7 L418.5 1199.3 L419.0 1300.7 L419.5 1201.1 L420.0 1290.0 L420.5 1200.8 L421.0 1276.7 L421.5 1207.9 L422.0 1282.6 L422.5 1205.6 L423.0 1286.3 L423.5 1205.5 L424.0 1300.6 L424.5 1207.9 L425.0 1302.7 L425.5 1211.8 L426.0 1290.2 L426.5 1209.7 L427.0 1294.9 L427.5 1204.5 L428.0 1286.4 L428.5 1204.7 L429.0 1285.1 L429.5 1211.4 L430.0 1298.7 L430.4 1197.1 L430.4 1307.2 L430.5 1206.4 L431.0 1294.1 L431.5 1208.4 L432.0 1295.4 L432.5 1209.3 L433.0 1297.9 L433.5 1202.7 L434.0 1289.5 L434.5 1209.2 L435.0 1302.1 L435.5 1215.5 L436.0 1292.9 L436.5 1216.8 L437.0 1301.9 L437.5 1207.3 L438.0 1293.2 L438.5 1213.5 L439.0 1302.1 L439.5 1203.1 L440.0 1291.1 L440.5 1211.8 L441.0 1295.9 L441.5 1205.2 L442.0 1303.6 L442.5 1211.4 L443.0 1310.2 L443.5 1214.9 L444.0 1311.5 L444.5 1212.4 L445.0 1303.9 L445.5 1222.8 L446.0 1306.0 L446.5 1225.5 L447.0 1311.5 L447.5 1216.8 L448.0 1291.2 L448.5 1212.7 L449.0 1320.9 L449.5 1213.3 L450.0 1308.2 L450.5 1220.8 L450.8 1321.5 L450.8 1209.3 L451.0 1315.1 L451.5 1217.0 L452.0 1321.6 L452.5 1212.1 L453.0 1318.9 L453.5 1211.3 L454.0 1297.6 L454.5 1211.8 L455.0 1293.4 L455.5 1216.4 L456.0 1296.0 L456.5 1220.2 L457.0 1314.4 L457.5 1217.9 L458.0 1306.4 L458.5 1208.3 L459.0 1313.4 L459.5 1208.6 L460.0 1306.5 L460.5 1216.5 L461.0 1313.3 L461.5 1217.4 L462.0 1316.4 L462.5 1211.4 L463.0 1293.1 L463.5 1216.9 L464.0 1299.7 L464.5 1213.5 L465.0 1303.2 L465.1 1205.3 L465.1 1323.5 L465.5 1209.4 L466.0 1301.3 L466.5 1219.8 L467.0 1308.9 L467.5 1223.6 L468.0 1317.4 L468.5 1209.7 L469.0 1319.6 L469.5 1226.3 L470.0 1295.5 L470.5 1214.5 L471.0 1298.4 L471.5 1222.1 L472.0 1298.5 L472.5 1217.8 L473.0 1294.6 L473.5 1223.0 L474.0 1292.8 L474.5 1224.7 L475.0 1300.7 L475.3 1213.4 L475.3 1319.4 L475.5 1223.3 L476.0 1304.1 L476.5 1214.4 L477.0 1296.2 L477.5 1219.4 L478.0 1314.3 L478.5 1218.6 L479.0 1303.7 L479.5 1210.7 L480.0 1301.6 L480.5 1203.6 L481.0 1287.3 L481.5 1206.2 L482.0 1295.4 L482.5 1202.7 L483.0 1293.3 L483.5 1201.2 L484.0 1301.7 L484.5 1199.0 L485.0 1281.5 L485.5 1203.1 L486.0 1291.9 L486.5 1197.6 L487.0 1277.9 L487.5 1208.3 L488.0 1272.8 L488.5 1195.0 L489.0 1285.3 L489.5 1201.7 L490.0 1271.0 L490.5 1192.6 L491.0 1280.7 L491.5 1194.4 L491.6 1299.0 L491.6 1182.8 L492.0 1284.3 L492.5 1191.8 L493.0 1292.5 L493.5 1192.2 L494.0 1296.0 L494.5 1187.4 L495.0 1270.2 L495.5 1186.1 L496.0 1294.4 L496.5 1188.6 L497.0 1268.3 L497.5 1181.4 L498.0 1265.1 L498.5 1190.1 L499.0 1288.5 L499.5 1188.1 L500.0 1263.0 L500.5 1176.2 L501.0 1256.5 L501.5 1173.5 L502.0 1283.1 L502.5 1178.7 L503.0 1277.3 L503.5 1174.9 L504.0 1256.2 L504.5 1175.3 L505.0 1276.1 L505.5 1180.8 L506.0 1259.6 L506.5 1174.1 L507.0 1276.6 L507.5 1168.2 L508.0 1261.5 L508.5 1168.8 L509.0 1269.0 L509.5 1171.5 L510.0 1268.4 L510.5 1167.2 L511.0 1250.8 L511.5 1170.4 L512.0 1274.6 L512.0 1160.4 L512.0 1251.6 L512.5 1168.7 L513.0 1271.5 L513.5 1160.8 L514.0 1269.1 L514.5 1168.5 L515.0 1254.8 L515.5 1159.4 L516.0 1260.9 L516.5 1161.9 L517.0 1257.1 L517.5 1162.0 L518.0 1238.8 L518.5 1156.5 L519.0 1243.0 L519.5 1156.8 L520.0 1266.0 L520.5 1163.3 L521.0 1266.0 L521.5 1164.3 L522.0 1237.3 L522.5 1165.1 L523.0 1261.5 L523.5 1161.4 L524.0 1260.7 L524.5 1152.9 L525.0 1255.3 L525.5 1156.5 L526.0 1258.5 L526.5 1151.4 L527.0 1250.4 L527.5 1156.1 L528.0 1260.6 L528.5 1146.4 L529.0 1253.6 L529.5 1149.3 L530.0 1228.8 L530.5 1152.5 L531.0 1258.3 L531.5 1154.4 L532.0 1252.7 L532.3 1144.1 L532.3 1262.3 L532.5 1149.3 L533.0 1244.3 L533.5 1153.3 L534.0 1242.7 L534.5 1152.5 L535.0 1233.8 L535.5 1149.6 L536.0 1242.5 L536.5 1158.8 L537.0 1256.6 L537.5 1160.4 L538.0 1233.6 L538.5 1150.3 L539.0 1253.8 L539.5 1157.3 L540.0 1236.1 L540.5 1154.9 L541.0 1241.1 L541.5 1157.4 L542.0 1235.0 L542.5 1152.9 L543.0 1236.8 L543.5 1159.9 L544.0 1254.9 L544.5 1158.1 L545.0 1263.8 L545.5 1168.9 L546.0 1253.5 L546.5 1158.7 L547.0 1253.3 L547.5 1155.5 L548.0 1242.2 L548.5 1155.9 L549.0 1267.9 L549.5 1155.2 L550.0 1256.1 L550.5 1163.5 L551.0 1250.4 L551.5 1161.6 L552.0 1250.3 L552.5 1160.9 L552.7 1270.5 L552.7 1154.3 L553.0 1243.3 L553.5 1158.7 L554.0 1256.5 L554.5 1162.5 L555.0 1260.2 L555.5 1176.8 L556.0 1257.7 L556.5 1170.5 L557.0 1259.1 L557.5 1178.4 L558.0 1258.9 L558.5 1168.8 L559.0 1267.8 L559.5 1173.7 L560.0 1279.4 L560.5 1174.9 L561.0 1266.0 L561.5 1175.0 L562.0 1277.3 L562.5 1177.3 L563.0 1258.4 L563.5 1176.8 L564.0 1268.9 L564.5 1182.3 L565.0 1284.2 L565.5 1175.1 L566.0 1261.0 L566.5 1178.4 L567.0 1260.9 L567.5 1181.4 L568.0 1286.6 L568.5 1187.3 L569.0 1274.4 L569.5 1179.1 L570.0 1268.4 L570.5 1190.5 L571.0 1272.8 L571.5 1183.7 L572.0 1262.3 L572.5 1185.4 L573.0 1267.4 L573.1 1180.8 L573.1 1292.9 L573.5 1184.4 L574.0 1277.4 L574.5 1187.2 L575.0 1293.3 L575.5 1190.9 L576.0 1269.7 L576.5 1189.8 L577.0 1271.0 L577.5 1191.4 L578.0 1287.1 L578.5 1198.0 L579.0 1296.1 L579.5 1198.1 L580.0 1297.2 L580.5 1207.2 L581.0 1297.5 L581.5 1205.4 L582.0 1298.3 L582.5 1205.0 L583.0 1291.2 L583.5 1215.5 L584.0 1295.6 L584.5 1208.7 L585.0 1305.8 L585.5 1208.3 L586.0 1291.8 L586.5 1212.8 L587.0 1308.6 L587.5 1221.6 L588.0 1289.7 L588.5 1221.9 L589.0 1299.9 L589.5 1218.3 L590.0 1317.5 L590.5 1220.3 L591.0 1299.5 L591.5 1220.9 L592.0 1304.8 L592.5 1230.0 L593.0 1294.5 L593.5 1219.5 L593.5 1323.5 L593.5 1221.6 L594.0 1312.6 L594.5 1233.7 L595.0 1321.1 L595.5 1229.7 L596.0 1299.1 L596.5 1227.0 L597.0 1324.7 L597.5 1240.7 L598.0 1304.5 L598.5 1232.1 L599.0 1332.3 L599.5 1236.0 L600.0 1336.6 L600.5 1237.1 L601.0 1334.3 L601.5 1241.2 L602.0 1322.8 L602.5 1247.0 L603.0 1342.4 L603.5 1243.4 L603.7 1348.0 L603.7 1242.0 L604.0 1324.4 L604.5 1253.7 L605.0 1330.6 L605.5 1245.9 L606.0 1334.8 L606.5 1251.2 L607.0 1345.6 L607.5 1248.7 L608.0 1338.4 L608.5 1253.9 L609.0 1356.6 L609.5 1263.0 L610.0 1353.7 L610.5 1259.3 L611.0 1348.1 L611.5 1261.0 L612.0 1357.4 L612.5 1261.0 L613.0 1368.3 L613.5 1262.6 L614.0 1344.6 L614.5 1263.1 L615.0 1354.0 L615.5 1263.0 L616.0 1369.8 L616.5 1275.0 L617.0 1367.5 L617.5 1277.5 L618.0 1382.7 L618.0 1268.5 L618.0 1365.4 L618.5 1271.0 L619.0 1376.9 L619.5 1266.7 L620.0 1362.0 L620.5 1272.4 L621.0 1360.4 L621.5 1267.7 L622.0 1374.4 L622.5 1270.9 L623.0 1360.9 L623.5 1275.7 L624.0 1372.6 L624.5 1281.4 L625.0 1371.4 L625.5 1273.4 L626.0 1349.9 L626.5 1277.0 L627.0 1347.4 L627.5 1270.6 L628.0 1365.5 L628.5 1271.5 L629.0 1355.9 L629.5 1270.1 L630.0 1352.4 L630.5 1283.8 L631.0 1345.7 L631.5 1269.8 L632.0 1353.4 L632.5 1273.3 L633.0 1355.9 L633.5 1270.8 L634.0 1343.6 L634.3 1266.4 L634.3 1372.5 L634.5 1270.4 L635.0 1344.6 L635.5 1275.8 L636.0 1352.9 L636.5 1270.7 L637.0 1373.1 L637.5 1276.8 L638.0 1364.9 L638.5 1278.0 L639.0 1359.9 L639.5 1281.9 L640.0 1361.5 L640.5 1277.4 L641.0 1357.0 L641.5 1279.9 L642.0 1383.5 L642.5 1279.0 L643.0 1362.1 L643.5 1289.3 L644.0 1369.2 L644.5 1285.8 L645.0 1390.6 L645.5 1283.5 L646.0 1378.9 L646.5 1291.7 L647.0 1371.0 L647.5 1288.5 L648.0 1393.8 L648.5 1299.9 L649.0 1369.9 L649.5 1291.7 L650.0 1391.8 L650.5 1293.2 L651.0 1392.4 L651.5 1291.4 L652.0 1398.9 L652.5 1297.4 L653.0 1383.0 L653.5 1294.1 L654.0 1406.8 L654.5 1303.8 L654.7 1411.2 L654.7 1295.0 L655.0 1396.1 L655.5 1299.8 L656.0 1390.4 L656.5 1296.6 L657.0 1376.9 L657.5 1299.7 L658.0 1380.5 L658.5 1302.3 L659.0 1384.8 L659.5 1307.8 L660.0 1403.0 L660.0 1297.0 L660.0 1384.0 L660.5 1298.2 L661.0 1388.7 L661.5 1295.6 L662.0 1388.6 L662.5 1289.0 L663.0 1368.8 L663.5 1284.8 L664.0 1385.1 L664.5 1282.7 L665.0 1360.4 L665.5 1279.6 L666.0 1375.8 L666.1 1270.5 L666.1 1384.7 L666.5 1272.5 L667.0 1380.3 L667.5 1286.6 L668.0 1381.8 L668.5 1278.3 L669.0 1381.8 L669.5 1282.4 L670.0 1362.1 L670.5 1276.2 L671.0 1357.5 L671.5 1278.5 L672.0 1354.9 L672.5 1277.6 L673.0 1359.8 L673.5 1282.2 L674.0 1383.4 L674.5 1281.5 L675.0 1370.6 L675.5 1289.5 L676.0 1363.3 L676.3 1278.7 L676.3 1384.7 L676.5 1282.5 L677.0 1376.5 L677.5 1287.6 L678.0 1368.5 L678.5 1282.8 L679.0 1384.3 L679.5 1295.1 L680.0 1380.9 L680.5 1289.9 L681.0 1378.8 L681.5 1293.6 L682.0 1385.5 L682.5 1294.0 L683.0 1359.8 L683.5 1297.8 L684.0 1366.3 L684.5 1289.6 L685.0 1377.5 L685.5 1293.0 L686.0 1362.7 L686.5 1299.6 L687.0 1372.0 L687.5 1289.2 L688.0 1360.7 L688.5 1287.7 L689.0 1378.9 L689.5 1288.8 L690.0 1388.6 L690.5 1292.4 L690.6 1390.8 L690.6 1284.8 L691.0 1387.4 L691.5 1292.7 L692.0 1389.9 L692.5 1288.8 L693.0 1380.4 L693.5 1297.0 L694.0 1390.6 L694.5 1295.0 L695.0 1385.4 L695.5 1297.5 L696.0 1369.7 L696.5 1298.1 L697.0 1371.8 L697.5 1300.3 L698.0 1370.0 L698.5 1293.9 L699.0 1375.2 L699.5 1300.7 L700.0 1394.1 L700.5 1303.8 L701.0 1377.6 L701.5 1296.8 L702.0 1398.1 L702.5 1297.4 L703.0 1382.0 L703.5 1306.8 L704.0 1390.3 L704.5 1310.1 L705.0 1392.3 L705.5 1311.7 L706.0 1383.5 L706.5 1313.1 L707.0 1384.8 L707.5 1313.2 L708.0 1391.9 L708.5 1307.2 L709.0 1402.1 L709.5 1310.7 L710.0 1385.9 L710.5 1322.9 L711.0 1413.2 L711.0 1309.2 L711.0 1384.4 L711.5 1313.2 L712.0 1406.6 L712.5 1314.9 L713.0 1410.2 L713.5 1310.9 L714.0 1396.4 L714.5 1323.5 L715.0 1388.5 L715.5 1315.0 L716.0 1410.8 L716.5 1311.5 L717.0 1391.1 L717.5 1319.4 L718.0 1385.0 L718.5 1312.9 L719.0 1399.2 L719.5 1318.8 L720.0 1390.7 L720.5 1320.3 L721.0 1388.7 L721.5 1324.4 L722.0 1413.4 L722.5 1318.1 L723.0 1392.7 L723.5 1323.6 L724.0 1413.0 L724.5 1313.4 L725.0 1394.5 L725.5 1314.3 L726.0 1411.7 L726.5 1315.0 L727.0 1400.7 L727.5 1313.9 L728.0 1385.2 L728.5 1318.9 L729.0 1384.3 L729.5 1309.2 L730.0 1401.5 L730.5 1312.8 L731.0 1408.3 L731.4 1309.2 L731.4 1415.3 L731.5 1308.0 L732.0 1405.0 L732.5 1307.8 L733.0 1407.6 L733.5 1310.5 L734.0 1410.6 L734.5 1312.6 L735.0 1405.8 L735.5 1310.7 L736.0 1396.4 L736.5 1307.9 L737.0 1398.8 L737.5 1307.3 L738.0 1402.5 L738.5 1311.8 L739.0 1382.3 L739.5 1315.0 L740.0 1392.0 L740.5 1303.1 L741.0 1380.8 L741.5 1310.4 L742.0 1403.8 L742.5 1313.1 L743.0 1398.9 L743.5 1308.4 L744.0 1400.5 L744.5 1307.8 L745.0 1398.0 L745.5 1313.0 L746.0 1388.4 L746.5 1315.2 L747.0 1385.4 L747.5 1307.1 L748.0 1385.7 L748.5 1303.1 L749.0 1394.2 L749.5 1308.2 L750.0 1376.2 L750.5 1309.3 L751.0 1395.1 L751.5 1308.1 L751.8 1405.1 L751.8 1297.0 L752.0 1374.2 L752.5 1301.4 L753.0 1390.8 L753.5 1308.4 L754.0 1384.3 L754.5 1302.7 L755.0 1398.5 L755.5 1301.3 L756.0 1391.4 L756.5 1310.9 L757.0 1376.2 L757.5 1308.0 L758.0 1384.4 L758.5 1299.1 L759.0 1388.1 L759.5 1298.3 L760.0 1392.4 L760.5 1297.3 L761.0 1398.8 L761.5 1297.2 L762.0 1394.9 L762.5 1301.3 L763.0 1393.5 L763.5 1296.8 L764.0 1388.3 L764.5 1303.7 L765.0 1383.8 L765.5 1305.8 L766.0 1378.5 L766.5 1299.1 L767.0 1390.5 L767.5 1302.3 L768.0 1373.1 L768.5 1302.6 L769.0 1396.0 L769.5 1299.7 L770.0 1383.5 L770.5 1296.9 L771.0 1375.5 L771.5 1303.5 L772.0 1392.7 L772.2 1295.0 L772.2 1401.0 L772.5 1307.0 L773.0 1382.9 L773.5 1301.9 L774.0 1384.4 L774.5 1301.1 L775.0 1375.8 L775.5 1297.9 L776.0 1387.9 L776.5 1298.2 L777.0 1374.9 L777.5 1299.5 L778.0 1378.5 L778.5 1308.0 L779.0 1394.4 L779.5 1299.6 L780.0 1373.1 L780.5 1300.2 L781.0 1380.7 L781.5 1303.2 L782.0 1398.6 L782.5 1299.3 L783.0 1392.2 L783.5 1301.2 L784.0 1388.5 L784.5 1296.6 L785.0 1396.4 L785.5 1298.9 L786.0 1395.0 L786.5 1301.8 L787.0 1379.1 L787.5 1297.8 L788.0 1394.3 L788.5 1297.4 L789.0 1387.0 L789.5 1302.3 L790.0 1373.8 L790.5 1300.0 L791.0 1379.9 L791.5 1301.0 L792.0 1379.3 L792.5 1295.0 L792.5 1399.0 L792.5 1306.0 L793.0 1399.0 L793.5 1298.5 L794.0 1377.8 L794.5 1299.9 L795.0 1387.2 L795.5 1305.3 L796.0 1398.5 L796.5 1305.1 L797.0 1396.6 L797.5 1301.3 L798.0 1390.7 L798.5 1299.5 L799.0 1375.5 L799.5 1299.3 L800.0 1392.4 L800.5 1307.5 L801.0 1394.4 L801.5 1297.6 L802.0 1383.0 L802.5 1299.1 L803.0 1380.5 L803.5 1295.9 L804.0 1373.5 L804.5 1301.2 L805.0 1367.5 L805.5 1301.4 L806.0 1385.6 L806.5 1297.4 L807.0 1377.7 L807.5 1293.2 L808.0 1390.0 L808.5 1294.7 L809.0 1396.0 L809.5 1302.9 L810.0 1379.1 L810.5 1295.0 L811.0 1395.8 L811.5 1300.7 L812.0 1371.7 L812.5 1302.5 L812.9 1396.9 L812.9 1290.9 L813.0 1390.9 L813.5 1297.9 L814.0 1388.1 L814.5 1302.1 L815.0 1370.5 L815.5 1304.7 L816.0 1373.2 L816.5 1299.0 L817.0 1375.7 L817.5 1297.8 L818.0 1384.6 L818.5 1291.1 L819.0 1378.4 L819.5 1298.7 L820.0 1366.2 L820.5 1298.8 L821.0 1368.8 L821.5 1293.6 L822.0 1374.3 L822.5 1303.2 L823.0 1372.8 L823.5 1304.4 L824.0 1381.6 L824.5 1303.6 L825.0 1381.3 L825.5 1293.4 L826.0 1371.4 L826.5 1297.4 L827.0 1375.7 L827.5 1293.6 L828.0 1377.0 L828.5 1291.3 L829.0 1371.9 L829.5 1290.3 L830.0 1376.0 L830.5 1290.9 L831.0 1372.3 L831.5 1291.5 L832.0 1381.0 L832.5 1293.7 L833.0 1381.4 L833.3 1288.9 L833.3 1392.9 L833.5 1291.3 L834.0 1371.8 L834.5 1292.9 L835.0 1369.0 L835.5 1297.2 L836.0 1382.0 L836.5 1299.9 L837.0 1378.2 L837.5 1304.1 L838.0 1373.7 L838.5 1297.9 L839.0 1378.4 L839.5 1294.4 L840.0 1377.7 L840.5 1294.3 L841.0 1379.2 L841.5 1298.7 L842.0 1378.9 L842.5 1295.9 L843.0 1378.1 L843.5 1293.9 L844.0 1374.5 L844.5 1300.3 L845.0 1384.1 L845.5 1293.2 L846.0 1394.0 L846.5 1291.9 L847.0 1391.1 L847.5 1291.2 L848.0 1375.0 L848.5 1302.2 L849.0 1367.4 L849.5 1292.4 L850.0 1376.7 L850.5 1289.4 L851.0 1375.7 L851.5 1290.3 L852.0 1373.6 L852.5 1292.2 L853.0 1373.4 L853.5 1290.6 L853.7 1394.9 L853.7 1286.8 L854.0 1392.9 L854.5 1298.3 L855.0 1382.8 L855.5 1301.6 L856.0 1393.2 L856.5 1291.4 L857.0 1395.9 L857.5 1291.4 L858.0 1382.4 L858.5 1290.9 L859.0 1383.5 L859.5 1298.4 L860.0 1383.1 L860.5 1294.7 L861.0 1391.1 L861.5 1293.3 L862.0 1369.1 L862.5 1294.3 L863.0 1375.3 L863.5 1290.6 L864.0 1363.5 L864.5 1286.3 L865.0 1363.3 L865.5 1285.9 L866.0 1361.0 L866.5 1287.4 L867.0 1364.6 L867.5 1291.8 L868.0 1365.2 L868.5 1288.6 L869.0 1380.1 L869.5 1295.1 L870.0 1390.8 L870.0 1282.7 L870.0 1383.1 L870.5 1292.5 L871.0 1380.7 L871.5 1284.1 L872.0 1376.3 L872.5 1292.6 L873.0 1365.5 L873.5 1287.2 L874.0 1371.8 L874.5 1293.4 L875.0 1370.4 L875.5 1295.7 L876.0 1380.5 L876.5 1295.4 L877.0 1379.5 L877.5 1289.9 L878.0 1389.5 L878.5 1296.1 L879.0 1372.4 L879.5 1294.7 L880.0 1386.6 L880.5 1287.4 L881.0 1382.0 L881.5 1288.7 L882.0 1366.8 L882.5 1287.2 L883.0 1377.3 L883.5 1288.7 L884.0 1384.5 L884.5 1297.3 L885.0 1381.7 L885.5 1290.2 L886.0 1371.1 L886.5 1295.9 L887.0 1377.3 L887.5 1295.7 L888.0 1386.4 L888.5 1289.8 L889.0 1365.1 L889.5 1295.6 L890.0 1384.4 L890.5 1294.0 L891.0 1377.3 L891.5 1291.5 L892.0 1362.4 L892.5 1290.4 L893.0 1364.9 L893.5 1289.3 L894.0 1373.8 L894.5 1286.8 L894.5 1384.7 L894.5 1292.0 L895.0 1359.2 L895.5 1287.3 L896.0 1370.3 L896.5 1293.7 L897.0 1371.9 L897.5 1288.4 L898.0 1368.1 L898.5 1286.0 L899.0 1366.7 L899.5 1289.4 L900.0 1356.7 L900.5 1286.1 L901.0 1373.9 L901.5 1290.7 L902.0 1370.5 L902.5 1293.7 L903.0 1372.4 L903.5 1284.2 L904.0 1358.0 L904.5 1285.0 L905.0 1371.6 L905.5 1288.4 L906.0 1363.9 L906.5 1285.5 L907.0 1357.6 L907.5 1283.9 L908.0 1368.5 L908.5 1288.9 L909.0 1363.1 L909.5 1285.1 L910.0 1363.7 L910.5 1283.1 L911.0 1354.2 L911.5 1279.4 L912.0 1364.5 L912.5 1280.7 L913.0 1366.4 L913.5 1284.0 L914.0 1367.6 L914.5 1282.2 L914.9 1378.6 L914.9 1276.6 L915.0 1360.8 L915.5 1279.0 L916.0 1367.2 L916.5 1283.1 L917.0 1359.9 L917.5 1276.5 L918.0 1377.3 L918.5 1282.1 L919.0 1350.4 L919.5 1278.2 L920.0 1366.2 L920.2 1274.6 L920.2 1380.6 L920.5 1277.0 L921.0 1372.0 L921.5 1283.6 L922.0 1368.8 L922.5 1275.8 L923.0 1374.0 L923.5 1277.0 L924.0 1372.1 L924.5 1288.4 L925.0 1349.4 L925.5 1275.0 L926.0 1360.3 L926.5 1284.7 L927.0 1358.7 L927.5 1283.6 L928.0 1366.3 L928.5 1281.7 L929.0 1368.6 L929.5 1281.6 L930.0 1346.5 L930.5 1273.8 L931.0 1353.5 L931.5 1273.1 L932.0 1367.9 L932.5 1284.6 L933.0 1344.9 L933.5 1274.9 L934.0 1348.2 L934.5 1276.0 L935.0 1358.8 L935.5 1273.8 L936.0 1355.8 L936.5 1268.5 L936.5 1368.4 L936.5 1278.7 L937.0 1355.9 L937.5 1271.5 L938.0 1340.4 L938.5 1273.4 L939.0 1362.5 L939.5 1272.3 L940.0 1361.3 L940.5 1276.0 L941.0 1346.9 L941.5 1269.5 L942.0 1358.9 L942.5 1266.6 L943.0 1343.9 L943.5 1270.3 L944.0 1357.7 L944.5 1268.4 L945.0 1335.3 L945.5 1271.1 L946.0 1350.8 L946.5 1276.6 L947.0 1348.8 L947.5 1266.0 L948.0 1345.0 L948.5 1266.8 L949.0 1353.6 L949.5 1273.8 L950.0 1343.0 L950.5 1266.4 L951.0 1332.4 L951.5 1265.4 L952.0 1330.2 L952.5 1263.6 L953.0 1338.9 L953.5 1264.3 L954.0 1335.4 L954.5 1271.5 L955.0 1344.1 L955.5 1273.4 L956.0 1333.9 L956.5 1268.8 L957.0 1327.4 L957.5 1270.1 L958.0 1330.8 L958.5 1270.4 L959.0 1341.4 L959.5 1263.4 L960.0 1331.1 L960.5 1263.0 L961.0 1348.0 L961.0 1262.3 L961.0 1326.5 L961.5 1266.5 L962.0 1335.2 L962.5 1267.0 L963.0 1328.0 L963.5 1262.1 L964.0 1337.5 L964.5 1264.3 L965.0 1334.5 L965.5 1265.3 L966.0 1341.7 L966.5 1267.3 L967.0 1337.1 L967.5 1263.9 L968.0 1331.3 L968.5 1261.0 L969.0 1343.6 L969.5 1266.8 L970.0 1337.5 L970.5 1269.7 L971.0 1327.7 L971.5 1264.5 L972.0 1340.6 L972.5 1269.4 L973.0 1332.8 L973.5 1262.4 L974.0 1330.1 L974.5 1265.5 L975.0 1344.8 L975.5 1264.1 L976.0 1337.7 L976.5 1265.8 L977.0 1344.4 L977.5 1264.6 L978.0 1328.0 L978.5 1260.6 L979.0 1325.9 L979.5 1260.5 L980.0 1323.2 L980.5 1267.8 L981.0 1333.9 L981.4 1258.3 L981.4 1343.9 L981.5 1261.5 L982.0 1339.6 L982.5 1263.7 L983.0 1323.4 L983.5 1268.0 L984.0 1327.0 L984.5 1259.9 L985.0 1326.3 L985.5 1264.3 L986.0 1327.8 L986.5 1254.7 L987.0 1329.0 L987.5 1258.4 L988.0 1328.9 L988.5 1251.8 L989.0 1321.7 L989.5 1256.3 L990.0 1326.7 L990.5 1256.5 L991.0 1321.9 L991.5 1255.2 L992.0 1326.3 L992.5 1248.7 L993.0 1319.8 L993.5 1248.5 L994.0 1325.5 L994.5 1244.0 L995.0 1312.0 L995.5 1246.2 L996.0 1316.5 L996.5 1243.2 L997.0 1308.8 L997.5 1244.7 L997.7 1323.5 L997.7 1239.9 L998.0 1317.6 L998.5 1244.3 L999.0 1316.7 L999.5 1249.1 L1000.0 1308.1 L1000.5 1241.1 L1001.0 1322.7 L1001.5 1245.2 L1002.0 1323.7 L1002.5 1245.8 L1003.0 1320.1 L1003.5 1244.0 L1004.0 1322.0 L1004.5 1241.0 L1005.0 1304.9 L1005.5 1242.2 L1006.0 1322.8 L1006.5 1241.5 L1007.0 1316.5 L1007.5 1245.4 L1008.0 1319.1 L1008.5 1245.8 L1009.0 1314.9 L1009.5 1242.3 L1010.0 1313.5 L1010.5 1236.0 L1011.0 1322.4 L1011.5 1245.6 L1012.0 1313.5 L1012.5 1247.9 L1013.0 1306.8 L1013.5 1238.0 L1014.0 1317.7 L1014.5 1242.8 L1015.0 1332.2 L1015.5 1244.3 L1016.0 1333.7 L1016.0 1233.8 L1016.0 1331.6 L1016.5 1251.6 L1017.0 1313.0 L1017.5 1238.7 L1018.0 1319.6 L1018.5 1239.1 L1019.0 1320.0 L1019.5 1235.2 L1020.0 1333.4 L1020.5 1234.7 L1021.0 1315.7 L1021.5 1246.3 L1022.0 1312.9 L1022.5 1239.2 L1023.0 1332.7 L1023.5 1238.8 L1024.0 1313.8 L1024.5 1236.2 L1025.0 1334.2 L1025.5 1236.8 L1026.0 1314.9 L1026.5 1248.0 L1027.0 1320.1 L1027.5 1239.0 L1028.0 1322.4 L1028.5 1245.7 L1029.0 1322.7 L1029.5 1243.9 L1030.0 1324.4 L1030.5 1241.4 L1031.0 1316.2 L1031.5 1244.4 L1032.0 1318.2 L1032.3 1235.8 L1032.3 1343.9 L1032.5 1237.9 L1033.0 1328.2 L1033.5 1245.1 L1034.0 1337.1 L1034.5 1237.5 L1035.0 1329.9 L1035.5 1238.7 L1036.0 1323.0 L1036.5 1239.3 L1037.0 1331.3 L1037.5 1239.0 L1038.0 1324.9 L1038.5 1243.1 L1039.0 1332.4 L1039.5 1244.1 L1040.0 1333.3 L1040.5 1250.1 L1041.0 1326.2 L1041.5 1241.2 L1042.0 1314.9 L1042.5 1243.3 L1043.0 1316.5 L1043.5 1243.6 L1044.0 1337.7 L1044.5 1243.2 L1045.0 1326.9 L1045.5 1250.5 L1046.0 1328.1 L1046.5 1244.5 L1047.0 1319.7 L1047.5 1252.7 L1048.0 1336.4 L1048.5 1243.8 L1049.0 1317.9 L1049.5 1244.1 L1050.0 1310.2 L1050.5 1240.9 L1051.0 1312.5 L1051.5 1242.5 L1052.0 1312.0 L1052.5 1248.2 L1052.7 1339.8 L1052.7 1242.0 L1053.0 1321.5 L1053.5 1251.9 L1054.0 1320.9 L1054.5 1248.0 L1055.0 1327.2 L1055.5 1254.9 L1056.0 1320.3 L1056.5 1252.5 L1057.0 1319.5 L1057.5 1244.6 L1058.0 1325.9 L1058.5 1245.8 L1059.0 1320.8 L1059.5 1256.4 L1060.0 1323.9 L1060.5 1250.4 L1061.0 1327.4 L1061.5 1246.4 L1062.0 1341.8 L1062.5 1252.6 L1063.0 1341.3 L1063.5 1248.0 L1064.0 1331.7 L1064.5 1240.3 L1065.0 1333.8 L1065.5 1244.3 L1066.0 1330.2 L1066.5 1239.1 L1067.0 1339.9 L1067.5 1239.2 L1068.0 1326.0 L1068.5 1248.1 L1069.0 1331.8 L1069.5 1238.5 L1070.0 1333.7 L1070.5 1247.2 L1071.0 1330.8 L1071.5 1243.6 L1072.0 1320.6 L1072.5 1247.6 L1073.0 1333.0 L1073.5 1247.5 L1074.0 1341.5 L1074.5 1238.7 L1075.0 1337.6 L1075.5 1236.5 L1076.0 1319.6 L1076.5 1240.8 L1077.0 1325.1 L1077.5 1249.5 L1078.0 1331.5 L1078.5 1240.6 L1079.0 1338.6 L1079.5 1246.4 L1080.0 1324.2 L1080.5 1242.1 L1081.0 1328.4 L1081.5 1236.3 L1082.0 1342.2 L1082.5 1234.0 L1083.0 1314.7 L1083.3 1233.8 L1083.3 1348.0 L1083.5 1241.8 L1084.0 1326.3 L1084.5 1238.1 L1085.0 1330.6 L1085.5 1236.2 L1086.0 1330.8 L1086.5 1235.0 L1087.0 1345.2 L1087.5 1235.6 L1088.0 1329.1 L1088.5 1238.4 L1089.0 1326.2 L1089.5 1236.2 L1090.0 1337.3 L1090.5 1246.5 L1091.0 1321.9 L1091.5 1239.8 L1092.0 1325.8 L1092.5 1234.9 L1093.0 1317.9 L1093.5 1237.0 L1094.0 1342.7 L1094.5 1234.9 L1095.0 1327.3 L1095.5 1243.8 L1096.0 1319.2 L1096.5 1236.0 L1097.0 1328.3 L1097.5 1236.3 L1098.0 1340.6 L1098.5 1231.4 L1099.0 1328.3 L1099.5 1231.3 L1100.0 1321.3 L1100.5 1243.9 L1101.0 1334.8 L1101.5 1235.3 L1102.0 1316.1 L1102.5 1234.6 L1103.0 1338.8 L1103.5 1244.0 L1103.7 1343.9 L1103.7 1229.7 L1104.0 1335.8 L1104.5 1231.1 L1105.0 1324.5 L1105.5 1241.0 L1106.0 1318.3 L1106.5 1241.2 L1107.0 1321.5 L1107.5 1233.9 L1108.0 1323.7 L1108.5 1232.8 L1109.0 1314.2 L1109.5 1232.7 L1110.0 1311.9 L1110.5 1229.0 L1111.0 1339.3 L1111.5 1231.4 L1112.0 1339.2 L1112.5 1232.1 L1113.0 1334.6 L1113.5 1227.7 L1114.0 1329.2 L1114.5 1227.2 L1115.0 1325.6 L1115.5 1226.5 L1116.0 1326.6 L1116.5 1228.6 L1117.0 1310.8 L1117.5 1238.4 L1118.0 1329.2 L1118.5 1229.1 L1119.0 1332.3 L1119.5 1236.5 L1120.0 1315.4 L1120.5 1229.4 L1121.0 1332.0 L1121.5 1225.3 L1122.0 1311.3 L1122.5 1228.3 L1123.0 1331.3 L1123.5 1221.9 L1124.0 1305.8 L1124.1 1221.6 L1124.1 1339.8 L1124.5 1222.1 L1125.0 1324.3 L1125.5 1222.2 L1126.0 1312.3 L1126.5 1228.0 L1127.0 1318.3 L1127.5 1231.0 L1128.0 1322.8 L1128.5 1230.5 L1129.0 1317.8 L1129.5 1224.2 L1130.0 1314.6 L1130.5 1232.1 L1131.0 1304.2 L1131.5 1224.0 L1132.0 1322.5 L1132.5 1218.8 L1133.0 1305.4 L1133.5 1220.7 L1134.0 1305.3 L1134.5 1221.1 L1135.0 1318.6 L1135.5 1221.6 L1136.0 1307.5 L1136.5 1216.1 L1137.0 1302.7 L1137.5 1216.4 L1138.0 1318.7 L1138.5 1221.9 L1139.0 1315.2 L1139.5 1215.3 L1140.0 1318.4 L1140.5 1212.9 L1141.0 1324.0 L1141.5 1206.5 L1142.0 1302.6 L1142.5 1205.3 L1142.5 1327.6 L1142.5 1211.7 L1143.0 1316.2 L1143.5 1203.9 L1144.0 1321.6 L1144.5 1209.4 L1145.0 1311.1 L1145.5 1203.1 L1146.0 1288.9 L1146.5 1211.7 L1147.0 1305.9 L1147.5 1206.9 L1148.0 1292.2 L1148.5 1206.0 L1149.0 1316.2 L1149.5 1206.0 L1150.0 1306.7 L1150.5 1210.8 L1151.0 1317.9 L1151.5 1206.4 L1152.0 1305.0 L1152.5 1205.3 L1153.0 1307.4 L1153.5 1210.9 L1154.0 1303.3" stroke="#0000ff" stroke-width="1.0" fill="none" shape-rendering="crispEdges"/>
<path d="M166.0 1281.8 L167.0 1260.4 L168.0 1325.5 L169.0 1245.1 L170.0 1299.8 L171.0 1230.2 L172.0 1306.2 L173.0 1241.4 L174.0 1299.0 L175.0 1225.6 L176.0 1312.5 L177.0 1224.9 L178.0 1296.4 L179.0 1241.6 L180.0 1313.8 L181.0 1236.2 L182.0 1292.3 L183.0 1222.5" stroke="#00ff00" stroke-width="1" fill="none" shape-rendering="crispEdges"/>
<rect x="165.6" y="1142.5" width="989.0" height="310.0" fill="none" stroke="#1a1a1a" stroke-width="1.2"/>
<text x="156.8" y="1157.4" text-anchor="end" font-family="Liberation Sans" font-size="23.6" textLength="25.3" lengthAdjust="spacingAndGlyphs" fill="#222">10</text>
<text x="156.8" y="1233.1" text-anchor="end" font-family="Liberation Sans" font-size="23.6" textLength="12.7" lengthAdjust="spacingAndGlyphs" fill="#222">0</text>
<text x="156.8" y="1308.8" text-anchor="end" font-family="Liberation Sans" font-size="23.6" textLength="32.5" lengthAdjust="spacingAndGlyphs" fill="#222">-10</text>
<text x="156.8" y="1384.6" text-anchor="end" font-family="Liberation Sans" font-size="23.6" textLength="32.5" lengthAdjust="spacingAndGlyphs" fill="#222">-20</text>
<text x="156.8" y="1460.3" text-anchor="end" font-family="Liberation Sans" font-size="23.6" textLength="32.5" lengthAdjust="spacingAndGlyphs" fill="#222">-30</text>
<text transform="translate(72.0 1297.5) rotate(-90)" x="0" y="0" text-anchor="middle" font-family="Liberation Sans" font-weight="bold" font-size="19.6" textLength="174.4" lengthAdjust="spacingAndGlyphs" fill="#222">Measured-Model</text>
<text transform="translate(98.1 1297.5) rotate(-90)" x="0" y="0" text-anchor="middle" font-family="Liberation Sans" font-weight="bold" font-size="19.6" textLength="77.2" lengthAdjust="spacingAndGlyphs" fill="#222">|B| (nT)</text>
<text transform="translate(1175.6 1366.2) rotate(-90)" text-anchor="start" font-family="Liberation Sans" font-weight="bold" font-size="17.6" textLength="91.5" lengthAdjust="spacingAndGlyphs" fill="#111">Inboard B</text>
<text transform="translate(1195.8 1366.7) rotate(-90)" text-anchor="start" font-family="Liberation Sans" font-weight="bold" font-size="17.6" textLength="107.5" lengthAdjust="spacingAndGlyphs" fill="#111">Outboard B</text>
<path d="M1171.5 1392.0V1409.0" stroke="#0000ff" stroke-width="2"/>
<path d="M1191 1392.0V1409.0" stroke="#00ff00" stroke-width="2"/>
<text x="24.3" y="1484.4" font-family="Liberation Sans" font-weight="bold" font-size="17.3" textLength="51.3" lengthAdjust="spacingAndGlyphs" fill="#111">Time:</text>
<text x="165.6" y="1484.4" text-anchor="middle" font-family="Liberation Sans" font-weight="bold" font-size="17.3" textLength="81.1" lengthAdjust="spacingAndGlyphs" fill="#111">00:50:15</text>
<text x="412.8" y="1484.4" text-anchor="middle" font-family="Liberation Sans" font-weight="bold" font-size="17.3" textLength="81.1" lengthAdjust="spacingAndGlyphs" fill="#111">01:05:04</text>
<text x="660.1" y="1484.4" text-anchor="middle" font-family="Liberation Sans" font-weight="bold" font-size="17.3" textLength="81.1" lengthAdjust="spacingAndGlyphs" fill="#111">01:19:52</text>
<text x="907.3" y="1484.4" text-anchor="middle" font-family="Liberation Sans" font-weight="bold" font-size="17.3" textLength="81.1" lengthAdjust="spacingAndGlyphs" fill="#111">01:34:40</text>
<text x="1154.6" y="1484.4" text-anchor="middle" font-family="Liberation Sans" font-weight="bold" font-size="17.3" textLength="81.1" lengthAdjust="spacingAndGlyphs" fill="#111">01:49:29</text>
<text x="24.3" y="1508.9" font-family="Liberation Sans" font-weight="bold" font-size="17.3" textLength="84.5" lengthAdjust="spacingAndGlyphs" fill="#111">Rad(km):</text>
<text x="165.6" y="1508.9" text-anchor="middle" font-family="Liberation Sans" font-weight="bold" font-size="17.3" textLength="62.9" lengthAdjust="spacingAndGlyphs" fill="#111">7285.4</text>
<text x="412.8" y="1508.9" text-anchor="middle" font-family="Liberation Sans" font-weight="bold" font-size="17.3" textLength="62.9" lengthAdjust="spacingAndGlyphs" fill="#111">7593.5</text>
<text x="660.1" y="1508.9" text-anchor="middle" font-family="Liberation Sans" font-weight="bold" font-size="17.3" textLength="62.9" lengthAdjust="spacingAndGlyphs" fill="#111">7596.0</text>
<text x="907.3" y="1508.9" text-anchor="middle" font-family="Liberation Sans" font-weight="bold" font-size="17.3" textLength="62.9" lengthAdjust="spacingAndGlyphs" fill="#111">7292.3</text>
<text x="1154.6" y="1508.9" text-anchor="middle" font-family="Liberation Sans" font-weight="bold" font-size="17.3" textLength="62.9" lengthAdjust="spacingAndGlyphs" fill="#111">6881.2</text>
<text x="24.3" y="1533.4" font-family="Liberation Sans" font-weight="bold" font-size="17.3" textLength="35.7" lengthAdjust="spacingAndGlyphs" fill="#111">Lat:</text>
<text x="165.6" y="1533.4" text-anchor="middle" font-family="Liberation Sans" font-weight="bold" font-size="17.3" textLength="40.2" lengthAdjust="spacingAndGlyphs" fill="#111">10.3</text>
<text x="412.8" y="1533.4" text-anchor="middle" font-family="Liberation Sans" font-weight="bold" font-size="17.3" textLength="40.2" lengthAdjust="spacingAndGlyphs" fill="#111">58.1</text>
<text x="660.1" y="1533.4" text-anchor="middle" font-family="Liberation Sans" font-weight="bold" font-size="17.3" textLength="40.2" lengthAdjust="spacingAndGlyphs" fill="#111">71.7</text>
<text x="907.3" y="1533.4" text-anchor="middle" font-family="Liberation Sans" font-weight="bold" font-size="17.3" textLength="40.2" lengthAdjust="spacingAndGlyphs" fill="#111">24.9</text>
<text x="1154.6" y="1533.4" text-anchor="middle" font-family="Liberation Sans" font-weight="bold" font-size="17.3" textLength="47.0" lengthAdjust="spacingAndGlyphs" fill="#111">-28.5</text>
<text x="24.3" y="1557.9" font-family="Liberation Sans" font-weight="bold" font-size="17.3" textLength="39.7" lengthAdjust="spacingAndGlyphs" fill="#111">Lon:</text>
<text x="165.6" y="1557.9" text-anchor="middle" font-family="Liberation Sans" font-weight="bold" font-size="17.3" textLength="28.9" lengthAdjust="spacingAndGlyphs" fill="#111">9.8</text>
<text x="412.8" y="1557.9" text-anchor="middle" font-family="Liberation Sans" font-weight="bold" font-size="17.3" textLength="40.2" lengthAdjust="spacingAndGlyphs" fill="#111">19.2</text>
<text x="660.1" y="1557.9" text-anchor="middle" font-family="Liberation Sans" font-weight="bold" font-size="17.3" textLength="51.6" lengthAdjust="spacingAndGlyphs" fill="#111">151.9</text>
<text x="907.3" y="1557.9" text-anchor="middle" font-family="Liberation Sans" font-weight="bold" font-size="17.3" textLength="51.6" lengthAdjust="spacingAndGlyphs" fill="#111">172.7</text>
<text x="1154.6" y="1557.9" text-anchor="middle" font-family="Liberation Sans" font-weight="bold" font-size="17.3" textLength="51.6" lengthAdjust="spacingAndGlyphs" fill="#111">178.2</text>
<text x="24.3" y="1582.4" font-family="Liberation Sans" font-weight="bold" font-size="17.3" textLength="47.1" lengthAdjust="spacingAndGlyphs" fill="#111">Mlat:</text>
<text x="165.6" y="1582.4" text-anchor="middle" font-family="Liberation Sans" font-weight="bold" font-size="17.3" textLength="40.2" lengthAdjust="spacingAndGlyphs" fill="#111">11.4</text>
<text x="412.8" y="1582.4" text-anchor="middle" font-family="Liberation Sans" font-weight="bold" font-size="17.3" textLength="40.2" lengthAdjust="spacingAndGlyphs" fill="#111">56.6</text>
<text x="660.1" y="1582.4" text-anchor="middle" font-family="Liberation Sans" font-weight="bold" font-size="17.3" textLength="40.2" lengthAdjust="spacingAndGlyphs" fill="#111">64.2</text>
<text x="907.3" y="1582.4" text-anchor="middle" font-family="Liberation Sans" font-weight="bold" font-size="17.3" textLength="40.2" lengthAdjust="spacingAndGlyphs" fill="#111">20.8</text>
<text x="1154.6" y="1582.4" text-anchor="middle" font-family="Liberation Sans" font-weight="bold" font-size="17.3" textLength="47.0" lengthAdjust="spacingAndGlyphs" fill="#111">-31.2</text>
<text x="24.3" y="1606.9" font-family="Liberation Sans" font-weight="bold" font-size="17.3" textLength="36.1" lengthAdjust="spacingAndGlyphs" fill="#111">Mlt:</text>
<text x="165.6" y="1606.9" text-anchor="middle" font-family="Liberation Sans" font-weight="bold" font-size="17.3" textLength="51.6" lengthAdjust="spacingAndGlyphs" fill="#111">1.747</text>
<text x="412.8" y="1606.9" text-anchor="middle" font-family="Liberation Sans" font-weight="bold" font-size="17.3" textLength="51.6" lengthAdjust="spacingAndGlyphs" fill="#111">3.460</text>
<text x="660.1" y="1606.9" text-anchor="middle" font-family="Liberation Sans" font-weight="bold" font-size="17.3" textLength="62.9" lengthAdjust="spacingAndGlyphs" fill="#111">10.630</text>
<text x="907.3" y="1606.9" text-anchor="middle" font-family="Liberation Sans" font-weight="bold" font-size="17.3" textLength="62.9" lengthAdjust="spacingAndGlyphs" fill="#111">12.961</text>
<text x="1154.6" y="1606.9" text-anchor="middle" font-family="Liberation Sans" font-weight="bold" font-size="17.3" textLength="62.9" lengthAdjust="spacingAndGlyphs" fill="#111">14.143</text>
<text x="1.2" y="1643.8" font-family="Liberation Sans" font-weight="bold" font-size="17.3" textLength="1252.5" lengthAdjust="spacingAndGlyphs" fill="#111">Residual of MGF_20200701_005015_014928_v2.1.0.lv2 on 18-Jun-2024 21:54:58 (calibration cas_mgf_7day_cal_2020_06_26_v2.1.mat )</text>
</svg></body></html>
